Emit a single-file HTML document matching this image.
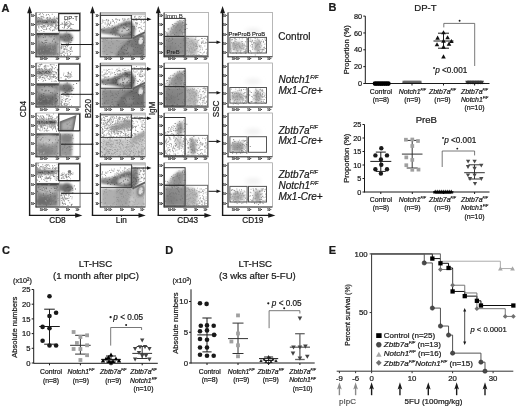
<!DOCTYPE html>
<html><head><meta charset="utf-8"><style>
html,body{margin:0;padding:0;background:#fff;}
body{width:520px;height:407px;overflow:hidden;}
svg{display:block;font-family:"Liberation Sans",sans-serif;will-change:transform;filter:blur(0.3px);}
text{stroke:#1a1a1a;stroke-width:0.22px;}
</style></head><body>
<svg width="520" height="407" viewBox="0 0 520 407">
<rect width="520" height="407" fill="#fff"/>
<defs>
<filter id="b0_5" x="-50%" y="-50%" width="200%" height="200%"><feGaussianBlur stdDeviation="0.5"/></filter>
<filter id="b0_6" x="-50%" y="-50%" width="200%" height="200%"><feGaussianBlur stdDeviation="0.6"/></filter>
<filter id="b0_7" x="-50%" y="-50%" width="200%" height="200%"><feGaussianBlur stdDeviation="0.7"/></filter>
<filter id="b0_8" x="-50%" y="-50%" width="200%" height="200%"><feGaussianBlur stdDeviation="0.8"/></filter>
<filter id="b0_9" x="-50%" y="-50%" width="200%" height="200%"><feGaussianBlur stdDeviation="0.9"/></filter>
<filter id="b1_0" x="-50%" y="-50%" width="200%" height="200%"><feGaussianBlur stdDeviation="1.0"/></filter>
<filter id="b1_1" x="-50%" y="-50%" width="200%" height="200%"><feGaussianBlur stdDeviation="1.1"/></filter>
<filter id="b1_2" x="-50%" y="-50%" width="200%" height="200%"><feGaussianBlur stdDeviation="1.2"/></filter>
<filter id="b1_3" x="-50%" y="-50%" width="200%" height="200%"><feGaussianBlur stdDeviation="1.3"/></filter>
<filter id="b1_4" x="-50%" y="-50%" width="200%" height="200%"><feGaussianBlur stdDeviation="1.4"/></filter>
<filter id="b1_5" x="-50%" y="-50%" width="200%" height="200%"><feGaussianBlur stdDeviation="1.5"/></filter>
<filter id="b1_6" x="-50%" y="-50%" width="200%" height="200%"><feGaussianBlur stdDeviation="1.6"/></filter>
<filter id="b1_8" x="-50%" y="-50%" width="200%" height="200%"><feGaussianBlur stdDeviation="1.8"/></filter>
<filter id="b2_0" x="-50%" y="-50%" width="200%" height="200%"><feGaussianBlur stdDeviation="2.0"/></filter>
<filter id="dsoft" x="-10%" y="-10%" width="120%" height="120%"><feGaussianBlur stdDeviation="0.28"/></filter>
<clipPath id="c00"><rect x="36.0" y="12.6" width="44.5" height="44.199999999999996"/></clipPath>
<clipPath id="c01"><rect x="100.3" y="12.6" width="45.000000000000014" height="44.199999999999996"/></clipPath>
<clipPath id="c02"><rect x="164.1" y="12.6" width="44.400000000000006" height="44.199999999999996"/></clipPath>
<clipPath id="c03"><rect x="228.0" y="12.6" width="44.39999999999998" height="44.199999999999996"/></clipPath>
<clipPath id="c10"><rect x="36.0" y="63.0" width="44.5" height="44.0"/></clipPath>
<clipPath id="c11"><rect x="100.3" y="63.0" width="45.000000000000014" height="44.0"/></clipPath>
<clipPath id="c12"><rect x="164.1" y="63.0" width="44.400000000000006" height="44.0"/></clipPath>
<clipPath id="c13"><rect x="228.0" y="63.0" width="44.39999999999998" height="44.0"/></clipPath>
<clipPath id="c20"><rect x="36.0" y="113.0" width="44.5" height="43.80000000000001"/></clipPath>
<clipPath id="c21"><rect x="100.3" y="113.0" width="45.000000000000014" height="43.80000000000001"/></clipPath>
<clipPath id="c22"><rect x="164.1" y="113.0" width="44.400000000000006" height="43.80000000000001"/></clipPath>
<clipPath id="c23"><rect x="228.0" y="113.0" width="44.39999999999998" height="43.80000000000001"/></clipPath>
<clipPath id="c30"><rect x="36.0" y="162.8" width="44.5" height="44.19999999999999"/></clipPath>
<clipPath id="c31"><rect x="100.3" y="162.8" width="45.000000000000014" height="44.19999999999999"/></clipPath>
<clipPath id="c32"><rect x="164.1" y="162.8" width="44.400000000000006" height="44.19999999999999"/></clipPath>
<clipPath id="c33"><rect x="228.0" y="162.8" width="44.39999999999998" height="44.19999999999999"/></clipPath>
</defs>
<g clip-path="url(#c00)"><g transform="translate(0 0.00)">
<polygon points="37.00,19.80 55.50,20.00 57.50,21.80 55.50,23.80 37.00,24.00" fill="rgb(110,110,110)" opacity="1.0" filter="url(#b0_8)"/>
<polygon points="37.00,20.50 54.50,20.70 56.50,21.80 54.50,23.10 37.00,23.30" fill="rgb(85,85,85)" opacity="0.9" filter="url(#b0_6)"/>
<polygon points="36.50,34.00 58.50,34.00 59.20,45.00 58.50,56.00 36.50,56.00" fill="rgb(132,132,132)" opacity="1.0" filter="url(#b0_9)"/>
<ellipse cx="47.50" cy="40.00" rx="10.00" ry="4.20" fill="rgb(187,187,187)" opacity="1.0" filter="url(#b1_5)"/>
<ellipse cx="44.00" cy="51.00" rx="9.00" ry="4.20" fill="rgb(107,107,107)" opacity="0.9" filter="url(#b2_0)"/>
<polygon points="36.50,32.90 59.00,32.90 59.00,35.30 36.50,35.30" fill="rgb(70,70,70)" opacity="1.0" filter="url(#b0_5)"/>
<polygon points="57.50,40.00 60.50,40.00 60.50,56.00 57.50,56.00" fill="rgb(185,185,185)" opacity="1.0" filter="url(#b0_8)"/>
<polygon points="58.00,34.00 62.00,33.00 63.00,40.00 58.50,41.00" fill="rgb(130,130,130)" opacity="1.0" filter="url(#b0_8)"/>
<ellipse cx="66.80" cy="37.80" rx="6.20" ry="5.00" fill="rgb(118,118,118)" opacity="1.0" filter="url(#b1_1)"/>
<g filter="url(#dsoft)">
<path fill="rgb(140,140,140)" d="M46.5 23.1h0.9v0.9h-0.9zM56.8 21.4h0.9v0.9h-0.9zM47.7 23.6h0.9v0.9h-0.9zM40.6 22.2h0.9v0.9h-0.9zM50.4 27.3h0.9v0.9h-0.9zM38.6 18.5h0.9v0.9h-0.9zM38.5 27.6h0.9v0.9h-0.9zM51.8 13.8h0.9v0.9h-0.9zM58.1 30.4h0.9v0.9h-0.9zM50.9 24.1h0.9v0.9h-0.9zM40.0 13.3h0.9v0.9h-0.9zM48.1 14.1h0.9v0.9h-0.9zM40.7 17.4h0.9v0.9h-0.9zM37.2 21.4h0.9v0.9h-0.9zM46.2 28.2h0.9v0.9h-0.9zM47.9 24.5h0.9v0.9h-0.9zM47.5 24.9h0.9v0.9h-0.9zM46.6 18.0h0.9v0.9h-0.9zM58.4 30.9h0.9v0.9h-0.9zM55.0 25.7h0.9v0.9h-0.9zM43.4 17.1h0.9v0.9h-0.9zM42.9 14.3h0.9v0.9h-0.9zM53.4 20.2h0.9v0.9h-0.9zM55.1 20.0h0.9v0.9h-0.9zM57.6 28.3h0.9v0.9h-0.9zM36.5 16.8h0.9v0.9h-0.9zM56.5 21.5h0.9v0.9h-0.9zM58.1 20.2h0.9v0.9h-0.9zM38.1 24.3h0.9v0.9h-0.9zM53.6 17.9h0.9v0.9h-0.9zM38.4 19.0h0.9v0.9h-0.9zM57.7 26.6h0.9v0.9h-0.9zM39.1 17.4h0.9v0.9h-0.9zM38.7 14.1h0.9v0.9h-0.9zM54.0 16.2h0.9v0.9h-0.9zM48.8 21.1h0.9v0.9h-0.9zM40.7 26.2h0.9v0.9h-0.9zM39.4 24.6h0.9v0.9h-0.9zM39.1 20.6h0.9v0.9h-0.9zM41.2 17.9h0.9v0.9h-0.9zM57.9 27.5h0.9v0.9h-0.9zM43.2 28.9h0.9v0.9h-0.9zM41.1 20.1h0.9v0.9h-0.9zM55.3 24.6h0.9v0.9h-0.9zM38.7 30.8h0.9v0.9h-0.9zM41.2 17.6h0.9v0.9h-0.9zM53.5 18.9h0.9v0.9h-0.9zM43.0 14.3h0.9v0.9h-0.9zM38.5 23.5h0.9v0.9h-0.9zM41.8 23.8h0.9v0.9h-0.9zM44.7 21.2h0.9v0.9h-0.9zM57.6 21.7h0.9v0.9h-0.9zM49.1 28.6h0.9v0.9h-0.9zM40.5 15.8h0.9v0.9h-0.9zM56.5 27.7h0.9v0.9h-0.9zM42.0 16.4h0.9v0.9h-0.9zM52.8 29.9h0.9v0.9h-0.9zM40.8 30.1h0.9v0.9h-0.9zM55.9 23.9h0.9v0.9h-0.9zM45.8 14.9h0.9v0.9h-0.9zM37.4 30.3h0.9v0.9h-0.9zM41.7 25.7h0.9v0.9h-0.9zM42.2 27.8h0.9v0.9h-0.9zM49.6 18.3h0.9v0.9h-0.9zM40.4 26.0h0.9v0.9h-0.9zM38.0 17.1h0.9v0.9h-0.9zM48.8 28.3h0.9v0.9h-0.9zM50.0 18.0h0.9v0.9h-0.9zM56.7 16.7h0.9v0.9h-0.9zM36.9 17.8h0.9v0.9h-0.9zM46.3 14.1h0.9v0.9h-0.9zM40.4 19.6h0.9v0.9h-0.9zM49.1 15.4h0.9v0.9h-0.9zM44.5 29.0h0.9v0.9h-0.9zM58.1 24.8h0.9v0.9h-0.9zM51.7 23.5h0.9v0.9h-0.9zM39.6 13.6h0.9v0.9h-0.9zM36.9 29.4h0.9v0.9h-0.9zM51.9 30.3h0.9v0.9h-0.9zM37.0 24.5h0.9v0.9h-0.9zM47.1 26.1h0.9v0.9h-0.9zM43.5 31.0h0.9v0.9h-0.9zM38.2 22.8h0.9v0.9h-0.9zM52.7 29.2h0.9v0.9h-0.9zM52.7 25.7h0.9v0.9h-0.9zM54.0 29.5h0.9v0.9h-0.9zM44.2 25.3h0.9v0.9h-0.9zM56.3 28.7h0.9v0.9h-0.9zM45.7 27.2h0.9v0.9h-0.9zM55.5 23.3h0.9v0.9h-0.9zM50.2 19.9h0.9v0.9h-0.9zM49.3 24.0h0.9v0.9h-0.9zM38.3 24.5h0.9v0.9h-0.9zM58.4 28.8h0.9v0.9h-0.9zM52.5 20.0h0.9v0.9h-0.9zM52.7 23.5h0.9v0.9h-0.9zM46.2 28.1h0.9v0.9h-0.9zM38.3 26.5h0.9v0.9h-0.9zM37.2 23.8h0.9v0.9h-0.9zM47.1 17.1h0.9v0.9h-0.9zM51.9 22.0h0.9v0.9h-0.9zM50.0 29.6h0.9v0.9h-0.9zM42.1 13.2h0.9v0.9h-0.9zM43.1 25.2h0.9v0.9h-0.9zM41.0 16.1h0.9v0.9h-0.9zM56.4 24.9h0.9v0.9h-0.9zM46.2 29.1h0.9v0.9h-0.9zM43.7 25.0h0.9v0.9h-0.9zM40.9 20.8h0.9v0.9h-0.9zM54.2 29.5h0.9v0.9h-0.9zM55.9 19.9h0.9v0.9h-0.9zM49.3 18.7h0.9v0.9h-0.9zM39.5 21.9h0.9v0.9h-0.9zM54.9 28.3h0.9v0.9h-0.9zM52.1 30.1h0.9v0.9h-0.9zM42.6 16.0h0.9v0.9h-0.9zM46.4 18.0h0.9v0.9h-0.9zM41.2 20.5h0.9v0.9h-0.9zM50.3 22.4h0.9v0.9h-0.9zM43.4 26.2h0.9v0.9h-0.9zM58.1 22.0h0.9v0.9h-0.9zM38.1 17.3h0.9v0.9h-0.9zM55.7 17.5h0.9v0.9h-0.9zM52.1 23.3h0.9v0.9h-0.9zM43.3 25.7h0.9v0.9h-0.9zM36.9 18.5h0.9v0.9h-0.9zM46.5 17.3h0.9v0.9h-0.9zM54.8 19.6h0.9v0.9h-0.9zM39.6 17.5h0.9v0.9h-0.9zM50.3 21.9h0.9v0.9h-0.9zM50.4 24.2h0.9v0.9h-0.9zM54.3 27.5h0.9v0.9h-0.9zM51.6 19.2h0.9v0.9h-0.9zM47.0 19.0h0.9v0.9h-0.9zM36.7 22.2h0.9v0.9h-0.9zM52.2 19.0h0.9v0.9h-0.9zM42.5 20.8h0.9v0.9h-0.9zM51.8 22.7h0.9v0.9h-0.9zM50.0 25.3h0.9v0.9h-0.9zM45.2 25.7h0.9v0.9h-0.9zM56.4 18.0h0.9v0.9h-0.9zM57.0 24.9h0.9v0.9h-0.9zM39.4 22.0h0.9v0.9h-0.9zM50.3 27.0h0.9v0.9h-0.9zM44.8 23.3h0.9v0.9h-0.9zM55.8 25.8h0.9v0.9h-0.9zM57.3 22.1h0.9v0.9h-0.9zM50.8 19.3h0.9v0.9h-0.9zM52.4 26.0h0.9v0.9h-0.9zM50.6 24.9h0.9v0.9h-0.9zM41.2 26.9h0.9v0.9h-0.9zM58.1 27.8h0.9v0.9h-0.9zM48.3 25.7h0.9v0.9h-0.9zM43.5 27.0h0.9v0.9h-0.9zM55.3 20.8h0.9v0.9h-0.9zM38.3 21.8h0.9v0.9h-0.9zM48.6 25.5h0.9v0.9h-0.9zM47.2 17.3h0.9v0.9h-0.9zM54.3 17.7h0.9v0.9h-0.9zM54.1 18.9h0.9v0.9h-0.9zM43.9 25.7h0.9v0.9h-0.9zM39.6 18.6h0.9v0.9h-0.9zM47.9 25.0h0.9v0.9h-0.9zM55.0 24.6h0.9v0.9h-0.9zM57.3 22.4h0.9v0.9h-0.9zM57.4 17.9h0.9v0.9h-0.9zM41.4 22.8h0.9v0.9h-0.9zM42.9 25.0h0.9v0.9h-0.9zM50.6 22.8h0.9v0.9h-0.9zM55.1 23.2h0.9v0.9h-0.9zM43.4 21.2h0.9v0.9h-0.9zM55.1 26.9h0.9v0.9h-0.9zM41.1 26.4h0.9v0.9h-0.9zM57.8 22.8h0.9v0.9h-0.9zM49.1 19.2h0.9v0.9h-0.9zM48.3 22.5h0.9v0.9h-0.9zM49.8 17.3h0.9v0.9h-0.9zM57.8 22.7h0.9v0.9h-0.9zM45.3 25.8h0.9v0.9h-0.9zM48.9 22.4h0.9v0.9h-0.9zM51.7 17.7h0.9v0.9h-0.9zM48.4 21.6h0.9v0.9h-0.9zM57.6 27.2h0.9v0.9h-0.9zM42.4 22.2h0.9v0.9h-0.9zM39.3 21.8h0.9v0.9h-0.9zM54.4 26.9h0.9v0.9h-0.9zM47.0 20.5h0.9v0.9h-0.9zM40.7 23.8h0.9v0.9h-0.9zM56.9 18.4h0.9v0.9h-0.9zM53.6 17.3h0.9v0.9h-0.9zM65.0 46.6h0.9v0.9h-0.9zM71.6 51.1h0.9v0.9h-0.9zM66.2 49.3h0.9v0.9h-0.9zM68.8 51.6h0.9v0.9h-0.9zM71.0 47.5h0.9v0.9h-0.9zM70.0 51.0h0.9v0.9h-0.9zM70.3 52.9h0.9v0.9h-0.9zM70.1 54.0h0.9v0.9h-0.9zM71.5 50.6h0.9v0.9h-0.9zM66.5 51.6h0.9v0.9h-0.9zM69.7 47.7h0.9v0.9h-0.9zM65.3 44.0h0.9v0.9h-0.9zM69.0 55.4h0.9v0.9h-0.9zM64.8 44.3h0.9v0.9h-0.9zM62.9 47.7h0.9v0.9h-0.9zM63.9 55.1h0.9v0.9h-0.9zM61.2 46.2h0.9v0.9h-0.9zM61.8 50.7h0.9v0.9h-0.9zM69.4 44.4h0.9v0.9h-0.9zM61.2 48.2h0.9v0.9h-0.9zM67.2 54.3h0.9v0.9h-0.9zM60.9 43.5h0.9v0.9h-0.9zM62.6 44.9h0.9v0.9h-0.9zM63.2 51.7h0.9v0.9h-0.9zM67.3 45.0h0.9v0.9h-0.9zM62.6 45.8h0.9v0.9h-0.9zM62.5 52.2h0.9v0.9h-0.9zM64.1 49.4h0.9v0.9h-0.9zM69.9 48.5h0.9v0.9h-0.9zM63.5 54.0h0.9v0.9h-0.9zM71.0 46.6h0.9v0.9h-0.9zM66.8 54.9h0.9v0.9h-0.9zM66.1 45.0h0.9v0.9h-0.9zM61.1 54.8h0.9v0.9h-0.9zM69.7 47.2h0.9v0.9h-0.9zM66.6 49.0h0.9v0.9h-0.9zM63.7 55.4h0.9v0.9h-0.9zM68.1 45.2h0.9v0.9h-0.9zM60.6 48.4h0.9v0.9h-0.9zM64.8 52.8h0.9v0.9h-0.9zM68.7 50.2h0.9v0.9h-0.9zM62.3 44.1h0.9v0.9h-0.9zM64.2 45.5h0.9v0.9h-0.9zM70.5 49.0h0.9v0.9h-0.9zM67.8 55.4h0.9v0.9h-0.9zM63.6 49.2h0.9v0.9h-0.9zM61.6 52.4h0.9v0.9h-0.9zM60.5 53.1h0.9v0.9h-0.9zM66.8 53.1h0.9v0.9h-0.9zM61.1 45.6h0.9v0.9h-0.9zM65.9 43.3h0.9v0.9h-0.9zM64.1 48.3h0.9v0.9h-0.9zM67.7 49.9h0.9v0.9h-0.9zM66.9 46.1h0.9v0.9h-0.9zM66.4 47.6h0.9v0.9h-0.9zM67.4 43.2h0.9v0.9h-0.9zM66.7 44.8h0.9v0.9h-0.9zM64.6 49.1h0.9v0.9h-0.9zM61.7 53.2h0.9v0.9h-0.9zM62.8 46.2h0.9v0.9h-0.9zM61.1 46.1h0.9v0.9h-0.9zM64.0 51.7h0.9v0.9h-0.9zM63.2 51.3h0.9v0.9h-0.9zM61.3 47.3h0.9v0.9h-0.9zM64.0 55.1h0.9v0.9h-0.9zM66.7 50.8h0.9v0.9h-0.9zM60.6 47.1h0.9v0.9h-0.9zM65.8 45.2h0.9v0.9h-0.9zM64.7 48.2h0.9v0.9h-0.9zM60.6 55.4h0.9v0.9h-0.9zM66.5 44.8h0.9v0.9h-0.9zM65.1 45.9h0.9v0.9h-0.9zM63.3 49.3h0.9v0.9h-0.9zM62.7 46.6h0.9v0.9h-0.9zM63.4 51.0h0.9v0.9h-0.9zM62.4 44.7h0.9v0.9h-0.9zM66.1 22.1h0.9v0.9h-0.9zM70.9 23.3h0.9v0.9h-0.9zM66.0 22.1h0.9v0.9h-0.9zM67.2 23.4h0.9v0.9h-0.9zM67.5 25.4h0.9v0.9h-0.9zM64.0 20.7h0.9v0.9h-0.9zM68.1 27.0h0.9v0.9h-0.9zM69.0 21.4h0.9v0.9h-0.9zM68.7 25.5h0.9v0.9h-0.9zM67.5 25.7h0.9v0.9h-0.9zM65.3 25.1h0.9v0.9h-0.9zM69.8 23.1h0.9v0.9h-0.9zM61.3 24.2h0.9v0.9h-0.9zM67.2 19.5h0.9v0.9h-0.9zM64.1 26.1h0.9v0.9h-0.9zM66.0 24.7h0.9v0.9h-0.9zM62.0 26.9h0.9v0.9h-0.9zM72.8 24.0h0.9v0.9h-0.9zM63.9 21.4h0.9v0.9h-0.9zM69.7 24.8h0.9v0.9h-0.9zM63.6 27.8h0.9v0.9h-0.9zM69.3 26.1h0.9v0.9h-0.9zM60.2 24.2h0.9v0.9h-0.9zM68.8 21.2h0.9v0.9h-0.9zM69.8 28.4h0.9v0.9h-0.9zM70.2 22.6h0.9v0.9h-0.9zM64.0 27.0h0.9v0.9h-0.9zM70.1 27.8h0.9v0.9h-0.9zM70.8 24.2h0.9v0.9h-0.9zM65.0 19.5h0.9v0.9h-0.9zM69.3 30.6h0.9v0.9h-0.9zM64.8 23.2h0.9v0.9h-0.9zM68.8 25.5h0.9v0.9h-0.9zM61.6 22.6h0.9v0.9h-0.9zM62.5 30.0h0.9v0.9h-0.9zM63.9 26.8h0.9v0.9h-0.9zM73.4 29.6h0.9v0.9h-0.9zM71.6 28.9h0.9v0.9h-0.9zM62.1 23.6h0.9v0.9h-0.9zM63.9 23.7h0.9v0.9h-0.9zM75.9 20.0h0.9v0.9h-0.9zM68.5 21.2h0.9v0.9h-0.9zM71.3 28.0h0.9v0.9h-0.9zM64.7 30.1h0.9v0.9h-0.9zM66.8 28.0h0.9v0.9h-0.9zM67.6 23.0h0.9v0.9h-0.9zM65.1 24.2h0.9v0.9h-0.9zM68.7 24.8h0.9v0.9h-0.9zM72.2 24.2h0.9v0.9h-0.9zM65.4 23.2h0.9v0.9h-0.9zM64.6 21.9h0.9v0.9h-0.9zM64.1 26.1h0.9v0.9h-0.9zM66.6 24.2h0.9v0.9h-0.9zM67.3 26.4h0.9v0.9h-0.9zM68.0 25.9h0.9v0.9h-0.9zM65.2 24.0h0.9v0.9h-0.9zM64.6 24.3h0.9v0.9h-0.9zM64.5 23.8h0.9v0.9h-0.9zM66.1 24.1h0.9v0.9h-0.9zM65.9 23.6h0.9v0.9h-0.9zM69.6 23.9h0.9v0.9h-0.9zM64.1 24.8h0.9v0.9h-0.9zM63.9 22.6h0.9v0.9h-0.9zM66.7 21.5h0.9v0.9h-0.9zM58.8 25.0h0.9v0.9h-0.9zM69.0 21.5h0.9v0.9h-0.9zM64.3 25.5h0.9v0.9h-0.9zM61.7 22.9h0.9v0.9h-0.9zM63.6 24.1h0.9v0.9h-0.9z"/>
<path fill="rgb(150,150,150)" d="M41.0 19.5h0.9v0.9h-0.9zM51.1 20.4h0.9v0.9h-0.9zM44.3 23.1h0.9v0.9h-0.9zM39.2 24.1h0.9v0.9h-0.9zM39.5 22.1h0.9v0.9h-0.9zM42.1 19.3h0.9v0.9h-0.9zM47.9 21.4h0.9v0.9h-0.9zM44.7 21.2h0.9v0.9h-0.9zM47.9 18.9h0.9v0.9h-0.9zM41.2 23.2h0.9v0.9h-0.9zM50.1 22.3h0.9v0.9h-0.9zM54.5 23.0h0.9v0.9h-0.9zM54.6 19.6h0.9v0.9h-0.9zM52.2 24.8h0.9v0.9h-0.9zM55.5 20.3h0.9v0.9h-0.9zM43.5 25.8h0.9v0.9h-0.9zM41.5 26.5h0.9v0.9h-0.9zM55.2 18.7h0.9v0.9h-0.9zM41.9 24.0h0.9v0.9h-0.9zM42.3 18.4h0.9v0.9h-0.9zM54.1 21.3h0.9v0.9h-0.9zM53.2 18.6h0.9v0.9h-0.9zM45.3 23.7h0.9v0.9h-0.9zM37.4 19.3h0.9v0.9h-0.9zM51.0 25.7h0.9v0.9h-0.9zM56.9 18.5h0.9v0.9h-0.9zM47.4 24.3h0.9v0.9h-0.9zM47.3 23.7h0.9v0.9h-0.9zM40.9 18.1h0.9v0.9h-0.9zM39.2 17.8h0.9v0.9h-0.9zM48.3 22.1h0.9v0.9h-0.9zM48.7 18.8h0.9v0.9h-0.9zM40.8 19.3h0.9v0.9h-0.9zM54.2 26.4h0.9v0.9h-0.9zM56.0 18.4h0.9v0.9h-0.9zM38.3 26.1h0.9v0.9h-0.9zM46.5 24.4h0.9v0.9h-0.9zM43.7 21.7h0.9v0.9h-0.9zM47.6 21.4h0.9v0.9h-0.9zM49.3 17.6h0.9v0.9h-0.9zM51.4 25.1h0.9v0.9h-0.9zM40.7 21.6h0.9v0.9h-0.9zM52.2 21.1h0.9v0.9h-0.9zM41.0 19.0h0.9v0.9h-0.9zM47.5 17.6h0.9v0.9h-0.9zM55.3 24.7h0.9v0.9h-0.9zM51.4 25.2h0.9v0.9h-0.9zM49.9 21.1h0.9v0.9h-0.9zM49.3 22.0h0.9v0.9h-0.9zM57.1 24.7h0.9v0.9h-0.9zM42.3 25.7h0.9v0.9h-0.9zM52.3 24.5h0.9v0.9h-0.9zM53.7 21.2h0.9v0.9h-0.9zM55.4 25.4h0.9v0.9h-0.9zM51.2 24.4h0.9v0.9h-0.9z"/>
<path fill="rgb(152,152,152)" d="M53.9 42.9h0.9v0.9h-0.9zM52.9 35.6h0.9v0.9h-0.9zM44.3 44.3h0.9v0.9h-0.9zM36.7 41.8h0.9v0.9h-0.9zM51.0 47.7h0.9v0.9h-0.9zM41.8 54.8h0.9v0.9h-0.9zM51.6 41.4h0.9v0.9h-0.9zM51.5 46.5h0.9v0.9h-0.9zM48.6 42.6h0.9v0.9h-0.9zM52.4 50.8h0.9v0.9h-0.9zM50.5 50.3h0.9v0.9h-0.9zM42.3 42.8h0.9v0.9h-0.9zM37.6 38.3h0.9v0.9h-0.9zM45.0 36.2h0.9v0.9h-0.9zM42.2 53.9h0.9v0.9h-0.9zM49.0 45.2h0.9v0.9h-0.9zM58.5 46.5h0.9v0.9h-0.9zM54.9 35.7h0.9v0.9h-0.9zM50.1 50.7h0.9v0.9h-0.9zM37.5 54.5h0.9v0.9h-0.9zM40.1 44.4h0.9v0.9h-0.9zM40.3 44.9h0.9v0.9h-0.9zM50.4 35.3h0.9v0.9h-0.9zM58.0 43.3h0.9v0.9h-0.9zM48.5 47.2h0.9v0.9h-0.9zM44.8 40.3h0.9v0.9h-0.9zM51.4 46.3h0.9v0.9h-0.9zM42.9 49.8h0.9v0.9h-0.9zM43.2 34.3h0.9v0.9h-0.9zM42.1 34.9h0.9v0.9h-0.9zM40.1 50.6h0.9v0.9h-0.9zM45.4 53.7h0.9v0.9h-0.9zM53.5 35.1h0.9v0.9h-0.9zM38.2 53.9h0.9v0.9h-0.9zM46.3 44.5h0.9v0.9h-0.9zM58.6 39.4h0.9v0.9h-0.9zM48.4 54.6h0.9v0.9h-0.9zM52.9 44.3h0.9v0.9h-0.9zM58.7 52.0h0.9v0.9h-0.9zM50.2 36.5h0.9v0.9h-0.9zM50.7 44.0h0.9v0.9h-0.9zM41.1 35.1h0.9v0.9h-0.9zM48.5 36.7h0.9v0.9h-0.9zM46.6 48.7h0.9v0.9h-0.9zM46.8 39.8h0.9v0.9h-0.9z"/>
<path fill="rgb(107,107,107)" d="M49.7 43.2h0.9v0.9h-0.9zM54.2 45.7h0.9v0.9h-0.9zM53.2 39.2h0.9v0.9h-0.9zM39.1 53.6h0.9v0.9h-0.9zM54.3 47.7h0.9v0.9h-0.9zM44.7 40.0h0.9v0.9h-0.9zM52.1 46.4h0.9v0.9h-0.9zM49.9 47.9h0.9v0.9h-0.9zM53.6 38.2h0.9v0.9h-0.9zM42.2 55.6h0.9v0.9h-0.9zM57.3 53.3h0.9v0.9h-0.9zM37.4 35.3h0.9v0.9h-0.9zM42.7 43.4h0.9v0.9h-0.9zM50.7 36.3h0.9v0.9h-0.9zM48.8 35.6h0.9v0.9h-0.9zM38.5 48.9h0.9v0.9h-0.9zM49.0 47.9h0.9v0.9h-0.9zM45.0 44.5h0.9v0.9h-0.9zM41.3 41.6h0.9v0.9h-0.9zM53.4 52.4h0.9v0.9h-0.9zM38.2 36.6h0.9v0.9h-0.9zM54.9 47.7h0.9v0.9h-0.9zM54.0 38.7h0.9v0.9h-0.9zM46.1 39.7h0.9v0.9h-0.9zM54.9 42.1h0.9v0.9h-0.9zM51.3 55.8h0.9v0.9h-0.9zM43.9 46.1h0.9v0.9h-0.9zM53.4 54.3h0.9v0.9h-0.9zM46.2 42.1h0.9v0.9h-0.9zM38.7 53.3h0.9v0.9h-0.9zM38.3 35.8h0.9v0.9h-0.9zM49.3 44.7h0.9v0.9h-0.9zM52.1 40.6h0.9v0.9h-0.9zM54.1 35.7h0.9v0.9h-0.9zM41.3 48.6h0.9v0.9h-0.9zM38.4 40.7h0.9v0.9h-0.9zM53.0 49.3h0.9v0.9h-0.9zM42.9 37.1h0.9v0.9h-0.9zM44.6 50.0h0.9v0.9h-0.9zM44.8 36.6h0.9v0.9h-0.9zM52.6 46.5h0.9v0.9h-0.9zM57.4 54.7h0.9v0.9h-0.9zM57.2 43.6h0.9v0.9h-0.9zM54.7 40.7h0.9v0.9h-0.9zM43.7 42.8h0.9v0.9h-0.9zM57.7 53.7h0.9v0.9h-0.9zM42.1 42.0h0.9v0.9h-0.9zM44.8 42.0h0.9v0.9h-0.9z"/>
<path fill="rgb(93,93,93)" d="M63.9 39.6h0.9v0.9h-0.9zM68.4 41.4h0.9v0.9h-0.9zM68.2 34.2h0.9v0.9h-0.9zM69.3 34.5h0.9v0.9h-0.9zM69.6 42.3h0.9v0.9h-0.9zM69.0 36.1h0.9v0.9h-0.9zM71.2 38.3h0.9v0.9h-0.9zM62.2 36.7h0.9v0.9h-0.9zM72.1 36.9h0.9v0.9h-0.9zM67.3 36.8h0.9v0.9h-0.9zM60.5 36.3h0.9v0.9h-0.9zM68.1 38.4h0.9v0.9h-0.9zM66.2 31.4h0.9v0.9h-0.9zM71.3 40.0h0.9v0.9h-0.9zM70.6 41.7h0.9v0.9h-0.9zM65.1 36.0h0.9v0.9h-0.9zM68.0 42.8h0.9v0.9h-0.9zM60.5 37.1h0.9v0.9h-0.9z"/>
</g>
</g></g>
<g clip-path="url(#c01)"><g transform="translate(0 0.00)">
<polygon points="100.80,12.80 145.00,12.80 145.00,15.20 100.80,15.20" fill="rgb(198,198,198)" opacity="1.0" filter="url(#b0_5)"/>
<polygon points="101.00,38.00 132.00,38.00 124.00,56.50 101.00,56.50" fill="rgb(165,165,165)" opacity="1.0" filter="url(#b1_4)"/>
<polygon points="101.00,29.00 110.00,28.00 118.00,25.00 125.00,21.50 131.00,20.50 135.50,28.00 134.00,38.00 124.00,37.60 114.00,35.00 101.00,33.00" fill="rgb(112,112,112)" opacity="1.0" filter="url(#b0_9)"/>
<ellipse cx="124.00" cy="30.50" rx="6.50" ry="3.80" fill="rgb(200,200,200)" opacity="1.0" filter="url(#b1_1)" transform="rotate(-12 124.00 30.50)"/>
<ellipse cx="107.00" cy="31.00" rx="5.00" ry="1.30" fill="rgb(150,150,150)" opacity="1.0" filter="url(#b0_9)" transform="rotate(-4 107.00 31.00)"/>
<polygon points="115.00,56.50 121.00,47.00 128.00,40.00 134.00,37.50 145.00,33.00 145.00,56.50" fill="rgb(120,120,120)" opacity="1.0" filter="url(#b1_2)"/>
<ellipse cx="129.00" cy="50.00" rx="5.00" ry="4.00" fill="rgb(150,150,150)" opacity="0.8" filter="url(#b1_6)"/>
<ellipse cx="140.80" cy="40.80" rx="3.80" ry="5.60" fill="rgb(110,110,110)" opacity="1.0" filter="url(#b0_8)" transform="rotate(12 140.80 40.80)"/>
<ellipse cx="140.80" cy="40.80" rx="2.20" ry="3.80" fill="rgb(225,225,225)" opacity="1.0" filter="url(#b0_7)" transform="rotate(12 140.80 40.80)"/>
<polygon points="132.00,37.60 145.00,31.30 145.00,33.30 133.00,39.40" fill="rgb(95,95,95)" opacity="1.0" filter="url(#b0_6)"/>
<g filter="url(#dsoft)">
<path fill="rgb(150,150,150)" d="M114.0 28.7h0.9v0.9h-0.9zM123.0 24.4h0.9v0.9h-0.9zM123.6 20.3h0.9v0.9h-0.9zM104.7 22.3h0.9v0.9h-0.9zM116.1 21.6h0.9v0.9h-0.9zM102.6 25.7h0.9v0.9h-0.9zM116.8 19.3h0.9v0.9h-0.9zM110.2 21.5h0.9v0.9h-0.9zM113.6 27.3h0.9v0.9h-0.9zM107.7 26.5h0.9v0.9h-0.9zM104.0 27.1h0.9v0.9h-0.9zM104.7 23.5h0.9v0.9h-0.9zM108.3 20.2h0.9v0.9h-0.9zM112.9 21.0h0.9v0.9h-0.9zM101.9 28.6h0.9v0.9h-0.9zM110.2 23.0h0.9v0.9h-0.9zM115.2 18.9h0.9v0.9h-0.9zM109.9 28.9h0.9v0.9h-0.9zM127.9 18.7h0.9v0.9h-0.9zM126.1 21.0h0.9v0.9h-0.9zM115.2 18.4h0.9v0.9h-0.9zM107.1 24.9h0.9v0.9h-0.9zM106.7 28.3h0.9v0.9h-0.9zM122.8 20.4h0.9v0.9h-0.9zM122.4 17.9h0.9v0.9h-0.9zM107.7 20.3h0.9v0.9h-0.9zM122.3 18.8h0.9v0.9h-0.9zM106.4 19.3h0.9v0.9h-0.9zM120.9 27.1h0.9v0.9h-0.9zM112.2 25.3h0.9v0.9h-0.9zM127.5 24.3h0.9v0.9h-0.9zM107.9 20.2h0.9v0.9h-0.9zM128.8 25.3h0.9v0.9h-0.9zM109.3 25.0h0.9v0.9h-0.9zM114.2 23.4h0.9v0.9h-0.9zM119.0 20.0h0.9v0.9h-0.9zM108.5 27.2h0.9v0.9h-0.9zM103.6 20.0h0.9v0.9h-0.9zM123.7 19.4h0.9v0.9h-0.9zM109.4 23.7h0.9v0.9h-0.9zM106.6 28.6h0.9v0.9h-0.9zM130.6 16.5h0.9v0.9h-0.9zM114.8 26.5h0.9v0.9h-0.9zM116.0 18.5h0.9v0.9h-0.9zM117.7 25.0h0.9v0.9h-0.9zM111.8 25.2h0.9v0.9h-0.9zM124.5 23.2h0.9v0.9h-0.9zM116.2 27.8h0.9v0.9h-0.9zM121.5 23.3h0.9v0.9h-0.9zM129.5 18.4h0.9v0.9h-0.9zM124.4 18.3h0.9v0.9h-0.9zM119.2 19.3h0.9v0.9h-0.9zM114.2 26.8h0.9v0.9h-0.9zM124.6 27.1h0.9v0.9h-0.9zM108.1 22.8h0.9v0.9h-0.9zM107.6 24.1h0.9v0.9h-0.9zM118.9 26.0h0.9v0.9h-0.9zM118.2 28.2h0.9v0.9h-0.9zM101.5 22.9h0.9v0.9h-0.9zM114.0 22.2h0.9v0.9h-0.9zM108.9 27.2h0.9v0.9h-0.9zM103.2 28.7h0.9v0.9h-0.9zM118.1 23.6h0.9v0.9h-0.9zM124.7 19.3h0.9v0.9h-0.9zM105.4 20.4h0.9v0.9h-0.9zM102.3 20.4h0.9v0.9h-0.9zM119.6 23.4h0.9v0.9h-0.9zM108.9 24.2h0.9v0.9h-0.9zM103.7 27.5h0.9v0.9h-0.9zM106.1 19.6h0.9v0.9h-0.9zM105.8 25.7h0.9v0.9h-0.9zM125.9 27.0h0.9v0.9h-0.9zM102.8 21.7h0.9v0.9h-0.9zM111.9 19.0h0.9v0.9h-0.9zM130.1 16.6h0.9v0.9h-0.9zM115.7 26.7h0.9v0.9h-0.9zM130.6 18.0h0.9v0.9h-0.9zM114.7 26.4h0.9v0.9h-0.9zM102.2 19.4h0.9v0.9h-0.9zM127.7 18.0h0.9v0.9h-0.9zM112.8 20.2h0.9v0.9h-0.9zM123.9 26.3h0.9v0.9h-0.9zM107.9 19.5h0.9v0.9h-0.9zM117.6 19.4h0.9v0.9h-0.9zM111.9 20.7h0.9v0.9h-0.9zM130.4 24.6h0.9v0.9h-0.9zM102.2 21.6h0.9v0.9h-0.9zM111.3 25.7h0.9v0.9h-0.9zM126.9 24.3h0.9v0.9h-0.9zM127.6 22.5h0.9v0.9h-0.9zM112.8 27.8h0.9v0.9h-0.9zM112.4 26.9h0.9v0.9h-0.9zM107.5 20.9h0.9v0.9h-0.9zM106.5 23.7h0.9v0.9h-0.9zM105.9 18.9h0.9v0.9h-0.9zM107.4 22.5h0.9v0.9h-0.9zM110.3 22.3h0.9v0.9h-0.9zM130.8 25.5h0.9v0.9h-0.9zM126.9 18.9h0.9v0.9h-0.9zM140.7 22.2h0.9v0.9h-0.9zM134.8 15.8h0.9v0.9h-0.9zM133.5 20.4h0.9v0.9h-0.9zM141.0 20.5h0.9v0.9h-0.9zM136.1 18.3h0.9v0.9h-0.9zM144.1 22.2h0.9v0.9h-0.9zM141.7 28.9h0.9v0.9h-0.9zM143.7 15.9h0.9v0.9h-0.9zM135.5 22.6h0.9v0.9h-0.9zM138.3 16.5h0.9v0.9h-0.9zM136.5 19.9h0.9v0.9h-0.9zM139.3 16.1h0.9v0.9h-0.9zM135.4 23.3h0.9v0.9h-0.9zM138.6 18.0h0.9v0.9h-0.9zM140.9 20.3h0.9v0.9h-0.9zM141.2 27.8h0.9v0.9h-0.9zM133.1 19.3h0.9v0.9h-0.9zM136.7 22.7h0.9v0.9h-0.9zM143.1 19.7h0.9v0.9h-0.9zM135.1 21.9h0.9v0.9h-0.9zM134.0 16.3h0.9v0.9h-0.9zM138.9 30.5h0.9v0.9h-0.9zM144.7 21.0h0.9v0.9h-0.9zM140.4 32.5h0.9v0.9h-0.9zM143.2 19.8h0.9v0.9h-0.9zM139.9 17.2h0.9v0.9h-0.9zM137.0 22.8h0.9v0.9h-0.9zM135.6 24.7h0.9v0.9h-0.9zM134.9 18.4h0.9v0.9h-0.9zM136.6 24.3h0.9v0.9h-0.9zM134.4 17.2h0.9v0.9h-0.9zM135.8 23.3h0.9v0.9h-0.9zM140.8 25.7h0.9v0.9h-0.9zM140.8 15.9h0.9v0.9h-0.9zM136.5 22.2h0.9v0.9h-0.9zM139.2 24.2h0.9v0.9h-0.9zM135.6 20.2h0.9v0.9h-0.9zM143.5 26.0h0.9v0.9h-0.9zM136.1 26.2h0.9v0.9h-0.9zM144.2 29.8h0.9v0.9h-0.9zM139.8 27.0h0.9v0.9h-0.9zM136.8 23.2h0.9v0.9h-0.9zM143.3 22.6h0.9v0.9h-0.9zM143.7 16.2h0.9v0.9h-0.9zM135.3 22.2h0.9v0.9h-0.9zM144.7 18.3h0.9v0.9h-0.9zM133.7 19.7h0.9v0.9h-0.9zM140.5 19.8h0.9v0.9h-0.9zM136.5 19.9h0.9v0.9h-0.9zM137.9 27.5h0.9v0.9h-0.9zM138.7 27.1h0.9v0.9h-0.9zM138.9 30.9h0.9v0.9h-0.9zM144.6 21.7h0.9v0.9h-0.9zM135.4 28.7h0.9v0.9h-0.9zM140.7 28.2h0.9v0.9h-0.9zM144.5 30.8h0.9v0.9h-0.9z"/>
<path fill="rgb(140,140,140)" d="M105.9 49.5h0.9v0.9h-0.9zM116.2 48.4h0.9v0.9h-0.9zM112.5 43.3h0.9v0.9h-0.9zM124.2 47.9h0.9v0.9h-0.9zM108.3 42.6h0.9v0.9h-0.9zM111.1 41.3h0.9v0.9h-0.9zM116.9 40.3h0.9v0.9h-0.9zM103.0 39.3h0.9v0.9h-0.9zM104.2 51.0h0.9v0.9h-0.9zM104.5 46.4h0.9v0.9h-0.9zM124.9 46.9h0.9v0.9h-0.9zM106.0 54.0h0.9v0.9h-0.9zM128.0 39.0h0.9v0.9h-0.9zM108.9 47.4h0.9v0.9h-0.9zM125.7 45.3h0.9v0.9h-0.9zM123.2 42.7h0.9v0.9h-0.9zM123.2 44.0h0.9v0.9h-0.9zM111.3 52.0h0.9v0.9h-0.9zM118.6 45.8h0.9v0.9h-0.9zM122.9 49.5h0.9v0.9h-0.9zM104.9 45.0h0.9v0.9h-0.9zM121.8 42.3h0.9v0.9h-0.9zM106.7 38.3h0.9v0.9h-0.9zM119.2 55.4h0.9v0.9h-0.9zM122.3 45.8h0.9v0.9h-0.9zM120.6 45.3h0.9v0.9h-0.9zM102.5 51.2h0.9v0.9h-0.9zM104.7 38.8h0.9v0.9h-0.9zM109.9 51.5h0.9v0.9h-0.9zM111.2 38.5h0.9v0.9h-0.9zM117.8 46.9h0.9v0.9h-0.9zM112.6 43.7h0.9v0.9h-0.9zM109.8 45.2h0.9v0.9h-0.9zM120.2 52.2h0.9v0.9h-0.9zM122.5 48.1h0.9v0.9h-0.9zM125.8 40.7h0.9v0.9h-0.9zM106.4 40.0h0.9v0.9h-0.9zM129.9 42.7h0.9v0.9h-0.9zM116.1 40.2h0.9v0.9h-0.9zM111.0 38.4h0.9v0.9h-0.9zM118.5 40.7h0.9v0.9h-0.9zM120.4 43.1h0.9v0.9h-0.9zM108.1 46.9h0.9v0.9h-0.9zM112.3 42.8h0.9v0.9h-0.9zM102.6 39.2h0.9v0.9h-0.9zM128.7 43.7h0.9v0.9h-0.9zM103.4 41.4h0.9v0.9h-0.9zM116.0 56.4h0.9v0.9h-0.9zM107.3 54.0h0.9v0.9h-0.9zM116.0 45.7h0.9v0.9h-0.9zM126.0 45.3h0.9v0.9h-0.9zM102.8 48.2h0.9v0.9h-0.9zM121.4 49.5h0.9v0.9h-0.9zM109.6 55.4h0.9v0.9h-0.9zM114.7 53.4h0.9v0.9h-0.9zM123.5 41.3h0.9v0.9h-0.9zM101.8 41.1h0.9v0.9h-0.9zM104.7 39.4h0.9v0.9h-0.9zM112.1 51.9h0.9v0.9h-0.9zM110.6 47.5h0.9v0.9h-0.9z"/>
<path fill="rgb(87,87,87)" d="M119.2 34.7h0.9v0.9h-0.9zM128.3 33.4h0.9v0.9h-0.9zM114.8 34.6h0.9v0.9h-0.9zM129.6 33.9h0.9v0.9h-0.9zM133.8 27.5h0.9v0.9h-0.9zM125.3 24.9h0.9v0.9h-0.9zM120.9 24.5h0.9v0.9h-0.9zM114.4 27.0h0.9v0.9h-0.9zM123.7 34.7h0.9v0.9h-0.9zM113.6 31.7h0.9v0.9h-0.9zM132.2 26.1h0.9v0.9h-0.9zM126.6 24.2h0.9v0.9h-0.9zM126.6 30.1h0.9v0.9h-0.9zM124.5 23.6h0.9v0.9h-0.9zM113.1 28.0h0.9v0.9h-0.9zM101.3 29.3h0.9v0.9h-0.9zM112.1 33.7h0.9v0.9h-0.9zM125.4 23.6h0.9v0.9h-0.9zM110.4 32.4h0.9v0.9h-0.9zM133.7 26.1h0.9v0.9h-0.9zM122.9 27.1h0.9v0.9h-0.9zM123.2 24.2h0.9v0.9h-0.9zM122.3 36.0h0.9v0.9h-0.9zM130.5 31.5h0.9v0.9h-0.9zM118.4 30.4h0.9v0.9h-0.9zM124.8 28.4h0.9v0.9h-0.9zM124.0 27.8h0.9v0.9h-0.9zM121.7 30.5h0.9v0.9h-0.9zM122.6 28.3h0.9v0.9h-0.9zM121.5 30.9h0.9v0.9h-0.9zM126.5 26.0h0.9v0.9h-0.9zM130.0 31.9h0.9v0.9h-0.9zM133.4 35.0h0.9v0.9h-0.9zM128.5 29.5h0.9v0.9h-0.9zM131.0 33.0h0.9v0.9h-0.9zM116.7 29.9h0.9v0.9h-0.9zM130.9 23.9h0.9v0.9h-0.9zM110.6 31.8h0.9v0.9h-0.9zM103.5 30.2h0.9v0.9h-0.9zM128.2 29.1h0.9v0.9h-0.9zM130.5 34.0h0.9v0.9h-0.9zM120.0 36.3h0.9v0.9h-0.9zM128.5 23.2h0.9v0.9h-0.9z"/>
<path fill="rgb(95,95,95)" d="M140.9 52.6h0.9v0.9h-0.9zM126.7 53.0h0.9v0.9h-0.9zM133.5 54.2h0.9v0.9h-0.9zM117.2 56.2h0.9v0.9h-0.9zM121.2 47.8h0.9v0.9h-0.9zM141.3 50.1h0.9v0.9h-0.9zM120.9 48.7h0.9v0.9h-0.9zM133.9 39.5h0.9v0.9h-0.9zM133.1 49.3h0.9v0.9h-0.9zM135.8 44.0h0.9v0.9h-0.9zM143.2 47.3h0.9v0.9h-0.9zM144.8 49.3h0.9v0.9h-0.9zM137.1 41.5h0.9v0.9h-0.9zM127.7 52.3h0.9v0.9h-0.9zM127.3 43.7h0.9v0.9h-0.9zM130.2 55.1h0.9v0.9h-0.9zM125.4 49.5h0.9v0.9h-0.9zM122.1 46.6h0.9v0.9h-0.9zM123.5 53.5h0.9v0.9h-0.9zM123.6 53.1h0.9v0.9h-0.9zM135.3 43.7h0.9v0.9h-0.9zM143.0 42.1h0.9v0.9h-0.9zM137.3 47.1h0.9v0.9h-0.9zM128.2 55.4h0.9v0.9h-0.9zM123.8 49.3h0.9v0.9h-0.9zM135.2 38.8h0.9v0.9h-0.9zM141.9 38.9h0.9v0.9h-0.9zM127.6 41.0h0.9v0.9h-0.9zM139.6 53.0h0.9v0.9h-0.9zM132.7 45.8h0.9v0.9h-0.9zM118.0 54.1h0.9v0.9h-0.9zM126.2 50.0h0.9v0.9h-0.9zM135.1 41.1h0.9v0.9h-0.9zM141.9 55.3h0.9v0.9h-0.9zM129.1 41.5h0.9v0.9h-0.9zM128.9 40.4h0.9v0.9h-0.9zM135.1 47.2h0.9v0.9h-0.9zM144.1 55.9h0.9v0.9h-0.9zM144.8 42.3h0.9v0.9h-0.9zM139.9 48.3h0.9v0.9h-0.9zM136.0 56.4h0.9v0.9h-0.9zM127.0 48.4h0.9v0.9h-0.9zM121.5 56.3h0.9v0.9h-0.9zM133.7 50.4h0.9v0.9h-0.9zM122.6 52.1h0.9v0.9h-0.9zM136.9 51.2h0.9v0.9h-0.9zM143.3 54.1h0.9v0.9h-0.9zM131.1 45.5h0.9v0.9h-0.9zM118.3 51.5h0.9v0.9h-0.9zM124.0 44.9h0.9v0.9h-0.9zM130.4 39.9h0.9v0.9h-0.9zM138.3 38.8h0.9v0.9h-0.9zM131.7 43.8h0.9v0.9h-0.9zM140.5 35.5h0.9v0.9h-0.9zM140.5 36.6h0.9v0.9h-0.9zM144.1 45.3h0.9v0.9h-0.9zM127.2 47.4h0.9v0.9h-0.9zM140.9 55.6h0.9v0.9h-0.9z"/>
</g>
</g></g>
<g clip-path="url(#c02)"><g transform="translate(0 0.00)">
<polygon points="166.00,36.50 171.00,28.00 178.00,21.50 184.60,20.50 184.60,36.50" fill="rgb(165,165,165)" opacity="1.0" filter="url(#b1_6)"/>
<ellipse cx="178.50" cy="29.50" rx="4.50" ry="7.50" fill="rgb(145,145,145)" opacity="1.0" filter="url(#b1_6)" transform="rotate(25 178.50 29.50)"/>
<polygon points="164.60,36.60 184.60,36.60 184.60,55.80 164.60,55.80" fill="rgb(145,145,145)" opacity="1.0" filter="url(#b1_2)"/>
<ellipse cx="171.00" cy="49.00" rx="6.00" ry="5.00" fill="rgb(130,130,130)" opacity="0.8" filter="url(#b2_0)"/>
<polygon points="183.40,37.00 186.80,37.00 186.80,55.50 183.40,55.50" fill="rgb(115,115,115)" opacity="1.0" filter="url(#b0_9)"/>
<polygon points="185.50,37.50 193.00,37.50 198.00,42.00 197.00,55.50 185.50,55.50" fill="rgb(185,185,185)" opacity="1.0" filter="url(#b1_8)"/>
<g filter="url(#dsoft)">
<path fill="rgb(150,150,150)" d="M167.6 33.3h0.9v0.9h-0.9zM179.3 31.4h0.9v0.9h-0.9zM167.6 28.2h0.9v0.9h-0.9zM170.5 35.9h0.9v0.9h-0.9zM177.4 33.8h0.9v0.9h-0.9zM166.7 35.1h0.9v0.9h-0.9zM171.1 27.5h0.9v0.9h-0.9zM177.6 34.5h0.9v0.9h-0.9zM183.5 28.9h0.9v0.9h-0.9zM174.6 34.8h0.9v0.9h-0.9zM172.4 24.1h0.9v0.9h-0.9zM179.4 23.4h0.9v0.9h-0.9zM171.9 26.4h0.9v0.9h-0.9zM174.1 25.1h0.9v0.9h-0.9zM173.2 26.8h0.9v0.9h-0.9zM165.5 33.6h0.9v0.9h-0.9zM175.5 25.9h0.9v0.9h-0.9zM172.0 24.4h0.9v0.9h-0.9zM174.2 22.9h0.9v0.9h-0.9zM179.6 27.4h0.9v0.9h-0.9zM176.4 35.8h0.9v0.9h-0.9zM171.8 29.4h0.9v0.9h-0.9zM171.9 24.1h0.9v0.9h-0.9zM176.7 29.2h0.9v0.9h-0.9zM170.8 27.6h0.9v0.9h-0.9zM174.9 32.1h0.9v0.9h-0.9zM180.5 26.3h0.9v0.9h-0.9zM181.8 25.9h0.9v0.9h-0.9zM170.2 30.8h0.9v0.9h-0.9zM166.2 36.2h0.9v0.9h-0.9zM181.2 24.6h0.9v0.9h-0.9zM170.9 33.3h0.9v0.9h-0.9zM180.3 30.2h0.9v0.9h-0.9zM165.6 32.3h0.9v0.9h-0.9zM175.6 35.2h0.9v0.9h-0.9zM183.3 32.1h0.9v0.9h-0.9zM179.3 26.2h0.9v0.9h-0.9zM178.2 36.2h0.9v0.9h-0.9zM182.9 20.1h0.9v0.9h-0.9zM180.2 26.6h0.9v0.9h-0.9zM179.6 25.5h0.9v0.9h-0.9zM173.5 26.5h0.9v0.9h-0.9zM179.3 20.1h0.9v0.9h-0.9zM166.8 33.6h0.9v0.9h-0.9zM177.9 28.5h0.9v0.9h-0.9zM170.7 35.7h0.9v0.9h-0.9zM175.8 35.1h0.9v0.9h-0.9zM175.3 33.7h0.9v0.9h-0.9zM167.0 34.3h0.9v0.9h-0.9zM173.2 25.5h0.9v0.9h-0.9zM178.1 35.2h0.9v0.9h-0.9zM174.4 31.0h0.9v0.9h-0.9zM172.3 32.6h0.9v0.9h-0.9zM166.6 31.9h0.9v0.9h-0.9zM167.8 29.2h0.9v0.9h-0.9zM176.4 28.0h0.9v0.9h-0.9zM172.3 29.0h0.9v0.9h-0.9zM181.4 25.1h0.9v0.9h-0.9zM176.2 27.3h0.9v0.9h-0.9zM184.2 24.6h0.9v0.9h-0.9zM178.5 22.9h0.9v0.9h-0.9zM169.8 31.7h0.9v0.9h-0.9zM176.1 23.3h0.9v0.9h-0.9zM165.8 33.4h0.9v0.9h-0.9zM172.1 31.5h0.9v0.9h-0.9zM173.2 29.7h0.9v0.9h-0.9zM175.7 36.1h0.9v0.9h-0.9zM182.8 26.9h0.9v0.9h-0.9zM174.3 22.9h0.9v0.9h-0.9zM179.6 20.6h0.9v0.9h-0.9zM170.7 33.8h0.9v0.9h-0.9zM165.2 31.2h0.9v0.9h-0.9zM175.9 28.6h0.9v0.9h-0.9zM183.6 32.3h0.9v0.9h-0.9zM180.7 20.5h0.9v0.9h-0.9zM180.3 22.7h0.9v0.9h-0.9zM168.5 28.3h0.9v0.9h-0.9zM176.8 20.9h0.9v0.9h-0.9zM179.9 29.1h0.9v0.9h-0.9zM182.6 35.2h0.9v0.9h-0.9zM178.4 25.2h0.9v0.9h-0.9zM183.6 31.5h0.9v0.9h-0.9zM170.3 34.0h0.9v0.9h-0.9zM179.1 23.5h0.9v0.9h-0.9zM175.3 23.3h0.9v0.9h-0.9z"/>
<path fill="rgb(140,140,140)" d="M171.2 28.6h0.9v0.9h-0.9zM182.3 23.1h0.9v0.9h-0.9zM182.0 34.2h0.9v0.9h-0.9zM177.3 29.2h0.9v0.9h-0.9zM179.7 29.1h0.9v0.9h-0.9zM178.3 35.2h0.9v0.9h-0.9zM180.4 24.7h0.9v0.9h-0.9zM167.0 35.5h0.9v0.9h-0.9zM172.7 33.1h0.9v0.9h-0.9zM172.9 32.2h0.9v0.9h-0.9zM183.6 28.6h0.9v0.9h-0.9zM176.5 26.1h0.9v0.9h-0.9zM170.3 35.7h0.9v0.9h-0.9zM168.1 35.5h0.9v0.9h-0.9zM178.2 21.6h0.9v0.9h-0.9zM182.8 22.1h0.9v0.9h-0.9zM184.4 25.4h0.9v0.9h-0.9zM182.2 21.5h0.9v0.9h-0.9zM178.4 21.6h0.9v0.9h-0.9zM184.3 31.5h0.9v0.9h-0.9zM181.9 33.1h0.9v0.9h-0.9zM175.8 26.2h0.9v0.9h-0.9zM179.1 27.2h0.9v0.9h-0.9zM175.1 29.4h0.9v0.9h-0.9zM184.1 29.5h0.9v0.9h-0.9z"/>
<path fill="rgb(120,120,120)" d="M174.0 34.0h0.9v0.9h-0.9zM186.6 28.2h0.9v0.9h-0.9zM185.1 29.1h0.9v0.9h-0.9zM185.6 23.8h0.9v0.9h-0.9zM181.0 31.4h0.9v0.9h-0.9zM176.9 24.7h0.9v0.9h-0.9zM177.6 24.6h0.9v0.9h-0.9zM179.8 29.2h0.9v0.9h-0.9zM172.9 25.4h0.9v0.9h-0.9zM179.5 30.4h0.9v0.9h-0.9zM186.2 23.9h0.9v0.9h-0.9zM179.0 29.9h0.9v0.9h-0.9zM182.8 24.9h0.9v0.9h-0.9zM175.6 27.3h0.9v0.9h-0.9zM182.2 22.2h0.9v0.9h-0.9zM179.4 29.9h0.9v0.9h-0.9zM185.3 19.7h0.9v0.9h-0.9zM181.4 26.5h0.9v0.9h-0.9zM175.8 32.2h0.9v0.9h-0.9zM182.4 32.1h0.9v0.9h-0.9zM169.8 47.8h0.9v0.9h-0.9zM175.1 43.0h0.9v0.9h-0.9zM178.1 45.3h0.9v0.9h-0.9zM169.3 53.5h0.9v0.9h-0.9zM168.1 39.5h0.9v0.9h-0.9zM169.7 45.8h0.9v0.9h-0.9zM180.3 43.0h0.9v0.9h-0.9zM169.4 49.2h0.9v0.9h-0.9zM169.8 46.6h0.9v0.9h-0.9zM169.7 53.4h0.9v0.9h-0.9zM168.3 41.1h0.9v0.9h-0.9zM170.6 42.9h0.9v0.9h-0.9zM179.1 49.5h0.9v0.9h-0.9zM180.4 47.0h0.9v0.9h-0.9zM166.2 51.3h0.9v0.9h-0.9zM169.5 40.8h0.9v0.9h-0.9zM172.9 55.6h0.9v0.9h-0.9zM172.0 43.4h0.9v0.9h-0.9zM182.8 55.6h0.9v0.9h-0.9zM172.3 39.2h0.9v0.9h-0.9zM180.4 51.6h0.9v0.9h-0.9zM171.4 51.8h0.9v0.9h-0.9zM172.2 42.1h0.9v0.9h-0.9zM176.5 50.8h0.9v0.9h-0.9zM174.1 52.3h0.9v0.9h-0.9zM164.9 46.2h0.9v0.9h-0.9zM172.2 37.9h0.9v0.9h-0.9zM182.9 39.4h0.9v0.9h-0.9zM168.7 53.5h0.9v0.9h-0.9zM183.8 54.5h0.9v0.9h-0.9zM171.4 54.5h0.9v0.9h-0.9zM167.4 50.3h0.9v0.9h-0.9zM183.5 40.3h0.9v0.9h-0.9zM167.3 49.6h0.9v0.9h-0.9zM182.3 50.5h0.9v0.9h-0.9zM183.6 45.3h0.9v0.9h-0.9zM172.0 38.9h0.9v0.9h-0.9zM170.1 54.6h0.9v0.9h-0.9zM166.0 40.1h0.9v0.9h-0.9zM171.6 37.5h0.9v0.9h-0.9zM170.7 40.1h0.9v0.9h-0.9zM167.1 46.7h0.9v0.9h-0.9zM175.4 47.5h0.9v0.9h-0.9zM179.8 46.7h0.9v0.9h-0.9zM183.5 38.2h0.9v0.9h-0.9zM169.1 38.1h0.9v0.9h-0.9z"/>
<path fill="rgb(160,160,160)" d="M189.4 51.2h0.9v0.9h-0.9zM197.1 46.6h0.9v0.9h-0.9zM187.5 43.4h0.9v0.9h-0.9zM192.6 42.8h0.9v0.9h-0.9zM195.4 55.0h0.9v0.9h-0.9zM191.2 48.4h0.9v0.9h-0.9zM196.1 45.9h0.9v0.9h-0.9zM187.9 54.5h0.9v0.9h-0.9zM195.0 44.7h0.9v0.9h-0.9zM186.1 40.4h0.9v0.9h-0.9zM187.7 50.8h0.9v0.9h-0.9zM188.1 37.9h0.9v0.9h-0.9zM188.2 51.9h0.9v0.9h-0.9zM191.7 49.3h0.9v0.9h-0.9zM191.3 40.8h0.9v0.9h-0.9zM185.7 43.0h0.9v0.9h-0.9zM186.0 42.2h0.9v0.9h-0.9zM193.2 44.1h0.9v0.9h-0.9zM191.4 48.7h0.9v0.9h-0.9zM189.5 43.9h0.9v0.9h-0.9zM196.5 48.0h0.9v0.9h-0.9zM190.7 47.2h0.9v0.9h-0.9zM191.3 43.5h0.9v0.9h-0.9zM196.9 41.7h0.9v0.9h-0.9zM196.2 55.7h0.9v0.9h-0.9zM191.4 40.2h0.9v0.9h-0.9zM200.9 41.5h0.9v0.9h-0.9zM197.8 40.0h0.9v0.9h-0.9zM205.8 42.4h0.9v0.9h-0.9zM187.1 50.1h0.9v0.9h-0.9zM192.6 47.6h0.9v0.9h-0.9zM195.9 54.5h0.9v0.9h-0.9zM196.3 44.2h0.9v0.9h-0.9zM185.0 46.4h0.9v0.9h-0.9zM190.9 47.9h0.9v0.9h-0.9zM198.9 45.8h0.9v0.9h-0.9zM187.0 46.5h0.9v0.9h-0.9zM195.6 49.2h0.9v0.9h-0.9zM206.3 42.3h0.9v0.9h-0.9zM194.7 38.6h0.9v0.9h-0.9zM202.6 41.5h0.9v0.9h-0.9zM203.2 52.2h0.9v0.9h-0.9zM190.6 54.2h0.9v0.9h-0.9zM196.1 45.1h0.9v0.9h-0.9zM197.2 55.0h0.9v0.9h-0.9zM195.8 46.2h0.9v0.9h-0.9zM191.4 53.0h0.9v0.9h-0.9zM196.1 43.5h0.9v0.9h-0.9zM189.3 41.1h0.9v0.9h-0.9zM203.4 52.3h0.9v0.9h-0.9zM206.5 54.4h0.9v0.9h-0.9zM200.1 52.2h0.9v0.9h-0.9zM200.7 52.4h0.9v0.9h-0.9zM202.6 40.3h0.9v0.9h-0.9zM202.9 42.8h0.9v0.9h-0.9zM190.4 54.5h0.9v0.9h-0.9zM185.5 46.7h0.9v0.9h-0.9zM192.5 52.0h0.9v0.9h-0.9zM198.4 54.3h0.9v0.9h-0.9zM205.5 49.2h0.9v0.9h-0.9zM186.4 49.7h0.9v0.9h-0.9zM187.4 55.7h0.9v0.9h-0.9zM204.2 42.9h0.9v0.9h-0.9zM189.1 50.2h0.9v0.9h-0.9zM201.7 55.7h0.9v0.9h-0.9zM198.7 39.4h0.9v0.9h-0.9zM201.0 38.1h0.9v0.9h-0.9zM204.1 51.6h0.9v0.9h-0.9zM202.3 53.6h0.9v0.9h-0.9zM197.5 54.9h0.9v0.9h-0.9zM199.1 46.3h0.9v0.9h-0.9zM193.5 43.7h0.9v0.9h-0.9zM185.5 40.1h0.9v0.9h-0.9zM202.5 41.3h0.9v0.9h-0.9zM199.4 51.7h0.9v0.9h-0.9zM200.3 46.8h0.9v0.9h-0.9zM192.0 42.2h0.9v0.9h-0.9zM189.1 49.3h0.9v0.9h-0.9zM200.1 54.9h0.9v0.9h-0.9zM192.3 54.6h0.9v0.9h-0.9zM205.1 42.5h0.9v0.9h-0.9zM205.9 48.8h0.9v0.9h-0.9zM206.2 51.7h0.9v0.9h-0.9zM192.3 42.3h0.9v0.9h-0.9zM196.5 46.3h0.9v0.9h-0.9zM185.8 53.4h0.9v0.9h-0.9zM196.8 46.0h0.9v0.9h-0.9zM201.4 41.7h0.9v0.9h-0.9zM189.4 48.0h0.9v0.9h-0.9zM190.3 43.2h0.9v0.9h-0.9zM186.5 38.0h0.9v0.9h-0.9zM192.8 47.0h0.9v0.9h-0.9zM205.9 49.2h0.9v0.9h-0.9zM194.1 44.7h0.9v0.9h-0.9zM190.2 46.0h0.9v0.9h-0.9zM206.1 39.3h0.9v0.9h-0.9zM194.5 50.0h0.9v0.9h-0.9zM201.8 47.5h0.9v0.9h-0.9zM199.1 54.8h0.9v0.9h-0.9zM204.9 41.8h0.9v0.9h-0.9zM196.9 55.9h0.9v0.9h-0.9zM196.6 40.6h0.9v0.9h-0.9zM201.9 38.1h0.9v0.9h-0.9zM188.3 47.5h0.9v0.9h-0.9zM191.0 50.7h0.9v0.9h-0.9zM201.0 43.1h0.9v0.9h-0.9zM201.9 49.3h0.9v0.9h-0.9zM200.5 45.7h0.9v0.9h-0.9zM194.5 39.0h0.9v0.9h-0.9zM195.4 55.1h0.9v0.9h-0.9zM204.5 38.1h0.9v0.9h-0.9zM186.6 42.1h0.9v0.9h-0.9zM200.3 45.3h0.9v0.9h-0.9zM187.8 45.1h0.9v0.9h-0.9zM197.6 51.1h0.9v0.9h-0.9zM193.9 49.3h0.9v0.9h-0.9zM200.0 48.7h0.9v0.9h-0.9zM186.0 50.5h0.9v0.9h-0.9zM187.8 38.0h0.9v0.9h-0.9zM195.4 37.3h0.9v0.9h-0.9zM186.6 44.4h0.9v0.9h-0.9zM195.3 39.0h0.9v0.9h-0.9zM206.0 53.2h0.9v0.9h-0.9zM195.7 48.2h0.9v0.9h-0.9zM191.9 55.7h0.9v0.9h-0.9zM187.6 42.8h0.9v0.9h-0.9zM189.9 53.4h0.9v0.9h-0.9zM196.2 44.8h0.9v0.9h-0.9zM193.8 53.9h0.9v0.9h-0.9zM190.7 52.0h0.9v0.9h-0.9zM200.6 45.5h0.9v0.9h-0.9zM193.0 45.3h0.9v0.9h-0.9zM195.0 43.0h0.9v0.9h-0.9zM198.7 44.8h0.9v0.9h-0.9zM191.7 51.7h0.9v0.9h-0.9zM195.0 46.0h0.9v0.9h-0.9zM204.4 45.6h0.9v0.9h-0.9zM193.3 54.1h0.9v0.9h-0.9zM206.5 51.9h0.9v0.9h-0.9zM193.8 49.8h0.9v0.9h-0.9zM201.3 42.6h0.9v0.9h-0.9zM200.9 55.0h0.9v0.9h-0.9zM199.4 49.7h0.9v0.9h-0.9zM194.6 49.4h0.9v0.9h-0.9zM190.0 51.6h0.9v0.9h-0.9zM196.9 55.6h0.9v0.9h-0.9zM192.5 50.5h0.9v0.9h-0.9zM185.4 44.9h0.9v0.9h-0.9zM201.9 41.9h0.9v0.9h-0.9z"/>
</g>
</g></g>
<g clip-path="url(#c03)"><g transform="translate(0 0.00)">
<ellipse cx="237.50" cy="46.50" rx="7.00" ry="5.00" fill="rgb(185,185,185)" opacity="1.0" filter="url(#b1_6)"/>
<ellipse cx="257.50" cy="46.00" rx="3.50" ry="6.50" fill="rgb(175,175,175)" opacity="1.0" filter="url(#b1_5)"/>
<ellipse cx="253.00" cy="31.00" rx="8.00" ry="3.00" fill="rgb(240,240,240)" opacity="1.0" filter="url(#b2_0)"/>
<g filter="url(#dsoft)">
<path fill="rgb(160,160,160)" d="M235.3 45.1h0.9v0.9h-0.9zM226.8 52.2h0.9v0.9h-0.9zM240.6 52.8h0.9v0.9h-0.9zM242.7 48.0h0.9v0.9h-0.9zM241.0 41.3h0.9v0.9h-0.9zM233.1 49.0h0.9v0.9h-0.9zM235.8 41.6h0.9v0.9h-0.9zM237.4 42.6h0.9v0.9h-0.9zM237.4 51.2h0.9v0.9h-0.9zM232.6 45.1h0.9v0.9h-0.9zM239.8 46.4h0.9v0.9h-0.9zM238.2 43.9h0.9v0.9h-0.9zM236.0 39.2h0.9v0.9h-0.9zM236.7 50.3h0.9v0.9h-0.9zM232.7 45.9h0.9v0.9h-0.9zM240.4 50.1h0.9v0.9h-0.9zM242.4 43.8h0.9v0.9h-0.9zM235.6 51.8h0.9v0.9h-0.9zM235.4 47.3h0.9v0.9h-0.9zM233.8 44.4h0.9v0.9h-0.9zM224.8 44.8h0.9v0.9h-0.9z"/>
<path fill="rgb(150,150,150)" d="M239.7 52.3h0.9v0.9h-0.9zM236.0 49.4h0.9v0.9h-0.9zM231.3 42.5h0.9v0.9h-0.9zM241.8 48.4h0.9v0.9h-0.9zM244.1 43.7h0.9v0.9h-0.9zM234.7 43.4h0.9v0.9h-0.9zM239.1 38.4h0.9v0.9h-0.9zM236.4 47.9h0.9v0.9h-0.9zM232.5 42.7h0.9v0.9h-0.9zM244.8 52.0h0.9v0.9h-0.9zM234.2 40.7h0.9v0.9h-0.9zM232.0 39.3h0.9v0.9h-0.9zM243.5 49.1h0.9v0.9h-0.9zM234.5 45.3h0.9v0.9h-0.9zM241.8 38.4h0.9v0.9h-0.9zM243.9 50.9h0.9v0.9h-0.9zM233.6 48.6h0.9v0.9h-0.9zM241.9 43.1h0.9v0.9h-0.9zM244.9 41.3h0.9v0.9h-0.9zM238.1 42.7h0.9v0.9h-0.9zM237.5 50.2h0.9v0.9h-0.9zM239.7 47.1h0.9v0.9h-0.9zM246.8 41.4h0.9v0.9h-0.9zM233.8 47.3h0.9v0.9h-0.9zM232.6 52.5h0.9v0.9h-0.9zM235.8 44.6h0.9v0.9h-0.9zM237.3 50.4h0.9v0.9h-0.9zM245.6 48.2h0.9v0.9h-0.9zM232.9 43.3h0.9v0.9h-0.9zM242.0 41.2h0.9v0.9h-0.9zM245.0 51.1h0.9v0.9h-0.9zM233.9 43.5h0.9v0.9h-0.9zM233.9 48.8h0.9v0.9h-0.9zM230.8 48.4h0.9v0.9h-0.9zM231.1 50.6h0.9v0.9h-0.9zM239.2 46.7h0.9v0.9h-0.9zM231.6 38.7h0.9v0.9h-0.9zM236.0 52.8h0.9v0.9h-0.9zM240.2 50.9h0.9v0.9h-0.9zM231.1 39.5h0.9v0.9h-0.9zM230.4 48.5h0.9v0.9h-0.9zM233.0 42.1h0.9v0.9h-0.9zM241.3 48.4h0.9v0.9h-0.9zM235.5 45.0h0.9v0.9h-0.9zM234.9 46.4h0.9v0.9h-0.9zM236.0 43.4h0.9v0.9h-0.9zM234.2 42.4h0.9v0.9h-0.9zM234.4 38.2h0.9v0.9h-0.9zM235.3 46.9h0.9v0.9h-0.9zM234.6 39.7h0.9v0.9h-0.9zM244.4 45.0h0.9v0.9h-0.9zM238.7 42.7h0.9v0.9h-0.9zM245.1 49.3h0.9v0.9h-0.9zM240.6 47.9h0.9v0.9h-0.9zM241.8 45.5h0.9v0.9h-0.9zM237.0 43.9h0.9v0.9h-0.9zM238.6 45.0h0.9v0.9h-0.9zM239.0 46.0h0.9v0.9h-0.9zM243.4 51.4h0.9v0.9h-0.9zM233.8 38.3h0.9v0.9h-0.9zM235.1 38.5h0.9v0.9h-0.9zM243.5 47.3h0.9v0.9h-0.9zM234.9 40.9h0.9v0.9h-0.9zM244.8 50.5h0.9v0.9h-0.9zM241.6 48.4h0.9v0.9h-0.9zM242.7 44.8h0.9v0.9h-0.9zM236.8 46.3h0.9v0.9h-0.9zM245.0 52.9h0.9v0.9h-0.9zM245.6 50.5h0.9v0.9h-0.9zM231.3 41.7h0.9v0.9h-0.9zM246.5 46.2h0.9v0.9h-0.9zM238.8 42.6h0.9v0.9h-0.9zM244.7 45.8h0.9v0.9h-0.9zM246.8 39.1h0.9v0.9h-0.9zM246.9 38.2h0.9v0.9h-0.9zM232.5 43.8h0.9v0.9h-0.9zM256.8 44.5h0.9v0.9h-0.9zM252.9 42.5h0.9v0.9h-0.9zM254.2 48.6h0.9v0.9h-0.9zM255.2 43.2h0.9v0.9h-0.9zM258.6 49.9h0.9v0.9h-0.9zM260.0 42.6h0.9v0.9h-0.9zM258.0 50.2h0.9v0.9h-0.9zM255.7 45.0h0.9v0.9h-0.9zM254.9 43.4h0.9v0.9h-0.9zM259.0 46.3h0.9v0.9h-0.9zM256.7 43.7h0.9v0.9h-0.9zM260.7 48.9h0.9v0.9h-0.9zM254.8 54.5h0.9v0.9h-0.9zM258.5 39.5h0.9v0.9h-0.9zM259.8 41.9h0.9v0.9h-0.9zM262.8 48.9h0.9v0.9h-0.9zM261.9 38.9h0.9v0.9h-0.9zM249.6 50.0h0.9v0.9h-0.9zM251.4 41.0h0.9v0.9h-0.9zM249.5 40.5h0.9v0.9h-0.9zM257.1 52.4h0.9v0.9h-0.9zM254.5 41.9h0.9v0.9h-0.9zM263.1 40.8h0.9v0.9h-0.9zM259.8 47.2h0.9v0.9h-0.9zM264.9 38.7h0.9v0.9h-0.9zM258.6 43.7h0.9v0.9h-0.9zM263.0 41.8h0.9v0.9h-0.9zM261.2 40.8h0.9v0.9h-0.9zM257.4 52.5h0.9v0.9h-0.9zM253.1 42.2h0.9v0.9h-0.9zM264.6 48.1h0.9v0.9h-0.9zM250.1 40.8h0.9v0.9h-0.9zM253.0 42.3h0.9v0.9h-0.9zM263.4 48.5h0.9v0.9h-0.9zM265.7 48.0h0.9v0.9h-0.9zM259.7 43.7h0.9v0.9h-0.9zM261.2 45.4h0.9v0.9h-0.9zM250.0 45.4h0.9v0.9h-0.9zM255.5 46.0h0.9v0.9h-0.9zM249.8 38.4h0.9v0.9h-0.9zM265.7 43.6h0.9v0.9h-0.9zM254.6 40.2h0.9v0.9h-0.9zM259.1 51.7h0.9v0.9h-0.9zM252.1 45.5h0.9v0.9h-0.9zM257.5 49.5h0.9v0.9h-0.9zM258.6 41.6h0.9v0.9h-0.9zM252.2 48.9h0.9v0.9h-0.9zM250.3 51.0h0.9v0.9h-0.9zM249.6 40.8h0.9v0.9h-0.9zM257.0 50.7h0.9v0.9h-0.9zM259.5 49.2h0.9v0.9h-0.9zM261.9 48.8h0.9v0.9h-0.9zM249.9 50.4h0.9v0.9h-0.9zM251.5 40.4h0.9v0.9h-0.9zM249.6 38.4h0.9v0.9h-0.9zM263.9 43.7h0.9v0.9h-0.9zM250.5 38.7h0.9v0.9h-0.9zM263.4 47.0h0.9v0.9h-0.9zM264.6 38.6h0.9v0.9h-0.9zM250.9 42.3h0.9v0.9h-0.9zM252.2 39.7h0.9v0.9h-0.9zM252.4 47.6h0.9v0.9h-0.9zM251.9 40.5h0.9v0.9h-0.9zM258.1 43.6h0.9v0.9h-0.9zM251.5 46.5h0.9v0.9h-0.9zM257.6 43.8h0.9v0.9h-0.9zM257.1 38.6h0.9v0.9h-0.9zM259.5 40.9h0.9v0.9h-0.9zM254.7 38.1h0.9v0.9h-0.9zM264.1 46.8h0.9v0.9h-0.9zM255.7 46.1h0.9v0.9h-0.9zM265.0 40.0h0.9v0.9h-0.9zM255.5 48.6h0.9v0.9h-0.9zM255.3 48.6h0.9v0.9h-0.9zM264.4 38.6h0.9v0.9h-0.9zM253.8 42.4h0.9v0.9h-0.9zM261.8 49.8h0.9v0.9h-0.9zM260.9 51.9h0.9v0.9h-0.9zM252.2 43.9h0.9v0.9h-0.9zM263.5 49.5h0.9v0.9h-0.9zM250.9 52.7h0.9v0.9h-0.9zM261.6 51.0h0.9v0.9h-0.9zM255.2 47.1h0.9v0.9h-0.9zM265.3 51.5h0.9v0.9h-0.9zM258.8 51.3h0.9v0.9h-0.9zM266.0 50.6h0.9v0.9h-0.9zM260.1 52.4h0.9v0.9h-0.9zM251.4 44.1h0.9v0.9h-0.9zM258.6 40.0h0.9v0.9h-0.9z"/>
</g>
</g></g>
<g clip-path="url(#c10)"><g transform="translate(0 50.40)">
<polygon points="37.00,19.80 50.00,20.00 52.00,21.80 50.00,23.80 37.00,24.00" fill="rgb(105,105,105)" opacity="1.0" filter="url(#b0_8)"/>
<polygon points="37.00,20.50 49.00,20.70 51.00,21.80 49.00,23.10 37.00,23.30" fill="rgb(80,80,80)" opacity="0.9" filter="url(#b0_6)"/>
<polygon points="36.50,34.00 58.50,34.00 59.20,45.00 58.50,56.00 36.50,56.00" fill="rgb(120,120,120)" opacity="1.0" filter="url(#b0_9)"/>
<ellipse cx="47.50" cy="40.00" rx="10.00" ry="4.20" fill="rgb(175,175,175)" opacity="1.0" filter="url(#b1_5)"/>
<ellipse cx="44.00" cy="51.00" rx="9.00" ry="4.20" fill="rgb(95,95,95)" opacity="0.9" filter="url(#b2_0)"/>
<polygon points="36.50,32.90 59.00,32.90 59.00,35.30 36.50,35.30" fill="rgb(70,70,70)" opacity="1.0" filter="url(#b0_5)"/>
<polygon points="57.50,40.00 60.50,40.00 60.50,56.00 57.50,56.00" fill="rgb(185,185,185)" opacity="1.0" filter="url(#b0_8)"/>
<polygon points="58.00,34.00 62.00,33.00 63.00,40.00 58.50,41.00" fill="rgb(130,130,130)" opacity="1.0" filter="url(#b0_8)"/>
<ellipse cx="66.80" cy="37.80" rx="6.20" ry="5.00" fill="rgb(115,115,115)" opacity="1.0" filter="url(#b1_1)"/>
<g filter="url(#dsoft)">
<path fill="rgb(140,140,140)" d="M53.7 14.1h0.9v0.9h-0.9zM50.3 18.0h0.9v0.9h-0.9zM43.6 23.9h0.9v0.9h-0.9zM40.7 21.1h0.9v0.9h-0.9zM55.4 30.8h0.9v0.9h-0.9zM42.3 19.6h0.9v0.9h-0.9zM51.8 16.4h0.9v0.9h-0.9zM55.2 16.6h0.9v0.9h-0.9zM48.7 19.1h0.9v0.9h-0.9zM36.5 13.0h0.9v0.9h-0.9zM36.5 18.9h0.9v0.9h-0.9zM42.6 30.8h0.9v0.9h-0.9zM50.5 14.2h0.9v0.9h-0.9zM52.3 17.2h0.9v0.9h-0.9zM47.1 26.0h0.9v0.9h-0.9zM55.3 29.8h0.9v0.9h-0.9zM45.8 18.7h0.9v0.9h-0.9zM45.2 18.6h0.9v0.9h-0.9zM52.8 21.3h0.9v0.9h-0.9zM51.6 15.7h0.9v0.9h-0.9zM53.7 30.4h0.9v0.9h-0.9zM41.0 24.1h0.9v0.9h-0.9zM40.1 13.6h0.9v0.9h-0.9zM45.6 16.3h0.9v0.9h-0.9zM52.6 23.3h0.9v0.9h-0.9zM51.3 30.4h0.9v0.9h-0.9zM37.8 14.8h0.9v0.9h-0.9zM37.3 21.3h0.9v0.9h-0.9zM54.6 25.3h0.9v0.9h-0.9zM48.6 28.4h0.9v0.9h-0.9zM44.7 15.0h0.9v0.9h-0.9zM50.6 13.5h0.9v0.9h-0.9zM41.5 13.5h0.9v0.9h-0.9zM40.1 14.2h0.9v0.9h-0.9zM48.2 15.3h0.9v0.9h-0.9zM49.8 27.8h0.9v0.9h-0.9zM44.1 15.2h0.9v0.9h-0.9zM51.3 26.1h0.9v0.9h-0.9zM55.9 23.0h0.9v0.9h-0.9zM49.3 28.5h0.9v0.9h-0.9zM51.4 30.5h0.9v0.9h-0.9zM42.8 26.9h0.9v0.9h-0.9zM50.4 21.4h0.9v0.9h-0.9zM36.7 21.6h0.9v0.9h-0.9zM42.3 23.8h0.9v0.9h-0.9zM47.7 22.2h0.9v0.9h-0.9zM37.8 15.4h0.9v0.9h-0.9zM49.9 25.3h0.9v0.9h-0.9zM58.3 27.3h0.9v0.9h-0.9zM42.9 21.2h0.9v0.9h-0.9zM47.6 27.5h0.9v0.9h-0.9zM45.2 29.6h0.9v0.9h-0.9zM47.1 20.2h0.9v0.9h-0.9zM47.1 19.4h0.9v0.9h-0.9zM58.5 13.8h0.9v0.9h-0.9zM45.3 14.4h0.9v0.9h-0.9zM51.4 15.7h0.9v0.9h-0.9zM39.8 20.6h0.9v0.9h-0.9zM49.7 26.7h0.9v0.9h-0.9zM46.3 18.3h0.9v0.9h-0.9zM44.6 29.0h0.9v0.9h-0.9zM41.2 13.2h0.9v0.9h-0.9zM56.0 21.7h0.9v0.9h-0.9zM39.4 15.4h0.9v0.9h-0.9zM56.1 26.5h0.9v0.9h-0.9zM37.9 25.2h0.9v0.9h-0.9zM41.2 21.0h0.9v0.9h-0.9zM49.8 13.9h0.9v0.9h-0.9zM57.1 19.0h0.9v0.9h-0.9zM39.7 27.0h0.9v0.9h-0.9zM38.9 13.7h0.9v0.9h-0.9zM50.8 21.5h0.9v0.9h-0.9zM56.3 27.2h0.9v0.9h-0.9zM41.0 13.8h0.9v0.9h-0.9zM49.8 21.5h0.9v0.9h-0.9zM43.1 29.5h0.9v0.9h-0.9zM41.1 24.6h0.9v0.9h-0.9zM38.1 29.6h0.9v0.9h-0.9zM57.4 24.1h0.9v0.9h-0.9zM43.5 26.0h0.9v0.9h-0.9zM56.4 27.3h0.9v0.9h-0.9zM37.4 22.1h0.9v0.9h-0.9zM39.6 22.8h0.9v0.9h-0.9zM57.4 28.6h0.9v0.9h-0.9zM42.0 22.9h0.9v0.9h-0.9zM43.5 16.0h0.9v0.9h-0.9zM52.9 26.7h0.9v0.9h-0.9zM43.9 20.6h0.9v0.9h-0.9zM51.8 26.1h0.9v0.9h-0.9zM46.7 15.1h0.9v0.9h-0.9zM38.6 16.1h0.9v0.9h-0.9zM54.7 21.9h0.9v0.9h-0.9zM50.7 19.6h0.9v0.9h-0.9zM44.6 16.2h0.9v0.9h-0.9zM57.9 23.9h0.9v0.9h-0.9zM39.3 25.6h0.9v0.9h-0.9zM49.7 24.0h0.9v0.9h-0.9zM53.4 24.0h0.9v0.9h-0.9zM55.8 30.5h0.9v0.9h-0.9zM45.4 24.7h0.9v0.9h-0.9zM44.7 20.4h0.9v0.9h-0.9zM44.6 24.7h0.9v0.9h-0.9zM44.3 19.3h0.9v0.9h-0.9zM55.1 27.4h0.9v0.9h-0.9zM51.4 28.2h0.9v0.9h-0.9zM45.0 24.6h0.9v0.9h-0.9zM42.0 18.7h0.9v0.9h-0.9zM38.7 27.4h0.9v0.9h-0.9zM56.8 18.4h0.9v0.9h-0.9zM44.8 15.1h0.9v0.9h-0.9zM39.6 24.5h0.9v0.9h-0.9zM56.1 14.5h0.9v0.9h-0.9zM42.1 26.7h0.9v0.9h-0.9zM41.5 28.8h0.9v0.9h-0.9zM44.3 21.5h0.9v0.9h-0.9zM40.9 18.2h0.9v0.9h-0.9zM45.8 18.0h0.9v0.9h-0.9zM52.5 13.5h0.9v0.9h-0.9zM50.6 25.8h0.9v0.9h-0.9zM43.7 19.1h0.9v0.9h-0.9zM39.1 17.9h0.9v0.9h-0.9zM53.9 23.6h0.9v0.9h-0.9zM36.8 22.0h0.9v0.9h-0.9zM49.7 20.5h0.9v0.9h-0.9zM37.3 21.6h0.9v0.9h-0.9zM44.3 27.7h0.9v0.9h-0.9zM44.4 27.1h0.9v0.9h-0.9zM55.6 23.3h0.9v0.9h-0.9zM39.3 25.9h0.9v0.9h-0.9zM38.5 23.1h0.9v0.9h-0.9zM38.6 18.0h0.9v0.9h-0.9zM45.5 18.7h0.9v0.9h-0.9zM58.3 23.4h0.9v0.9h-0.9zM56.2 27.5h0.9v0.9h-0.9zM53.2 24.1h0.9v0.9h-0.9zM46.9 25.6h0.9v0.9h-0.9zM51.2 18.7h0.9v0.9h-0.9zM48.2 21.5h0.9v0.9h-0.9zM47.8 24.8h0.9v0.9h-0.9zM51.7 23.3h0.9v0.9h-0.9zM53.9 26.1h0.9v0.9h-0.9zM38.5 18.6h0.9v0.9h-0.9zM37.5 18.8h0.9v0.9h-0.9zM57.6 20.4h0.9v0.9h-0.9zM46.2 22.1h0.9v0.9h-0.9zM48.9 20.1h0.9v0.9h-0.9zM53.6 20.6h0.9v0.9h-0.9zM55.1 25.8h0.9v0.9h-0.9zM36.5 23.0h0.9v0.9h-0.9zM38.5 26.7h0.9v0.9h-0.9zM38.0 19.9h0.9v0.9h-0.9zM53.4 23.5h0.9v0.9h-0.9zM51.2 21.5h0.9v0.9h-0.9zM48.0 19.2h0.9v0.9h-0.9zM46.7 19.8h0.9v0.9h-0.9zM51.4 18.2h0.9v0.9h-0.9zM39.5 19.2h0.9v0.9h-0.9zM48.2 23.4h0.9v0.9h-0.9zM36.6 27.9h0.9v0.9h-0.9zM54.9 21.2h0.9v0.9h-0.9zM40.0 26.1h0.9v0.9h-0.9zM58.0 19.0h0.9v0.9h-0.9zM53.1 26.0h0.9v0.9h-0.9zM57.1 19.3h0.9v0.9h-0.9zM39.2 18.8h0.9v0.9h-0.9zM41.6 26.9h0.9v0.9h-0.9zM56.5 22.2h0.9v0.9h-0.9zM39.3 20.9h0.9v0.9h-0.9zM41.8 24.1h0.9v0.9h-0.9zM52.3 25.5h0.9v0.9h-0.9zM46.1 22.0h0.9v0.9h-0.9zM46.8 21.1h0.9v0.9h-0.9zM46.5 24.5h0.9v0.9h-0.9zM52.1 20.6h0.9v0.9h-0.9zM49.0 18.6h0.9v0.9h-0.9zM37.5 21.3h0.9v0.9h-0.9zM44.4 17.4h0.9v0.9h-0.9zM38.2 21.7h0.9v0.9h-0.9zM57.2 26.2h0.9v0.9h-0.9zM37.2 20.5h0.9v0.9h-0.9zM44.6 20.4h0.9v0.9h-0.9zM39.5 23.5h0.9v0.9h-0.9zM55.0 21.2h0.9v0.9h-0.9zM40.4 18.2h0.9v0.9h-0.9zM36.8 25.4h0.9v0.9h-0.9zM41.6 25.0h0.9v0.9h-0.9zM53.9 17.9h0.9v0.9h-0.9zM40.7 20.5h0.9v0.9h-0.9zM53.4 25.1h0.9v0.9h-0.9zM43.2 22.0h0.9v0.9h-0.9zM50.1 54.0h0.9v0.9h-0.9zM37.6 44.5h0.9v0.9h-0.9zM45.0 54.9h0.9v0.9h-0.9zM40.2 46.4h0.9v0.9h-0.9zM39.8 50.6h0.9v0.9h-0.9zM47.6 50.2h0.9v0.9h-0.9zM43.5 53.4h0.9v0.9h-0.9zM36.7 38.9h0.9v0.9h-0.9zM53.1 53.3h0.9v0.9h-0.9zM54.1 40.1h0.9v0.9h-0.9zM38.3 49.6h0.9v0.9h-0.9zM53.1 35.3h0.9v0.9h-0.9zM57.7 45.6h0.9v0.9h-0.9zM37.3 44.5h0.9v0.9h-0.9zM44.2 36.3h0.9v0.9h-0.9zM56.6 54.6h0.9v0.9h-0.9zM39.3 43.8h0.9v0.9h-0.9zM42.7 48.8h0.9v0.9h-0.9zM39.0 41.3h0.9v0.9h-0.9zM45.8 44.4h0.9v0.9h-0.9zM46.4 47.1h0.9v0.9h-0.9zM57.8 54.5h0.9v0.9h-0.9zM57.1 52.2h0.9v0.9h-0.9zM41.7 39.4h0.9v0.9h-0.9zM46.9 48.2h0.9v0.9h-0.9zM50.3 41.7h0.9v0.9h-0.9zM36.9 36.0h0.9v0.9h-0.9zM41.3 50.1h0.9v0.9h-0.9zM55.6 34.9h0.9v0.9h-0.9zM41.9 39.3h0.9v0.9h-0.9zM54.4 53.7h0.9v0.9h-0.9zM42.5 36.3h0.9v0.9h-0.9zM58.4 55.4h0.9v0.9h-0.9zM52.8 44.4h0.9v0.9h-0.9zM53.5 50.9h0.9v0.9h-0.9zM48.1 40.0h0.9v0.9h-0.9zM48.4 48.6h0.9v0.9h-0.9zM43.9 48.1h0.9v0.9h-0.9zM39.8 55.4h0.9v0.9h-0.9zM41.3 39.0h0.9v0.9h-0.9zM58.3 54.9h0.9v0.9h-0.9zM57.5 52.5h0.9v0.9h-0.9zM55.8 52.1h0.9v0.9h-0.9zM49.4 35.6h0.9v0.9h-0.9zM53.1 52.4h0.9v0.9h-0.9zM55.5 35.0h0.9v0.9h-0.9zM37.9 50.1h0.9v0.9h-0.9zM47.6 53.7h0.9v0.9h-0.9zM68.7 49.1h0.9v0.9h-0.9zM60.5 52.7h0.9v0.9h-0.9zM61.2 54.0h0.9v0.9h-0.9zM69.9 48.7h0.9v0.9h-0.9zM65.6 42.4h0.9v0.9h-0.9zM68.5 42.5h0.9v0.9h-0.9zM66.5 54.5h0.9v0.9h-0.9zM68.3 43.6h0.9v0.9h-0.9zM68.8 51.5h0.9v0.9h-0.9zM64.3 52.4h0.9v0.9h-0.9zM67.2 47.6h0.9v0.9h-0.9zM66.5 45.7h0.9v0.9h-0.9zM63.8 54.0h0.9v0.9h-0.9zM64.5 52.4h0.9v0.9h-0.9zM64.7 44.6h0.9v0.9h-0.9zM60.5 55.0h0.9v0.9h-0.9zM69.1 55.3h0.9v0.9h-0.9zM67.3 42.8h0.9v0.9h-0.9zM62.4 42.7h0.9v0.9h-0.9zM67.5 50.4h0.9v0.9h-0.9zM71.5 46.0h0.9v0.9h-0.9zM63.2 45.0h0.9v0.9h-0.9zM62.2 42.4h0.9v0.9h-0.9zM66.2 47.7h0.9v0.9h-0.9zM64.7 54.8h0.9v0.9h-0.9zM64.1 53.2h0.9v0.9h-0.9zM66.6 43.4h0.9v0.9h-0.9zM60.8 50.2h0.9v0.9h-0.9zM70.6 42.7h0.9v0.9h-0.9zM68.6 45.1h0.9v0.9h-0.9zM68.4 53.2h0.9v0.9h-0.9zM68.9 45.3h0.9v0.9h-0.9zM62.3 55.1h0.9v0.9h-0.9zM71.0 54.5h0.9v0.9h-0.9zM66.7 42.7h0.9v0.9h-0.9zM64.7 54.3h0.9v0.9h-0.9zM61.3 46.0h0.9v0.9h-0.9zM61.0 53.9h0.9v0.9h-0.9zM64.6 43.1h0.9v0.9h-0.9zM64.6 44.8h0.9v0.9h-0.9zM65.5 50.3h0.9v0.9h-0.9zM68.1 43.3h0.9v0.9h-0.9zM66.6 42.8h0.9v0.9h-0.9zM65.6 52.9h0.9v0.9h-0.9zM63.5 53.1h0.9v0.9h-0.9zM63.3 47.3h0.9v0.9h-0.9zM66.4 42.0h0.9v0.9h-0.9zM64.7 49.2h0.9v0.9h-0.9zM65.9 54.8h0.9v0.9h-0.9zM65.7 45.0h0.9v0.9h-0.9zM62.0 48.5h0.9v0.9h-0.9zM62.6 49.5h0.9v0.9h-0.9zM61.2 51.4h0.9v0.9h-0.9zM63.6 42.7h0.9v0.9h-0.9zM61.4 54.6h0.9v0.9h-0.9zM66.9 53.9h0.9v0.9h-0.9zM63.4 55.3h0.9v0.9h-0.9zM61.8 51.8h0.9v0.9h-0.9zM67.6 44.8h0.9v0.9h-0.9zM60.5 43.7h0.9v0.9h-0.9zM61.1 52.8h0.9v0.9h-0.9zM65.0 48.4h0.9v0.9h-0.9zM61.4 50.7h0.9v0.9h-0.9zM61.5 43.8h0.9v0.9h-0.9zM65.0 50.7h0.9v0.9h-0.9zM66.5 53.2h0.9v0.9h-0.9zM61.5 46.1h0.9v0.9h-0.9zM61.6 48.6h0.9v0.9h-0.9zM60.7 53.7h0.9v0.9h-0.9zM65.6 52.9h0.9v0.9h-0.9zM64.2 54.3h0.9v0.9h-0.9zM66.8 53.2h0.9v0.9h-0.9zM66.5 44.9h0.9v0.9h-0.9zM63.1 42.8h0.9v0.9h-0.9zM66.2 48.4h0.9v0.9h-0.9zM67.9 45.9h0.9v0.9h-0.9zM60.5 27.0h0.9v0.9h-0.9zM70.9 24.2h0.9v0.9h-0.9zM71.0 21.3h0.9v0.9h-0.9zM65.4 28.3h0.9v0.9h-0.9zM70.2 26.4h0.9v0.9h-0.9zM69.4 24.2h0.9v0.9h-0.9zM68.4 27.5h0.9v0.9h-0.9zM69.1 26.1h0.9v0.9h-0.9zM68.7 26.2h0.9v0.9h-0.9zM68.0 21.4h0.9v0.9h-0.9zM68.0 22.9h0.9v0.9h-0.9zM65.1 25.3h0.9v0.9h-0.9zM66.9 22.0h0.9v0.9h-0.9zM64.6 25.7h0.9v0.9h-0.9zM65.0 25.2h0.9v0.9h-0.9zM66.9 25.7h0.9v0.9h-0.9zM64.5 25.6h0.9v0.9h-0.9zM67.9 22.1h0.9v0.9h-0.9zM68.6 22.7h0.9v0.9h-0.9zM67.3 26.6h0.9v0.9h-0.9zM68.1 22.3h0.9v0.9h-0.9zM63.4 22.3h0.9v0.9h-0.9zM67.9 25.5h0.9v0.9h-0.9zM60.7 26.9h0.9v0.9h-0.9zM69.8 23.9h0.9v0.9h-0.9zM65.9 25.7h0.9v0.9h-0.9zM63.1 24.1h0.9v0.9h-0.9zM67.9 24.3h0.9v0.9h-0.9zM66.2 25.4h0.9v0.9h-0.9zM71.4 25.8h0.9v0.9h-0.9zM67.2 24.0h0.9v0.9h-0.9zM69.9 25.3h0.9v0.9h-0.9zM66.1 28.3h0.9v0.9h-0.9zM70.2 22.9h0.9v0.9h-0.9zM65.2 28.2h0.9v0.9h-0.9zM64.8 28.9h0.9v0.9h-0.9z"/>
<path fill="rgb(150,150,150)" d="M42.3 21.7h0.9v0.9h-0.9zM48.9 19.9h0.9v0.9h-0.9zM49.2 25.8h0.9v0.9h-0.9zM46.0 26.1h0.9v0.9h-0.9zM51.1 19.0h0.9v0.9h-0.9zM51.9 19.3h0.9v0.9h-0.9zM49.1 18.6h0.9v0.9h-0.9zM41.5 21.5h0.9v0.9h-0.9zM49.6 23.6h0.9v0.9h-0.9zM40.1 25.6h0.9v0.9h-0.9zM50.0 22.1h0.9v0.9h-0.9zM37.8 20.1h0.9v0.9h-0.9zM41.4 21.3h0.9v0.9h-0.9zM51.1 22.9h0.9v0.9h-0.9zM49.3 18.1h0.9v0.9h-0.9zM40.7 24.1h0.9v0.9h-0.9zM42.1 19.5h0.9v0.9h-0.9zM37.9 18.0h0.9v0.9h-0.9zM43.2 22.4h0.9v0.9h-0.9zM43.0 22.6h0.9v0.9h-0.9zM41.4 17.7h0.9v0.9h-0.9zM47.1 20.5h0.9v0.9h-0.9zM44.4 20.9h0.9v0.9h-0.9zM41.0 18.0h0.9v0.9h-0.9zM41.4 20.2h0.9v0.9h-0.9zM38.7 17.8h0.9v0.9h-0.9zM44.2 17.7h0.9v0.9h-0.9zM50.2 20.7h0.9v0.9h-0.9zM43.7 22.2h0.9v0.9h-0.9zM37.4 18.4h0.9v0.9h-0.9zM48.8 22.5h0.9v0.9h-0.9zM44.4 20.6h0.9v0.9h-0.9zM48.3 22.0h0.9v0.9h-0.9zM48.9 25.0h0.9v0.9h-0.9zM50.4 24.0h0.9v0.9h-0.9zM47.1 21.7h0.9v0.9h-0.9zM45.0 22.7h0.9v0.9h-0.9zM44.9 24.9h0.9v0.9h-0.9zM49.9 18.0h0.9v0.9h-0.9zM48.3 23.0h0.9v0.9h-0.9z"/>
<path fill="rgb(95,95,95)" d="M59.0 43.8h0.9v0.9h-0.9zM51.8 48.6h0.9v0.9h-0.9zM52.2 42.1h0.9v0.9h-0.9zM51.0 35.5h0.9v0.9h-0.9zM56.9 49.9h0.9v0.9h-0.9zM54.7 44.2h0.9v0.9h-0.9zM41.2 43.9h0.9v0.9h-0.9zM51.9 46.1h0.9v0.9h-0.9zM39.0 34.1h0.9v0.9h-0.9zM45.5 39.4h0.9v0.9h-0.9zM41.6 38.9h0.9v0.9h-0.9zM45.9 49.3h0.9v0.9h-0.9zM57.2 48.9h0.9v0.9h-0.9zM37.0 53.1h0.9v0.9h-0.9zM50.3 50.1h0.9v0.9h-0.9zM50.4 41.8h0.9v0.9h-0.9zM44.2 35.6h0.9v0.9h-0.9zM51.6 35.2h0.9v0.9h-0.9zM52.0 54.0h0.9v0.9h-0.9zM51.7 47.3h0.9v0.9h-0.9zM54.8 55.1h0.9v0.9h-0.9zM54.9 55.8h0.9v0.9h-0.9zM46.9 34.3h0.9v0.9h-0.9zM50.4 48.0h0.9v0.9h-0.9zM56.1 47.5h0.9v0.9h-0.9zM44.7 34.1h0.9v0.9h-0.9zM55.4 47.7h0.9v0.9h-0.9zM58.9 47.1h0.9v0.9h-0.9zM55.9 51.0h0.9v0.9h-0.9zM59.0 44.2h0.9v0.9h-0.9zM56.9 42.7h0.9v0.9h-0.9zM36.8 41.2h0.9v0.9h-0.9zM44.5 55.8h0.9v0.9h-0.9zM45.5 40.0h0.9v0.9h-0.9zM52.2 36.1h0.9v0.9h-0.9zM43.4 42.7h0.9v0.9h-0.9zM39.3 47.2h0.9v0.9h-0.9zM46.1 51.6h0.9v0.9h-0.9zM44.2 55.5h0.9v0.9h-0.9zM40.9 45.7h0.9v0.9h-0.9zM41.6 34.3h0.9v0.9h-0.9zM43.3 53.7h0.9v0.9h-0.9zM43.1 44.7h0.9v0.9h-0.9zM48.4 39.9h0.9v0.9h-0.9zM48.6 35.4h0.9v0.9h-0.9zM44.4 40.3h0.9v0.9h-0.9zM55.0 50.9h0.9v0.9h-0.9zM52.4 47.1h0.9v0.9h-0.9zM56.2 50.3h0.9v0.9h-0.9z"/>
<path fill="rgb(90,90,90)" d="M68.6 38.3h0.9v0.9h-0.9zM66.7 32.1h0.9v0.9h-0.9zM73.2 37.5h0.9v0.9h-0.9zM69.4 41.0h0.9v0.9h-0.9zM63.2 34.9h0.9v0.9h-0.9zM73.3 43.7h0.9v0.9h-0.9zM63.9 37.6h0.9v0.9h-0.9zM70.4 37.4h0.9v0.9h-0.9zM71.8 39.7h0.9v0.9h-0.9zM66.6 39.9h0.9v0.9h-0.9zM65.2 41.7h0.9v0.9h-0.9zM64.5 41.8h0.9v0.9h-0.9zM76.2 32.6h0.9v0.9h-0.9zM73.2 33.5h0.9v0.9h-0.9zM66.7 43.4h0.9v0.9h-0.9zM71.0 39.9h0.9v0.9h-0.9zM68.3 38.4h0.9v0.9h-0.9zM68.6 37.3h0.9v0.9h-0.9z"/>
</g>
</g></g>
<g clip-path="url(#c11)"><g transform="translate(0 50.40)">
<polygon points="100.80,12.80 145.00,12.80 145.00,15.20 100.80,15.20" fill="rgb(198,198,198)" opacity="1.0" filter="url(#b0_5)"/>
<polygon points="101.00,38.00 132.00,38.00 124.00,56.50 101.00,56.50" fill="rgb(140,140,140)" opacity="1.0" filter="url(#b1_4)"/>
<polygon points="101.00,29.00 110.00,28.00 118.00,25.00 125.00,21.50 131.00,20.50 135.50,28.00 134.00,38.00 124.00,37.60 114.00,35.00 101.00,33.00" fill="rgb(100,100,100)" opacity="1.0" filter="url(#b0_9)"/>
<ellipse cx="124.00" cy="30.50" rx="6.50" ry="3.80" fill="rgb(200,200,200)" opacity="1.0" filter="url(#b1_1)" transform="rotate(-12 124.00 30.50)"/>
<ellipse cx="107.00" cy="31.00" rx="5.00" ry="1.30" fill="rgb(150,150,150)" opacity="1.0" filter="url(#b0_9)" transform="rotate(-4 107.00 31.00)"/>
<polygon points="115.00,56.50 121.00,47.00 128.00,40.00 134.00,37.50 145.00,33.00 145.00,56.50" fill="rgb(110,110,110)" opacity="1.0" filter="url(#b1_2)"/>
<ellipse cx="129.00" cy="50.00" rx="5.00" ry="4.00" fill="rgb(140,140,140)" opacity="0.8" filter="url(#b1_6)"/>
<ellipse cx="140.80" cy="40.80" rx="3.80" ry="5.60" fill="rgb(110,110,110)" opacity="1.0" filter="url(#b0_8)" transform="rotate(12 140.80 40.80)"/>
<ellipse cx="140.80" cy="40.80" rx="2.20" ry="3.80" fill="rgb(225,225,225)" opacity="1.0" filter="url(#b0_7)" transform="rotate(12 140.80 40.80)"/>
<polygon points="132.00,37.60 145.00,31.30 145.00,33.30 133.00,39.40" fill="rgb(95,95,95)" opacity="1.0" filter="url(#b0_6)"/>
<g filter="url(#dsoft)">
<path fill="rgb(150,150,150)" d="M108.7 28.2h0.9v0.9h-0.9zM118.5 19.6h0.9v0.9h-0.9zM120.4 20.3h0.9v0.9h-0.9zM119.3 19.4h0.9v0.9h-0.9zM104.0 26.9h0.9v0.9h-0.9zM105.3 26.6h0.9v0.9h-0.9zM109.2 21.1h0.9v0.9h-0.9zM119.7 24.2h0.9v0.9h-0.9zM110.7 21.3h0.9v0.9h-0.9zM118.1 19.5h0.9v0.9h-0.9zM122.6 19.2h0.9v0.9h-0.9zM101.8 21.1h0.9v0.9h-0.9zM114.0 27.9h0.9v0.9h-0.9zM117.4 23.3h0.9v0.9h-0.9zM119.2 23.7h0.9v0.9h-0.9zM121.3 23.8h0.9v0.9h-0.9zM117.6 19.3h0.9v0.9h-0.9zM104.7 22.2h0.9v0.9h-0.9zM109.8 24.0h0.9v0.9h-0.9zM116.6 22.4h0.9v0.9h-0.9zM106.3 27.0h0.9v0.9h-0.9zM103.6 19.2h0.9v0.9h-0.9zM109.4 18.8h0.9v0.9h-0.9zM116.7 18.4h0.9v0.9h-0.9zM120.3 24.4h0.9v0.9h-0.9zM119.7 22.7h0.9v0.9h-0.9zM119.4 20.1h0.9v0.9h-0.9zM114.9 25.6h0.9v0.9h-0.9zM107.5 26.3h0.9v0.9h-0.9zM119.5 23.7h0.9v0.9h-0.9zM124.0 20.0h0.9v0.9h-0.9zM112.2 22.1h0.9v0.9h-0.9zM123.0 26.1h0.9v0.9h-0.9zM106.6 29.4h0.9v0.9h-0.9zM130.5 22.9h0.9v0.9h-0.9zM130.9 24.7h0.9v0.9h-0.9zM101.5 24.3h0.9v0.9h-0.9zM122.6 24.6h0.9v0.9h-0.9zM124.5 22.1h0.9v0.9h-0.9zM123.3 24.5h0.9v0.9h-0.9zM120.0 23.7h0.9v0.9h-0.9zM121.0 23.8h0.9v0.9h-0.9zM103.7 25.4h0.9v0.9h-0.9zM122.1 22.0h0.9v0.9h-0.9zM130.1 22.7h0.9v0.9h-0.9zM106.0 23.2h0.9v0.9h-0.9zM111.7 18.3h0.9v0.9h-0.9zM127.7 18.5h0.9v0.9h-0.9zM122.4 18.4h0.9v0.9h-0.9zM103.7 28.0h0.9v0.9h-0.9zM101.2 29.7h0.9v0.9h-0.9zM128.3 22.3h0.9v0.9h-0.9zM120.1 22.4h0.9v0.9h-0.9zM105.9 21.0h0.9v0.9h-0.9zM114.2 28.2h0.9v0.9h-0.9zM104.4 23.5h0.9v0.9h-0.9zM115.1 23.7h0.9v0.9h-0.9zM124.8 24.4h0.9v0.9h-0.9zM119.0 19.8h0.9v0.9h-0.9zM117.4 28.1h0.9v0.9h-0.9zM102.4 25.1h0.9v0.9h-0.9zM115.6 20.0h0.9v0.9h-0.9zM105.8 19.2h0.9v0.9h-0.9zM114.1 21.9h0.9v0.9h-0.9zM119.0 19.8h0.9v0.9h-0.9zM119.6 22.6h0.9v0.9h-0.9zM124.9 27.3h0.9v0.9h-0.9zM117.4 20.7h0.9v0.9h-0.9zM108.6 26.0h0.9v0.9h-0.9zM114.1 25.6h0.9v0.9h-0.9zM108.7 28.0h0.9v0.9h-0.9zM108.9 28.2h0.9v0.9h-0.9zM114.2 21.6h0.9v0.9h-0.9zM118.3 23.3h0.9v0.9h-0.9zM117.4 23.8h0.9v0.9h-0.9zM129.5 26.4h0.9v0.9h-0.9zM125.6 19.9h0.9v0.9h-0.9zM115.9 27.8h0.9v0.9h-0.9zM110.5 22.9h0.9v0.9h-0.9zM130.1 25.1h0.9v0.9h-0.9zM126.6 24.3h0.9v0.9h-0.9zM128.3 25.4h0.9v0.9h-0.9zM108.2 21.2h0.9v0.9h-0.9zM128.7 22.8h0.9v0.9h-0.9zM107.0 22.9h0.9v0.9h-0.9zM125.2 19.8h0.9v0.9h-0.9zM118.6 17.3h0.9v0.9h-0.9zM108.2 18.6h0.9v0.9h-0.9zM116.2 25.6h0.9v0.9h-0.9zM107.8 25.6h0.9v0.9h-0.9zM118.6 26.5h0.9v0.9h-0.9zM130.9 20.7h0.9v0.9h-0.9zM130.9 22.4h0.9v0.9h-0.9zM116.3 18.5h0.9v0.9h-0.9zM103.5 25.0h0.9v0.9h-0.9zM103.5 23.6h0.9v0.9h-0.9zM106.9 19.7h0.9v0.9h-0.9zM124.0 22.2h0.9v0.9h-0.9zM105.4 25.5h0.9v0.9h-0.9zM130.8 24.7h0.9v0.9h-0.9zM114.4 23.5h0.9v0.9h-0.9zM122.1 27.7h0.9v0.9h-0.9zM124.6 19.5h0.9v0.9h-0.9zM124.4 17.5h0.9v0.9h-0.9zM104.8 23.1h0.9v0.9h-0.9zM137.1 30.6h0.9v0.9h-0.9zM144.2 23.9h0.9v0.9h-0.9zM141.8 24.6h0.9v0.9h-0.9zM136.6 17.8h0.9v0.9h-0.9zM140.2 32.6h0.9v0.9h-0.9zM140.6 21.4h0.9v0.9h-0.9zM138.4 22.1h0.9v0.9h-0.9zM136.5 29.8h0.9v0.9h-0.9zM138.2 18.2h0.9v0.9h-0.9zM141.3 20.2h0.9v0.9h-0.9zM136.6 20.1h0.9v0.9h-0.9zM139.4 23.5h0.9v0.9h-0.9zM140.6 23.4h0.9v0.9h-0.9zM142.0 25.7h0.9v0.9h-0.9zM134.5 21.0h0.9v0.9h-0.9zM144.3 24.4h0.9v0.9h-0.9zM141.3 18.4h0.9v0.9h-0.9zM139.8 17.7h0.9v0.9h-0.9zM134.1 17.9h0.9v0.9h-0.9zM144.5 22.3h0.9v0.9h-0.9zM140.3 16.3h0.9v0.9h-0.9zM141.7 16.7h0.9v0.9h-0.9zM141.7 19.8h0.9v0.9h-0.9zM138.1 30.3h0.9v0.9h-0.9zM139.5 25.2h0.9v0.9h-0.9zM133.6 16.8h0.9v0.9h-0.9zM139.3 24.0h0.9v0.9h-0.9zM139.9 25.9h0.9v0.9h-0.9zM140.0 23.1h0.9v0.9h-0.9zM142.8 25.3h0.9v0.9h-0.9zM142.6 29.8h0.9v0.9h-0.9zM140.7 25.7h0.9v0.9h-0.9zM134.5 17.4h0.9v0.9h-0.9zM140.3 20.1h0.9v0.9h-0.9zM139.6 25.7h0.9v0.9h-0.9zM139.5 23.4h0.9v0.9h-0.9zM134.4 21.1h0.9v0.9h-0.9zM140.8 31.9h0.9v0.9h-0.9zM135.5 21.3h0.9v0.9h-0.9zM137.3 23.4h0.9v0.9h-0.9zM139.9 29.5h0.9v0.9h-0.9zM141.7 30.5h0.9v0.9h-0.9zM137.3 23.8h0.9v0.9h-0.9zM140.1 21.3h0.9v0.9h-0.9zM142.6 23.2h0.9v0.9h-0.9zM138.8 25.1h0.9v0.9h-0.9zM136.1 15.7h0.9v0.9h-0.9zM134.9 24.3h0.9v0.9h-0.9zM144.3 18.0h0.9v0.9h-0.9zM142.1 20.7h0.9v0.9h-0.9zM144.1 28.0h0.9v0.9h-0.9zM142.5 30.9h0.9v0.9h-0.9zM137.9 30.6h0.9v0.9h-0.9zM135.0 27.8h0.9v0.9h-0.9zM133.0 20.2h0.9v0.9h-0.9zM139.2 28.7h0.9v0.9h-0.9zM136.9 32.8h0.9v0.9h-0.9zM141.1 26.0h0.9v0.9h-0.9zM143.2 18.8h0.9v0.9h-0.9zM135.1 25.7h0.9v0.9h-0.9z"/>
<path fill="rgb(115,115,115)" d="M122.1 38.9h0.9v0.9h-0.9zM107.4 52.1h0.9v0.9h-0.9zM120.5 53.8h0.9v0.9h-0.9zM118.1 42.7h0.9v0.9h-0.9zM115.6 46.6h0.9v0.9h-0.9zM111.9 48.7h0.9v0.9h-0.9zM105.6 42.7h0.9v0.9h-0.9zM104.7 38.5h0.9v0.9h-0.9zM117.3 51.6h0.9v0.9h-0.9zM113.5 54.7h0.9v0.9h-0.9zM119.9 50.2h0.9v0.9h-0.9zM109.9 54.6h0.9v0.9h-0.9zM111.8 53.6h0.9v0.9h-0.9zM108.6 55.6h0.9v0.9h-0.9zM122.2 41.3h0.9v0.9h-0.9zM123.7 40.9h0.9v0.9h-0.9zM112.9 45.0h0.9v0.9h-0.9zM111.4 44.7h0.9v0.9h-0.9zM106.0 45.4h0.9v0.9h-0.9zM103.9 52.7h0.9v0.9h-0.9zM112.0 51.2h0.9v0.9h-0.9zM114.3 56.0h0.9v0.9h-0.9zM119.4 39.3h0.9v0.9h-0.9zM112.3 44.1h0.9v0.9h-0.9zM120.3 38.1h0.9v0.9h-0.9zM124.4 39.4h0.9v0.9h-0.9zM114.1 47.0h0.9v0.9h-0.9zM105.6 50.3h0.9v0.9h-0.9zM108.3 49.4h0.9v0.9h-0.9zM113.8 55.7h0.9v0.9h-0.9zM114.9 43.0h0.9v0.9h-0.9zM110.6 55.7h0.9v0.9h-0.9zM111.8 42.5h0.9v0.9h-0.9zM117.6 50.4h0.9v0.9h-0.9zM130.2 39.5h0.9v0.9h-0.9zM111.2 51.4h0.9v0.9h-0.9zM116.4 50.8h0.9v0.9h-0.9zM121.9 39.7h0.9v0.9h-0.9zM102.6 41.3h0.9v0.9h-0.9zM110.4 41.4h0.9v0.9h-0.9zM109.9 40.1h0.9v0.9h-0.9zM101.8 47.7h0.9v0.9h-0.9zM124.5 41.0h0.9v0.9h-0.9zM103.9 51.5h0.9v0.9h-0.9zM103.5 40.6h0.9v0.9h-0.9zM116.2 43.5h0.9v0.9h-0.9zM125.3 47.4h0.9v0.9h-0.9zM117.2 44.9h0.9v0.9h-0.9zM101.9 53.2h0.9v0.9h-0.9zM113.1 53.3h0.9v0.9h-0.9zM104.3 46.0h0.9v0.9h-0.9zM117.7 40.9h0.9v0.9h-0.9zM103.3 55.3h0.9v0.9h-0.9zM117.9 51.6h0.9v0.9h-0.9zM119.6 46.8h0.9v0.9h-0.9zM106.3 49.9h0.9v0.9h-0.9zM114.7 50.6h0.9v0.9h-0.9zM102.3 43.4h0.9v0.9h-0.9zM104.5 52.1h0.9v0.9h-0.9zM115.9 43.3h0.9v0.9h-0.9zM125.2 47.6h0.9v0.9h-0.9zM110.0 45.3h0.9v0.9h-0.9z"/>
<path fill="rgb(75,75,75)" d="M131.3 30.0h0.9v0.9h-0.9zM133.5 29.9h0.9v0.9h-0.9zM124.5 22.3h0.9v0.9h-0.9zM116.1 31.2h0.9v0.9h-0.9zM115.1 31.9h0.9v0.9h-0.9zM112.8 32.0h0.9v0.9h-0.9zM108.2 29.1h0.9v0.9h-0.9zM115.8 29.7h0.9v0.9h-0.9zM125.7 23.4h0.9v0.9h-0.9zM122.0 33.3h0.9v0.9h-0.9zM127.6 37.4h0.9v0.9h-0.9zM114.4 27.4h0.9v0.9h-0.9zM120.2 33.3h0.9v0.9h-0.9zM130.7 29.4h0.9v0.9h-0.9zM124.9 21.9h0.9v0.9h-0.9zM123.8 36.8h0.9v0.9h-0.9zM122.2 29.1h0.9v0.9h-0.9zM118.6 27.7h0.9v0.9h-0.9zM128.4 29.5h0.9v0.9h-0.9zM102.3 31.3h0.9v0.9h-0.9zM129.7 31.9h0.9v0.9h-0.9zM107.3 29.4h0.9v0.9h-0.9zM123.3 32.2h0.9v0.9h-0.9zM115.6 28.5h0.9v0.9h-0.9zM133.0 31.9h0.9v0.9h-0.9zM117.1 33.6h0.9v0.9h-0.9zM126.5 25.9h0.9v0.9h-0.9zM103.4 33.3h0.9v0.9h-0.9zM126.8 31.0h0.9v0.9h-0.9zM105.0 33.5h0.9v0.9h-0.9zM122.5 31.6h0.9v0.9h-0.9zM126.3 22.4h0.9v0.9h-0.9zM130.4 31.5h0.9v0.9h-0.9zM129.9 35.2h0.9v0.9h-0.9zM125.2 24.1h0.9v0.9h-0.9zM106.5 33.3h0.9v0.9h-0.9zM127.3 25.2h0.9v0.9h-0.9zM126.5 31.9h0.9v0.9h-0.9zM129.7 33.8h0.9v0.9h-0.9zM116.9 28.3h0.9v0.9h-0.9zM123.0 34.3h0.9v0.9h-0.9zM131.3 26.6h0.9v0.9h-0.9zM102.0 31.0h0.9v0.9h-0.9zM120.3 33.2h0.9v0.9h-0.9zM127.2 23.4h0.9v0.9h-0.9zM124.0 28.2h0.9v0.9h-0.9z"/>
<path fill="rgb(85,85,85)" d="M125.9 50.3h0.9v0.9h-0.9zM131.6 40.5h0.9v0.9h-0.9zM137.6 52.7h0.9v0.9h-0.9zM123.9 52.4h0.9v0.9h-0.9zM133.1 45.7h0.9v0.9h-0.9zM130.7 40.2h0.9v0.9h-0.9zM129.5 41.6h0.9v0.9h-0.9zM132.6 48.8h0.9v0.9h-0.9zM123.3 47.3h0.9v0.9h-0.9zM122.8 50.5h0.9v0.9h-0.9zM121.1 47.0h0.9v0.9h-0.9zM137.1 51.8h0.9v0.9h-0.9zM130.9 54.4h0.9v0.9h-0.9zM144.6 51.6h0.9v0.9h-0.9zM134.5 42.1h0.9v0.9h-0.9zM142.6 52.0h0.9v0.9h-0.9zM130.9 41.0h0.9v0.9h-0.9zM118.3 53.5h0.9v0.9h-0.9zM144.4 41.9h0.9v0.9h-0.9zM138.2 43.6h0.9v0.9h-0.9zM144.1 34.9h0.9v0.9h-0.9zM129.2 48.2h0.9v0.9h-0.9zM125.2 48.9h0.9v0.9h-0.9zM143.3 54.5h0.9v0.9h-0.9zM138.3 44.9h0.9v0.9h-0.9zM138.5 47.9h0.9v0.9h-0.9zM143.6 34.1h0.9v0.9h-0.9zM118.1 54.7h0.9v0.9h-0.9zM121.6 47.0h0.9v0.9h-0.9zM132.5 42.4h0.9v0.9h-0.9zM135.9 41.7h0.9v0.9h-0.9zM133.0 52.2h0.9v0.9h-0.9zM125.6 54.9h0.9v0.9h-0.9zM132.5 40.3h0.9v0.9h-0.9zM140.2 43.5h0.9v0.9h-0.9zM142.4 38.2h0.9v0.9h-0.9zM128.7 55.6h0.9v0.9h-0.9zM131.4 48.0h0.9v0.9h-0.9zM133.1 38.6h0.9v0.9h-0.9zM141.1 51.9h0.9v0.9h-0.9zM140.7 38.0h0.9v0.9h-0.9zM124.3 47.1h0.9v0.9h-0.9zM133.5 47.7h0.9v0.9h-0.9zM117.6 53.6h0.9v0.9h-0.9zM143.8 36.4h0.9v0.9h-0.9z"/>
</g>
</g></g>
<g clip-path="url(#c12)"><g transform="translate(0 50.40)">
<polygon points="166.00,36.50 171.00,28.00 178.00,21.50 184.60,20.50 184.60,36.50" fill="rgb(160,160,160)" opacity="1.0" filter="url(#b1_6)"/>
<ellipse cx="178.50" cy="29.50" rx="4.50" ry="7.50" fill="rgb(140,140,140)" opacity="1.0" filter="url(#b1_6)" transform="rotate(25 178.50 29.50)"/>
<polygon points="164.60,36.60 184.60,36.60 184.60,55.80 164.60,55.80" fill="rgb(135,135,135)" opacity="1.0" filter="url(#b1_2)"/>
<ellipse cx="171.00" cy="49.00" rx="6.00" ry="5.00" fill="rgb(120,120,120)" opacity="0.8" filter="url(#b2_0)"/>
<polygon points="183.40,37.00 186.80,37.00 186.80,55.50 183.40,55.50" fill="rgb(115,115,115)" opacity="1.0" filter="url(#b0_9)"/>
<polygon points="185.50,37.50 193.00,37.50 198.00,42.00 197.00,55.50 185.50,55.50" fill="rgb(180,180,180)" opacity="1.0" filter="url(#b1_8)"/>
<g filter="url(#dsoft)">
<path fill="rgb(150,150,150)" d="M183.9 29.8h0.9v0.9h-0.9zM171.8 24.3h0.9v0.9h-0.9zM174.2 22.9h0.9v0.9h-0.9zM183.1 34.5h0.9v0.9h-0.9zM174.5 33.0h0.9v0.9h-0.9zM171.6 32.1h0.9v0.9h-0.9zM180.1 25.0h0.9v0.9h-0.9zM179.4 25.0h0.9v0.9h-0.9zM166.8 31.5h0.9v0.9h-0.9zM169.6 27.6h0.9v0.9h-0.9zM180.8 29.4h0.9v0.9h-0.9zM182.8 31.6h0.9v0.9h-0.9zM178.4 31.9h0.9v0.9h-0.9zM178.4 35.1h0.9v0.9h-0.9zM176.5 30.5h0.9v0.9h-0.9zM175.6 28.3h0.9v0.9h-0.9zM183.4 24.1h0.9v0.9h-0.9zM168.3 27.7h0.9v0.9h-0.9zM170.8 31.4h0.9v0.9h-0.9zM168.7 29.8h0.9v0.9h-0.9zM172.5 30.8h0.9v0.9h-0.9zM178.4 36.0h0.9v0.9h-0.9zM166.3 29.7h0.9v0.9h-0.9zM176.8 29.6h0.9v0.9h-0.9zM174.7 27.8h0.9v0.9h-0.9zM184.4 34.2h0.9v0.9h-0.9zM173.2 33.2h0.9v0.9h-0.9zM177.9 33.1h0.9v0.9h-0.9zM184.6 20.1h0.9v0.9h-0.9zM181.0 35.2h0.9v0.9h-0.9zM169.0 27.4h0.9v0.9h-0.9zM182.4 31.6h0.9v0.9h-0.9zM176.3 34.6h0.9v0.9h-0.9zM183.1 20.4h0.9v0.9h-0.9zM183.9 24.0h0.9v0.9h-0.9zM176.8 32.1h0.9v0.9h-0.9zM182.7 32.8h0.9v0.9h-0.9zM184.1 20.5h0.9v0.9h-0.9zM177.1 31.9h0.9v0.9h-0.9zM183.7 31.6h0.9v0.9h-0.9zM176.0 24.5h0.9v0.9h-0.9zM178.3 33.2h0.9v0.9h-0.9zM184.2 25.2h0.9v0.9h-0.9zM175.2 33.2h0.9v0.9h-0.9zM165.0 34.3h0.9v0.9h-0.9zM180.1 31.8h0.9v0.9h-0.9zM171.4 27.5h0.9v0.9h-0.9zM183.4 19.9h0.9v0.9h-0.9zM166.2 30.1h0.9v0.9h-0.9zM183.6 21.4h0.9v0.9h-0.9zM168.3 26.9h0.9v0.9h-0.9zM180.4 28.8h0.9v0.9h-0.9zM168.5 29.2h0.9v0.9h-0.9zM179.1 20.4h0.9v0.9h-0.9zM172.8 24.7h0.9v0.9h-0.9zM177.5 35.7h0.9v0.9h-0.9zM177.2 35.1h0.9v0.9h-0.9zM167.1 29.7h0.9v0.9h-0.9zM171.8 33.8h0.9v0.9h-0.9zM176.5 29.7h0.9v0.9h-0.9zM182.9 35.7h0.9v0.9h-0.9zM169.0 31.2h0.9v0.9h-0.9zM182.4 21.0h0.9v0.9h-0.9zM169.9 28.0h0.9v0.9h-0.9zM165.6 32.5h0.9v0.9h-0.9zM178.9 20.9h0.9v0.9h-0.9zM177.0 21.1h0.9v0.9h-0.9zM170.2 26.8h0.9v0.9h-0.9zM175.4 30.4h0.9v0.9h-0.9zM183.1 24.7h0.9v0.9h-0.9zM179.3 25.3h0.9v0.9h-0.9zM173.0 33.6h0.9v0.9h-0.9zM173.3 33.2h0.9v0.9h-0.9zM174.0 29.1h0.9v0.9h-0.9zM169.6 26.0h0.9v0.9h-0.9zM179.1 20.3h0.9v0.9h-0.9zM173.6 23.3h0.9v0.9h-0.9zM170.3 24.8h0.9v0.9h-0.9zM168.5 29.0h0.9v0.9h-0.9zM181.3 30.9h0.9v0.9h-0.9zM182.3 21.2h0.9v0.9h-0.9zM174.7 33.6h0.9v0.9h-0.9z"/>
<path fill="rgb(135,135,135)" d="M181.5 34.3h0.9v0.9h-0.9zM172.3 27.4h0.9v0.9h-0.9zM168.4 34.5h0.9v0.9h-0.9zM169.3 34.1h0.9v0.9h-0.9zM184.5 31.9h0.9v0.9h-0.9zM179.7 26.2h0.9v0.9h-0.9zM184.2 35.9h0.9v0.9h-0.9zM177.8 24.1h0.9v0.9h-0.9zM175.0 34.3h0.9v0.9h-0.9zM184.6 33.6h0.9v0.9h-0.9zM170.5 36.3h0.9v0.9h-0.9zM169.9 35.8h0.9v0.9h-0.9zM180.8 32.3h0.9v0.9h-0.9zM183.4 25.3h0.9v0.9h-0.9zM180.4 29.1h0.9v0.9h-0.9zM175.1 28.9h0.9v0.9h-0.9zM183.1 33.9h0.9v0.9h-0.9zM173.3 34.1h0.9v0.9h-0.9zM184.0 33.6h0.9v0.9h-0.9zM170.9 32.9h0.9v0.9h-0.9zM173.9 29.8h0.9v0.9h-0.9z"/>
<path fill="rgb(115,115,115)" d="M175.8 25.4h0.9v0.9h-0.9zM169.0 33.5h0.9v0.9h-0.9zM175.2 36.2h0.9v0.9h-0.9zM181.3 36.1h0.9v0.9h-0.9zM177.4 28.1h0.9v0.9h-0.9zM184.1 22.7h0.9v0.9h-0.9zM179.1 37.3h0.9v0.9h-0.9zM181.2 29.6h0.9v0.9h-0.9zM182.4 23.7h0.9v0.9h-0.9zM177.1 26.8h0.9v0.9h-0.9zM173.5 35.6h0.9v0.9h-0.9zM184.2 20.4h0.9v0.9h-0.9zM180.4 33.1h0.9v0.9h-0.9zM179.3 26.5h0.9v0.9h-0.9zM183.1 33.0h0.9v0.9h-0.9zM182.2 23.5h0.9v0.9h-0.9zM175.4 32.7h0.9v0.9h-0.9zM179.7 28.0h0.9v0.9h-0.9zM180.8 22.9h0.9v0.9h-0.9zM171.5 29.1h0.9v0.9h-0.9z"/>
<path fill="rgb(110,110,110)" d="M177.2 53.6h0.9v0.9h-0.9zM168.5 44.4h0.9v0.9h-0.9zM170.4 46.2h0.9v0.9h-0.9zM179.7 55.6h0.9v0.9h-0.9zM182.8 53.0h0.9v0.9h-0.9zM184.1 50.7h0.9v0.9h-0.9zM179.3 38.3h0.9v0.9h-0.9zM172.8 46.0h0.9v0.9h-0.9zM166.7 53.9h0.9v0.9h-0.9zM172.1 41.3h0.9v0.9h-0.9zM166.2 46.9h0.9v0.9h-0.9zM171.3 54.8h0.9v0.9h-0.9zM177.3 44.9h0.9v0.9h-0.9zM167.8 37.5h0.9v0.9h-0.9zM178.4 48.4h0.9v0.9h-0.9zM174.5 46.3h0.9v0.9h-0.9zM172.8 54.0h0.9v0.9h-0.9zM165.7 41.0h0.9v0.9h-0.9zM180.5 42.7h0.9v0.9h-0.9zM171.2 44.9h0.9v0.9h-0.9zM170.5 51.2h0.9v0.9h-0.9zM166.5 47.3h0.9v0.9h-0.9zM178.9 43.2h0.9v0.9h-0.9zM179.2 43.4h0.9v0.9h-0.9zM177.1 38.6h0.9v0.9h-0.9zM171.0 47.4h0.9v0.9h-0.9zM176.8 45.5h0.9v0.9h-0.9zM165.3 47.0h0.9v0.9h-0.9zM181.9 41.8h0.9v0.9h-0.9zM168.8 48.5h0.9v0.9h-0.9zM169.2 38.6h0.9v0.9h-0.9zM166.1 48.6h0.9v0.9h-0.9zM182.2 51.4h0.9v0.9h-0.9zM176.4 53.4h0.9v0.9h-0.9zM181.6 41.8h0.9v0.9h-0.9zM172.2 55.3h0.9v0.9h-0.9zM183.5 48.9h0.9v0.9h-0.9zM177.2 43.2h0.9v0.9h-0.9zM166.4 42.9h0.9v0.9h-0.9zM169.2 48.7h0.9v0.9h-0.9zM177.7 48.7h0.9v0.9h-0.9zM182.8 36.6h0.9v0.9h-0.9zM168.7 38.5h0.9v0.9h-0.9zM172.0 54.1h0.9v0.9h-0.9zM174.0 51.9h0.9v0.9h-0.9zM168.3 43.4h0.9v0.9h-0.9z"/>
<path fill="rgb(155,155,155)" d="M195.5 42.8h0.9v0.9h-0.9zM194.6 48.3h0.9v0.9h-0.9zM190.0 55.2h0.9v0.9h-0.9zM190.2 42.5h0.9v0.9h-0.9zM194.2 46.2h0.9v0.9h-0.9zM193.3 44.5h0.9v0.9h-0.9zM188.9 42.7h0.9v0.9h-0.9zM188.3 50.0h0.9v0.9h-0.9zM186.6 39.6h0.9v0.9h-0.9zM191.8 55.3h0.9v0.9h-0.9zM195.3 49.5h0.9v0.9h-0.9zM194.8 41.2h0.9v0.9h-0.9zM191.9 37.8h0.9v0.9h-0.9zM192.0 38.1h0.9v0.9h-0.9zM186.9 39.7h0.9v0.9h-0.9zM189.8 46.1h0.9v0.9h-0.9zM188.2 38.9h0.9v0.9h-0.9zM187.0 54.6h0.9v0.9h-0.9zM187.2 41.1h0.9v0.9h-0.9zM187.4 49.2h0.9v0.9h-0.9zM196.1 43.2h0.9v0.9h-0.9zM194.7 54.4h0.9v0.9h-0.9z"/>
<path fill="rgb(160,160,160)" d="M204.8 55.4h0.9v0.9h-0.9zM201.8 51.9h0.9v0.9h-0.9zM200.4 45.0h0.9v0.9h-0.9zM197.6 54.7h0.9v0.9h-0.9zM197.6 37.5h0.9v0.9h-0.9zM194.8 53.5h0.9v0.9h-0.9zM200.6 46.2h0.9v0.9h-0.9zM205.6 51.4h0.9v0.9h-0.9zM189.9 50.3h0.9v0.9h-0.9zM204.1 37.1h0.9v0.9h-0.9zM205.6 45.2h0.9v0.9h-0.9zM203.7 37.2h0.9v0.9h-0.9zM192.0 42.8h0.9v0.9h-0.9zM189.8 49.5h0.9v0.9h-0.9zM202.5 49.3h0.9v0.9h-0.9zM205.0 39.2h0.9v0.9h-0.9zM191.3 44.6h0.9v0.9h-0.9zM202.4 51.0h0.9v0.9h-0.9zM206.8 53.6h0.9v0.9h-0.9zM196.7 51.1h0.9v0.9h-0.9zM203.0 46.9h0.9v0.9h-0.9zM199.9 53.2h0.9v0.9h-0.9zM203.3 40.0h0.9v0.9h-0.9zM185.7 50.4h0.9v0.9h-0.9zM202.9 40.6h0.9v0.9h-0.9zM203.7 51.4h0.9v0.9h-0.9zM188.6 39.9h0.9v0.9h-0.9zM199.5 48.8h0.9v0.9h-0.9zM188.5 54.3h0.9v0.9h-0.9zM189.7 52.8h0.9v0.9h-0.9zM205.8 39.3h0.9v0.9h-0.9zM200.4 47.4h0.9v0.9h-0.9zM205.1 45.4h0.9v0.9h-0.9zM194.1 41.4h0.9v0.9h-0.9zM203.6 43.1h0.9v0.9h-0.9zM205.0 37.7h0.9v0.9h-0.9zM204.6 37.4h0.9v0.9h-0.9zM200.9 55.0h0.9v0.9h-0.9zM192.1 48.2h0.9v0.9h-0.9zM194.1 38.2h0.9v0.9h-0.9zM203.5 46.4h0.9v0.9h-0.9zM202.6 37.7h0.9v0.9h-0.9zM188.6 41.4h0.9v0.9h-0.9zM203.0 37.4h0.9v0.9h-0.9zM185.5 44.2h0.9v0.9h-0.9zM193.5 53.1h0.9v0.9h-0.9zM203.9 41.6h0.9v0.9h-0.9zM201.3 43.8h0.9v0.9h-0.9zM201.9 49.5h0.9v0.9h-0.9zM186.5 45.9h0.9v0.9h-0.9zM194.3 45.7h0.9v0.9h-0.9zM197.2 50.1h0.9v0.9h-0.9zM193.8 46.9h0.9v0.9h-0.9zM203.2 49.9h0.9v0.9h-0.9zM189.3 39.6h0.9v0.9h-0.9zM191.0 55.1h0.9v0.9h-0.9zM193.5 53.7h0.9v0.9h-0.9zM206.2 50.3h0.9v0.9h-0.9zM193.1 51.2h0.9v0.9h-0.9zM196.0 55.1h0.9v0.9h-0.9zM196.0 49.1h0.9v0.9h-0.9zM200.1 49.0h0.9v0.9h-0.9zM188.9 47.8h0.9v0.9h-0.9zM194.4 49.9h0.9v0.9h-0.9zM202.0 40.9h0.9v0.9h-0.9zM193.1 41.9h0.9v0.9h-0.9zM206.2 46.3h0.9v0.9h-0.9zM194.9 55.3h0.9v0.9h-0.9zM202.2 53.3h0.9v0.9h-0.9zM196.1 39.4h0.9v0.9h-0.9zM193.2 38.6h0.9v0.9h-0.9zM193.8 45.6h0.9v0.9h-0.9zM195.5 55.6h0.9v0.9h-0.9zM196.7 40.2h0.9v0.9h-0.9zM188.9 49.9h0.9v0.9h-0.9zM196.3 44.8h0.9v0.9h-0.9zM195.9 44.8h0.9v0.9h-0.9zM199.9 48.3h0.9v0.9h-0.9zM186.1 46.4h0.9v0.9h-0.9zM190.5 48.1h0.9v0.9h-0.9zM195.2 51.5h0.9v0.9h-0.9zM206.2 51.1h0.9v0.9h-0.9zM198.6 46.6h0.9v0.9h-0.9zM187.5 50.9h0.9v0.9h-0.9zM189.3 44.2h0.9v0.9h-0.9zM197.8 42.0h0.9v0.9h-0.9zM204.0 47.4h0.9v0.9h-0.9zM206.4 37.4h0.9v0.9h-0.9zM195.2 43.1h0.9v0.9h-0.9zM197.6 49.3h0.9v0.9h-0.9zM198.0 54.9h0.9v0.9h-0.9zM194.7 44.0h0.9v0.9h-0.9zM201.5 47.5h0.9v0.9h-0.9zM190.9 54.5h0.9v0.9h-0.9zM190.0 38.4h0.9v0.9h-0.9zM196.8 54.3h0.9v0.9h-0.9zM203.8 52.5h0.9v0.9h-0.9zM198.4 46.7h0.9v0.9h-0.9zM191.4 40.1h0.9v0.9h-0.9zM194.7 52.8h0.9v0.9h-0.9zM197.2 55.6h0.9v0.9h-0.9zM202.6 47.3h0.9v0.9h-0.9zM198.0 44.9h0.9v0.9h-0.9zM205.0 52.8h0.9v0.9h-0.9zM188.9 54.1h0.9v0.9h-0.9zM199.9 43.8h0.9v0.9h-0.9zM201.4 45.0h0.9v0.9h-0.9zM200.3 46.6h0.9v0.9h-0.9zM198.9 54.5h0.9v0.9h-0.9zM204.6 46.1h0.9v0.9h-0.9zM193.5 50.6h0.9v0.9h-0.9zM199.7 38.8h0.9v0.9h-0.9zM196.2 42.3h0.9v0.9h-0.9zM199.3 40.2h0.9v0.9h-0.9zM191.6 41.8h0.9v0.9h-0.9zM191.2 47.7h0.9v0.9h-0.9zM204.0 49.2h0.9v0.9h-0.9zM199.2 51.5h0.9v0.9h-0.9zM193.6 45.1h0.9v0.9h-0.9zM199.3 40.9h0.9v0.9h-0.9zM201.6 54.5h0.9v0.9h-0.9zM204.4 38.2h0.9v0.9h-0.9zM205.1 41.3h0.9v0.9h-0.9zM187.9 48.7h0.9v0.9h-0.9zM192.6 40.4h0.9v0.9h-0.9z"/>
</g>
</g></g>
<g clip-path="url(#c13)"><g transform="translate(0 50.40)">
<ellipse cx="237.50" cy="46.50" rx="7.00" ry="5.00" fill="rgb(180,180,180)" opacity="1.0" filter="url(#b1_6)"/>
<ellipse cx="257.50" cy="46.00" rx="3.50" ry="6.50" fill="rgb(165,165,165)" opacity="1.0" filter="url(#b1_5)"/>
<ellipse cx="253.00" cy="31.00" rx="8.00" ry="3.00" fill="rgb(240,240,240)" opacity="1.0" filter="url(#b2_0)"/>
<g filter="url(#dsoft)">
<path fill="rgb(155,155,155)" d="M233.4 44.2h0.9v0.9h-0.9zM232.6 45.7h0.9v0.9h-0.9zM232.1 43.0h0.9v0.9h-0.9zM236.3 41.9h0.9v0.9h-0.9zM239.7 43.5h0.9v0.9h-0.9zM236.2 45.4h0.9v0.9h-0.9zM241.5 48.1h0.9v0.9h-0.9zM236.2 44.5h0.9v0.9h-0.9zM240.9 45.9h0.9v0.9h-0.9zM232.8 46.7h0.9v0.9h-0.9zM239.9 46.2h0.9v0.9h-0.9zM237.4 50.8h0.9v0.9h-0.9zM235.0 48.6h0.9v0.9h-0.9zM243.8 51.4h0.9v0.9h-0.9zM232.3 47.9h0.9v0.9h-0.9zM237.8 53.5h0.9v0.9h-0.9zM242.6 49.4h0.9v0.9h-0.9zM242.2 48.0h0.9v0.9h-0.9zM232.8 53.1h0.9v0.9h-0.9zM230.1 48.6h0.9v0.9h-0.9zM240.5 46.9h0.9v0.9h-0.9z"/>
<path fill="rgb(150,150,150)" d="M246.8 43.5h0.9v0.9h-0.9zM230.7 41.9h0.9v0.9h-0.9zM236.2 45.9h0.9v0.9h-0.9zM236.5 42.6h0.9v0.9h-0.9zM238.1 45.0h0.9v0.9h-0.9zM233.1 45.8h0.9v0.9h-0.9zM239.8 46.6h0.9v0.9h-0.9zM242.6 44.8h0.9v0.9h-0.9zM233.6 52.1h0.9v0.9h-0.9zM232.0 42.6h0.9v0.9h-0.9zM237.1 44.2h0.9v0.9h-0.9zM233.6 50.9h0.9v0.9h-0.9zM235.1 46.2h0.9v0.9h-0.9zM240.4 40.0h0.9v0.9h-0.9zM237.3 40.0h0.9v0.9h-0.9zM239.2 49.0h0.9v0.9h-0.9zM244.5 52.1h0.9v0.9h-0.9zM231.9 44.9h0.9v0.9h-0.9zM241.3 43.6h0.9v0.9h-0.9zM246.1 45.4h0.9v0.9h-0.9zM244.8 39.0h0.9v0.9h-0.9zM236.6 48.4h0.9v0.9h-0.9zM244.2 45.4h0.9v0.9h-0.9zM244.6 49.4h0.9v0.9h-0.9zM237.0 48.6h0.9v0.9h-0.9zM238.8 39.7h0.9v0.9h-0.9zM245.3 50.7h0.9v0.9h-0.9zM245.2 41.5h0.9v0.9h-0.9zM243.2 38.6h0.9v0.9h-0.9zM238.5 42.5h0.9v0.9h-0.9zM238.6 43.7h0.9v0.9h-0.9zM239.3 44.5h0.9v0.9h-0.9zM242.9 47.9h0.9v0.9h-0.9zM234.7 41.0h0.9v0.9h-0.9zM234.0 42.9h0.9v0.9h-0.9zM237.2 45.6h0.9v0.9h-0.9zM243.0 52.7h0.9v0.9h-0.9zM234.4 42.4h0.9v0.9h-0.9zM238.8 38.1h0.9v0.9h-0.9zM240.8 38.6h0.9v0.9h-0.9zM240.1 46.8h0.9v0.9h-0.9zM236.5 52.9h0.9v0.9h-0.9zM235.3 38.3h0.9v0.9h-0.9zM231.8 41.6h0.9v0.9h-0.9zM242.5 49.1h0.9v0.9h-0.9zM236.0 51.2h0.9v0.9h-0.9zM232.8 41.4h0.9v0.9h-0.9zM239.7 46.0h0.9v0.9h-0.9zM243.4 42.6h0.9v0.9h-0.9zM245.3 47.5h0.9v0.9h-0.9zM241.7 46.6h0.9v0.9h-0.9zM233.6 46.5h0.9v0.9h-0.9zM246.0 38.2h0.9v0.9h-0.9zM235.6 42.6h0.9v0.9h-0.9zM234.3 49.6h0.9v0.9h-0.9zM241.0 40.0h0.9v0.9h-0.9zM242.0 51.2h0.9v0.9h-0.9zM231.1 38.3h0.9v0.9h-0.9zM240.2 51.2h0.9v0.9h-0.9zM239.4 45.6h0.9v0.9h-0.9zM236.9 46.5h0.9v0.9h-0.9zM245.5 47.0h0.9v0.9h-0.9zM242.7 45.0h0.9v0.9h-0.9zM245.0 49.5h0.9v0.9h-0.9zM238.6 42.5h0.9v0.9h-0.9zM235.1 52.7h0.9v0.9h-0.9zM240.9 39.1h0.9v0.9h-0.9zM238.9 44.4h0.9v0.9h-0.9zM240.2 42.3h0.9v0.9h-0.9zM245.4 45.2h0.9v0.9h-0.9zM244.1 41.9h0.9v0.9h-0.9zM245.1 46.2h0.9v0.9h-0.9zM239.3 44.5h0.9v0.9h-0.9zM246.0 46.4h0.9v0.9h-0.9zM239.1 43.5h0.9v0.9h-0.9zM237.8 42.1h0.9v0.9h-0.9zM263.4 41.8h0.9v0.9h-0.9zM258.7 46.5h0.9v0.9h-0.9zM263.9 45.2h0.9v0.9h-0.9zM263.7 51.9h0.9v0.9h-0.9zM255.9 44.1h0.9v0.9h-0.9zM265.5 46.7h0.9v0.9h-0.9zM258.0 49.7h0.9v0.9h-0.9zM259.3 45.8h0.9v0.9h-0.9zM260.2 41.9h0.9v0.9h-0.9zM255.4 38.1h0.9v0.9h-0.9zM261.3 50.4h0.9v0.9h-0.9zM261.5 52.6h0.9v0.9h-0.9zM261.8 39.6h0.9v0.9h-0.9zM254.5 51.8h0.9v0.9h-0.9zM250.8 51.2h0.9v0.9h-0.9zM262.5 40.2h0.9v0.9h-0.9zM252.6 49.0h0.9v0.9h-0.9zM260.1 38.4h0.9v0.9h-0.9zM258.0 40.8h0.9v0.9h-0.9zM263.6 46.0h0.9v0.9h-0.9zM249.2 43.9h0.9v0.9h-0.9zM249.2 51.6h0.9v0.9h-0.9zM264.1 48.8h0.9v0.9h-0.9zM249.0 52.1h0.9v0.9h-0.9zM253.5 47.8h0.9v0.9h-0.9zM262.0 46.4h0.9v0.9h-0.9zM251.0 41.7h0.9v0.9h-0.9zM261.4 39.9h0.9v0.9h-0.9zM255.4 52.0h0.9v0.9h-0.9zM256.0 40.3h0.9v0.9h-0.9zM260.1 43.2h0.9v0.9h-0.9zM262.4 43.5h0.9v0.9h-0.9zM263.1 50.4h0.9v0.9h-0.9zM252.0 46.2h0.9v0.9h-0.9zM256.6 39.8h0.9v0.9h-0.9zM264.5 43.1h0.9v0.9h-0.9zM259.4 38.9h0.9v0.9h-0.9zM265.2 52.7h0.9v0.9h-0.9zM260.6 40.0h0.9v0.9h-0.9zM260.3 45.0h0.9v0.9h-0.9zM257.0 41.3h0.9v0.9h-0.9zM251.6 50.7h0.9v0.9h-0.9zM259.3 49.2h0.9v0.9h-0.9zM261.6 44.0h0.9v0.9h-0.9zM258.3 42.5h0.9v0.9h-0.9zM260.1 44.5h0.9v0.9h-0.9zM262.3 42.4h0.9v0.9h-0.9zM255.5 39.2h0.9v0.9h-0.9zM249.7 41.2h0.9v0.9h-0.9zM249.3 44.4h0.9v0.9h-0.9zM255.5 51.2h0.9v0.9h-0.9zM249.7 52.8h0.9v0.9h-0.9zM250.6 50.5h0.9v0.9h-0.9zM255.1 41.7h0.9v0.9h-0.9zM259.4 43.3h0.9v0.9h-0.9zM249.3 40.0h0.9v0.9h-0.9zM260.5 48.8h0.9v0.9h-0.9zM265.9 41.8h0.9v0.9h-0.9zM262.1 43.1h0.9v0.9h-0.9zM257.8 42.2h0.9v0.9h-0.9zM256.0 51.7h0.9v0.9h-0.9zM253.3 44.4h0.9v0.9h-0.9zM264.4 44.8h0.9v0.9h-0.9zM262.8 46.0h0.9v0.9h-0.9zM254.9 48.8h0.9v0.9h-0.9zM260.1 43.7h0.9v0.9h-0.9zM266.0 39.4h0.9v0.9h-0.9zM263.4 48.8h0.9v0.9h-0.9zM261.1 45.1h0.9v0.9h-0.9zM261.7 38.7h0.9v0.9h-0.9zM260.4 51.0h0.9v0.9h-0.9zM255.9 49.1h0.9v0.9h-0.9zM260.8 45.5h0.9v0.9h-0.9zM262.1 45.3h0.9v0.9h-0.9zM251.0 45.8h0.9v0.9h-0.9zM261.8 40.5h0.9v0.9h-0.9z"/>
<path fill="rgb(140,140,140)" d="M256.0 47.0h0.9v0.9h-0.9zM259.3 47.7h0.9v0.9h-0.9zM260.6 47.0h0.9v0.9h-0.9zM261.3 50.8h0.9v0.9h-0.9zM256.8 48.8h0.9v0.9h-0.9zM255.8 45.0h0.9v0.9h-0.9zM257.2 42.7h0.9v0.9h-0.9zM258.0 45.5h0.9v0.9h-0.9zM261.6 48.8h0.9v0.9h-0.9zM256.9 43.2h0.9v0.9h-0.9zM256.3 43.1h0.9v0.9h-0.9zM255.8 45.8h0.9v0.9h-0.9zM254.6 44.6h0.9v0.9h-0.9z"/>
</g>
</g></g>
<g clip-path="url(#c20)"><g transform="translate(0 100.40)">
<polygon points="37.00,19.80 55.50,20.00 57.50,21.80 55.50,23.80 37.00,24.00" fill="rgb(100,100,100)" opacity="1.0" filter="url(#b0_8)"/>
<polygon points="37.00,20.50 54.50,20.70 56.50,21.80 54.50,23.10 37.00,23.30" fill="rgb(75,75,75)" opacity="0.9" filter="url(#b0_6)"/>
<polygon points="36.50,34.00 58.50,34.00 59.20,45.00 58.50,56.00 36.50,56.00" fill="rgb(148,148,148)" opacity="1.0" filter="url(#b0_9)"/>
<ellipse cx="47.50" cy="40.00" rx="10.00" ry="4.20" fill="rgb(203,203,203)" opacity="1.0" filter="url(#b1_5)"/>
<ellipse cx="44.00" cy="51.00" rx="9.00" ry="4.20" fill="rgb(123,123,123)" opacity="0.9" filter="url(#b2_0)"/>
<polygon points="36.50,32.90 59.00,32.90 59.00,35.30 36.50,35.30" fill="rgb(70,70,70)" opacity="1.0" filter="url(#b0_5)"/>
<polygon points="59.50,33.00 73.00,33.00 72.00,56.00 59.50,56.00" fill="rgb(150,150,150)" opacity="1.0" filter="url(#b1_2)"/>
<ellipse cx="66.50" cy="38.00" rx="5.00" ry="4.00" fill="rgb(130,130,130)" opacity="1.0" filter="url(#b1_2)"/>
<polygon points="59.30,33.00 60.80,33.00 60.80,56.00 59.30,56.00" fill="rgb(100,100,100)" opacity="1.0" filter="url(#b0_5)"/>
<ellipse cx="47.00" cy="37.50" rx="10.00" ry="2.80" fill="rgb(190,190,190)" opacity="1.0" filter="url(#b1_5)"/>
<polygon points="59.80,21.00 76.50,14.60 73.50,30.50 59.80,30.50" fill="rgb(105,105,105)" opacity="1.0" filter="url(#b0_6)"/>
<polygon points="61.50,22.50 74.20,17.30 71.80,29.50 61.50,29.50" fill="rgb(172,172,172)" opacity="1.0" filter="url(#b0_8)"/>
<g filter="url(#dsoft)">
<path fill="rgb(140,140,140)" d="M46.7 28.0h0.9v0.9h-0.9zM36.8 28.5h0.9v0.9h-0.9zM44.2 19.5h0.9v0.9h-0.9zM51.9 23.3h0.9v0.9h-0.9zM42.8 15.8h0.9v0.9h-0.9zM45.8 29.0h0.9v0.9h-0.9zM58.4 25.9h0.9v0.9h-0.9zM51.8 25.4h0.9v0.9h-0.9zM56.6 15.9h0.9v0.9h-0.9zM39.7 28.2h0.9v0.9h-0.9zM36.9 22.4h0.9v0.9h-0.9zM45.4 29.5h0.9v0.9h-0.9zM50.2 17.1h0.9v0.9h-0.9zM37.9 21.5h0.9v0.9h-0.9zM48.6 21.4h0.9v0.9h-0.9zM49.3 14.1h0.9v0.9h-0.9zM44.4 27.9h0.9v0.9h-0.9zM42.9 16.4h0.9v0.9h-0.9zM40.4 29.9h0.9v0.9h-0.9zM55.6 20.3h0.9v0.9h-0.9zM43.7 19.6h0.9v0.9h-0.9zM55.9 29.4h0.9v0.9h-0.9zM57.5 28.4h0.9v0.9h-0.9zM51.5 15.1h0.9v0.9h-0.9zM57.2 16.0h0.9v0.9h-0.9zM52.8 19.4h0.9v0.9h-0.9zM37.3 24.8h0.9v0.9h-0.9zM42.1 29.0h0.9v0.9h-0.9zM40.5 25.0h0.9v0.9h-0.9zM46.1 13.9h0.9v0.9h-0.9zM42.7 18.6h0.9v0.9h-0.9zM53.5 26.9h0.9v0.9h-0.9zM57.1 16.0h0.9v0.9h-0.9zM41.1 19.7h0.9v0.9h-0.9zM43.5 16.7h0.9v0.9h-0.9zM53.1 13.1h0.9v0.9h-0.9zM48.3 15.4h0.9v0.9h-0.9zM43.4 18.3h0.9v0.9h-0.9zM46.7 29.9h0.9v0.9h-0.9zM52.7 20.7h0.9v0.9h-0.9zM58.3 17.6h0.9v0.9h-0.9zM40.6 24.5h0.9v0.9h-0.9zM53.4 26.0h0.9v0.9h-0.9zM47.7 26.0h0.9v0.9h-0.9zM43.8 30.1h0.9v0.9h-0.9zM52.8 27.4h0.9v0.9h-0.9zM48.4 29.5h0.9v0.9h-0.9zM46.8 30.1h0.9v0.9h-0.9zM46.3 30.1h0.9v0.9h-0.9zM43.5 22.3h0.9v0.9h-0.9zM48.8 22.9h0.9v0.9h-0.9zM55.1 28.3h0.9v0.9h-0.9zM40.5 25.7h0.9v0.9h-0.9zM48.1 20.3h0.9v0.9h-0.9zM39.0 29.4h0.9v0.9h-0.9zM58.3 26.0h0.9v0.9h-0.9zM49.1 14.5h0.9v0.9h-0.9zM43.6 18.9h0.9v0.9h-0.9zM38.4 19.8h0.9v0.9h-0.9zM44.6 20.4h0.9v0.9h-0.9zM38.0 15.4h0.9v0.9h-0.9zM57.4 23.0h0.9v0.9h-0.9zM41.6 21.1h0.9v0.9h-0.9zM44.5 21.7h0.9v0.9h-0.9zM40.4 26.4h0.9v0.9h-0.9zM57.0 24.3h0.9v0.9h-0.9zM57.6 27.7h0.9v0.9h-0.9zM48.3 22.4h0.9v0.9h-0.9zM51.7 19.6h0.9v0.9h-0.9zM38.2 21.1h0.9v0.9h-0.9zM54.5 25.1h0.9v0.9h-0.9zM37.4 27.9h0.9v0.9h-0.9zM37.5 22.3h0.9v0.9h-0.9zM40.4 18.4h0.9v0.9h-0.9zM41.6 24.1h0.9v0.9h-0.9zM52.1 28.9h0.9v0.9h-0.9zM47.6 14.1h0.9v0.9h-0.9zM37.3 14.5h0.9v0.9h-0.9zM39.3 16.2h0.9v0.9h-0.9zM43.0 15.7h0.9v0.9h-0.9zM55.2 19.5h0.9v0.9h-0.9zM47.0 27.1h0.9v0.9h-0.9zM40.5 22.0h0.9v0.9h-0.9zM37.4 21.7h0.9v0.9h-0.9zM56.9 23.2h0.9v0.9h-0.9zM43.2 24.4h0.9v0.9h-0.9zM47.5 22.0h0.9v0.9h-0.9zM50.5 25.8h0.9v0.9h-0.9zM56.1 30.6h0.9v0.9h-0.9zM57.7 27.6h0.9v0.9h-0.9zM51.5 27.4h0.9v0.9h-0.9zM40.8 16.6h0.9v0.9h-0.9zM55.0 20.8h0.9v0.9h-0.9zM37.0 26.4h0.9v0.9h-0.9zM39.4 17.9h0.9v0.9h-0.9zM56.8 16.4h0.9v0.9h-0.9zM54.7 17.8h0.9v0.9h-0.9zM54.0 19.9h0.9v0.9h-0.9zM48.9 25.3h0.9v0.9h-0.9zM52.3 16.7h0.9v0.9h-0.9zM51.3 16.0h0.9v0.9h-0.9zM41.9 27.0h0.9v0.9h-0.9zM39.9 20.5h0.9v0.9h-0.9zM39.0 23.5h0.9v0.9h-0.9zM40.4 19.5h0.9v0.9h-0.9zM58.0 21.0h0.9v0.9h-0.9zM47.5 13.6h0.9v0.9h-0.9zM42.3 14.9h0.9v0.9h-0.9zM50.1 15.8h0.9v0.9h-0.9zM40.4 15.6h0.9v0.9h-0.9zM52.8 24.7h0.9v0.9h-0.9zM42.9 18.7h0.9v0.9h-0.9zM42.6 22.9h0.9v0.9h-0.9zM49.0 15.4h0.9v0.9h-0.9zM39.9 24.3h0.9v0.9h-0.9zM42.7 25.0h0.9v0.9h-0.9zM40.4 14.8h0.9v0.9h-0.9zM38.0 28.4h0.9v0.9h-0.9zM48.3 17.2h0.9v0.9h-0.9zM44.3 23.9h0.9v0.9h-0.9zM41.3 26.2h0.9v0.9h-0.9zM36.6 22.8h0.9v0.9h-0.9zM49.1 19.1h0.9v0.9h-0.9zM58.2 23.0h0.9v0.9h-0.9zM39.4 25.3h0.9v0.9h-0.9zM37.1 24.5h0.9v0.9h-0.9zM54.9 24.0h0.9v0.9h-0.9zM37.0 17.7h0.9v0.9h-0.9zM54.8 26.3h0.9v0.9h-0.9zM42.4 27.2h0.9v0.9h-0.9zM54.4 18.2h0.9v0.9h-0.9zM56.0 17.2h0.9v0.9h-0.9zM43.6 19.3h0.9v0.9h-0.9zM41.1 22.5h0.9v0.9h-0.9zM37.5 27.6h0.9v0.9h-0.9zM41.1 24.5h0.9v0.9h-0.9zM44.2 27.1h0.9v0.9h-0.9zM48.8 22.5h0.9v0.9h-0.9zM53.2 23.2h0.9v0.9h-0.9zM46.4 18.9h0.9v0.9h-0.9zM54.1 23.9h0.9v0.9h-0.9zM46.7 27.9h0.9v0.9h-0.9zM46.7 25.2h0.9v0.9h-0.9zM40.1 21.0h0.9v0.9h-0.9zM50.4 19.8h0.9v0.9h-0.9zM58.4 27.9h0.9v0.9h-0.9zM50.7 24.9h0.9v0.9h-0.9zM42.5 25.5h0.9v0.9h-0.9zM55.4 22.0h0.9v0.9h-0.9zM48.9 24.2h0.9v0.9h-0.9zM42.0 17.5h0.9v0.9h-0.9zM40.5 22.8h0.9v0.9h-0.9zM50.5 26.4h0.9v0.9h-0.9zM42.4 18.8h0.9v0.9h-0.9zM45.7 18.8h0.9v0.9h-0.9zM42.2 22.4h0.9v0.9h-0.9zM51.6 18.2h0.9v0.9h-0.9zM40.3 22.2h0.9v0.9h-0.9zM48.0 18.9h0.9v0.9h-0.9zM51.0 23.2h0.9v0.9h-0.9zM57.7 27.5h0.9v0.9h-0.9zM50.3 18.0h0.9v0.9h-0.9zM48.0 20.0h0.9v0.9h-0.9zM42.6 17.8h0.9v0.9h-0.9zM51.7 24.2h0.9v0.9h-0.9zM42.5 19.5h0.9v0.9h-0.9zM58.3 23.1h0.9v0.9h-0.9zM51.8 19.7h0.9v0.9h-0.9zM57.2 24.9h0.9v0.9h-0.9zM47.7 18.2h0.9v0.9h-0.9zM46.1 17.3h0.9v0.9h-0.9zM41.1 25.6h0.9v0.9h-0.9zM38.9 19.3h0.9v0.9h-0.9zM44.0 27.6h0.9v0.9h-0.9zM40.1 21.6h0.9v0.9h-0.9zM48.2 17.5h0.9v0.9h-0.9zM48.9 17.8h0.9v0.9h-0.9zM43.5 20.5h0.9v0.9h-0.9zM58.4 21.8h0.9v0.9h-0.9zM43.1 20.6h0.9v0.9h-0.9zM43.1 18.8h0.9v0.9h-0.9zM43.5 24.6h0.9v0.9h-0.9zM44.3 19.5h0.9v0.9h-0.9zM37.3 25.7h0.9v0.9h-0.9zM43.1 20.0h0.9v0.9h-0.9zM55.2 27.7h0.9v0.9h-0.9zM48.6 17.8h0.9v0.9h-0.9zM54.9 25.4h0.9v0.9h-0.9zM36.9 20.2h0.9v0.9h-0.9zM54.9 22.2h0.9v0.9h-0.9z"/>
<path fill="rgb(150,150,150)" d="M40.6 26.4h0.9v0.9h-0.9zM41.4 19.1h0.9v0.9h-0.9zM51.2 26.4h0.9v0.9h-0.9zM51.5 17.7h0.9v0.9h-0.9zM37.4 19.4h0.9v0.9h-0.9zM50.6 26.1h0.9v0.9h-0.9zM39.4 23.5h0.9v0.9h-0.9zM50.8 17.8h0.9v0.9h-0.9zM55.5 20.3h0.9v0.9h-0.9zM44.7 24.6h0.9v0.9h-0.9zM48.1 23.1h0.9v0.9h-0.9zM38.2 23.1h0.9v0.9h-0.9zM40.1 24.9h0.9v0.9h-0.9zM52.9 23.3h0.9v0.9h-0.9zM50.2 26.3h0.9v0.9h-0.9zM54.0 23.9h0.9v0.9h-0.9zM44.4 17.6h0.9v0.9h-0.9zM57.5 18.1h0.9v0.9h-0.9zM37.9 22.9h0.9v0.9h-0.9zM57.3 21.5h0.9v0.9h-0.9zM41.3 17.7h0.9v0.9h-0.9zM40.3 20.8h0.9v0.9h-0.9zM44.2 19.9h0.9v0.9h-0.9zM55.0 26.5h0.9v0.9h-0.9zM57.1 19.3h0.9v0.9h-0.9zM51.3 19.0h0.9v0.9h-0.9zM46.5 22.0h0.9v0.9h-0.9zM43.5 24.6h0.9v0.9h-0.9zM41.5 24.7h0.9v0.9h-0.9zM52.7 23.2h0.9v0.9h-0.9zM38.6 18.6h0.9v0.9h-0.9zM53.5 26.1h0.9v0.9h-0.9zM41.9 23.5h0.9v0.9h-0.9zM52.5 25.3h0.9v0.9h-0.9zM39.8 19.3h0.9v0.9h-0.9zM38.3 23.7h0.9v0.9h-0.9zM44.3 23.8h0.9v0.9h-0.9zM40.4 23.2h0.9v0.9h-0.9zM42.6 21.4h0.9v0.9h-0.9zM49.1 26.1h0.9v0.9h-0.9zM40.9 24.5h0.9v0.9h-0.9zM38.0 19.1h0.9v0.9h-0.9zM51.3 18.2h0.9v0.9h-0.9zM54.2 25.5h0.9v0.9h-0.9zM41.5 23.9h0.9v0.9h-0.9zM50.3 26.3h0.9v0.9h-0.9zM47.2 20.8h0.9v0.9h-0.9zM55.0 19.9h0.9v0.9h-0.9zM55.7 20.8h0.9v0.9h-0.9zM45.3 25.0h0.9v0.9h-0.9zM52.5 19.2h0.9v0.9h-0.9zM50.5 26.4h0.9v0.9h-0.9zM45.2 22.5h0.9v0.9h-0.9zM50.4 24.0h0.9v0.9h-0.9zM45.0 20.9h0.9v0.9h-0.9z"/>
<path fill="rgb(168,168,168)" d="M40.5 47.8h0.9v0.9h-0.9zM44.0 51.3h0.9v0.9h-0.9zM37.5 50.7h0.9v0.9h-0.9zM40.1 53.1h0.9v0.9h-0.9zM55.2 41.8h0.9v0.9h-0.9zM38.8 38.6h0.9v0.9h-0.9zM41.2 55.5h0.9v0.9h-0.9zM54.8 34.5h0.9v0.9h-0.9zM36.7 46.3h0.9v0.9h-0.9zM46.8 46.2h0.9v0.9h-0.9zM55.6 52.4h0.9v0.9h-0.9zM39.6 55.3h0.9v0.9h-0.9zM46.9 44.3h0.9v0.9h-0.9zM39.9 39.3h0.9v0.9h-0.9zM40.7 40.2h0.9v0.9h-0.9zM48.9 39.7h0.9v0.9h-0.9zM42.6 36.4h0.9v0.9h-0.9zM38.1 54.0h0.9v0.9h-0.9zM46.5 43.9h0.9v0.9h-0.9zM39.5 55.6h0.9v0.9h-0.9zM36.8 51.3h0.9v0.9h-0.9zM37.5 40.3h0.9v0.9h-0.9zM47.5 44.0h0.9v0.9h-0.9zM52.5 46.5h0.9v0.9h-0.9zM52.4 35.5h0.9v0.9h-0.9zM43.2 40.0h0.9v0.9h-0.9zM47.4 43.2h0.9v0.9h-0.9zM39.0 36.8h0.9v0.9h-0.9zM37.9 35.2h0.9v0.9h-0.9zM51.2 55.2h0.9v0.9h-0.9zM50.0 38.3h0.9v0.9h-0.9zM50.4 44.9h0.9v0.9h-0.9zM42.9 51.7h0.9v0.9h-0.9zM42.5 40.7h0.9v0.9h-0.9zM37.5 39.3h0.9v0.9h-0.9zM57.4 44.5h0.9v0.9h-0.9zM53.1 44.8h0.9v0.9h-0.9zM42.5 41.8h0.9v0.9h-0.9zM48.1 40.8h0.9v0.9h-0.9zM48.2 34.6h0.9v0.9h-0.9zM45.3 36.5h0.9v0.9h-0.9zM47.4 45.7h0.9v0.9h-0.9zM57.2 53.2h0.9v0.9h-0.9zM56.8 43.8h0.9v0.9h-0.9zM43.2 52.6h0.9v0.9h-0.9zM39.2 42.4h0.9v0.9h-0.9zM37.9 51.9h0.9v0.9h-0.9zM53.4 54.4h0.9v0.9h-0.9zM40.7 52.4h0.9v0.9h-0.9z"/>
<path fill="rgb(123,123,123)" d="M52.3 46.0h0.9v0.9h-0.9zM46.6 51.7h0.9v0.9h-0.9zM47.2 54.8h0.9v0.9h-0.9zM57.5 42.1h0.9v0.9h-0.9zM48.7 43.5h0.9v0.9h-0.9zM57.0 52.8h0.9v0.9h-0.9zM45.6 42.1h0.9v0.9h-0.9zM43.7 48.6h0.9v0.9h-0.9zM51.6 47.7h0.9v0.9h-0.9zM48.3 48.8h0.9v0.9h-0.9zM36.6 44.5h0.9v0.9h-0.9zM52.2 50.1h0.9v0.9h-0.9zM55.0 39.0h0.9v0.9h-0.9zM57.5 55.3h0.9v0.9h-0.9zM50.6 52.1h0.9v0.9h-0.9zM41.0 38.1h0.9v0.9h-0.9zM41.4 45.7h0.9v0.9h-0.9zM56.8 41.7h0.9v0.9h-0.9zM57.7 52.3h0.9v0.9h-0.9zM37.5 34.6h0.9v0.9h-0.9zM59.2 45.0h0.9v0.9h-0.9zM54.2 53.0h0.9v0.9h-0.9zM43.4 34.3h0.9v0.9h-0.9zM56.2 54.5h0.9v0.9h-0.9zM45.6 48.5h0.9v0.9h-0.9zM36.8 54.7h0.9v0.9h-0.9zM50.4 55.5h0.9v0.9h-0.9zM52.1 41.9h0.9v0.9h-0.9zM40.6 45.3h0.9v0.9h-0.9zM56.1 45.8h0.9v0.9h-0.9zM48.7 38.8h0.9v0.9h-0.9zM39.8 39.2h0.9v0.9h-0.9zM43.4 44.4h0.9v0.9h-0.9zM57.9 40.0h0.9v0.9h-0.9zM41.7 50.3h0.9v0.9h-0.9zM57.8 39.2h0.9v0.9h-0.9zM43.3 43.1h0.9v0.9h-0.9zM37.9 36.0h0.9v0.9h-0.9zM49.0 39.4h0.9v0.9h-0.9zM41.8 51.7h0.9v0.9h-0.9zM47.4 46.4h0.9v0.9h-0.9zM51.4 50.3h0.9v0.9h-0.9zM57.4 55.3h0.9v0.9h-0.9zM39.0 50.3h0.9v0.9h-0.9zM37.1 36.6h0.9v0.9h-0.9zM42.3 36.8h0.9v0.9h-0.9zM40.0 39.1h0.9v0.9h-0.9zM54.9 51.3h0.9v0.9h-0.9zM47.9 46.1h0.9v0.9h-0.9z"/>
<path fill="rgb(125,125,125)" d="M69.6 46.6h0.9v0.9h-0.9zM60.5 43.6h0.9v0.9h-0.9zM62.2 43.8h0.9v0.9h-0.9zM72.7 37.5h0.9v0.9h-0.9zM63.9 46.4h0.9v0.9h-0.9zM68.4 40.0h0.9v0.9h-0.9zM64.8 44.5h0.9v0.9h-0.9zM72.1 34.1h0.9v0.9h-0.9zM71.5 45.8h0.9v0.9h-0.9zM71.9 42.0h0.9v0.9h-0.9zM68.3 33.5h0.9v0.9h-0.9zM62.5 47.9h0.9v0.9h-0.9zM63.9 44.9h0.9v0.9h-0.9zM68.5 46.0h0.9v0.9h-0.9zM62.9 55.7h0.9v0.9h-0.9zM64.6 33.5h0.9v0.9h-0.9zM65.2 42.5h0.9v0.9h-0.9zM62.3 42.8h0.9v0.9h-0.9zM60.5 54.6h0.9v0.9h-0.9zM66.5 39.6h0.9v0.9h-0.9zM66.9 46.6h0.9v0.9h-0.9zM64.8 51.6h0.9v0.9h-0.9zM65.6 54.2h0.9v0.9h-0.9zM69.8 48.9h0.9v0.9h-0.9zM61.7 49.2h0.9v0.9h-0.9zM60.1 39.5h0.9v0.9h-0.9zM59.5 48.3h0.9v0.9h-0.9zM71.5 48.8h0.9v0.9h-0.9zM68.5 45.5h0.9v0.9h-0.9zM69.4 45.6h0.9v0.9h-0.9zM70.3 36.6h0.9v0.9h-0.9zM65.9 47.5h0.9v0.9h-0.9zM60.4 45.9h0.9v0.9h-0.9zM71.9 35.0h0.9v0.9h-0.9zM69.4 49.5h0.9v0.9h-0.9z"/>
<path fill="rgb(147,147,147)" d="M69.6 24.6h0.9v0.9h-0.9zM67.5 22.7h0.9v0.9h-0.9zM69.1 21.4h0.9v0.9h-0.9zM71.6 24.0h0.9v0.9h-0.9zM67.0 23.6h0.9v0.9h-0.9zM70.5 27.5h0.9v0.9h-0.9zM71.9 25.9h0.9v0.9h-0.9zM67.5 26.5h0.9v0.9h-0.9zM67.1 28.0h0.9v0.9h-0.9zM66.1 23.2h0.9v0.9h-0.9zM70.7 29.2h0.9v0.9h-0.9z"/>
</g>
</g></g>
<g clip-path="url(#c21)"><g transform="translate(0 100.40)">
<polygon points="100.80,12.80 145.00,12.80 145.00,15.20 100.80,15.20" fill="rgb(200,200,200)" opacity="1.0" filter="url(#b0_5)"/>
<polygon points="108.00,27.00 131.00,18.00 133.00,27.00 113.00,31.00" fill="rgb(160,160,160)" opacity="1.0" filter="url(#b1_3)"/>
<polygon points="101.00,38.00 131.00,38.00 145.00,30.00 145.00,56.50 101.00,56.50" fill="rgb(200,200,200)" opacity="1.0" filter="url(#b1_2)"/>
<polygon points="131.00,38.00 145.00,30.00 145.00,36.00 132.00,42.00" fill="rgb(165,165,165)" opacity="1.0" filter="url(#b1_2)"/>
<g filter="url(#dsoft)">
<path fill="rgb(150,150,150)" d="M107.5 20.8h0.9v0.9h-0.9zM130.1 28.3h0.9v0.9h-0.9zM124.9 37.5h0.9v0.9h-0.9zM120.8 20.9h0.9v0.9h-0.9zM130.5 35.1h0.9v0.9h-0.9zM101.1 36.8h0.9v0.9h-0.9zM120.5 20.6h0.9v0.9h-0.9zM115.2 22.1h0.9v0.9h-0.9zM124.2 24.3h0.9v0.9h-0.9zM103.6 35.1h0.9v0.9h-0.9zM110.9 19.3h0.9v0.9h-0.9zM122.0 18.4h0.9v0.9h-0.9zM119.2 25.3h0.9v0.9h-0.9zM104.6 36.5h0.9v0.9h-0.9zM121.8 16.7h0.9v0.9h-0.9zM128.0 29.7h0.9v0.9h-0.9zM125.7 32.5h0.9v0.9h-0.9zM106.1 22.4h0.9v0.9h-0.9zM106.2 33.3h0.9v0.9h-0.9zM129.4 28.1h0.9v0.9h-0.9zM121.0 37.0h0.9v0.9h-0.9zM116.6 25.2h0.9v0.9h-0.9zM109.4 37.2h0.9v0.9h-0.9zM104.7 19.7h0.9v0.9h-0.9zM126.5 16.1h0.9v0.9h-0.9zM106.9 27.1h0.9v0.9h-0.9zM108.1 24.0h0.9v0.9h-0.9zM101.8 30.2h0.9v0.9h-0.9zM103.2 21.9h0.9v0.9h-0.9zM104.1 30.8h0.9v0.9h-0.9zM107.5 27.7h0.9v0.9h-0.9zM102.0 28.0h0.9v0.9h-0.9zM111.3 35.5h0.9v0.9h-0.9zM106.8 22.0h0.9v0.9h-0.9zM127.1 16.8h0.9v0.9h-0.9zM115.7 26.2h0.9v0.9h-0.9zM109.7 19.2h0.9v0.9h-0.9zM116.0 16.1h0.9v0.9h-0.9zM101.3 21.8h0.9v0.9h-0.9zM112.3 21.2h0.9v0.9h-0.9zM122.3 24.6h0.9v0.9h-0.9zM119.3 28.5h0.9v0.9h-0.9zM122.3 36.0h0.9v0.9h-0.9zM117.8 30.8h0.9v0.9h-0.9zM117.7 17.2h0.9v0.9h-0.9zM126.0 27.1h0.9v0.9h-0.9zM102.2 31.8h0.9v0.9h-0.9zM116.0 36.3h0.9v0.9h-0.9zM113.5 25.9h0.9v0.9h-0.9zM127.9 35.9h0.9v0.9h-0.9zM124.1 25.3h0.9v0.9h-0.9zM113.9 31.7h0.9v0.9h-0.9zM127.9 25.6h0.9v0.9h-0.9zM122.1 27.9h0.9v0.9h-0.9zM117.5 20.2h0.9v0.9h-0.9zM109.5 21.1h0.9v0.9h-0.9zM130.5 16.1h0.9v0.9h-0.9zM107.6 20.0h0.9v0.9h-0.9zM125.5 30.3h0.9v0.9h-0.9zM110.3 17.8h0.9v0.9h-0.9zM121.2 31.9h0.9v0.9h-0.9zM120.2 31.2h0.9v0.9h-0.9zM118.9 16.2h0.9v0.9h-0.9zM124.9 34.7h0.9v0.9h-0.9zM106.0 23.9h0.9v0.9h-0.9zM130.5 37.0h0.9v0.9h-0.9zM125.5 34.0h0.9v0.9h-0.9zM105.7 34.8h0.9v0.9h-0.9zM125.7 19.9h0.9v0.9h-0.9zM128.4 33.4h0.9v0.9h-0.9zM128.5 35.3h0.9v0.9h-0.9zM103.8 19.2h0.9v0.9h-0.9zM125.2 19.3h0.9v0.9h-0.9zM111.4 32.9h0.9v0.9h-0.9zM125.9 24.3h0.9v0.9h-0.9zM113.4 30.8h0.9v0.9h-0.9zM130.9 29.3h0.9v0.9h-0.9zM111.4 20.8h0.9v0.9h-0.9zM106.6 29.0h0.9v0.9h-0.9zM122.6 20.4h0.9v0.9h-0.9zM123.3 28.8h0.9v0.9h-0.9zM118.2 27.1h0.9v0.9h-0.9zM113.3 15.8h0.9v0.9h-0.9zM117.1 30.1h0.9v0.9h-0.9zM127.6 36.9h0.9v0.9h-0.9zM120.4 19.0h0.9v0.9h-0.9zM126.8 24.6h0.9v0.9h-0.9zM129.9 36.3h0.9v0.9h-0.9zM103.7 16.6h0.9v0.9h-0.9zM102.5 30.4h0.9v0.9h-0.9zM115.8 29.2h0.9v0.9h-0.9zM110.7 28.5h0.9v0.9h-0.9zM103.9 20.0h0.9v0.9h-0.9zM123.0 20.5h0.9v0.9h-0.9zM104.4 29.8h0.9v0.9h-0.9zM130.5 36.1h0.9v0.9h-0.9zM127.5 31.2h0.9v0.9h-0.9zM101.2 18.9h0.9v0.9h-0.9zM118.5 27.2h0.9v0.9h-0.9zM126.1 16.2h0.9v0.9h-0.9zM119.8 17.1h0.9v0.9h-0.9zM123.7 17.5h0.9v0.9h-0.9zM115.6 32.5h0.9v0.9h-0.9zM130.6 33.0h0.9v0.9h-0.9zM124.5 22.1h0.9v0.9h-0.9zM120.2 27.4h0.9v0.9h-0.9zM115.8 28.6h0.9v0.9h-0.9zM114.3 23.8h0.9v0.9h-0.9zM123.9 29.7h0.9v0.9h-0.9zM130.3 35.9h0.9v0.9h-0.9zM125.0 17.9h0.9v0.9h-0.9zM116.1 26.4h0.9v0.9h-0.9zM124.7 35.5h0.9v0.9h-0.9zM106.9 15.7h0.9v0.9h-0.9zM127.1 37.0h0.9v0.9h-0.9zM111.1 28.7h0.9v0.9h-0.9zM112.6 23.9h0.9v0.9h-0.9zM120.1 30.7h0.9v0.9h-0.9zM128.0 23.5h0.9v0.9h-0.9zM115.8 25.4h0.9v0.9h-0.9zM130.6 26.9h0.9v0.9h-0.9zM128.5 36.8h0.9v0.9h-0.9zM101.9 32.5h0.9v0.9h-0.9zM104.4 26.4h0.9v0.9h-0.9zM119.9 17.2h0.9v0.9h-0.9zM118.4 30.7h0.9v0.9h-0.9zM111.4 27.4h0.9v0.9h-0.9zM112.9 18.9h0.9v0.9h-0.9zM108.7 36.2h0.9v0.9h-0.9zM120.1 27.4h0.9v0.9h-0.9zM125.2 33.9h0.9v0.9h-0.9zM123.7 24.3h0.9v0.9h-0.9zM117.2 22.6h0.9v0.9h-0.9zM102.9 35.8h0.9v0.9h-0.9zM103.4 23.7h0.9v0.9h-0.9zM126.6 22.3h0.9v0.9h-0.9zM128.3 16.0h0.9v0.9h-0.9zM105.5 25.3h0.9v0.9h-0.9zM120.1 32.9h0.9v0.9h-0.9zM127.9 33.5h0.9v0.9h-0.9zM106.6 37.3h0.9v0.9h-0.9zM102.4 25.8h0.9v0.9h-0.9zM111.5 16.0h0.9v0.9h-0.9zM107.1 37.4h0.9v0.9h-0.9zM130.1 23.1h0.9v0.9h-0.9zM131.0 31.7h0.9v0.9h-0.9zM102.0 28.8h0.9v0.9h-0.9zM107.1 21.6h0.9v0.9h-0.9zM122.5 20.1h0.9v0.9h-0.9zM111.6 15.6h0.9v0.9h-0.9zM110.6 22.2h0.9v0.9h-0.9zM104.4 17.6h0.9v0.9h-0.9zM113.2 17.3h0.9v0.9h-0.9zM129.1 21.2h0.9v0.9h-0.9zM112.0 16.9h0.9v0.9h-0.9zM125.4 19.7h0.9v0.9h-0.9zM103.3 23.7h0.9v0.9h-0.9zM128.4 35.7h0.9v0.9h-0.9zM115.0 28.3h0.9v0.9h-0.9zM103.2 35.4h0.9v0.9h-0.9zM123.6 20.9h0.9v0.9h-0.9zM126.2 19.0h0.9v0.9h-0.9zM115.5 21.8h0.9v0.9h-0.9zM118.0 21.0h0.9v0.9h-0.9zM117.3 21.1h0.9v0.9h-0.9zM101.5 18.0h0.9v0.9h-0.9zM124.7 25.3h0.9v0.9h-0.9zM116.4 30.0h0.9v0.9h-0.9zM108.7 19.6h0.9v0.9h-0.9zM113.2 32.0h0.9v0.9h-0.9zM123.0 25.6h0.9v0.9h-0.9zM119.2 21.1h0.9v0.9h-0.9zM129.4 29.6h0.9v0.9h-0.9zM125.1 23.6h0.9v0.9h-0.9zM118.4 31.1h0.9v0.9h-0.9zM117.0 32.2h0.9v0.9h-0.9zM109.2 32.8h0.9v0.9h-0.9zM110.5 26.8h0.9v0.9h-0.9zM105.3 24.4h0.9v0.9h-0.9zM127.6 16.2h0.9v0.9h-0.9zM106.6 27.4h0.9v0.9h-0.9zM120.7 30.6h0.9v0.9h-0.9zM121.6 31.3h0.9v0.9h-0.9zM119.1 18.9h0.9v0.9h-0.9zM117.3 21.7h0.9v0.9h-0.9zM101.2 26.7h0.9v0.9h-0.9zM130.2 25.8h0.9v0.9h-0.9zM123.8 29.2h0.9v0.9h-0.9zM102.1 27.6h0.9v0.9h-0.9zM130.7 29.9h0.9v0.9h-0.9zM109.9 35.4h0.9v0.9h-0.9zM121.1 36.0h0.9v0.9h-0.9zM126.5 28.3h0.9v0.9h-0.9zM115.0 27.2h0.9v0.9h-0.9zM110.6 34.3h0.9v0.9h-0.9zM104.8 37.3h0.9v0.9h-0.9zM111.2 25.2h0.9v0.9h-0.9zM119.3 22.3h0.9v0.9h-0.9zM119.2 16.7h0.9v0.9h-0.9zM127.1 17.8h0.9v0.9h-0.9zM127.2 34.4h0.9v0.9h-0.9zM124.6 32.0h0.9v0.9h-0.9zM106.6 28.0h0.9v0.9h-0.9zM102.9 31.9h0.9v0.9h-0.9zM124.6 20.1h0.9v0.9h-0.9zM114.3 17.5h0.9v0.9h-0.9zM121.0 30.9h0.9v0.9h-0.9zM102.8 29.0h0.9v0.9h-0.9zM127.4 19.4h0.9v0.9h-0.9zM128.2 21.5h0.9v0.9h-0.9zM101.5 17.3h0.9v0.9h-0.9zM123.7 19.7h0.9v0.9h-0.9zM126.8 25.1h0.9v0.9h-0.9zM103.5 33.5h0.9v0.9h-0.9zM110.8 18.4h0.9v0.9h-0.9zM101.1 22.1h0.9v0.9h-0.9zM114.8 26.4h0.9v0.9h-0.9zM118.5 17.3h0.9v0.9h-0.9zM101.1 35.0h0.9v0.9h-0.9zM113.7 31.4h0.9v0.9h-0.9zM127.8 28.6h0.9v0.9h-0.9zM123.2 20.4h0.9v0.9h-0.9zM107.4 26.8h0.9v0.9h-0.9zM130.6 36.9h0.9v0.9h-0.9zM107.9 29.5h0.9v0.9h-0.9zM109.7 23.4h0.9v0.9h-0.9zM109.4 37.4h0.9v0.9h-0.9zM112.5 25.7h0.9v0.9h-0.9zM103.6 34.2h0.9v0.9h-0.9zM103.6 33.7h0.9v0.9h-0.9zM108.2 20.7h0.9v0.9h-0.9zM102.3 23.3h0.9v0.9h-0.9zM129.7 23.5h0.9v0.9h-0.9zM111.0 31.9h0.9v0.9h-0.9zM107.9 32.2h0.9v0.9h-0.9zM130.0 34.3h0.9v0.9h-0.9zM102.2 32.7h0.9v0.9h-0.9zM124.7 33.0h0.9v0.9h-0.9zM118.4 17.9h0.9v0.9h-0.9zM121.3 28.3h0.9v0.9h-0.9zM115.6 32.4h0.9v0.9h-0.9zM106.5 23.8h0.9v0.9h-0.9zM120.0 35.2h0.9v0.9h-0.9zM130.7 35.0h0.9v0.9h-0.9zM108.9 24.8h0.9v0.9h-0.9zM116.7 25.6h0.9v0.9h-0.9zM103.4 23.6h0.9v0.9h-0.9zM128.9 23.8h0.9v0.9h-0.9zM127.4 35.1h0.9v0.9h-0.9zM116.4 35.7h0.9v0.9h-0.9zM130.3 15.7h0.9v0.9h-0.9zM118.7 36.5h0.9v0.9h-0.9zM110.3 23.5h0.9v0.9h-0.9zM105.6 34.9h0.9v0.9h-0.9zM117.9 28.5h0.9v0.9h-0.9zM118.9 35.2h0.9v0.9h-0.9zM116.5 27.6h0.9v0.9h-0.9zM114.4 22.9h0.9v0.9h-0.9zM130.1 29.7h0.9v0.9h-0.9zM115.8 17.5h0.9v0.9h-0.9zM120.2 16.5h0.9v0.9h-0.9zM115.1 20.1h0.9v0.9h-0.9zM112.8 20.4h0.9v0.9h-0.9zM107.7 25.1h0.9v0.9h-0.9zM104.6 21.0h0.9v0.9h-0.9zM122.6 17.7h0.9v0.9h-0.9zM126.4 24.6h0.9v0.9h-0.9zM107.4 32.5h0.9v0.9h-0.9zM112.3 23.6h0.9v0.9h-0.9zM101.0 19.4h0.9v0.9h-0.9zM129.1 26.4h0.9v0.9h-0.9zM114.1 28.5h0.9v0.9h-0.9zM103.7 18.8h0.9v0.9h-0.9zM126.9 29.4h0.9v0.9h-0.9zM110.6 34.5h0.9v0.9h-0.9zM109.7 25.3h0.9v0.9h-0.9zM124.5 34.2h0.9v0.9h-0.9zM109.4 37.1h0.9v0.9h-0.9zM107.3 21.4h0.9v0.9h-0.9zM116.4 27.9h0.9v0.9h-0.9zM117.2 25.8h0.9v0.9h-0.9zM124.4 21.0h0.9v0.9h-0.9zM114.1 30.4h0.9v0.9h-0.9zM127.7 21.1h0.9v0.9h-0.9zM111.7 25.8h0.9v0.9h-0.9zM109.0 26.8h0.9v0.9h-0.9zM129.2 20.6h0.9v0.9h-0.9zM125.9 35.1h0.9v0.9h-0.9zM115.7 23.2h0.9v0.9h-0.9zM104.5 27.6h0.9v0.9h-0.9zM126.3 23.9h0.9v0.9h-0.9zM108.6 33.7h0.9v0.9h-0.9zM105.7 27.9h0.9v0.9h-0.9zM124.0 26.7h0.9v0.9h-0.9zM109.8 28.7h0.9v0.9h-0.9zM111.1 30.2h0.9v0.9h-0.9zM124.9 33.1h0.9v0.9h-0.9zM124.2 18.2h0.9v0.9h-0.9zM109.1 30.2h0.9v0.9h-0.9zM120.1 35.1h0.9v0.9h-0.9zM114.2 16.8h0.9v0.9h-0.9zM103.2 16.6h0.9v0.9h-0.9zM117.1 22.6h0.9v0.9h-0.9zM102.1 35.5h0.9v0.9h-0.9zM102.9 23.2h0.9v0.9h-0.9zM124.2 30.5h0.9v0.9h-0.9zM107.6 36.7h0.9v0.9h-0.9zM114.4 33.6h0.9v0.9h-0.9zM113.7 29.7h0.9v0.9h-0.9zM129.7 16.8h0.9v0.9h-0.9zM118.0 28.5h0.9v0.9h-0.9zM130.0 28.7h0.9v0.9h-0.9zM108.9 18.5h0.9v0.9h-0.9zM117.6 19.1h0.9v0.9h-0.9zM111.5 36.6h0.9v0.9h-0.9zM106.5 20.0h0.9v0.9h-0.9zM121.1 26.6h0.9v0.9h-0.9zM128.3 22.7h0.9v0.9h-0.9zM123.7 24.6h0.9v0.9h-0.9zM130.8 35.7h0.9v0.9h-0.9zM106.8 23.7h0.9v0.9h-0.9zM115.2 25.8h0.9v0.9h-0.9zM118.7 30.7h0.9v0.9h-0.9zM105.5 29.8h0.9v0.9h-0.9zM125.7 24.5h0.9v0.9h-0.9zM109.1 21.1h0.9v0.9h-0.9zM119.2 18.1h0.9v0.9h-0.9zM107.3 22.1h0.9v0.9h-0.9zM121.7 31.8h0.9v0.9h-0.9zM117.3 18.8h0.9v0.9h-0.9zM111.6 16.8h0.9v0.9h-0.9zM130.9 25.6h0.9v0.9h-0.9zM126.1 20.9h0.9v0.9h-0.9zM109.3 18.7h0.9v0.9h-0.9zM112.6 30.6h0.9v0.9h-0.9zM117.6 22.6h0.9v0.9h-0.9zM104.9 21.5h0.9v0.9h-0.9zM124.1 19.4h0.9v0.9h-0.9zM130.7 33.9h0.9v0.9h-0.9zM106.1 15.6h0.9v0.9h-0.9zM125.7 16.4h0.9v0.9h-0.9zM121.1 26.6h0.9v0.9h-0.9zM113.4 28.3h0.9v0.9h-0.9zM101.5 32.0h0.9v0.9h-0.9zM126.2 16.3h0.9v0.9h-0.9zM109.5 34.0h0.9v0.9h-0.9zM106.9 18.7h0.9v0.9h-0.9zM125.1 37.3h0.9v0.9h-0.9zM130.6 19.8h0.9v0.9h-0.9zM105.0 15.7h0.9v0.9h-0.9zM104.5 22.7h0.9v0.9h-0.9zM129.8 32.1h0.9v0.9h-0.9zM106.4 24.2h0.9v0.9h-0.9zM117.5 19.0h0.9v0.9h-0.9zM102.7 19.7h0.9v0.9h-0.9zM110.0 16.3h0.9v0.9h-0.9zM130.2 36.9h0.9v0.9h-0.9zM115.2 25.0h0.9v0.9h-0.9zM117.6 33.9h0.9v0.9h-0.9zM113.3 35.7h0.9v0.9h-0.9zM129.7 21.6h0.9v0.9h-0.9zM118.4 36.5h0.9v0.9h-0.9zM110.1 37.3h0.9v0.9h-0.9zM116.0 30.3h0.9v0.9h-0.9zM103.9 24.2h0.9v0.9h-0.9zM120.7 20.0h0.9v0.9h-0.9zM130.1 24.2h0.9v0.9h-0.9zM118.0 32.6h0.9v0.9h-0.9zM110.4 30.9h0.9v0.9h-0.9zM123.0 32.6h0.9v0.9h-0.9zM110.5 23.0h0.9v0.9h-0.9zM118.5 25.3h0.9v0.9h-0.9zM115.2 28.0h0.9v0.9h-0.9zM123.8 18.7h0.9v0.9h-0.9zM107.4 18.3h0.9v0.9h-0.9zM116.5 20.0h0.9v0.9h-0.9zM128.9 20.0h0.9v0.9h-0.9zM114.4 32.4h0.9v0.9h-0.9zM109.5 17.3h0.9v0.9h-0.9zM107.9 31.0h0.9v0.9h-0.9zM111.5 36.3h0.9v0.9h-0.9zM105.7 22.2h0.9v0.9h-0.9zM115.8 22.9h0.9v0.9h-0.9zM109.9 17.8h0.9v0.9h-0.9zM116.2 32.0h0.9v0.9h-0.9zM112.1 37.2h0.9v0.9h-0.9zM119.7 23.5h0.9v0.9h-0.9zM112.0 21.6h0.9v0.9h-0.9zM103.9 25.9h0.9v0.9h-0.9zM117.0 33.0h0.9v0.9h-0.9zM103.3 16.2h0.9v0.9h-0.9zM128.2 23.4h0.9v0.9h-0.9zM122.7 34.8h0.9v0.9h-0.9zM109.4 19.4h0.9v0.9h-0.9zM124.4 22.2h0.9v0.9h-0.9zM116.1 15.5h0.9v0.9h-0.9zM133.2 52.0h0.9v0.9h-0.9zM129.8 38.4h0.9v0.9h-0.9zM133.5 54.4h0.9v0.9h-0.9zM125.5 46.5h0.9v0.9h-0.9zM127.4 54.6h0.9v0.9h-0.9zM143.9 47.6h0.9v0.9h-0.9zM122.5 41.2h0.9v0.9h-0.9zM130.9 42.9h0.9v0.9h-0.9zM134.0 45.1h0.9v0.9h-0.9zM108.6 39.3h0.9v0.9h-0.9zM113.1 55.3h0.9v0.9h-0.9zM105.6 43.6h0.9v0.9h-0.9zM105.1 53.5h0.9v0.9h-0.9zM105.6 52.7h0.9v0.9h-0.9zM114.9 39.5h0.9v0.9h-0.9zM105.3 46.6h0.9v0.9h-0.9zM104.2 47.7h0.9v0.9h-0.9zM129.6 48.8h0.9v0.9h-0.9zM103.9 54.2h0.9v0.9h-0.9zM139.5 51.2h0.9v0.9h-0.9zM141.6 39.1h0.9v0.9h-0.9zM106.7 41.4h0.9v0.9h-0.9zM141.4 48.0h0.9v0.9h-0.9zM105.8 49.9h0.9v0.9h-0.9zM136.6 42.2h0.9v0.9h-0.9zM129.5 53.1h0.9v0.9h-0.9zM119.6 50.9h0.9v0.9h-0.9zM126.1 50.8h0.9v0.9h-0.9zM138.3 33.9h0.9v0.9h-0.9zM109.3 45.5h0.9v0.9h-0.9zM101.0 41.7h0.9v0.9h-0.9zM144.9 40.8h0.9v0.9h-0.9zM110.5 39.9h0.9v0.9h-0.9zM108.5 43.9h0.9v0.9h-0.9zM117.0 48.4h0.9v0.9h-0.9zM141.1 49.9h0.9v0.9h-0.9zM129.3 46.0h0.9v0.9h-0.9zM120.6 48.1h0.9v0.9h-0.9zM121.4 43.3h0.9v0.9h-0.9zM104.5 55.1h0.9v0.9h-0.9zM111.5 40.3h0.9v0.9h-0.9zM136.4 55.1h0.9v0.9h-0.9zM117.2 41.9h0.9v0.9h-0.9zM137.9 42.9h0.9v0.9h-0.9zM103.8 53.7h0.9v0.9h-0.9zM137.7 52.0h0.9v0.9h-0.9zM114.4 39.2h0.9v0.9h-0.9zM120.0 39.6h0.9v0.9h-0.9zM133.7 48.2h0.9v0.9h-0.9zM144.7 55.6h0.9v0.9h-0.9zM127.7 54.3h0.9v0.9h-0.9zM141.0 51.2h0.9v0.9h-0.9zM105.5 47.2h0.9v0.9h-0.9zM129.3 50.4h0.9v0.9h-0.9zM107.4 45.4h0.9v0.9h-0.9zM105.8 41.3h0.9v0.9h-0.9zM116.9 39.4h0.9v0.9h-0.9zM119.0 43.6h0.9v0.9h-0.9zM105.9 44.0h0.9v0.9h-0.9zM104.3 48.6h0.9v0.9h-0.9zM102.6 42.8h0.9v0.9h-0.9zM101.2 50.7h0.9v0.9h-0.9zM142.5 49.7h0.9v0.9h-0.9zM121.1 42.3h0.9v0.9h-0.9zM116.6 42.7h0.9v0.9h-0.9zM108.6 42.1h0.9v0.9h-0.9zM126.9 41.6h0.9v0.9h-0.9zM106.5 44.2h0.9v0.9h-0.9zM110.9 45.1h0.9v0.9h-0.9zM115.0 49.0h0.9v0.9h-0.9zM115.8 50.1h0.9v0.9h-0.9zM115.8 50.4h0.9v0.9h-0.9zM138.9 54.5h0.9v0.9h-0.9zM134.1 41.3h0.9v0.9h-0.9zM136.1 50.8h0.9v0.9h-0.9zM128.7 50.2h0.9v0.9h-0.9zM119.9 47.0h0.9v0.9h-0.9zM124.0 53.2h0.9v0.9h-0.9zM122.9 53.9h0.9v0.9h-0.9zM108.0 41.4h0.9v0.9h-0.9zM114.8 55.3h0.9v0.9h-0.9zM135.3 41.1h0.9v0.9h-0.9zM111.3 43.2h0.9v0.9h-0.9zM115.6 46.4h0.9v0.9h-0.9zM113.4 46.5h0.9v0.9h-0.9zM134.7 37.4h0.9v0.9h-0.9zM110.7 45.0h0.9v0.9h-0.9zM126.2 53.4h0.9v0.9h-0.9zM136.8 42.2h0.9v0.9h-0.9zM122.7 50.9h0.9v0.9h-0.9zM130.5 50.7h0.9v0.9h-0.9zM131.1 49.9h0.9v0.9h-0.9zM109.8 49.0h0.9v0.9h-0.9zM141.8 35.7h0.9v0.9h-0.9zM129.5 54.8h0.9v0.9h-0.9zM134.7 42.1h0.9v0.9h-0.9zM119.9 40.7h0.9v0.9h-0.9zM107.8 50.8h0.9v0.9h-0.9zM123.9 50.2h0.9v0.9h-0.9zM132.7 43.3h0.9v0.9h-0.9zM118.0 55.9h0.9v0.9h-0.9zM117.0 39.4h0.9v0.9h-0.9zM111.9 43.5h0.9v0.9h-0.9zM119.5 42.4h0.9v0.9h-0.9zM137.8 39.3h0.9v0.9h-0.9zM127.7 43.5h0.9v0.9h-0.9zM142.7 45.8h0.9v0.9h-0.9zM142.0 39.6h0.9v0.9h-0.9zM113.8 52.5h0.9v0.9h-0.9zM103.8 48.6h0.9v0.9h-0.9zM142.6 52.8h0.9v0.9h-0.9zM142.6 38.7h0.9v0.9h-0.9zM122.5 44.9h0.9v0.9h-0.9zM106.6 48.6h0.9v0.9h-0.9zM123.6 51.8h0.9v0.9h-0.9zM141.5 53.1h0.9v0.9h-0.9zM120.3 39.2h0.9v0.9h-0.9zM129.0 40.8h0.9v0.9h-0.9zM128.9 54.2h0.9v0.9h-0.9zM144.2 37.1h0.9v0.9h-0.9zM105.6 51.8h0.9v0.9h-0.9zM116.2 39.8h0.9v0.9h-0.9zM109.6 48.6h0.9v0.9h-0.9zM109.4 55.3h0.9v0.9h-0.9zM102.0 54.6h0.9v0.9h-0.9zM119.0 41.8h0.9v0.9h-0.9zM141.3 43.7h0.9v0.9h-0.9zM125.0 53.1h0.9v0.9h-0.9zM130.1 52.2h0.9v0.9h-0.9zM110.3 43.6h0.9v0.9h-0.9zM112.5 53.8h0.9v0.9h-0.9zM110.2 40.3h0.9v0.9h-0.9zM118.8 38.4h0.9v0.9h-0.9zM132.2 43.1h0.9v0.9h-0.9zM136.0 39.3h0.9v0.9h-0.9zM137.8 52.1h0.9v0.9h-0.9zM118.7 54.8h0.9v0.9h-0.9zM141.8 36.0h0.9v0.9h-0.9zM125.2 53.1h0.9v0.9h-0.9zM111.1 53.0h0.9v0.9h-0.9zM114.3 51.7h0.9v0.9h-0.9zM117.6 55.0h0.9v0.9h-0.9zM139.6 40.1h0.9v0.9h-0.9zM101.6 46.4h0.9v0.9h-0.9zM141.3 41.1h0.9v0.9h-0.9zM133.2 44.2h0.9v0.9h-0.9zM107.4 54.9h0.9v0.9h-0.9zM132.8 41.1h0.9v0.9h-0.9zM136.4 41.3h0.9v0.9h-0.9zM125.4 49.1h0.9v0.9h-0.9zM139.5 34.3h0.9v0.9h-0.9zM105.9 42.7h0.9v0.9h-0.9zM107.8 51.1h0.9v0.9h-0.9zM116.0 39.4h0.9v0.9h-0.9zM123.2 47.2h0.9v0.9h-0.9zM102.0 51.7h0.9v0.9h-0.9zM134.3 36.5h0.9v0.9h-0.9zM127.7 45.5h0.9v0.9h-0.9zM130.0 41.9h0.9v0.9h-0.9zM120.8 42.3h0.9v0.9h-0.9zM112.8 43.1h0.9v0.9h-0.9zM119.3 46.2h0.9v0.9h-0.9zM118.3 55.6h0.9v0.9h-0.9zM110.4 54.4h0.9v0.9h-0.9zM101.7 51.6h0.9v0.9h-0.9zM119.7 54.1h0.9v0.9h-0.9zM106.8 43.5h0.9v0.9h-0.9zM135.8 42.9h0.9v0.9h-0.9zM132.8 56.5h0.9v0.9h-0.9zM136.3 36.6h0.9v0.9h-0.9zM115.3 44.5h0.9v0.9h-0.9zM134.0 56.0h0.9v0.9h-0.9zM138.3 50.7h0.9v0.9h-0.9zM127.8 48.9h0.9v0.9h-0.9zM139.3 51.2h0.9v0.9h-0.9zM118.9 55.6h0.9v0.9h-0.9zM114.8 51.6h0.9v0.9h-0.9zM114.0 48.8h0.9v0.9h-0.9zM139.4 56.2h0.9v0.9h-0.9zM126.1 45.8h0.9v0.9h-0.9zM108.4 52.5h0.9v0.9h-0.9zM138.9 43.9h0.9v0.9h-0.9zM141.6 48.2h0.9v0.9h-0.9zM139.0 40.3h0.9v0.9h-0.9zM122.2 43.6h0.9v0.9h-0.9zM127.2 39.5h0.9v0.9h-0.9zM138.1 50.2h0.9v0.9h-0.9zM130.4 45.2h0.9v0.9h-0.9zM111.6 45.4h0.9v0.9h-0.9zM130.6 41.5h0.9v0.9h-0.9zM110.6 48.8h0.9v0.9h-0.9zM136.1 35.8h0.9v0.9h-0.9zM101.3 45.5h0.9v0.9h-0.9zM142.9 32.3h0.9v0.9h-0.9zM136.3 46.1h0.9v0.9h-0.9zM142.7 56.2h0.9v0.9h-0.9zM132.3 45.7h0.9v0.9h-0.9zM144.3 40.2h0.9v0.9h-0.9zM104.6 54.5h0.9v0.9h-0.9zM109.6 43.3h0.9v0.9h-0.9zM132.9 49.3h0.9v0.9h-0.9zM120.4 48.3h0.9v0.9h-0.9zM137.7 35.4h0.9v0.9h-0.9zM117.9 45.3h0.9v0.9h-0.9zM131.5 45.1h0.9v0.9h-0.9zM116.7 53.0h0.9v0.9h-0.9zM143.5 48.4h0.9v0.9h-0.9zM139.7 40.4h0.9v0.9h-0.9zM106.8 50.9h0.9v0.9h-0.9zM109.0 52.6h0.9v0.9h-0.9zM134.8 52.9h0.9v0.9h-0.9zM126.2 47.1h0.9v0.9h-0.9zM109.3 51.2h0.9v0.9h-0.9zM144.4 46.7h0.9v0.9h-0.9zM119.7 53.6h0.9v0.9h-0.9zM104.2 40.0h0.9v0.9h-0.9zM107.6 49.4h0.9v0.9h-0.9zM115.9 56.1h0.9v0.9h-0.9zM115.2 48.8h0.9v0.9h-0.9zM117.0 50.4h0.9v0.9h-0.9zM103.6 56.1h0.9v0.9h-0.9zM111.9 49.6h0.9v0.9h-0.9zM135.4 35.7h0.9v0.9h-0.9zM103.2 44.3h0.9v0.9h-0.9zM126.8 47.0h0.9v0.9h-0.9zM140.8 51.4h0.9v0.9h-0.9zM139.8 37.1h0.9v0.9h-0.9zM121.5 50.0h0.9v0.9h-0.9zM133.0 51.6h0.9v0.9h-0.9zM138.4 55.3h0.9v0.9h-0.9zM127.1 43.9h0.9v0.9h-0.9zM126.9 39.6h0.9v0.9h-0.9zM124.8 46.3h0.9v0.9h-0.9zM138.3 37.8h0.9v0.9h-0.9zM107.5 41.8h0.9v0.9h-0.9zM103.2 38.3h0.9v0.9h-0.9zM123.4 52.7h0.9v0.9h-0.9zM126.9 56.2h0.9v0.9h-0.9zM135.5 56.1h0.9v0.9h-0.9zM139.8 38.7h0.9v0.9h-0.9zM108.9 48.5h0.9v0.9h-0.9zM133.5 40.8h0.9v0.9h-0.9zM137.1 47.1h0.9v0.9h-0.9zM137.9 53.3h0.9v0.9h-0.9zM111.3 52.3h0.9v0.9h-0.9zM112.6 52.5h0.9v0.9h-0.9zM137.7 52.0h0.9v0.9h-0.9zM117.7 55.4h0.9v0.9h-0.9zM141.1 34.3h0.9v0.9h-0.9zM108.4 50.6h0.9v0.9h-0.9zM143.3 34.9h0.9v0.9h-0.9zM104.8 53.4h0.9v0.9h-0.9zM126.4 55.0h0.9v0.9h-0.9zM144.8 54.1h0.9v0.9h-0.9zM137.9 54.8h0.9v0.9h-0.9zM118.6 48.8h0.9v0.9h-0.9zM138.6 51.7h0.9v0.9h-0.9zM127.3 52.2h0.9v0.9h-0.9zM134.3 54.4h0.9v0.9h-0.9zM140.9 53.1h0.9v0.9h-0.9zM109.2 39.0h0.9v0.9h-0.9zM135.0 34.2h0.9v0.9h-0.9zM144.7 26.0h0.9v0.9h-0.9zM138.2 17.9h0.9v0.9h-0.9zM135.3 29.6h0.9v0.9h-0.9zM142.4 25.3h0.9v0.9h-0.9zM137.0 30.8h0.9v0.9h-0.9zM133.5 22.8h0.9v0.9h-0.9zM134.2 16.9h0.9v0.9h-0.9zM134.4 33.4h0.9v0.9h-0.9zM141.5 24.2h0.9v0.9h-0.9zM132.6 26.5h0.9v0.9h-0.9zM135.0 29.0h0.9v0.9h-0.9zM143.0 23.3h0.9v0.9h-0.9zM135.6 33.3h0.9v0.9h-0.9zM143.0 30.4h0.9v0.9h-0.9zM141.1 16.8h0.9v0.9h-0.9zM133.4 32.6h0.9v0.9h-0.9zM144.1 17.6h0.9v0.9h-0.9zM143.3 19.3h0.9v0.9h-0.9zM132.2 34.7h0.9v0.9h-0.9zM134.5 34.3h0.9v0.9h-0.9zM144.4 23.8h0.9v0.9h-0.9zM141.7 20.0h0.9v0.9h-0.9zM138.2 18.1h0.9v0.9h-0.9zM139.8 18.6h0.9v0.9h-0.9zM137.0 16.0h0.9v0.9h-0.9zM144.7 28.7h0.9v0.9h-0.9zM135.7 20.3h0.9v0.9h-0.9zM142.0 26.1h0.9v0.9h-0.9zM138.9 16.4h0.9v0.9h-0.9zM136.1 25.5h0.9v0.9h-0.9zM142.8 19.9h0.9v0.9h-0.9zM131.7 27.1h0.9v0.9h-0.9zM134.0 16.3h0.9v0.9h-0.9zM132.5 25.8h0.9v0.9h-0.9zM137.0 21.2h0.9v0.9h-0.9zM140.9 16.6h0.9v0.9h-0.9zM135.1 26.2h0.9v0.9h-0.9zM135.7 25.3h0.9v0.9h-0.9zM144.3 26.7h0.9v0.9h-0.9zM134.3 25.7h0.9v0.9h-0.9zM135.4 17.1h0.9v0.9h-0.9zM144.0 21.9h0.9v0.9h-0.9zM132.1 24.5h0.9v0.9h-0.9zM141.7 23.5h0.9v0.9h-0.9zM139.2 17.3h0.9v0.9h-0.9zM140.5 21.0h0.9v0.9h-0.9zM137.5 30.7h0.9v0.9h-0.9zM131.7 27.9h0.9v0.9h-0.9zM132.0 19.7h0.9v0.9h-0.9zM141.7 28.7h0.9v0.9h-0.9zM132.0 34.2h0.9v0.9h-0.9zM132.6 20.7h0.9v0.9h-0.9zM140.2 16.6h0.9v0.9h-0.9zM141.7 22.1h0.9v0.9h-0.9zM142.1 28.4h0.9v0.9h-0.9zM134.6 32.5h0.9v0.9h-0.9zM132.3 25.0h0.9v0.9h-0.9zM131.9 25.1h0.9v0.9h-0.9zM135.0 26.9h0.9v0.9h-0.9zM142.1 16.7h0.9v0.9h-0.9zM137.8 24.4h0.9v0.9h-0.9zM131.1 34.0h0.9v0.9h-0.9zM135.6 16.2h0.9v0.9h-0.9zM139.7 27.0h0.9v0.9h-0.9zM137.6 32.3h0.9v0.9h-0.9zM143.5 26.6h0.9v0.9h-0.9zM135.5 29.5h0.9v0.9h-0.9zM142.9 30.8h0.9v0.9h-0.9zM139.7 19.0h0.9v0.9h-0.9zM141.2 28.4h0.9v0.9h-0.9zM141.1 25.4h0.9v0.9h-0.9zM131.5 21.0h0.9v0.9h-0.9zM139.3 18.8h0.9v0.9h-0.9z"/>
<path fill="rgb(135,135,135)" d="M122.6 23.7h0.9v0.9h-0.9zM121.7 25.9h0.9v0.9h-0.9zM116.3 27.4h0.9v0.9h-0.9zM130.8 20.7h0.9v0.9h-0.9zM112.2 27.8h0.9v0.9h-0.9zM127.5 22.5h0.9v0.9h-0.9zM130.9 19.8h0.9v0.9h-0.9zM118.0 26.4h0.9v0.9h-0.9zM120.1 27.2h0.9v0.9h-0.9zM126.4 27.3h0.9v0.9h-0.9zM127.0 20.8h0.9v0.9h-0.9zM124.3 28.3h0.9v0.9h-0.9zM126.7 20.3h0.9v0.9h-0.9zM132.3 26.4h0.9v0.9h-0.9zM114.1 25.8h0.9v0.9h-0.9zM115.8 25.2h0.9v0.9h-0.9zM132.6 26.6h0.9v0.9h-0.9zM121.4 24.7h0.9v0.9h-0.9zM128.7 20.5h0.9v0.9h-0.9zM116.1 28.3h0.9v0.9h-0.9zM127.5 27.2h0.9v0.9h-0.9zM116.8 27.7h0.9v0.9h-0.9z"/>
<path fill="rgb(175,175,175)" d="M119.1 39.0h0.9v0.9h-0.9zM131.0 55.8h0.9v0.9h-0.9zM134.6 50.4h0.9v0.9h-0.9zM137.7 41.3h0.9v0.9h-0.9zM119.4 39.3h0.9v0.9h-0.9zM129.7 42.8h0.9v0.9h-0.9zM132.1 41.6h0.9v0.9h-0.9zM138.1 45.9h0.9v0.9h-0.9zM112.9 41.2h0.9v0.9h-0.9zM111.2 54.3h0.9v0.9h-0.9zM103.1 40.6h0.9v0.9h-0.9zM119.9 46.1h0.9v0.9h-0.9zM105.5 47.8h0.9v0.9h-0.9zM144.9 31.6h0.9v0.9h-0.9zM140.7 48.2h0.9v0.9h-0.9zM141.9 45.7h0.9v0.9h-0.9zM125.1 41.8h0.9v0.9h-0.9zM125.2 38.7h0.9v0.9h-0.9zM108.8 45.5h0.9v0.9h-0.9zM135.9 55.9h0.9v0.9h-0.9zM140.9 46.0h0.9v0.9h-0.9zM110.0 44.8h0.9v0.9h-0.9zM108.1 52.8h0.9v0.9h-0.9zM134.2 40.0h0.9v0.9h-0.9zM115.2 53.6h0.9v0.9h-0.9zM130.4 41.2h0.9v0.9h-0.9zM106.2 52.7h0.9v0.9h-0.9zM115.7 41.9h0.9v0.9h-0.9zM141.9 45.6h0.9v0.9h-0.9zM120.0 52.0h0.9v0.9h-0.9zM141.8 54.3h0.9v0.9h-0.9zM102.1 51.3h0.9v0.9h-0.9zM135.1 48.9h0.9v0.9h-0.9zM133.0 47.4h0.9v0.9h-0.9zM110.1 54.7h0.9v0.9h-0.9zM136.0 36.4h0.9v0.9h-0.9zM111.4 46.6h0.9v0.9h-0.9zM128.2 46.3h0.9v0.9h-0.9zM141.2 51.3h0.9v0.9h-0.9zM107.7 42.5h0.9v0.9h-0.9zM131.3 46.4h0.9v0.9h-0.9zM122.2 44.3h0.9v0.9h-0.9zM107.9 43.5h0.9v0.9h-0.9zM107.3 53.4h0.9v0.9h-0.9zM129.4 47.6h0.9v0.9h-0.9zM133.7 41.8h0.9v0.9h-0.9zM141.3 47.9h0.9v0.9h-0.9zM142.1 51.1h0.9v0.9h-0.9zM113.0 41.4h0.9v0.9h-0.9zM110.1 46.7h0.9v0.9h-0.9zM118.1 42.2h0.9v0.9h-0.9zM127.0 49.2h0.9v0.9h-0.9zM128.0 46.5h0.9v0.9h-0.9zM125.1 52.0h0.9v0.9h-0.9zM142.4 50.2h0.9v0.9h-0.9zM127.3 54.9h0.9v0.9h-0.9zM125.8 43.7h0.9v0.9h-0.9zM110.1 38.5h0.9v0.9h-0.9zM105.6 44.7h0.9v0.9h-0.9zM120.2 51.3h0.9v0.9h-0.9zM132.9 54.6h0.9v0.9h-0.9zM141.1 32.9h0.9v0.9h-0.9zM130.0 54.5h0.9v0.9h-0.9zM142.7 53.3h0.9v0.9h-0.9zM105.7 52.9h0.9v0.9h-0.9zM115.2 45.1h0.9v0.9h-0.9zM116.8 41.1h0.9v0.9h-0.9zM129.0 54.9h0.9v0.9h-0.9zM103.8 41.1h0.9v0.9h-0.9zM132.4 50.9h0.9v0.9h-0.9zM125.6 53.7h0.9v0.9h-0.9zM126.9 45.8h0.9v0.9h-0.9zM117.9 49.9h0.9v0.9h-0.9zM143.7 42.6h0.9v0.9h-0.9zM129.3 44.1h0.9v0.9h-0.9zM112.2 54.0h0.9v0.9h-0.9zM104.3 41.1h0.9v0.9h-0.9zM141.7 45.2h0.9v0.9h-0.9zM117.4 49.8h0.9v0.9h-0.9zM131.0 46.4h0.9v0.9h-0.9zM142.8 39.8h0.9v0.9h-0.9zM113.5 46.5h0.9v0.9h-0.9zM141.9 48.7h0.9v0.9h-0.9zM138.7 52.0h0.9v0.9h-0.9zM102.0 46.9h0.9v0.9h-0.9zM111.8 48.0h0.9v0.9h-0.9zM135.6 51.3h0.9v0.9h-0.9zM109.4 39.9h0.9v0.9h-0.9zM107.9 51.9h0.9v0.9h-0.9zM132.0 44.8h0.9v0.9h-0.9zM125.1 49.5h0.9v0.9h-0.9zM143.0 50.5h0.9v0.9h-0.9zM122.8 44.9h0.9v0.9h-0.9zM103.4 47.6h0.9v0.9h-0.9zM136.8 36.9h0.9v0.9h-0.9zM109.6 41.5h0.9v0.9h-0.9zM113.5 50.1h0.9v0.9h-0.9zM118.8 52.8h0.9v0.9h-0.9zM130.4 47.3h0.9v0.9h-0.9z"/>
</g>
</g></g>
<g clip-path="url(#c22)"><g transform="translate(0 100.40)">
<ellipse cx="180.00" cy="28.00" rx="3.60" ry="7.00" fill="rgb(150,150,150)" opacity="1.0" filter="url(#b1_4)" transform="rotate(8 180.00 28.00)"/>
<ellipse cx="179.00" cy="42.00" rx="4.00" ry="5.00" fill="rgb(200,200,200)" opacity="1.0" filter="url(#b1_6)"/>
<ellipse cx="193.00" cy="46.50" rx="3.20" ry="8.50" fill="rgb(150,150,150)" opacity="1.0" filter="url(#b1_4)"/>
<g filter="url(#dsoft)">
<path fill="rgb(150,150,150)" d="M171.0 26.0h0.9v0.9h-0.9zM173.5 35.0h0.9v0.9h-0.9zM179.0 20.6h0.9v0.9h-0.9zM172.4 33.1h0.9v0.9h-0.9zM164.5 31.3h0.9v0.9h-0.9zM178.9 23.2h0.9v0.9h-0.9zM171.1 30.6h0.9v0.9h-0.9zM176.5 25.4h0.9v0.9h-0.9zM171.2 26.0h0.9v0.9h-0.9zM171.3 32.9h0.9v0.9h-0.9zM182.9 28.9h0.9v0.9h-0.9zM178.3 33.7h0.9v0.9h-0.9zM165.0 32.2h0.9v0.9h-0.9zM182.5 21.2h0.9v0.9h-0.9zM173.0 29.8h0.9v0.9h-0.9zM172.7 24.8h0.9v0.9h-0.9zM176.6 34.6h0.9v0.9h-0.9zM173.8 25.6h0.9v0.9h-0.9zM168.4 26.8h0.9v0.9h-0.9zM166.9 30.7h0.9v0.9h-0.9zM170.4 34.2h0.9v0.9h-0.9zM168.3 31.7h0.9v0.9h-0.9zM181.4 34.2h0.9v0.9h-0.9zM174.9 30.1h0.9v0.9h-0.9zM171.7 28.3h0.9v0.9h-0.9zM166.8 34.2h0.9v0.9h-0.9zM173.0 27.3h0.9v0.9h-0.9zM168.4 36.2h0.9v0.9h-0.9zM177.2 29.4h0.9v0.9h-0.9zM179.9 24.8h0.9v0.9h-0.9zM177.3 24.8h0.9v0.9h-0.9zM178.3 36.3h0.9v0.9h-0.9zM168.1 30.9h0.9v0.9h-0.9zM180.5 23.2h0.9v0.9h-0.9zM174.8 29.6h0.9v0.9h-0.9zM179.8 24.7h0.9v0.9h-0.9zM180.7 31.4h0.9v0.9h-0.9zM173.6 34.0h0.9v0.9h-0.9zM182.1 28.2h0.9v0.9h-0.9zM175.1 27.6h0.9v0.9h-0.9zM178.7 27.9h0.9v0.9h-0.9zM175.8 33.9h0.9v0.9h-0.9zM183.6 23.1h0.9v0.9h-0.9zM176.9 23.7h0.9v0.9h-0.9zM179.9 30.1h0.9v0.9h-0.9zM171.5 26.7h0.9v0.9h-0.9zM180.5 35.5h0.9v0.9h-0.9zM173.7 35.5h0.9v0.9h-0.9zM169.9 30.2h0.9v0.9h-0.9zM168.2 28.1h0.9v0.9h-0.9zM173.0 33.7h0.9v0.9h-0.9zM168.8 30.3h0.9v0.9h-0.9zM183.1 19.3h0.9v0.9h-0.9zM174.4 22.5h0.9v0.9h-0.9zM179.7 23.3h0.9v0.9h-0.9zM184.3 22.5h0.9v0.9h-0.9zM170.4 30.1h0.9v0.9h-0.9zM171.2 30.5h0.9v0.9h-0.9zM181.0 29.2h0.9v0.9h-0.9zM170.3 28.8h0.9v0.9h-0.9zM184.2 25.3h0.9v0.9h-0.9zM173.6 35.6h0.9v0.9h-0.9zM183.4 31.1h0.9v0.9h-0.9zM168.8 26.6h0.9v0.9h-0.9zM175.0 22.6h0.9v0.9h-0.9zM176.9 32.8h0.9v0.9h-0.9zM179.9 24.9h0.9v0.9h-0.9zM178.2 27.4h0.9v0.9h-0.9zM166.6 32.1h0.9v0.9h-0.9zM177.5 35.1h0.9v0.9h-0.9zM173.2 29.4h0.9v0.9h-0.9zM173.1 34.3h0.9v0.9h-0.9zM170.4 27.5h0.9v0.9h-0.9zM180.3 25.4h0.9v0.9h-0.9zM183.8 27.7h0.9v0.9h-0.9zM172.7 25.0h0.9v0.9h-0.9zM181.1 50.0h0.9v0.9h-0.9zM172.1 48.0h0.9v0.9h-0.9zM173.1 50.9h0.9v0.9h-0.9zM184.1 49.3h0.9v0.9h-0.9zM167.5 47.2h0.9v0.9h-0.9zM175.2 53.8h0.9v0.9h-0.9zM171.0 44.2h0.9v0.9h-0.9zM178.5 48.2h0.9v0.9h-0.9zM174.5 48.2h0.9v0.9h-0.9zM169.2 38.3h0.9v0.9h-0.9zM173.3 46.8h0.9v0.9h-0.9zM179.2 44.2h0.9v0.9h-0.9zM171.3 55.0h0.9v0.9h-0.9zM182.8 40.6h0.9v0.9h-0.9zM181.7 43.2h0.9v0.9h-0.9zM165.6 51.9h0.9v0.9h-0.9zM175.1 54.5h0.9v0.9h-0.9zM173.3 37.4h0.9v0.9h-0.9zM172.4 50.0h0.9v0.9h-0.9zM169.3 49.2h0.9v0.9h-0.9zM169.2 49.4h0.9v0.9h-0.9zM164.8 50.2h0.9v0.9h-0.9zM168.7 44.0h0.9v0.9h-0.9zM184.0 38.6h0.9v0.9h-0.9zM166.1 55.2h0.9v0.9h-0.9zM180.8 47.5h0.9v0.9h-0.9zM175.1 45.4h0.9v0.9h-0.9zM177.5 52.3h0.9v0.9h-0.9zM167.3 43.5h0.9v0.9h-0.9zM174.7 39.6h0.9v0.9h-0.9zM166.8 49.0h0.9v0.9h-0.9zM184.3 52.2h0.9v0.9h-0.9zM170.9 43.1h0.9v0.9h-0.9zM184.4 52.4h0.9v0.9h-0.9zM176.5 38.1h0.9v0.9h-0.9zM167.2 51.0h0.9v0.9h-0.9zM172.0 49.3h0.9v0.9h-0.9zM167.9 49.7h0.9v0.9h-0.9zM174.9 38.7h0.9v0.9h-0.9zM167.2 41.4h0.9v0.9h-0.9zM172.5 47.0h0.9v0.9h-0.9zM183.5 40.2h0.9v0.9h-0.9zM168.5 46.8h0.9v0.9h-0.9zM169.1 36.7h0.9v0.9h-0.9zM174.7 44.5h0.9v0.9h-0.9zM177.6 46.4h0.9v0.9h-0.9zM166.1 45.1h0.9v0.9h-0.9zM166.4 38.1h0.9v0.9h-0.9zM181.8 54.0h0.9v0.9h-0.9zM183.7 50.7h0.9v0.9h-0.9zM176.9 46.3h0.9v0.9h-0.9zM175.1 42.7h0.9v0.9h-0.9zM182.1 45.5h0.9v0.9h-0.9zM182.9 43.5h0.9v0.9h-0.9zM169.6 48.9h0.9v0.9h-0.9zM178.7 45.9h0.9v0.9h-0.9zM169.0 38.2h0.9v0.9h-0.9zM177.2 39.2h0.9v0.9h-0.9zM181.5 45.4h0.9v0.9h-0.9zM179.1 41.8h0.9v0.9h-0.9zM182.7 41.2h0.9v0.9h-0.9zM184.4 37.8h0.9v0.9h-0.9zM179.3 42.3h0.9v0.9h-0.9zM183.4 48.2h0.9v0.9h-0.9zM179.3 47.1h0.9v0.9h-0.9zM179.9 42.0h0.9v0.9h-0.9zM172.2 49.3h0.9v0.9h-0.9zM165.8 42.1h0.9v0.9h-0.9zM168.5 40.0h0.9v0.9h-0.9zM169.7 37.1h0.9v0.9h-0.9zM175.7 44.7h0.9v0.9h-0.9zM179.4 55.0h0.9v0.9h-0.9zM176.5 49.2h0.9v0.9h-0.9zM182.5 55.1h0.9v0.9h-0.9zM173.5 53.2h0.9v0.9h-0.9zM173.1 45.4h0.9v0.9h-0.9zM169.7 50.9h0.9v0.9h-0.9zM169.6 42.7h0.9v0.9h-0.9zM173.5 36.9h0.9v0.9h-0.9zM181.0 36.6h0.9v0.9h-0.9zM167.3 53.8h0.9v0.9h-0.9zM180.1 37.0h0.9v0.9h-0.9zM169.0 44.5h0.9v0.9h-0.9zM165.0 41.1h0.9v0.9h-0.9zM171.5 55.4h0.9v0.9h-0.9zM165.6 50.0h0.9v0.9h-0.9zM168.8 48.6h0.9v0.9h-0.9zM164.8 51.1h0.9v0.9h-0.9zM183.1 37.8h0.9v0.9h-0.9zM184.1 53.1h0.9v0.9h-0.9zM170.8 45.9h0.9v0.9h-0.9zM164.7 40.1h0.9v0.9h-0.9zM165.7 43.2h0.9v0.9h-0.9zM169.6 37.9h0.9v0.9h-0.9zM165.9 40.1h0.9v0.9h-0.9zM165.8 39.2h0.9v0.9h-0.9zM181.4 44.8h0.9v0.9h-0.9zM166.4 53.2h0.9v0.9h-0.9zM168.0 40.9h0.9v0.9h-0.9zM165.5 52.7h0.9v0.9h-0.9zM173.6 47.7h0.9v0.9h-0.9zM174.8 53.0h0.9v0.9h-0.9zM182.6 52.0h0.9v0.9h-0.9zM175.2 50.0h0.9v0.9h-0.9zM168.9 53.2h0.9v0.9h-0.9zM174.9 37.1h0.9v0.9h-0.9zM171.2 54.8h0.9v0.9h-0.9zM170.4 38.9h0.9v0.9h-0.9zM184.3 44.8h0.9v0.9h-0.9zM176.1 43.6h0.9v0.9h-0.9zM169.8 42.8h0.9v0.9h-0.9zM183.3 46.0h0.9v0.9h-0.9zM178.8 48.4h0.9v0.9h-0.9zM169.5 54.0h0.9v0.9h-0.9zM182.9 39.3h0.9v0.9h-0.9zM191.3 55.2h0.9v0.9h-0.9zM200.9 48.8h0.9v0.9h-0.9zM196.0 40.2h0.9v0.9h-0.9zM192.5 42.9h0.9v0.9h-0.9zM195.5 38.4h0.9v0.9h-0.9zM185.5 55.9h0.9v0.9h-0.9zM185.2 42.7h0.9v0.9h-0.9zM193.9 55.8h0.9v0.9h-0.9zM192.5 42.5h0.9v0.9h-0.9zM195.7 48.9h0.9v0.9h-0.9zM204.3 50.1h0.9v0.9h-0.9zM186.7 54.1h0.9v0.9h-0.9zM205.0 39.0h0.9v0.9h-0.9zM203.0 54.4h0.9v0.9h-0.9zM203.5 54.7h0.9v0.9h-0.9zM191.8 49.1h0.9v0.9h-0.9zM202.1 52.8h0.9v0.9h-0.9zM198.3 53.8h0.9v0.9h-0.9zM199.5 44.3h0.9v0.9h-0.9zM205.8 44.8h0.9v0.9h-0.9zM187.3 54.3h0.9v0.9h-0.9zM193.2 52.1h0.9v0.9h-0.9zM204.5 51.8h0.9v0.9h-0.9zM200.2 43.2h0.9v0.9h-0.9zM196.2 44.5h0.9v0.9h-0.9zM202.8 43.0h0.9v0.9h-0.9zM194.7 51.7h0.9v0.9h-0.9zM187.5 52.0h0.9v0.9h-0.9zM197.2 49.9h0.9v0.9h-0.9zM200.0 41.6h0.9v0.9h-0.9zM204.6 48.8h0.9v0.9h-0.9zM192.9 39.0h0.9v0.9h-0.9zM189.5 37.7h0.9v0.9h-0.9zM191.4 39.6h0.9v0.9h-0.9zM185.7 38.0h0.9v0.9h-0.9zM187.3 41.1h0.9v0.9h-0.9zM187.1 42.9h0.9v0.9h-0.9zM187.3 40.0h0.9v0.9h-0.9zM197.8 44.1h0.9v0.9h-0.9zM200.0 41.4h0.9v0.9h-0.9zM199.3 42.3h0.9v0.9h-0.9zM194.4 41.8h0.9v0.9h-0.9zM187.0 56.0h0.9v0.9h-0.9zM190.7 37.1h0.9v0.9h-0.9zM198.6 38.1h0.9v0.9h-0.9zM187.3 41.3h0.9v0.9h-0.9zM189.5 44.1h0.9v0.9h-0.9zM192.4 42.9h0.9v0.9h-0.9zM202.1 44.2h0.9v0.9h-0.9zM204.8 50.3h0.9v0.9h-0.9zM204.5 45.2h0.9v0.9h-0.9zM192.4 48.0h0.9v0.9h-0.9zM207.0 38.5h0.9v0.9h-0.9zM200.0 52.7h0.9v0.9h-0.9zM197.1 39.4h0.9v0.9h-0.9zM207.0 43.2h0.9v0.9h-0.9zM205.3 46.0h0.9v0.9h-0.9zM187.6 47.1h0.9v0.9h-0.9zM191.5 42.9h0.9v0.9h-0.9zM204.6 54.1h0.9v0.9h-0.9zM197.7 49.5h0.9v0.9h-0.9zM199.6 45.5h0.9v0.9h-0.9zM201.9 48.5h0.9v0.9h-0.9zM206.8 52.2h0.9v0.9h-0.9zM204.5 37.7h0.9v0.9h-0.9zM195.3 39.9h0.9v0.9h-0.9zM191.7 38.4h0.9v0.9h-0.9zM204.1 45.7h0.9v0.9h-0.9zM197.3 52.7h0.9v0.9h-0.9zM201.9 53.5h0.9v0.9h-0.9zM185.8 38.9h0.9v0.9h-0.9zM195.4 48.1h0.9v0.9h-0.9zM206.7 43.7h0.9v0.9h-0.9zM188.0 41.7h0.9v0.9h-0.9zM187.8 51.2h0.9v0.9h-0.9zM197.0 41.7h0.9v0.9h-0.9zM201.6 44.3h0.9v0.9h-0.9zM189.3 38.4h0.9v0.9h-0.9zM202.1 52.8h0.9v0.9h-0.9zM200.6 55.2h0.9v0.9h-0.9zM206.2 37.1h0.9v0.9h-0.9zM187.9 46.6h0.9v0.9h-0.9zM196.4 43.7h0.9v0.9h-0.9zM189.8 42.0h0.9v0.9h-0.9zM206.5 46.4h0.9v0.9h-0.9zM194.3 51.1h0.9v0.9h-0.9zM201.1 52.2h0.9v0.9h-0.9zM202.2 42.9h0.9v0.9h-0.9zM190.4 46.5h0.9v0.9h-0.9zM201.3 42.1h0.9v0.9h-0.9zM204.9 39.3h0.9v0.9h-0.9zM190.1 44.3h0.9v0.9h-0.9zM188.9 39.5h0.9v0.9h-0.9zM191.9 37.2h0.9v0.9h-0.9zM198.2 47.4h0.9v0.9h-0.9zM188.2 51.1h0.9v0.9h-0.9zM194.1 47.4h0.9v0.9h-0.9zM204.5 46.5h0.9v0.9h-0.9zM187.4 43.3h0.9v0.9h-0.9zM188.4 53.9h0.9v0.9h-0.9zM190.2 38.4h0.9v0.9h-0.9zM194.9 43.4h0.9v0.9h-0.9zM202.2 37.4h0.9v0.9h-0.9zM189.9 43.0h0.9v0.9h-0.9zM187.4 46.8h0.9v0.9h-0.9zM204.7 54.5h0.9v0.9h-0.9zM197.9 37.2h0.9v0.9h-0.9zM199.0 39.8h0.9v0.9h-0.9zM196.8 48.8h0.9v0.9h-0.9zM205.8 47.8h0.9v0.9h-0.9zM190.6 38.6h0.9v0.9h-0.9zM201.5 43.7h0.9v0.9h-0.9zM191.9 47.3h0.9v0.9h-0.9zM199.8 48.5h0.9v0.9h-0.9zM185.3 52.9h0.9v0.9h-0.9zM199.6 53.5h0.9v0.9h-0.9zM199.7 49.5h0.9v0.9h-0.9zM191.0 43.6h0.9v0.9h-0.9zM205.5 43.0h0.9v0.9h-0.9zM205.0 41.9h0.9v0.9h-0.9zM195.1 55.3h0.9v0.9h-0.9zM199.1 46.9h0.9v0.9h-0.9zM185.2 44.5h0.9v0.9h-0.9zM187.9 47.8h0.9v0.9h-0.9zM206.5 41.9h0.9v0.9h-0.9z"/>
<path fill="rgb(125,125,125)" d="M180.3 31.7h0.9v0.9h-0.9zM177.5 32.5h0.9v0.9h-0.9zM185.2 34.7h0.9v0.9h-0.9zM180.2 27.5h0.9v0.9h-0.9zM176.4 29.4h0.9v0.9h-0.9zM184.0 30.8h0.9v0.9h-0.9zM180.8 27.8h0.9v0.9h-0.9zM176.1 37.4h0.9v0.9h-0.9zM178.3 34.5h0.9v0.9h-0.9zM180.1 27.6h0.9v0.9h-0.9zM178.0 28.2h0.9v0.9h-0.9zM180.6 26.5h0.9v0.9h-0.9zM179.9 27.2h0.9v0.9h-0.9zM178.5 24.8h0.9v0.9h-0.9zM186.4 23.4h0.9v0.9h-0.9zM196.7 40.3h0.9v0.9h-0.9zM192.3 49.4h0.9v0.9h-0.9zM192.1 49.9h0.9v0.9h-0.9zM190.8 51.7h0.9v0.9h-0.9zM193.4 35.6h0.9v0.9h-0.9zM190.3 40.2h0.9v0.9h-0.9zM192.5 44.8h0.9v0.9h-0.9zM193.7 49.8h0.9v0.9h-0.9zM194.2 49.0h0.9v0.9h-0.9zM191.5 39.1h0.9v0.9h-0.9zM190.7 48.5h0.9v0.9h-0.9zM191.2 40.5h0.9v0.9h-0.9zM191.4 48.6h0.9v0.9h-0.9zM190.5 45.6h0.9v0.9h-0.9zM194.4 50.8h0.9v0.9h-0.9zM189.8 46.4h0.9v0.9h-0.9z"/>
<path fill="rgb(175,175,175)" d="M182.7 43.4h0.9v0.9h-0.9zM181.8 46.9h0.9v0.9h-0.9zM176.1 42.3h0.9v0.9h-0.9zM178.5 45.8h0.9v0.9h-0.9zM178.8 42.5h0.9v0.9h-0.9zM174.2 40.7h0.9v0.9h-0.9zM177.6 39.1h0.9v0.9h-0.9zM179.4 41.2h0.9v0.9h-0.9zM179.5 44.8h0.9v0.9h-0.9zM180.0 42.2h0.9v0.9h-0.9zM179.8 38.8h0.9v0.9h-0.9zM178.1 40.4h0.9v0.9h-0.9z"/>
</g>
</g></g>
<g clip-path="url(#c23)"><g transform="translate(0 100.40)">
<ellipse cx="237.50" cy="46.50" rx="7.00" ry="5.00" fill="rgb(155,155,155)" opacity="1.0" filter="url(#b1_6)"/>
<ellipse cx="253.00" cy="31.00" rx="8.00" ry="3.00" fill="rgb(240,240,240)" opacity="1.0" filter="url(#b2_0)"/>
<g filter="url(#dsoft)">
<path fill="rgb(130,130,130)" d="M246.1 43.6h0.9v0.9h-0.9zM241.6 52.0h0.9v0.9h-0.9zM236.9 44.7h0.9v0.9h-0.9zM241.1 49.7h0.9v0.9h-0.9zM240.0 44.7h0.9v0.9h-0.9zM238.3 42.2h0.9v0.9h-0.9zM242.1 49.9h0.9v0.9h-0.9zM236.9 48.3h0.9v0.9h-0.9zM236.4 46.7h0.9v0.9h-0.9zM238.3 45.9h0.9v0.9h-0.9zM249.8 45.6h0.9v0.9h-0.9zM241.9 43.9h0.9v0.9h-0.9zM238.8 46.4h0.9v0.9h-0.9zM234.2 49.0h0.9v0.9h-0.9zM240.9 50.4h0.9v0.9h-0.9zM239.4 43.5h0.9v0.9h-0.9zM241.0 47.4h0.9v0.9h-0.9zM245.3 39.6h0.9v0.9h-0.9zM237.0 46.8h0.9v0.9h-0.9zM242.0 43.1h0.9v0.9h-0.9zM242.3 47.4h0.9v0.9h-0.9z"/>
<path fill="rgb(150,150,150)" d="M236.2 52.9h0.9v0.9h-0.9zM239.7 51.9h0.9v0.9h-0.9zM237.1 43.2h0.9v0.9h-0.9zM239.0 39.3h0.9v0.9h-0.9zM236.9 42.7h0.9v0.9h-0.9zM233.0 50.6h0.9v0.9h-0.9zM239.8 48.8h0.9v0.9h-0.9zM240.3 41.4h0.9v0.9h-0.9zM234.7 40.8h0.9v0.9h-0.9zM240.7 42.6h0.9v0.9h-0.9zM232.2 50.3h0.9v0.9h-0.9zM232.2 52.6h0.9v0.9h-0.9zM235.6 48.1h0.9v0.9h-0.9zM246.7 41.7h0.9v0.9h-0.9zM244.9 43.0h0.9v0.9h-0.9zM239.1 44.8h0.9v0.9h-0.9zM239.2 48.3h0.9v0.9h-0.9zM243.0 43.7h0.9v0.9h-0.9zM241.8 51.1h0.9v0.9h-0.9zM238.7 45.1h0.9v0.9h-0.9zM237.9 40.8h0.9v0.9h-0.9zM240.3 41.9h0.9v0.9h-0.9zM236.3 51.9h0.9v0.9h-0.9zM234.9 43.0h0.9v0.9h-0.9zM241.2 47.1h0.9v0.9h-0.9zM244.4 39.9h0.9v0.9h-0.9zM234.4 40.6h0.9v0.9h-0.9zM232.4 43.9h0.9v0.9h-0.9zM243.1 50.5h0.9v0.9h-0.9zM233.4 48.6h0.9v0.9h-0.9zM233.2 44.8h0.9v0.9h-0.9zM232.2 41.6h0.9v0.9h-0.9zM243.8 48.8h0.9v0.9h-0.9zM238.4 51.3h0.9v0.9h-0.9zM231.9 42.4h0.9v0.9h-0.9zM241.5 39.9h0.9v0.9h-0.9zM237.6 44.4h0.9v0.9h-0.9zM233.0 42.1h0.9v0.9h-0.9zM234.4 46.1h0.9v0.9h-0.9zM235.8 46.5h0.9v0.9h-0.9zM235.6 48.8h0.9v0.9h-0.9zM244.9 47.2h0.9v0.9h-0.9zM244.2 45.0h0.9v0.9h-0.9zM231.4 51.4h0.9v0.9h-0.9zM233.4 39.1h0.9v0.9h-0.9zM242.7 39.4h0.9v0.9h-0.9zM238.7 44.4h0.9v0.9h-0.9zM230.9 44.8h0.9v0.9h-0.9zM231.9 48.5h0.9v0.9h-0.9zM244.3 44.3h0.9v0.9h-0.9zM239.5 43.9h0.9v0.9h-0.9zM240.2 52.5h0.9v0.9h-0.9zM234.0 46.9h0.9v0.9h-0.9zM230.2 51.7h0.9v0.9h-0.9zM231.0 44.4h0.9v0.9h-0.9zM236.2 46.2h0.9v0.9h-0.9zM234.3 40.7h0.9v0.9h-0.9zM239.0 50.2h0.9v0.9h-0.9zM246.5 44.2h0.9v0.9h-0.9zM234.2 42.8h0.9v0.9h-0.9zM232.0 51.1h0.9v0.9h-0.9zM243.7 40.1h0.9v0.9h-0.9zM245.5 45.5h0.9v0.9h-0.9zM240.1 47.5h0.9v0.9h-0.9zM242.7 41.2h0.9v0.9h-0.9zM236.0 46.2h0.9v0.9h-0.9zM240.7 48.8h0.9v0.9h-0.9zM233.8 40.9h0.9v0.9h-0.9zM241.5 44.4h0.9v0.9h-0.9zM246.6 52.3h0.9v0.9h-0.9zM246.3 52.7h0.9v0.9h-0.9zM245.1 49.9h0.9v0.9h-0.9zM230.9 50.0h0.9v0.9h-0.9zM244.3 40.6h0.9v0.9h-0.9zM231.9 51.5h0.9v0.9h-0.9zM233.0 38.7h0.9v0.9h-0.9z"/>
</g>
</g></g>
<g clip-path="url(#c30)"><g transform="translate(0 150.20)">
<polygon points="37.00,19.80 54.00,20.00 56.00,21.80 54.00,23.80 37.00,24.00" fill="rgb(102,102,102)" opacity="1.0" filter="url(#b0_8)"/>
<polygon points="37.00,20.50 53.00,20.70 55.00,21.80 53.00,23.10 37.00,23.30" fill="rgb(77,77,77)" opacity="0.9" filter="url(#b0_6)"/>
<polygon points="36.50,34.00 58.50,34.00 59.20,45.00 58.50,56.00 36.50,56.00" fill="rgb(130,130,130)" opacity="1.0" filter="url(#b0_9)"/>
<ellipse cx="47.50" cy="40.00" rx="10.00" ry="4.20" fill="rgb(185,185,185)" opacity="1.0" filter="url(#b1_5)"/>
<ellipse cx="44.00" cy="51.00" rx="9.00" ry="4.20" fill="rgb(105,105,105)" opacity="0.9" filter="url(#b2_0)"/>
<polygon points="36.50,32.90 59.00,32.90 59.00,35.30 36.50,35.30" fill="rgb(70,70,70)" opacity="1.0" filter="url(#b0_5)"/>
<polygon points="57.50,40.00 60.50,40.00 60.50,56.00 57.50,56.00" fill="rgb(185,185,185)" opacity="1.0" filter="url(#b0_8)"/>
<polygon points="58.00,34.00 62.00,33.00 63.00,40.00 58.50,41.00" fill="rgb(130,130,130)" opacity="1.0" filter="url(#b0_8)"/>
<ellipse cx="66.80" cy="37.80" rx="6.20" ry="5.00" fill="rgb(108,108,108)" opacity="1.0" filter="url(#b1_1)"/>
<ellipse cx="69.50" cy="21.50" rx="1.80" ry="1.80" fill="rgb(120,120,120)" opacity="1.0" filter="url(#b0_7)"/>
<g filter="url(#dsoft)">
<path fill="rgb(140,140,140)" d="M44.3 19.3h0.9v0.9h-0.9zM43.2 16.4h0.9v0.9h-0.9zM46.5 28.2h0.9v0.9h-0.9zM37.3 21.6h0.9v0.9h-0.9zM57.2 27.6h0.9v0.9h-0.9zM37.1 23.2h0.9v0.9h-0.9zM40.8 15.8h0.9v0.9h-0.9zM55.6 29.5h0.9v0.9h-0.9zM58.4 13.3h0.9v0.9h-0.9zM36.9 19.1h0.9v0.9h-0.9zM44.7 14.9h0.9v0.9h-0.9zM56.6 21.4h0.9v0.9h-0.9zM58.2 13.8h0.9v0.9h-0.9zM46.8 14.9h0.9v0.9h-0.9zM57.9 29.1h0.9v0.9h-0.9zM39.0 19.4h0.9v0.9h-0.9zM57.9 23.7h0.9v0.9h-0.9zM45.3 24.0h0.9v0.9h-0.9zM46.9 28.2h0.9v0.9h-0.9zM38.5 23.3h0.9v0.9h-0.9zM56.6 13.5h0.9v0.9h-0.9zM43.3 20.5h0.9v0.9h-0.9zM49.7 28.0h0.9v0.9h-0.9zM48.4 14.5h0.9v0.9h-0.9zM57.5 16.3h0.9v0.9h-0.9zM54.3 15.0h0.9v0.9h-0.9zM38.8 25.0h0.9v0.9h-0.9zM45.3 28.2h0.9v0.9h-0.9zM37.8 14.9h0.9v0.9h-0.9zM38.3 21.1h0.9v0.9h-0.9zM40.2 15.9h0.9v0.9h-0.9zM46.5 27.0h0.9v0.9h-0.9zM53.9 20.2h0.9v0.9h-0.9zM44.1 17.7h0.9v0.9h-0.9zM51.7 19.7h0.9v0.9h-0.9zM52.0 15.1h0.9v0.9h-0.9zM41.4 22.8h0.9v0.9h-0.9zM36.6 29.1h0.9v0.9h-0.9zM55.0 20.8h0.9v0.9h-0.9zM38.7 19.8h0.9v0.9h-0.9zM44.1 19.4h0.9v0.9h-0.9zM46.1 15.6h0.9v0.9h-0.9zM37.8 14.4h0.9v0.9h-0.9zM39.6 16.5h0.9v0.9h-0.9zM45.7 15.6h0.9v0.9h-0.9zM39.7 23.5h0.9v0.9h-0.9zM49.0 18.0h0.9v0.9h-0.9zM52.0 22.6h0.9v0.9h-0.9zM41.1 28.5h0.9v0.9h-0.9zM49.0 15.5h0.9v0.9h-0.9zM47.5 13.8h0.9v0.9h-0.9zM43.3 29.0h0.9v0.9h-0.9zM45.1 22.0h0.9v0.9h-0.9zM37.2 20.9h0.9v0.9h-0.9zM55.7 29.4h0.9v0.9h-0.9zM46.6 30.7h0.9v0.9h-0.9zM58.0 15.0h0.9v0.9h-0.9zM54.6 17.5h0.9v0.9h-0.9zM49.8 21.6h0.9v0.9h-0.9zM41.4 16.5h0.9v0.9h-0.9zM58.2 28.7h0.9v0.9h-0.9zM45.6 27.7h0.9v0.9h-0.9zM51.9 19.8h0.9v0.9h-0.9zM54.5 28.2h0.9v0.9h-0.9zM44.0 29.5h0.9v0.9h-0.9zM44.4 16.9h0.9v0.9h-0.9zM56.1 27.3h0.9v0.9h-0.9zM41.3 22.5h0.9v0.9h-0.9zM40.0 26.9h0.9v0.9h-0.9zM38.9 30.9h0.9v0.9h-0.9zM56.4 19.5h0.9v0.9h-0.9zM56.5 21.2h0.9v0.9h-0.9zM49.9 29.3h0.9v0.9h-0.9zM37.0 13.1h0.9v0.9h-0.9zM43.4 22.7h0.9v0.9h-0.9zM52.7 16.6h0.9v0.9h-0.9zM38.0 13.0h0.9v0.9h-0.9zM36.6 16.7h0.9v0.9h-0.9zM57.3 20.6h0.9v0.9h-0.9zM42.3 16.3h0.9v0.9h-0.9zM46.2 17.4h0.9v0.9h-0.9zM41.2 21.2h0.9v0.9h-0.9zM45.7 30.5h0.9v0.9h-0.9zM45.8 13.8h0.9v0.9h-0.9zM37.8 25.9h0.9v0.9h-0.9zM48.1 23.7h0.9v0.9h-0.9zM57.6 18.3h0.9v0.9h-0.9zM40.4 20.4h0.9v0.9h-0.9zM57.5 29.1h0.9v0.9h-0.9zM48.9 26.4h0.9v0.9h-0.9zM43.2 21.2h0.9v0.9h-0.9zM41.1 23.8h0.9v0.9h-0.9zM53.7 23.1h0.9v0.9h-0.9zM55.4 17.3h0.9v0.9h-0.9zM53.9 25.7h0.9v0.9h-0.9zM55.5 22.9h0.9v0.9h-0.9zM43.2 19.9h0.9v0.9h-0.9zM52.3 18.2h0.9v0.9h-0.9zM57.9 25.6h0.9v0.9h-0.9zM58.4 20.6h0.9v0.9h-0.9zM47.8 26.9h0.9v0.9h-0.9zM57.9 14.8h0.9v0.9h-0.9zM55.9 29.8h0.9v0.9h-0.9zM44.7 19.5h0.9v0.9h-0.9zM38.8 25.1h0.9v0.9h-0.9zM46.0 19.7h0.9v0.9h-0.9zM40.9 28.2h0.9v0.9h-0.9zM37.3 29.7h0.9v0.9h-0.9zM39.5 20.9h0.9v0.9h-0.9zM42.3 14.1h0.9v0.9h-0.9zM38.0 15.1h0.9v0.9h-0.9zM36.9 17.4h0.9v0.9h-0.9zM43.4 23.0h0.9v0.9h-0.9zM56.5 22.2h0.9v0.9h-0.9zM55.5 20.4h0.9v0.9h-0.9zM55.0 17.3h0.9v0.9h-0.9zM44.9 17.1h0.9v0.9h-0.9zM44.8 21.9h0.9v0.9h-0.9zM58.1 25.3h0.9v0.9h-0.9zM45.4 20.1h0.9v0.9h-0.9zM52.6 24.0h0.9v0.9h-0.9zM57.9 27.1h0.9v0.9h-0.9zM38.1 26.8h0.9v0.9h-0.9zM38.5 20.5h0.9v0.9h-0.9zM43.2 19.6h0.9v0.9h-0.9zM45.0 19.3h0.9v0.9h-0.9zM47.0 20.0h0.9v0.9h-0.9zM48.1 27.8h0.9v0.9h-0.9zM37.7 18.1h0.9v0.9h-0.9zM40.0 19.3h0.9v0.9h-0.9zM57.7 26.0h0.9v0.9h-0.9zM46.9 28.0h0.9v0.9h-0.9zM37.5 17.5h0.9v0.9h-0.9zM40.4 25.8h0.9v0.9h-0.9zM54.5 20.7h0.9v0.9h-0.9zM56.2 21.4h0.9v0.9h-0.9zM49.6 25.6h0.9v0.9h-0.9zM53.2 23.2h0.9v0.9h-0.9zM43.9 18.8h0.9v0.9h-0.9zM45.7 27.6h0.9v0.9h-0.9zM58.3 26.7h0.9v0.9h-0.9zM52.4 17.2h0.9v0.9h-0.9zM47.2 27.8h0.9v0.9h-0.9zM47.7 24.1h0.9v0.9h-0.9zM49.9 23.2h0.9v0.9h-0.9zM50.9 22.4h0.9v0.9h-0.9zM45.7 27.5h0.9v0.9h-0.9zM44.9 23.8h0.9v0.9h-0.9zM57.5 20.2h0.9v0.9h-0.9zM39.4 17.1h0.9v0.9h-0.9zM38.9 19.5h0.9v0.9h-0.9zM47.2 17.3h0.9v0.9h-0.9zM56.4 23.3h0.9v0.9h-0.9zM50.6 27.6h0.9v0.9h-0.9zM43.0 21.6h0.9v0.9h-0.9zM57.7 27.0h0.9v0.9h-0.9zM53.9 20.1h0.9v0.9h-0.9zM56.3 17.2h0.9v0.9h-0.9zM39.0 23.0h0.9v0.9h-0.9zM37.4 18.3h0.9v0.9h-0.9zM58.0 20.8h0.9v0.9h-0.9zM39.5 26.5h0.9v0.9h-0.9zM40.3 26.3h0.9v0.9h-0.9zM44.8 19.9h0.9v0.9h-0.9zM54.6 19.6h0.9v0.9h-0.9zM57.7 17.8h0.9v0.9h-0.9zM37.8 18.6h0.9v0.9h-0.9zM57.4 19.9h0.9v0.9h-0.9zM41.8 21.0h0.9v0.9h-0.9zM37.1 23.6h0.9v0.9h-0.9zM45.7 26.3h0.9v0.9h-0.9zM55.1 22.6h0.9v0.9h-0.9zM49.8 27.4h0.9v0.9h-0.9zM44.5 27.3h0.9v0.9h-0.9zM48.3 17.8h0.9v0.9h-0.9zM40.3 25.4h0.9v0.9h-0.9zM58.3 17.2h0.9v0.9h-0.9zM39.7 25.5h0.9v0.9h-0.9zM55.0 18.7h0.9v0.9h-0.9zM44.9 23.6h0.9v0.9h-0.9zM49.3 21.5h0.9v0.9h-0.9zM49.2 27.3h0.9v0.9h-0.9zM56.2 20.2h0.9v0.9h-0.9zM58.1 20.1h0.9v0.9h-0.9zM43.6 21.8h0.9v0.9h-0.9zM55.1 17.5h0.9v0.9h-0.9zM56.7 25.8h0.9v0.9h-0.9zM47.2 21.8h0.9v0.9h-0.9zM53.0 25.8h0.9v0.9h-0.9zM49.8 17.5h0.9v0.9h-0.9zM64.7 47.3h0.9v0.9h-0.9zM67.7 49.7h0.9v0.9h-0.9zM62.5 47.8h0.9v0.9h-0.9zM61.8 55.3h0.9v0.9h-0.9zM62.9 53.6h0.9v0.9h-0.9zM66.4 48.5h0.9v0.9h-0.9zM64.8 53.7h0.9v0.9h-0.9zM65.4 44.1h0.9v0.9h-0.9zM65.0 43.1h0.9v0.9h-0.9zM64.0 45.5h0.9v0.9h-0.9zM71.5 48.2h0.9v0.9h-0.9zM69.2 42.3h0.9v0.9h-0.9zM64.2 52.7h0.9v0.9h-0.9zM67.6 55.0h0.9v0.9h-0.9zM65.0 53.8h0.9v0.9h-0.9zM62.4 49.3h0.9v0.9h-0.9zM66.4 48.1h0.9v0.9h-0.9zM71.0 54.8h0.9v0.9h-0.9zM67.4 54.7h0.9v0.9h-0.9zM63.9 46.6h0.9v0.9h-0.9zM71.7 46.3h0.9v0.9h-0.9zM71.8 42.9h0.9v0.9h-0.9zM63.9 50.5h0.9v0.9h-0.9zM70.6 42.3h0.9v0.9h-0.9zM62.8 42.3h0.9v0.9h-0.9zM62.6 49.0h0.9v0.9h-0.9zM63.2 43.6h0.9v0.9h-0.9zM68.3 43.9h0.9v0.9h-0.9zM71.7 53.6h0.9v0.9h-0.9zM70.8 54.4h0.9v0.9h-0.9zM71.0 53.8h0.9v0.9h-0.9zM63.6 42.1h0.9v0.9h-0.9zM61.5 42.0h0.9v0.9h-0.9zM64.6 47.8h0.9v0.9h-0.9zM68.7 47.4h0.9v0.9h-0.9zM61.5 47.5h0.9v0.9h-0.9zM68.3 50.1h0.9v0.9h-0.9zM60.8 47.7h0.9v0.9h-0.9zM68.8 44.3h0.9v0.9h-0.9zM64.6 52.6h0.9v0.9h-0.9zM70.2 45.8h0.9v0.9h-0.9zM61.4 45.1h0.9v0.9h-0.9zM69.3 52.1h0.9v0.9h-0.9zM62.2 46.5h0.9v0.9h-0.9zM65.3 48.6h0.9v0.9h-0.9zM64.5 42.6h0.9v0.9h-0.9zM63.4 49.3h0.9v0.9h-0.9zM67.4 42.0h0.9v0.9h-0.9zM66.5 47.6h0.9v0.9h-0.9zM62.0 52.8h0.9v0.9h-0.9zM60.5 44.8h0.9v0.9h-0.9zM63.9 46.2h0.9v0.9h-0.9zM66.1 42.4h0.9v0.9h-0.9zM64.4 43.3h0.9v0.9h-0.9zM60.7 44.9h0.9v0.9h-0.9zM61.3 43.7h0.9v0.9h-0.9zM63.3 55.5h0.9v0.9h-0.9zM67.9 45.4h0.9v0.9h-0.9zM62.3 47.3h0.9v0.9h-0.9zM61.9 52.0h0.9v0.9h-0.9zM64.1 50.4h0.9v0.9h-0.9zM63.7 44.9h0.9v0.9h-0.9zM61.5 44.2h0.9v0.9h-0.9zM63.4 48.5h0.9v0.9h-0.9zM60.8 47.7h0.9v0.9h-0.9zM62.2 51.3h0.9v0.9h-0.9zM67.5 47.8h0.9v0.9h-0.9zM61.0 49.7h0.9v0.9h-0.9zM64.9 47.6h0.9v0.9h-0.9zM64.7 53.3h0.9v0.9h-0.9zM62.3 46.9h0.9v0.9h-0.9zM66.1 42.9h0.9v0.9h-0.9zM65.7 44.3h0.9v0.9h-0.9zM62.6 52.9h0.9v0.9h-0.9zM66.3 47.6h0.9v0.9h-0.9zM66.1 44.4h0.9v0.9h-0.9zM62.4 22.4h0.9v0.9h-0.9zM72.5 22.3h0.9v0.9h-0.9zM63.4 24.2h0.9v0.9h-0.9zM70.0 30.4h0.9v0.9h-0.9zM68.3 25.8h0.9v0.9h-0.9zM64.9 24.2h0.9v0.9h-0.9zM71.1 22.8h0.9v0.9h-0.9zM68.5 22.2h0.9v0.9h-0.9zM65.8 24.2h0.9v0.9h-0.9zM69.3 19.8h0.9v0.9h-0.9zM60.7 24.6h0.9v0.9h-0.9zM66.6 26.7h0.9v0.9h-0.9zM61.1 27.2h0.9v0.9h-0.9zM68.2 24.1h0.9v0.9h-0.9zM71.1 23.1h0.9v0.9h-0.9zM70.0 28.2h0.9v0.9h-0.9zM65.7 25.2h0.9v0.9h-0.9zM64.6 25.2h0.9v0.9h-0.9zM67.9 23.4h0.9v0.9h-0.9zM66.1 25.6h0.9v0.9h-0.9zM61.7 24.8h0.9v0.9h-0.9zM66.7 28.7h0.9v0.9h-0.9zM67.9 23.8h0.9v0.9h-0.9zM65.8 26.3h0.9v0.9h-0.9zM62.7 25.9h0.9v0.9h-0.9zM63.3 27.3h0.9v0.9h-0.9zM69.9 22.6h0.9v0.9h-0.9zM69.0 26.7h0.9v0.9h-0.9zM61.9 23.8h0.9v0.9h-0.9zM65.9 27.1h0.9v0.9h-0.9zM63.8 27.7h0.9v0.9h-0.9zM69.9 24.3h0.9v0.9h-0.9zM65.2 25.3h0.9v0.9h-0.9zM67.7 26.1h0.9v0.9h-0.9zM61.2 23.2h0.9v0.9h-0.9zM60.9 27.8h0.9v0.9h-0.9zM69.4 24.3h0.9v0.9h-0.9zM68.5 21.8h0.9v0.9h-0.9zM66.2 26.0h0.9v0.9h-0.9zM60.6 24.8h0.9v0.9h-0.9zM62.1 27.2h0.9v0.9h-0.9zM65.8 23.7h0.9v0.9h-0.9zM62.5 27.3h0.9v0.9h-0.9zM66.6 23.2h0.9v0.9h-0.9zM64.2 22.5h0.9v0.9h-0.9zM70.3 23.5h0.9v0.9h-0.9zM72.3 23.7h0.9v0.9h-0.9zM62.9 24.0h0.9v0.9h-0.9z"/>
<path fill="rgb(150,150,150)" d="M45.6 20.3h0.9v0.9h-0.9zM45.8 25.5h0.9v0.9h-0.9zM40.4 26.1h0.9v0.9h-0.9zM44.5 24.0h0.9v0.9h-0.9zM49.9 24.4h0.9v0.9h-0.9zM51.3 19.7h0.9v0.9h-0.9zM49.4 20.8h0.9v0.9h-0.9zM55.3 18.6h0.9v0.9h-0.9zM38.7 18.7h0.9v0.9h-0.9zM37.6 18.5h0.9v0.9h-0.9zM44.8 22.9h0.9v0.9h-0.9zM45.6 18.1h0.9v0.9h-0.9zM39.4 17.8h0.9v0.9h-0.9zM48.6 20.1h0.9v0.9h-0.9zM47.4 20.6h0.9v0.9h-0.9zM53.5 21.7h0.9v0.9h-0.9zM41.2 24.6h0.9v0.9h-0.9zM46.3 23.0h0.9v0.9h-0.9zM54.5 18.2h0.9v0.9h-0.9zM43.5 20.6h0.9v0.9h-0.9zM42.6 17.9h0.9v0.9h-0.9zM43.9 24.2h0.9v0.9h-0.9zM55.7 25.2h0.9v0.9h-0.9zM53.5 19.2h0.9v0.9h-0.9zM38.1 22.8h0.9v0.9h-0.9zM55.5 17.8h0.9v0.9h-0.9zM45.6 20.8h0.9v0.9h-0.9zM51.9 24.7h0.9v0.9h-0.9zM51.5 24.6h0.9v0.9h-0.9zM37.3 23.9h0.9v0.9h-0.9zM53.2 20.4h0.9v0.9h-0.9zM37.7 25.0h0.9v0.9h-0.9zM54.0 17.7h0.9v0.9h-0.9zM47.6 20.2h0.9v0.9h-0.9zM50.5 21.9h0.9v0.9h-0.9zM53.2 24.9h0.9v0.9h-0.9zM40.7 22.9h0.9v0.9h-0.9zM39.9 18.5h0.9v0.9h-0.9zM50.1 21.2h0.9v0.9h-0.9zM54.0 25.8h0.9v0.9h-0.9zM52.5 21.8h0.9v0.9h-0.9zM39.6 20.5h0.9v0.9h-0.9zM37.2 22.1h0.9v0.9h-0.9zM52.1 17.8h0.9v0.9h-0.9zM55.2 17.5h0.9v0.9h-0.9zM55.5 20.3h0.9v0.9h-0.9zM42.0 25.8h0.9v0.9h-0.9zM46.0 21.7h0.9v0.9h-0.9zM54.6 26.3h0.9v0.9h-0.9zM37.5 23.5h0.9v0.9h-0.9zM38.8 22.6h0.9v0.9h-0.9zM45.7 50.8h0.9v0.9h-0.9zM52.8 48.3h0.9v0.9h-0.9zM55.3 43.9h0.9v0.9h-0.9zM43.5 35.4h0.9v0.9h-0.9zM45.9 50.2h0.9v0.9h-0.9zM37.2 40.2h0.9v0.9h-0.9zM58.3 49.7h0.9v0.9h-0.9zM41.0 39.7h0.9v0.9h-0.9zM54.7 49.4h0.9v0.9h-0.9zM43.0 45.3h0.9v0.9h-0.9zM52.4 48.7h0.9v0.9h-0.9zM55.3 43.0h0.9v0.9h-0.9zM57.7 47.9h0.9v0.9h-0.9zM49.5 55.3h0.9v0.9h-0.9zM49.9 45.4h0.9v0.9h-0.9zM37.6 35.2h0.9v0.9h-0.9zM56.7 45.3h0.9v0.9h-0.9zM45.2 37.6h0.9v0.9h-0.9zM40.2 42.6h0.9v0.9h-0.9zM47.3 48.4h0.9v0.9h-0.9zM39.7 38.8h0.9v0.9h-0.9zM45.0 35.5h0.9v0.9h-0.9zM49.8 52.5h0.9v0.9h-0.9zM57.0 47.8h0.9v0.9h-0.9zM41.6 54.0h0.9v0.9h-0.9zM49.8 52.0h0.9v0.9h-0.9zM40.5 35.3h0.9v0.9h-0.9zM39.4 34.6h0.9v0.9h-0.9zM48.7 45.3h0.9v0.9h-0.9zM56.3 48.1h0.9v0.9h-0.9zM47.9 34.3h0.9v0.9h-0.9zM57.0 44.1h0.9v0.9h-0.9zM37.3 47.3h0.9v0.9h-0.9zM57.1 35.3h0.9v0.9h-0.9zM51.8 46.5h0.9v0.9h-0.9zM36.5 39.6h0.9v0.9h-0.9zM39.2 44.4h0.9v0.9h-0.9zM47.3 40.7h0.9v0.9h-0.9zM52.3 52.4h0.9v0.9h-0.9zM36.9 42.5h0.9v0.9h-0.9zM41.8 45.5h0.9v0.9h-0.9zM44.9 49.8h0.9v0.9h-0.9zM45.5 37.5h0.9v0.9h-0.9zM54.0 40.1h0.9v0.9h-0.9zM45.5 51.2h0.9v0.9h-0.9zM45.0 37.2h0.9v0.9h-0.9zM46.0 36.6h0.9v0.9h-0.9zM48.9 34.3h0.9v0.9h-0.9z"/>
<path fill="rgb(105,105,105)" d="M40.5 52.0h0.9v0.9h-0.9zM49.7 43.9h0.9v0.9h-0.9zM56.8 36.6h0.9v0.9h-0.9zM42.4 39.8h0.9v0.9h-0.9zM53.6 42.5h0.9v0.9h-0.9zM37.3 41.2h0.9v0.9h-0.9zM37.8 36.6h0.9v0.9h-0.9zM45.7 53.9h0.9v0.9h-0.9zM44.2 47.1h0.9v0.9h-0.9zM47.5 45.0h0.9v0.9h-0.9zM55.3 38.0h0.9v0.9h-0.9zM39.7 39.0h0.9v0.9h-0.9zM44.6 40.3h0.9v0.9h-0.9zM41.6 38.4h0.9v0.9h-0.9zM50.2 41.9h0.9v0.9h-0.9zM50.8 38.0h0.9v0.9h-0.9zM44.2 38.3h0.9v0.9h-0.9zM55.3 40.0h0.9v0.9h-0.9zM43.3 36.8h0.9v0.9h-0.9zM49.3 40.0h0.9v0.9h-0.9zM52.0 42.6h0.9v0.9h-0.9zM50.1 45.6h0.9v0.9h-0.9zM57.5 39.5h0.9v0.9h-0.9zM55.9 38.1h0.9v0.9h-0.9zM49.1 49.0h0.9v0.9h-0.9zM37.0 40.8h0.9v0.9h-0.9zM45.8 37.4h0.9v0.9h-0.9zM53.6 36.5h0.9v0.9h-0.9zM46.1 38.2h0.9v0.9h-0.9zM52.6 49.3h0.9v0.9h-0.9zM54.5 45.6h0.9v0.9h-0.9zM50.2 53.9h0.9v0.9h-0.9zM45.9 54.8h0.9v0.9h-0.9zM43.1 43.1h0.9v0.9h-0.9zM56.6 36.0h0.9v0.9h-0.9zM46.6 49.8h0.9v0.9h-0.9zM49.8 34.6h0.9v0.9h-0.9zM45.1 52.2h0.9v0.9h-0.9zM46.5 41.2h0.9v0.9h-0.9zM42.2 50.5h0.9v0.9h-0.9zM37.5 50.7h0.9v0.9h-0.9zM42.9 44.6h0.9v0.9h-0.9zM55.4 51.6h0.9v0.9h-0.9zM54.0 37.8h0.9v0.9h-0.9zM39.7 53.2h0.9v0.9h-0.9zM49.3 40.3h0.9v0.9h-0.9zM45.6 42.5h0.9v0.9h-0.9zM55.6 50.8h0.9v0.9h-0.9zM46.4 50.5h0.9v0.9h-0.9z"/>
<path fill="rgb(83,83,83)" d="M67.8 35.5h0.9v0.9h-0.9zM68.4 41.2h0.9v0.9h-0.9zM72.4 39.5h0.9v0.9h-0.9zM64.6 40.4h0.9v0.9h-0.9zM68.8 36.4h0.9v0.9h-0.9zM72.4 42.1h0.9v0.9h-0.9zM75.0 38.3h0.9v0.9h-0.9zM65.7 37.3h0.9v0.9h-0.9zM67.3 35.5h0.9v0.9h-0.9zM61.9 43.0h0.9v0.9h-0.9zM69.7 39.2h0.9v0.9h-0.9zM70.7 36.3h0.9v0.9h-0.9zM65.8 37.4h0.9v0.9h-0.9zM72.1 37.6h0.9v0.9h-0.9zM68.0 36.7h0.9v0.9h-0.9zM68.6 39.7h0.9v0.9h-0.9zM67.0 36.8h0.9v0.9h-0.9zM73.9 35.2h0.9v0.9h-0.9z"/>
</g>
</g></g>
<g clip-path="url(#c31)"><g transform="translate(0 150.20)">
<polygon points="100.80,12.80 145.00,12.80 145.00,15.20 100.80,15.20" fill="rgb(198,198,198)" opacity="1.0" filter="url(#b0_5)"/>
<polygon points="101.00,38.00 132.00,38.00 124.00,56.50 101.00,56.50" fill="rgb(175,175,175)" opacity="1.0" filter="url(#b1_4)"/>
<polygon points="101.00,29.00 110.00,28.00 118.00,25.00 125.00,21.50 131.00,20.50 135.50,28.00 134.00,38.00 124.00,37.60 114.00,35.00 101.00,33.00" fill="rgb(112,112,112)" opacity="1.0" filter="url(#b0_9)"/>
<ellipse cx="124.00" cy="30.50" rx="6.50" ry="3.80" fill="rgb(200,200,200)" opacity="1.0" filter="url(#b1_1)" transform="rotate(-12 124.00 30.50)"/>
<ellipse cx="107.00" cy="31.00" rx="5.00" ry="1.30" fill="rgb(150,150,150)" opacity="1.0" filter="url(#b0_9)" transform="rotate(-4 107.00 31.00)"/>
<polygon points="115.00,56.50 121.00,47.00 128.00,40.00 134.00,37.50 145.00,33.00 145.00,56.50" fill="rgb(185,185,185)" opacity="1.0" filter="url(#b1_2)"/>
<ellipse cx="129.00" cy="50.00" rx="5.00" ry="4.00" fill="rgb(215,215,215)" opacity="0.8" filter="url(#b1_6)"/>
<polygon points="131.50,18.00 138.00,18.00 138.50,33.00 131.50,39.00" fill="rgb(120,120,120)" opacity="1.0" filter="url(#b1_0)"/>
<polygon points="116.00,38.00 131.00,38.00 129.00,56.50 116.00,56.50" fill="rgb(165,165,165)" opacity="1.0" filter="url(#b1_5)"/>
<ellipse cx="140.80" cy="40.80" rx="3.80" ry="5.60" fill="rgb(110,110,110)" opacity="1.0" filter="url(#b0_8)" transform="rotate(12 140.80 40.80)"/>
<ellipse cx="140.80" cy="40.80" rx="2.20" ry="3.80" fill="rgb(225,225,225)" opacity="1.0" filter="url(#b0_7)" transform="rotate(12 140.80 40.80)"/>
<polygon points="132.00,37.60 145.00,31.30 145.00,33.30 133.00,39.40" fill="rgb(95,95,95)" opacity="1.0" filter="url(#b0_6)"/>
<g filter="url(#dsoft)">
<path fill="rgb(150,150,150)" d="M109.0 19.7h0.9v0.9h-0.9zM125.8 25.2h0.9v0.9h-0.9zM105.2 29.3h0.9v0.9h-0.9zM116.5 24.7h0.9v0.9h-0.9zM107.5 28.8h0.9v0.9h-0.9zM102.1 21.7h0.9v0.9h-0.9zM117.9 23.7h0.9v0.9h-0.9zM114.0 25.3h0.9v0.9h-0.9zM101.7 28.2h0.9v0.9h-0.9zM128.3 22.5h0.9v0.9h-0.9zM114.5 23.3h0.9v0.9h-0.9zM118.1 27.2h0.9v0.9h-0.9zM124.2 20.9h0.9v0.9h-0.9zM107.4 29.1h0.9v0.9h-0.9zM105.8 26.5h0.9v0.9h-0.9zM116.9 19.6h0.9v0.9h-0.9zM118.5 23.6h0.9v0.9h-0.9zM103.8 23.7h0.9v0.9h-0.9zM104.6 29.3h0.9v0.9h-0.9zM126.7 19.3h0.9v0.9h-0.9zM120.6 22.0h0.9v0.9h-0.9zM105.1 24.8h0.9v0.9h-0.9zM129.7 25.9h0.9v0.9h-0.9zM129.3 24.6h0.9v0.9h-0.9zM124.3 17.7h0.9v0.9h-0.9zM106.4 22.3h0.9v0.9h-0.9zM126.9 25.5h0.9v0.9h-0.9zM124.3 16.7h0.9v0.9h-0.9zM118.7 23.3h0.9v0.9h-0.9zM118.7 23.8h0.9v0.9h-0.9zM124.8 26.9h0.9v0.9h-0.9zM104.1 28.6h0.9v0.9h-0.9zM115.3 26.8h0.9v0.9h-0.9zM107.5 21.1h0.9v0.9h-0.9zM129.4 26.0h0.9v0.9h-0.9zM110.3 21.8h0.9v0.9h-0.9zM107.5 27.3h0.9v0.9h-0.9zM119.9 26.6h0.9v0.9h-0.9zM111.5 19.9h0.9v0.9h-0.9zM112.5 20.5h0.9v0.9h-0.9zM111.4 28.1h0.9v0.9h-0.9zM102.2 20.7h0.9v0.9h-0.9zM117.8 20.2h0.9v0.9h-0.9zM120.7 26.4h0.9v0.9h-0.9zM111.7 25.7h0.9v0.9h-0.9zM110.0 22.0h0.9v0.9h-0.9zM125.3 17.5h0.9v0.9h-0.9zM117.3 23.0h0.9v0.9h-0.9zM123.9 19.2h0.9v0.9h-0.9zM120.7 23.6h0.9v0.9h-0.9zM125.4 23.6h0.9v0.9h-0.9zM109.4 27.5h0.9v0.9h-0.9zM113.4 20.4h0.9v0.9h-0.9zM111.1 28.5h0.9v0.9h-0.9zM105.1 28.1h0.9v0.9h-0.9zM121.3 26.7h0.9v0.9h-0.9zM120.2 27.8h0.9v0.9h-0.9zM102.1 23.2h0.9v0.9h-0.9zM122.3 20.1h0.9v0.9h-0.9zM128.4 17.7h0.9v0.9h-0.9zM113.8 18.3h0.9v0.9h-0.9zM120.5 27.2h0.9v0.9h-0.9zM105.9 28.3h0.9v0.9h-0.9zM114.7 28.2h0.9v0.9h-0.9zM117.8 26.3h0.9v0.9h-0.9zM110.4 21.7h0.9v0.9h-0.9zM108.6 26.6h0.9v0.9h-0.9zM126.5 24.0h0.9v0.9h-0.9zM101.7 29.4h0.9v0.9h-0.9zM127.2 25.3h0.9v0.9h-0.9zM109.7 28.3h0.9v0.9h-0.9zM121.1 24.2h0.9v0.9h-0.9zM118.0 23.4h0.9v0.9h-0.9zM115.2 28.2h0.9v0.9h-0.9zM104.9 27.5h0.9v0.9h-0.9zM115.2 27.0h0.9v0.9h-0.9zM127.5 18.7h0.9v0.9h-0.9zM102.8 27.6h0.9v0.9h-0.9zM101.4 24.0h0.9v0.9h-0.9zM105.3 21.6h0.9v0.9h-0.9zM123.6 21.6h0.9v0.9h-0.9zM126.9 24.9h0.9v0.9h-0.9zM125.2 24.6h0.9v0.9h-0.9zM101.6 28.1h0.9v0.9h-0.9zM116.0 23.5h0.9v0.9h-0.9zM114.6 23.3h0.9v0.9h-0.9zM117.9 21.2h0.9v0.9h-0.9zM104.4 27.7h0.9v0.9h-0.9zM102.1 26.4h0.9v0.9h-0.9zM115.3 25.8h0.9v0.9h-0.9zM118.6 25.6h0.9v0.9h-0.9zM109.3 19.7h0.9v0.9h-0.9zM128.1 20.4h0.9v0.9h-0.9zM119.9 17.2h0.9v0.9h-0.9zM118.9 25.1h0.9v0.9h-0.9zM113.9 26.5h0.9v0.9h-0.9zM105.4 23.0h0.9v0.9h-0.9zM101.5 23.4h0.9v0.9h-0.9zM129.5 18.3h0.9v0.9h-0.9zM116.4 22.1h0.9v0.9h-0.9zM119.9 21.3h0.9v0.9h-0.9zM118.7 19.6h0.9v0.9h-0.9zM111.2 18.5h0.9v0.9h-0.9zM143.7 21.2h0.9v0.9h-0.9zM144.5 22.9h0.9v0.9h-0.9zM141.3 27.5h0.9v0.9h-0.9zM144.3 28.1h0.9v0.9h-0.9zM141.6 17.6h0.9v0.9h-0.9zM137.4 30.1h0.9v0.9h-0.9zM135.9 25.5h0.9v0.9h-0.9zM143.4 23.9h0.9v0.9h-0.9zM144.8 19.3h0.9v0.9h-0.9zM144.9 27.6h0.9v0.9h-0.9zM137.1 33.0h0.9v0.9h-0.9zM143.2 29.3h0.9v0.9h-0.9zM134.7 17.0h0.9v0.9h-0.9zM143.1 25.2h0.9v0.9h-0.9zM139.2 22.3h0.9v0.9h-0.9zM139.9 20.3h0.9v0.9h-0.9zM141.8 26.9h0.9v0.9h-0.9zM142.4 23.2h0.9v0.9h-0.9zM139.9 21.1h0.9v0.9h-0.9zM136.7 19.2h0.9v0.9h-0.9zM137.5 23.5h0.9v0.9h-0.9zM131.7 15.8h0.9v0.9h-0.9zM137.4 26.7h0.9v0.9h-0.9zM132.4 19.2h0.9v0.9h-0.9zM135.5 24.3h0.9v0.9h-0.9zM140.6 30.9h0.9v0.9h-0.9zM139.4 23.9h0.9v0.9h-0.9zM138.5 19.1h0.9v0.9h-0.9zM143.2 17.1h0.9v0.9h-0.9zM138.7 23.8h0.9v0.9h-0.9zM142.5 23.7h0.9v0.9h-0.9zM138.7 28.3h0.9v0.9h-0.9zM142.4 19.0h0.9v0.9h-0.9zM140.4 19.7h0.9v0.9h-0.9zM143.0 19.6h0.9v0.9h-0.9zM139.3 24.0h0.9v0.9h-0.9zM139.5 19.2h0.9v0.9h-0.9zM135.4 20.9h0.9v0.9h-0.9zM139.8 28.2h0.9v0.9h-0.9zM140.9 26.8h0.9v0.9h-0.9zM138.0 31.2h0.9v0.9h-0.9zM142.9 18.1h0.9v0.9h-0.9zM133.0 19.1h0.9v0.9h-0.9zM144.3 20.6h0.9v0.9h-0.9zM143.1 20.1h0.9v0.9h-0.9zM134.0 21.3h0.9v0.9h-0.9zM139.9 19.9h0.9v0.9h-0.9zM136.7 27.2h0.9v0.9h-0.9zM143.8 27.4h0.9v0.9h-0.9zM138.7 17.6h0.9v0.9h-0.9zM139.5 31.1h0.9v0.9h-0.9zM143.0 21.0h0.9v0.9h-0.9zM132.3 19.3h0.9v0.9h-0.9zM144.0 28.2h0.9v0.9h-0.9zM144.3 27.8h0.9v0.9h-0.9zM134.5 25.9h0.9v0.9h-0.9zM140.6 25.5h0.9v0.9h-0.9zM144.0 20.0h0.9v0.9h-0.9zM136.5 31.7h0.9v0.9h-0.9zM136.1 23.3h0.9v0.9h-0.9zM141.3 20.4h0.9v0.9h-0.9zM141.6 26.8h0.9v0.9h-0.9zM143.4 27.9h0.9v0.9h-0.9zM116.6 38.6h0.9v0.9h-0.9zM112.3 54.3h0.9v0.9h-0.9zM104.8 38.9h0.9v0.9h-0.9zM117.8 50.7h0.9v0.9h-0.9zM122.5 39.9h0.9v0.9h-0.9zM122.8 55.2h0.9v0.9h-0.9zM111.1 55.5h0.9v0.9h-0.9zM106.8 44.2h0.9v0.9h-0.9zM112.6 52.7h0.9v0.9h-0.9zM119.4 41.4h0.9v0.9h-0.9zM128.4 38.4h0.9v0.9h-0.9zM126.9 47.9h0.9v0.9h-0.9zM124.6 47.3h0.9v0.9h-0.9zM104.6 53.0h0.9v0.9h-0.9zM119.3 38.8h0.9v0.9h-0.9zM110.4 40.2h0.9v0.9h-0.9zM104.4 42.2h0.9v0.9h-0.9zM103.0 43.3h0.9v0.9h-0.9zM113.5 46.2h0.9v0.9h-0.9zM121.7 47.7h0.9v0.9h-0.9zM129.2 39.5h0.9v0.9h-0.9zM115.1 56.1h0.9v0.9h-0.9zM108.8 39.7h0.9v0.9h-0.9zM117.3 48.8h0.9v0.9h-0.9zM117.1 41.5h0.9v0.9h-0.9zM120.3 40.7h0.9v0.9h-0.9zM125.2 51.4h0.9v0.9h-0.9zM128.2 43.9h0.9v0.9h-0.9zM104.5 53.0h0.9v0.9h-0.9zM121.8 42.2h0.9v0.9h-0.9zM121.4 43.6h0.9v0.9h-0.9zM106.5 54.6h0.9v0.9h-0.9zM119.3 50.6h0.9v0.9h-0.9zM106.2 38.5h0.9v0.9h-0.9zM125.8 48.9h0.9v0.9h-0.9zM130.3 41.4h0.9v0.9h-0.9zM113.8 52.0h0.9v0.9h-0.9zM122.4 41.3h0.9v0.9h-0.9zM117.9 50.0h0.9v0.9h-0.9zM104.9 52.1h0.9v0.9h-0.9zM128.6 44.1h0.9v0.9h-0.9zM106.1 38.6h0.9v0.9h-0.9zM119.2 42.2h0.9v0.9h-0.9zM125.3 44.9h0.9v0.9h-0.9zM123.0 46.9h0.9v0.9h-0.9zM119.8 43.4h0.9v0.9h-0.9zM105.9 41.6h0.9v0.9h-0.9zM115.8 42.3h0.9v0.9h-0.9zM123.7 50.4h0.9v0.9h-0.9zM102.8 48.5h0.9v0.9h-0.9zM104.0 40.8h0.9v0.9h-0.9zM113.5 54.2h0.9v0.9h-0.9zM119.0 39.1h0.9v0.9h-0.9zM116.3 50.6h0.9v0.9h-0.9zM120.2 55.2h0.9v0.9h-0.9zM103.8 56.0h0.9v0.9h-0.9zM101.2 51.8h0.9v0.9h-0.9zM110.1 54.7h0.9v0.9h-0.9zM104.8 47.5h0.9v0.9h-0.9zM117.9 46.7h0.9v0.9h-0.9zM116.1 53.8h0.9v0.9h-0.9z"/>
<path fill="rgb(87,87,87)" d="M129.8 23.4h0.9v0.9h-0.9zM130.5 36.4h0.9v0.9h-0.9zM114.8 26.6h0.9v0.9h-0.9zM130.8 32.9h0.9v0.9h-0.9zM133.3 26.9h0.9v0.9h-0.9zM120.0 26.6h0.9v0.9h-0.9zM127.6 29.6h0.9v0.9h-0.9zM119.6 33.0h0.9v0.9h-0.9zM107.0 33.0h0.9v0.9h-0.9zM111.3 31.6h0.9v0.9h-0.9zM116.2 32.3h0.9v0.9h-0.9zM123.0 30.3h0.9v0.9h-0.9zM110.2 34.0h0.9v0.9h-0.9zM113.5 26.8h0.9v0.9h-0.9zM133.5 27.6h0.9v0.9h-0.9zM129.5 37.1h0.9v0.9h-0.9zM109.2 28.8h0.9v0.9h-0.9zM106.8 30.8h0.9v0.9h-0.9zM115.4 28.3h0.9v0.9h-0.9zM124.3 34.3h0.9v0.9h-0.9zM133.3 33.7h0.9v0.9h-0.9zM126.2 24.2h0.9v0.9h-0.9zM133.2 31.1h0.9v0.9h-0.9zM121.4 24.3h0.9v0.9h-0.9zM123.2 25.4h0.9v0.9h-0.9zM132.5 36.2h0.9v0.9h-0.9zM123.7 33.2h0.9v0.9h-0.9zM131.9 32.0h0.9v0.9h-0.9zM107.0 33.2h0.9v0.9h-0.9zM129.9 33.7h0.9v0.9h-0.9zM132.6 24.5h0.9v0.9h-0.9zM131.6 35.4h0.9v0.9h-0.9zM130.0 34.4h0.9v0.9h-0.9zM128.6 34.5h0.9v0.9h-0.9zM114.1 33.9h0.9v0.9h-0.9zM127.7 23.7h0.9v0.9h-0.9zM123.8 25.5h0.9v0.9h-0.9zM127.1 29.2h0.9v0.9h-0.9zM124.9 28.6h0.9v0.9h-0.9zM132.0 35.1h0.9v0.9h-0.9zM128.8 33.8h0.9v0.9h-0.9zM125.7 35.1h0.9v0.9h-0.9zM120.7 32.0h0.9v0.9h-0.9zM108.2 32.3h0.9v0.9h-0.9z"/>
<path fill="rgb(160,160,160)" d="M124.8 55.9h0.9v0.9h-0.9zM127.2 48.1h0.9v0.9h-0.9zM136.7 39.7h0.9v0.9h-0.9zM119.9 55.0h0.9v0.9h-0.9zM142.4 45.0h0.9v0.9h-0.9zM135.9 45.3h0.9v0.9h-0.9zM138.6 39.2h0.9v0.9h-0.9zM136.5 55.9h0.9v0.9h-0.9zM133.7 52.0h0.9v0.9h-0.9zM134.4 37.6h0.9v0.9h-0.9zM140.2 38.5h0.9v0.9h-0.9zM128.6 55.5h0.9v0.9h-0.9zM141.8 40.2h0.9v0.9h-0.9zM137.6 46.9h0.9v0.9h-0.9zM136.8 54.0h0.9v0.9h-0.9zM144.9 39.0h0.9v0.9h-0.9zM136.0 41.8h0.9v0.9h-0.9zM130.0 39.3h0.9v0.9h-0.9zM118.4 51.9h0.9v0.9h-0.9zM132.5 54.6h0.9v0.9h-0.9zM125.9 45.5h0.9v0.9h-0.9zM143.1 43.8h0.9v0.9h-0.9zM126.2 42.8h0.9v0.9h-0.9zM130.2 44.6h0.9v0.9h-0.9zM130.8 40.0h0.9v0.9h-0.9zM131.4 50.3h0.9v0.9h-0.9zM129.4 51.1h0.9v0.9h-0.9zM138.2 42.6h0.9v0.9h-0.9zM132.6 51.1h0.9v0.9h-0.9zM125.2 51.1h0.9v0.9h-0.9zM141.2 42.8h0.9v0.9h-0.9zM134.4 53.7h0.9v0.9h-0.9zM135.0 49.2h0.9v0.9h-0.9zM133.1 42.4h0.9v0.9h-0.9zM138.3 52.5h0.9v0.9h-0.9zM143.7 53.3h0.9v0.9h-0.9zM133.3 47.1h0.9v0.9h-0.9zM126.1 49.0h0.9v0.9h-0.9zM135.8 55.8h0.9v0.9h-0.9zM127.4 41.9h0.9v0.9h-0.9zM130.4 45.0h0.9v0.9h-0.9zM127.4 47.9h0.9v0.9h-0.9zM143.2 54.0h0.9v0.9h-0.9zM142.1 39.6h0.9v0.9h-0.9zM135.2 50.4h0.9v0.9h-0.9zM142.7 52.6h0.9v0.9h-0.9zM143.1 47.4h0.9v0.9h-0.9zM129.2 47.0h0.9v0.9h-0.9zM143.3 41.0h0.9v0.9h-0.9zM119.6 53.7h0.9v0.9h-0.9zM124.8 52.5h0.9v0.9h-0.9zM140.3 35.9h0.9v0.9h-0.9zM128.1 46.1h0.9v0.9h-0.9zM129.1 41.8h0.9v0.9h-0.9zM141.3 55.4h0.9v0.9h-0.9zM140.4 35.6h0.9v0.9h-0.9zM140.5 35.4h0.9v0.9h-0.9zM125.5 50.9h0.9v0.9h-0.9zM142.0 45.8h0.9v0.9h-0.9z"/>
<path fill="rgb(95,95,95)" d="M136.1 29.7h0.9v0.9h-0.9zM135.6 28.8h0.9v0.9h-0.9zM135.5 33.4h0.9v0.9h-0.9zM133.9 26.3h0.9v0.9h-0.9zM135.2 27.7h0.9v0.9h-0.9zM136.2 26.5h0.9v0.9h-0.9zM135.1 28.4h0.9v0.9h-0.9zM134.3 34.6h0.9v0.9h-0.9zM137.0 18.2h0.9v0.9h-0.9zM135.3 32.7h0.9v0.9h-0.9zM131.7 35.1h0.9v0.9h-0.9zM133.3 36.2h0.9v0.9h-0.9zM138.2 29.1h0.9v0.9h-0.9zM135.9 30.9h0.9v0.9h-0.9zM136.5 22.7h0.9v0.9h-0.9zM137.4 26.8h0.9v0.9h-0.9z"/>
<path fill="rgb(140,140,140)" d="M128.8 51.4h0.9v0.9h-0.9zM122.1 54.1h0.9v0.9h-0.9zM123.1 45.6h0.9v0.9h-0.9zM116.5 40.9h0.9v0.9h-0.9zM117.2 49.0h0.9v0.9h-0.9zM127.3 38.0h0.9v0.9h-0.9zM117.6 47.0h0.9v0.9h-0.9zM121.8 43.3h0.9v0.9h-0.9zM128.2 55.0h0.9v0.9h-0.9zM125.9 40.5h0.9v0.9h-0.9zM116.7 40.3h0.9v0.9h-0.9zM125.3 53.0h0.9v0.9h-0.9zM126.9 42.2h0.9v0.9h-0.9zM122.5 38.7h0.9v0.9h-0.9zM119.8 49.5h0.9v0.9h-0.9zM118.0 39.8h0.9v0.9h-0.9zM121.0 51.2h0.9v0.9h-0.9zM116.3 46.7h0.9v0.9h-0.9zM120.8 39.7h0.9v0.9h-0.9zM117.7 50.3h0.9v0.9h-0.9zM121.3 46.0h0.9v0.9h-0.9zM127.2 42.1h0.9v0.9h-0.9zM120.7 43.3h0.9v0.9h-0.9zM123.1 40.4h0.9v0.9h-0.9zM126.5 49.5h0.9v0.9h-0.9zM129.4 51.2h0.9v0.9h-0.9zM123.2 39.1h0.9v0.9h-0.9zM120.5 42.7h0.9v0.9h-0.9zM125.6 52.3h0.9v0.9h-0.9zM129.9 38.7h0.9v0.9h-0.9z"/>
</g>
</g></g>
<g clip-path="url(#c32)"><g transform="translate(0 150.20)">
<polygon points="166.00,36.50 171.00,28.00 178.00,21.50 184.60,20.50 184.60,36.50" fill="rgb(165,165,165)" opacity="1.0" filter="url(#b1_6)"/>
<ellipse cx="178.50" cy="29.50" rx="4.50" ry="7.50" fill="rgb(145,145,145)" opacity="1.0" filter="url(#b1_6)" transform="rotate(25 178.50 29.50)"/>
<polygon points="164.60,36.60 184.60,36.60 184.60,55.80 164.60,55.80" fill="rgb(140,140,140)" opacity="1.0" filter="url(#b1_2)"/>
<ellipse cx="171.00" cy="49.00" rx="6.00" ry="5.00" fill="rgb(125,125,125)" opacity="0.8" filter="url(#b2_0)"/>
<polygon points="183.40,37.00 186.80,37.00 186.80,55.50 183.40,55.50" fill="rgb(115,115,115)" opacity="1.0" filter="url(#b0_9)"/>
<polygon points="185.50,37.50 193.00,37.50 198.00,42.00 197.00,55.50 185.50,55.50" fill="rgb(180,180,180)" opacity="1.0" filter="url(#b1_8)"/>
<g filter="url(#dsoft)">
<path fill="rgb(150,150,150)" d="M172.8 29.5h0.9v0.9h-0.9zM180.0 32.0h0.9v0.9h-0.9zM182.0 26.0h0.9v0.9h-0.9zM181.4 24.9h0.9v0.9h-0.9zM178.6 20.2h0.9v0.9h-0.9zM179.0 23.9h0.9v0.9h-0.9zM184.3 29.3h0.9v0.9h-0.9zM180.6 27.4h0.9v0.9h-0.9zM172.4 35.0h0.9v0.9h-0.9zM183.7 36.0h0.9v0.9h-0.9zM182.4 32.3h0.9v0.9h-0.9zM169.3 34.3h0.9v0.9h-0.9zM183.1 35.7h0.9v0.9h-0.9zM165.8 34.7h0.9v0.9h-0.9zM172.7 25.0h0.9v0.9h-0.9zM179.3 29.3h0.9v0.9h-0.9zM171.1 25.8h0.9v0.9h-0.9zM172.5 35.8h0.9v0.9h-0.9zM173.6 34.2h0.9v0.9h-0.9zM177.9 32.8h0.9v0.9h-0.9zM173.5 24.0h0.9v0.9h-0.9zM169.6 35.9h0.9v0.9h-0.9zM167.4 33.3h0.9v0.9h-0.9zM169.4 35.8h0.9v0.9h-0.9zM178.7 27.9h0.9v0.9h-0.9zM184.2 20.7h0.9v0.9h-0.9zM179.7 29.0h0.9v0.9h-0.9zM175.2 23.7h0.9v0.9h-0.9zM165.3 30.6h0.9v0.9h-0.9zM182.3 21.5h0.9v0.9h-0.9zM173.8 30.0h0.9v0.9h-0.9zM179.6 22.6h0.9v0.9h-0.9zM172.1 26.6h0.9v0.9h-0.9zM184.1 21.7h0.9v0.9h-0.9zM181.1 32.6h0.9v0.9h-0.9zM169.8 29.5h0.9v0.9h-0.9zM177.7 32.8h0.9v0.9h-0.9zM182.1 29.4h0.9v0.9h-0.9zM182.5 19.6h0.9v0.9h-0.9zM176.4 35.8h0.9v0.9h-0.9zM168.6 32.4h0.9v0.9h-0.9zM170.5 32.5h0.9v0.9h-0.9zM172.9 28.0h0.9v0.9h-0.9zM178.7 28.0h0.9v0.9h-0.9zM182.4 26.7h0.9v0.9h-0.9zM177.1 25.5h0.9v0.9h-0.9zM165.6 33.6h0.9v0.9h-0.9zM170.7 31.6h0.9v0.9h-0.9zM183.0 32.4h0.9v0.9h-0.9zM166.9 36.5h0.9v0.9h-0.9zM171.3 35.9h0.9v0.9h-0.9zM167.6 32.0h0.9v0.9h-0.9zM182.8 32.2h0.9v0.9h-0.9zM173.5 31.0h0.9v0.9h-0.9zM183.8 31.5h0.9v0.9h-0.9zM182.1 21.9h0.9v0.9h-0.9zM182.5 36.1h0.9v0.9h-0.9zM178.2 30.4h0.9v0.9h-0.9zM169.0 34.5h0.9v0.9h-0.9zM177.6 36.5h0.9v0.9h-0.9zM184.0 22.0h0.9v0.9h-0.9zM176.6 22.6h0.9v0.9h-0.9zM167.2 30.8h0.9v0.9h-0.9zM169.0 33.5h0.9v0.9h-0.9zM173.0 35.5h0.9v0.9h-0.9zM183.7 20.6h0.9v0.9h-0.9zM175.2 31.7h0.9v0.9h-0.9zM174.9 25.9h0.9v0.9h-0.9zM183.5 19.6h0.9v0.9h-0.9zM183.2 35.2h0.9v0.9h-0.9zM181.5 26.5h0.9v0.9h-0.9zM170.4 27.7h0.9v0.9h-0.9zM174.8 25.9h0.9v0.9h-0.9zM171.7 33.2h0.9v0.9h-0.9z"/>
<path fill="rgb(140,140,140)" d="M174.1 30.5h0.9v0.9h-0.9zM173.8 35.8h0.9v0.9h-0.9zM177.3 24.5h0.9v0.9h-0.9zM184.5 30.0h0.9v0.9h-0.9zM182.5 24.5h0.9v0.9h-0.9zM171.9 27.5h0.9v0.9h-0.9zM177.4 25.4h0.9v0.9h-0.9zM183.1 23.7h0.9v0.9h-0.9zM175.7 31.5h0.9v0.9h-0.9zM183.4 33.4h0.9v0.9h-0.9zM173.8 33.0h0.9v0.9h-0.9zM177.9 24.5h0.9v0.9h-0.9zM173.9 29.3h0.9v0.9h-0.9zM171.1 36.2h0.9v0.9h-0.9zM182.5 22.5h0.9v0.9h-0.9zM172.9 27.1h0.9v0.9h-0.9zM182.4 36.2h0.9v0.9h-0.9zM172.3 28.6h0.9v0.9h-0.9zM177.6 26.1h0.9v0.9h-0.9zM176.7 23.2h0.9v0.9h-0.9zM178.0 28.2h0.9v0.9h-0.9zM175.9 30.2h0.9v0.9h-0.9zM179.0 29.9h0.9v0.9h-0.9zM173.4 32.0h0.9v0.9h-0.9z"/>
<path fill="rgb(120,120,120)" d="M179.3 24.6h0.9v0.9h-0.9zM179.2 28.4h0.9v0.9h-0.9zM176.9 25.7h0.9v0.9h-0.9zM174.3 30.1h0.9v0.9h-0.9zM176.2 35.1h0.9v0.9h-0.9zM179.2 28.6h0.9v0.9h-0.9zM179.8 31.6h0.9v0.9h-0.9zM173.4 26.9h0.9v0.9h-0.9zM177.6 22.4h0.9v0.9h-0.9zM173.7 33.0h0.9v0.9h-0.9zM183.5 29.7h0.9v0.9h-0.9zM178.3 33.4h0.9v0.9h-0.9zM175.6 37.7h0.9v0.9h-0.9zM179.2 27.0h0.9v0.9h-0.9zM176.9 24.3h0.9v0.9h-0.9zM182.1 21.4h0.9v0.9h-0.9zM184.4 23.6h0.9v0.9h-0.9zM176.3 25.5h0.9v0.9h-0.9zM178.1 27.3h0.9v0.9h-0.9zM174.3 36.3h0.9v0.9h-0.9z"/>
<path fill="rgb(115,115,115)" d="M171.4 42.1h0.9v0.9h-0.9zM171.4 52.4h0.9v0.9h-0.9zM171.9 37.4h0.9v0.9h-0.9zM176.6 49.6h0.9v0.9h-0.9zM179.6 48.6h0.9v0.9h-0.9zM166.1 38.7h0.9v0.9h-0.9zM174.4 55.6h0.9v0.9h-0.9zM182.1 47.6h0.9v0.9h-0.9zM168.9 51.2h0.9v0.9h-0.9zM177.7 36.8h0.9v0.9h-0.9zM165.3 50.6h0.9v0.9h-0.9zM182.7 51.2h0.9v0.9h-0.9zM170.5 39.2h0.9v0.9h-0.9zM167.9 45.2h0.9v0.9h-0.9zM183.6 43.5h0.9v0.9h-0.9zM177.1 38.6h0.9v0.9h-0.9zM167.3 45.4h0.9v0.9h-0.9zM172.8 42.4h0.9v0.9h-0.9zM178.0 40.6h0.9v0.9h-0.9zM169.3 43.8h0.9v0.9h-0.9zM178.4 43.7h0.9v0.9h-0.9zM167.5 55.6h0.9v0.9h-0.9zM176.0 43.3h0.9v0.9h-0.9zM171.7 36.6h0.9v0.9h-0.9zM176.5 37.7h0.9v0.9h-0.9zM180.3 49.4h0.9v0.9h-0.9zM171.0 50.6h0.9v0.9h-0.9zM170.5 45.8h0.9v0.9h-0.9zM177.9 40.0h0.9v0.9h-0.9zM173.6 47.5h0.9v0.9h-0.9zM179.9 55.5h0.9v0.9h-0.9zM170.8 50.1h0.9v0.9h-0.9zM166.5 45.4h0.9v0.9h-0.9zM173.5 43.4h0.9v0.9h-0.9zM175.0 42.3h0.9v0.9h-0.9zM167.8 48.4h0.9v0.9h-0.9zM172.8 53.1h0.9v0.9h-0.9zM183.2 53.3h0.9v0.9h-0.9zM169.5 43.6h0.9v0.9h-0.9zM169.8 42.9h0.9v0.9h-0.9zM169.2 41.2h0.9v0.9h-0.9zM165.9 55.7h0.9v0.9h-0.9zM178.9 41.4h0.9v0.9h-0.9zM180.8 45.3h0.9v0.9h-0.9zM175.9 49.3h0.9v0.9h-0.9zM180.8 38.5h0.9v0.9h-0.9z"/>
<path fill="rgb(155,155,155)" d="M195.2 44.5h0.9v0.9h-0.9zM185.9 45.3h0.9v0.9h-0.9zM194.5 43.7h0.9v0.9h-0.9zM194.2 39.1h0.9v0.9h-0.9zM194.5 49.0h0.9v0.9h-0.9zM185.7 40.9h0.9v0.9h-0.9zM186.6 52.9h0.9v0.9h-0.9zM192.8 50.1h0.9v0.9h-0.9zM186.7 40.3h0.9v0.9h-0.9zM187.7 48.5h0.9v0.9h-0.9zM191.8 47.2h0.9v0.9h-0.9zM193.5 51.9h0.9v0.9h-0.9zM190.2 47.7h0.9v0.9h-0.9zM187.2 53.6h0.9v0.9h-0.9zM188.9 39.3h0.9v0.9h-0.9zM192.1 39.5h0.9v0.9h-0.9zM192.7 44.3h0.9v0.9h-0.9zM186.8 37.6h0.9v0.9h-0.9zM187.9 48.2h0.9v0.9h-0.9zM186.9 44.0h0.9v0.9h-0.9zM189.9 46.7h0.9v0.9h-0.9zM193.2 55.2h0.9v0.9h-0.9zM186.7 49.0h0.9v0.9h-0.9z"/>
<path fill="rgb(160,160,160)" d="M205.8 49.9h0.9v0.9h-0.9zM205.8 41.5h0.9v0.9h-0.9zM188.6 49.9h0.9v0.9h-0.9zM188.5 48.0h0.9v0.9h-0.9zM192.0 39.9h0.9v0.9h-0.9zM189.3 53.8h0.9v0.9h-0.9zM188.4 38.8h0.9v0.9h-0.9zM193.8 41.2h0.9v0.9h-0.9zM196.6 51.0h0.9v0.9h-0.9zM205.5 49.8h0.9v0.9h-0.9zM191.8 42.0h0.9v0.9h-0.9zM194.6 42.5h0.9v0.9h-0.9zM197.2 45.4h0.9v0.9h-0.9zM204.2 51.8h0.9v0.9h-0.9zM198.5 55.2h0.9v0.9h-0.9zM204.7 42.2h0.9v0.9h-0.9zM204.0 54.2h0.9v0.9h-0.9zM202.0 54.3h0.9v0.9h-0.9zM186.1 54.8h0.9v0.9h-0.9zM199.4 40.6h0.9v0.9h-0.9zM201.4 53.9h0.9v0.9h-0.9zM197.9 55.0h0.9v0.9h-0.9zM200.0 48.1h0.9v0.9h-0.9zM203.4 55.4h0.9v0.9h-0.9zM203.2 47.4h0.9v0.9h-0.9zM200.2 41.7h0.9v0.9h-0.9zM189.2 39.1h0.9v0.9h-0.9zM193.2 51.8h0.9v0.9h-0.9zM199.6 52.3h0.9v0.9h-0.9zM191.3 43.0h0.9v0.9h-0.9zM204.3 39.3h0.9v0.9h-0.9zM204.7 52.6h0.9v0.9h-0.9zM192.1 52.6h0.9v0.9h-0.9zM205.7 48.0h0.9v0.9h-0.9zM202.0 39.6h0.9v0.9h-0.9zM205.9 37.8h0.9v0.9h-0.9zM199.0 51.3h0.9v0.9h-0.9zM201.0 41.6h0.9v0.9h-0.9zM198.4 40.9h0.9v0.9h-0.9zM190.8 51.3h0.9v0.9h-0.9zM203.1 41.1h0.9v0.9h-0.9zM202.6 47.9h0.9v0.9h-0.9zM195.3 44.1h0.9v0.9h-0.9zM198.9 48.2h0.9v0.9h-0.9zM187.9 54.6h0.9v0.9h-0.9zM203.9 49.3h0.9v0.9h-0.9zM197.6 53.1h0.9v0.9h-0.9zM198.0 50.1h0.9v0.9h-0.9zM193.8 39.8h0.9v0.9h-0.9zM205.5 54.9h0.9v0.9h-0.9zM200.9 50.8h0.9v0.9h-0.9zM187.0 51.7h0.9v0.9h-0.9zM202.8 43.1h0.9v0.9h-0.9zM192.4 38.0h0.9v0.9h-0.9zM196.0 54.6h0.9v0.9h-0.9zM203.2 46.1h0.9v0.9h-0.9zM205.5 48.2h0.9v0.9h-0.9zM188.6 44.5h0.9v0.9h-0.9zM203.2 48.7h0.9v0.9h-0.9zM188.8 41.0h0.9v0.9h-0.9zM200.0 47.0h0.9v0.9h-0.9zM190.1 41.0h0.9v0.9h-0.9zM187.7 53.4h0.9v0.9h-0.9zM202.3 52.4h0.9v0.9h-0.9zM200.9 38.3h0.9v0.9h-0.9zM186.7 50.5h0.9v0.9h-0.9zM198.9 52.7h0.9v0.9h-0.9zM202.0 45.1h0.9v0.9h-0.9zM198.7 55.1h0.9v0.9h-0.9zM186.0 48.8h0.9v0.9h-0.9zM196.6 46.5h0.9v0.9h-0.9zM199.4 44.7h0.9v0.9h-0.9zM188.1 51.0h0.9v0.9h-0.9zM205.7 46.2h0.9v0.9h-0.9zM204.0 53.0h0.9v0.9h-0.9zM197.3 53.5h0.9v0.9h-0.9zM192.5 44.1h0.9v0.9h-0.9zM195.8 45.8h0.9v0.9h-0.9zM188.2 38.9h0.9v0.9h-0.9zM198.4 41.0h0.9v0.9h-0.9zM196.5 43.5h0.9v0.9h-0.9zM194.1 43.8h0.9v0.9h-0.9zM205.2 37.7h0.9v0.9h-0.9zM187.6 37.2h0.9v0.9h-0.9zM188.3 48.6h0.9v0.9h-0.9zM194.0 54.6h0.9v0.9h-0.9zM189.1 43.8h0.9v0.9h-0.9zM205.7 46.4h0.9v0.9h-0.9zM193.1 47.9h0.9v0.9h-0.9zM206.0 52.7h0.9v0.9h-0.9zM194.3 52.9h0.9v0.9h-0.9zM206.4 43.5h0.9v0.9h-0.9zM192.5 54.1h0.9v0.9h-0.9zM194.0 38.4h0.9v0.9h-0.9zM191.9 50.7h0.9v0.9h-0.9zM189.6 47.7h0.9v0.9h-0.9zM187.3 45.3h0.9v0.9h-0.9zM199.6 38.4h0.9v0.9h-0.9zM197.7 41.5h0.9v0.9h-0.9zM194.6 49.9h0.9v0.9h-0.9zM185.3 45.4h0.9v0.9h-0.9zM197.0 55.7h0.9v0.9h-0.9zM196.6 53.7h0.9v0.9h-0.9zM204.4 53.5h0.9v0.9h-0.9zM196.4 39.8h0.9v0.9h-0.9zM191.1 38.7h0.9v0.9h-0.9zM186.5 45.4h0.9v0.9h-0.9zM200.7 50.4h0.9v0.9h-0.9zM202.0 40.8h0.9v0.9h-0.9zM188.0 37.6h0.9v0.9h-0.9zM196.0 42.6h0.9v0.9h-0.9zM201.4 51.4h0.9v0.9h-0.9zM192.2 42.0h0.9v0.9h-0.9zM196.1 53.3h0.9v0.9h-0.9zM204.5 51.0h0.9v0.9h-0.9zM200.6 49.7h0.9v0.9h-0.9zM185.6 50.3h0.9v0.9h-0.9zM185.3 37.4h0.9v0.9h-0.9zM190.1 42.7h0.9v0.9h-0.9zM201.9 50.3h0.9v0.9h-0.9zM189.8 55.5h0.9v0.9h-0.9zM185.5 47.0h0.9v0.9h-0.9zM203.1 39.2h0.9v0.9h-0.9zM199.0 42.2h0.9v0.9h-0.9zM197.1 37.5h0.9v0.9h-0.9z"/>
</g>
</g></g>
<g clip-path="url(#c33)"><g transform="translate(0 150.20)">
<ellipse cx="237.50" cy="46.50" rx="7.00" ry="5.00" fill="rgb(180,180,180)" opacity="1.0" filter="url(#b1_6)"/>
<ellipse cx="257.50" cy="46.00" rx="3.50" ry="6.50" fill="rgb(165,165,165)" opacity="1.0" filter="url(#b1_5)"/>
<ellipse cx="253.00" cy="31.00" rx="8.00" ry="3.00" fill="rgb(240,240,240)" opacity="1.0" filter="url(#b2_0)"/>
<g filter="url(#dsoft)">
<path fill="rgb(155,155,155)" d="M237.2 42.5h0.9v0.9h-0.9zM235.3 47.2h0.9v0.9h-0.9zM240.4 48.6h0.9v0.9h-0.9zM234.7 48.4h0.9v0.9h-0.9zM237.6 49.8h0.9v0.9h-0.9zM235.2 50.7h0.9v0.9h-0.9zM236.8 46.9h0.9v0.9h-0.9zM237.8 46.8h0.9v0.9h-0.9zM233.6 48.4h0.9v0.9h-0.9zM235.7 50.1h0.9v0.9h-0.9zM236.9 43.2h0.9v0.9h-0.9zM229.5 43.1h0.9v0.9h-0.9zM240.8 46.5h0.9v0.9h-0.9zM241.7 48.8h0.9v0.9h-0.9zM240.1 42.9h0.9v0.9h-0.9zM238.0 43.5h0.9v0.9h-0.9zM243.5 44.8h0.9v0.9h-0.9zM238.8 45.1h0.9v0.9h-0.9zM239.1 51.1h0.9v0.9h-0.9zM238.8 51.2h0.9v0.9h-0.9zM226.7 44.0h0.9v0.9h-0.9z"/>
<path fill="rgb(150,150,150)" d="M238.0 45.9h0.9v0.9h-0.9zM235.8 51.3h0.9v0.9h-0.9zM233.3 39.5h0.9v0.9h-0.9zM246.2 52.4h0.9v0.9h-0.9zM235.5 40.5h0.9v0.9h-0.9zM236.7 41.5h0.9v0.9h-0.9zM237.8 47.7h0.9v0.9h-0.9zM237.5 46.5h0.9v0.9h-0.9zM236.3 48.5h0.9v0.9h-0.9zM236.9 42.2h0.9v0.9h-0.9zM237.2 45.6h0.9v0.9h-0.9zM241.2 53.0h0.9v0.9h-0.9zM236.1 46.3h0.9v0.9h-0.9zM233.0 49.6h0.9v0.9h-0.9zM243.2 45.4h0.9v0.9h-0.9zM234.1 39.9h0.9v0.9h-0.9zM236.9 41.6h0.9v0.9h-0.9zM244.6 44.4h0.9v0.9h-0.9zM245.6 50.6h0.9v0.9h-0.9zM239.1 39.4h0.9v0.9h-0.9zM242.4 43.4h0.9v0.9h-0.9zM247.0 47.5h0.9v0.9h-0.9zM241.4 44.8h0.9v0.9h-0.9zM231.1 39.8h0.9v0.9h-0.9zM237.3 41.1h0.9v0.9h-0.9zM230.0 50.6h0.9v0.9h-0.9zM237.5 48.3h0.9v0.9h-0.9zM246.8 48.8h0.9v0.9h-0.9zM236.7 43.0h0.9v0.9h-0.9zM235.1 43.6h0.9v0.9h-0.9zM231.4 39.4h0.9v0.9h-0.9zM235.5 43.1h0.9v0.9h-0.9zM243.7 40.3h0.9v0.9h-0.9zM244.5 41.3h0.9v0.9h-0.9zM230.3 46.6h0.9v0.9h-0.9zM234.6 41.3h0.9v0.9h-0.9zM240.1 41.4h0.9v0.9h-0.9zM232.9 49.6h0.9v0.9h-0.9zM243.6 51.1h0.9v0.9h-0.9zM234.5 43.8h0.9v0.9h-0.9zM237.8 42.3h0.9v0.9h-0.9zM234.9 45.5h0.9v0.9h-0.9zM232.0 45.7h0.9v0.9h-0.9zM236.7 52.8h0.9v0.9h-0.9zM236.4 38.3h0.9v0.9h-0.9zM239.8 47.3h0.9v0.9h-0.9zM245.1 47.6h0.9v0.9h-0.9zM233.6 42.8h0.9v0.9h-0.9zM234.7 48.8h0.9v0.9h-0.9zM239.4 44.3h0.9v0.9h-0.9zM243.6 49.3h0.9v0.9h-0.9zM236.9 40.5h0.9v0.9h-0.9zM233.2 43.6h0.9v0.9h-0.9zM235.6 41.2h0.9v0.9h-0.9zM230.7 46.5h0.9v0.9h-0.9zM237.7 46.3h0.9v0.9h-0.9zM246.3 52.1h0.9v0.9h-0.9zM236.5 43.2h0.9v0.9h-0.9zM242.1 42.6h0.9v0.9h-0.9zM233.9 47.0h0.9v0.9h-0.9zM233.6 45.7h0.9v0.9h-0.9zM242.7 42.1h0.9v0.9h-0.9zM230.0 44.2h0.9v0.9h-0.9zM231.8 48.2h0.9v0.9h-0.9zM231.1 39.4h0.9v0.9h-0.9zM242.4 52.3h0.9v0.9h-0.9zM241.1 39.0h0.9v0.9h-0.9zM235.3 42.6h0.9v0.9h-0.9zM241.7 43.2h0.9v0.9h-0.9zM244.4 46.5h0.9v0.9h-0.9zM231.0 43.6h0.9v0.9h-0.9zM232.9 49.9h0.9v0.9h-0.9zM231.1 48.4h0.9v0.9h-0.9zM234.3 51.3h0.9v0.9h-0.9zM232.1 38.7h0.9v0.9h-0.9zM241.3 40.4h0.9v0.9h-0.9zM261.8 38.4h0.9v0.9h-0.9zM251.5 51.6h0.9v0.9h-0.9zM260.2 51.5h0.9v0.9h-0.9zM253.5 40.5h0.9v0.9h-0.9zM261.2 48.8h0.9v0.9h-0.9zM255.4 44.0h0.9v0.9h-0.9zM255.3 48.0h0.9v0.9h-0.9zM264.9 38.6h0.9v0.9h-0.9zM259.6 52.7h0.9v0.9h-0.9zM253.2 39.4h0.9v0.9h-0.9zM252.1 49.6h0.9v0.9h-0.9zM262.8 38.1h0.9v0.9h-0.9zM252.5 48.2h0.9v0.9h-0.9zM253.7 48.0h0.9v0.9h-0.9zM262.7 52.9h0.9v0.9h-0.9zM252.4 50.6h0.9v0.9h-0.9zM253.1 46.6h0.9v0.9h-0.9zM252.9 39.7h0.9v0.9h-0.9zM255.8 38.4h0.9v0.9h-0.9zM259.4 50.0h0.9v0.9h-0.9zM255.1 48.1h0.9v0.9h-0.9zM249.9 45.0h0.9v0.9h-0.9zM263.5 46.7h0.9v0.9h-0.9zM255.0 42.1h0.9v0.9h-0.9zM260.3 50.9h0.9v0.9h-0.9zM255.8 52.4h0.9v0.9h-0.9zM255.2 38.1h0.9v0.9h-0.9zM252.7 48.4h0.9v0.9h-0.9zM259.2 49.0h0.9v0.9h-0.9zM253.8 51.7h0.9v0.9h-0.9zM259.6 50.8h0.9v0.9h-0.9zM261.7 40.4h0.9v0.9h-0.9zM249.5 45.6h0.9v0.9h-0.9zM253.4 48.3h0.9v0.9h-0.9zM259.3 52.0h0.9v0.9h-0.9zM263.5 50.2h0.9v0.9h-0.9zM259.4 40.9h0.9v0.9h-0.9zM249.4 50.5h0.9v0.9h-0.9zM252.3 44.8h0.9v0.9h-0.9zM255.1 47.6h0.9v0.9h-0.9zM262.2 52.2h0.9v0.9h-0.9zM259.8 48.7h0.9v0.9h-0.9zM250.6 42.2h0.9v0.9h-0.9zM250.3 48.7h0.9v0.9h-0.9zM259.7 52.3h0.9v0.9h-0.9zM257.4 43.8h0.9v0.9h-0.9zM259.2 51.9h0.9v0.9h-0.9zM262.1 45.8h0.9v0.9h-0.9zM252.7 38.1h0.9v0.9h-0.9zM256.5 50.3h0.9v0.9h-0.9zM265.4 44.1h0.9v0.9h-0.9zM250.6 38.6h0.9v0.9h-0.9zM262.4 50.1h0.9v0.9h-0.9zM261.6 43.1h0.9v0.9h-0.9zM260.7 48.6h0.9v0.9h-0.9zM261.0 46.9h0.9v0.9h-0.9zM264.8 49.5h0.9v0.9h-0.9zM255.9 46.2h0.9v0.9h-0.9zM265.2 46.3h0.9v0.9h-0.9zM265.7 39.5h0.9v0.9h-0.9zM256.0 38.6h0.9v0.9h-0.9zM249.8 41.6h0.9v0.9h-0.9zM261.8 39.3h0.9v0.9h-0.9zM251.1 50.1h0.9v0.9h-0.9zM257.1 43.4h0.9v0.9h-0.9zM265.5 43.1h0.9v0.9h-0.9zM253.2 50.2h0.9v0.9h-0.9zM262.4 45.6h0.9v0.9h-0.9zM260.3 43.6h0.9v0.9h-0.9zM255.6 38.7h0.9v0.9h-0.9zM263.7 39.2h0.9v0.9h-0.9zM259.0 48.9h0.9v0.9h-0.9zM265.9 41.1h0.9v0.9h-0.9zM260.7 38.3h0.9v0.9h-0.9zM265.8 49.3h0.9v0.9h-0.9zM264.0 40.8h0.9v0.9h-0.9z"/>
<path fill="rgb(140,140,140)" d="M260.2 51.3h0.9v0.9h-0.9zM259.9 40.4h0.9v0.9h-0.9zM259.1 40.3h0.9v0.9h-0.9zM254.3 51.7h0.9v0.9h-0.9zM258.0 53.8h0.9v0.9h-0.9zM261.0 40.2h0.9v0.9h-0.9zM254.0 52.8h0.9v0.9h-0.9zM255.6 44.9h0.9v0.9h-0.9zM258.7 50.8h0.9v0.9h-0.9zM259.1 41.1h0.9v0.9h-0.9zM257.7 46.3h0.9v0.9h-0.9zM260.5 44.0h0.9v0.9h-0.9zM260.2 50.7h0.9v0.9h-0.9z"/>
</g>
</g></g>
<line x1="29.6" y1="215.4" x2="29.6" y2="12.0" stroke="#1a1a1a" stroke-width="1.4"/>
<polygon points="27.15,13.30 32.05,13.30 29.60,5.90" fill="#1a1a1a"/>
<line x1="28.900000000000002" y1="215.4" x2="77.4" y2="215.4" stroke="#1a1a1a" stroke-width="1.4"/>
<polygon points="75.20,213.00 75.20,217.80 82.40,215.40" fill="#1a1a1a"/>
<line x1="92.5" y1="215.4" x2="92.5" y2="12.0" stroke="#1a1a1a" stroke-width="1.4"/>
<polygon points="90.05,13.30 94.95,13.30 92.50,5.90" fill="#1a1a1a"/>
<line x1="91.8" y1="215.4" x2="140.7" y2="215.4" stroke="#1a1a1a" stroke-width="1.4"/>
<polygon points="138.50,213.00 138.50,217.80 145.70,215.40" fill="#1a1a1a"/>
<line x1="158.3" y1="215.4" x2="158.3" y2="12.0" stroke="#1a1a1a" stroke-width="1.4"/>
<polygon points="155.85,13.30 160.75,13.30 158.30,5.90" fill="#1a1a1a"/>
<line x1="157.60000000000002" y1="215.4" x2="206.6" y2="215.4" stroke="#1a1a1a" stroke-width="1.4"/>
<polygon points="204.40,213.00 204.40,217.80 211.60,215.40" fill="#1a1a1a"/>
<line x1="222.6" y1="215.4" x2="222.6" y2="12.0" stroke="#1a1a1a" stroke-width="1.4"/>
<polygon points="220.15,13.30 225.05,13.30 222.60,5.90" fill="#1a1a1a"/>
<line x1="221.9" y1="215.4" x2="270.4" y2="215.4" stroke="#1a1a1a" stroke-width="1.4"/>
<polygon points="268.20,213.00 268.20,217.80 275.40,215.40" fill="#1a1a1a"/>
<text x="57.5" y="223.4" font-size="8.2" text-anchor="middle" fill="#1a1a1a">CD8</text>
<text x="121.3" y="223.4" font-size="8.2" text-anchor="middle" fill="#1a1a1a">Lin</text>
<text x="187.7" y="223.4" font-size="8.2" text-anchor="middle" fill="#1a1a1a">CD43</text>
<text x="252.8" y="223.4" font-size="8.2" text-anchor="middle" fill="#1a1a1a">CD19</text>
<text x="26.0" y="109.0" font-size="8.2" text-anchor="middle" fill="#1a1a1a" transform="rotate(-90 26.0 109.0)">CD4</text>
<text x="91.0" y="108.6" font-size="8.2" text-anchor="middle" fill="#1a1a1a" transform="rotate(-90 91.0 108.6)">B220</text>
<text x="154.8" y="108.4" font-size="8.2" text-anchor="middle" fill="#1a1a1a" transform="rotate(-90 154.8 108.4)">IgM</text>
<text x="219.2" y="108.9" font-size="8.2" text-anchor="middle" fill="#1a1a1a" transform="rotate(-90 219.2 108.9)">SSC</text>
<rect x="36.0" y="12.6" width="44.5" height="44.199999999999996" stroke="#999" stroke-width="0.7" fill="none"/>
<line x1="36.0" y1="12.6" x2="36.0" y2="57.199999999999996" stroke="#333" stroke-width="1.0"/>
<line x1="35.6" y1="56.8" x2="80.5" y2="56.8" stroke="#333" stroke-width="1.0"/>
<text x="35.0" y="17.1" font-size="2.6" text-anchor="end" fill="#999" stroke="none">10<tspan font-size="1.8" dy="-1">4</tspan></text>
<text x="35.0" y="26.4" font-size="2.6" text-anchor="end" fill="#999" stroke="none">10<tspan font-size="1.8" dy="-1">3</tspan></text>
<text x="35.0" y="35.8" font-size="2.6" text-anchor="end" fill="#999" stroke="none">10<tspan font-size="1.8" dy="-1">2</tspan></text>
<text x="35.0" y="45.1" font-size="2.6" text-anchor="end" fill="#999" stroke="none">10<tspan font-size="1.8" dy="-1">1</tspan></text>
<text x="35.0" y="54.4" font-size="2.6" text-anchor="end" fill="#999" stroke="none">10<tspan font-size="1.8" dy="-1">0</tspan></text>
<text x="41.8" y="60.4" font-size="2.6" text-anchor="middle" fill="#999" stroke="none">10<tspan font-size="1.8" dy="-1">0</tspan></text>
<text x="45.8" y="60.4" font-size="2.6" text-anchor="middle" fill="#999" stroke="none">10<tspan font-size="1.8" dy="-1">1</tspan></text>
<text x="57.4" y="60.4" font-size="2.6" text-anchor="middle" fill="#999" stroke="none">10<tspan font-size="1.8" dy="-1">2</tspan></text>
<text x="68.0" y="60.4" font-size="2.6" text-anchor="middle" fill="#999" stroke="none">10<tspan font-size="1.8" dy="-1">3</tspan></text>
<text x="77.4" y="60.4" font-size="2.6" text-anchor="middle" fill="#999" stroke="none">10<tspan font-size="1.8" dy="-1">4</tspan></text>
<rect x="100.3" y="12.6" width="45.000000000000014" height="44.199999999999996" stroke="#999" stroke-width="0.7" fill="none"/>
<line x1="100.3" y1="12.6" x2="100.3" y2="57.199999999999996" stroke="#333" stroke-width="1.0"/>
<line x1="99.89999999999999" y1="56.8" x2="145.3" y2="56.8" stroke="#333" stroke-width="1.0"/>
<text x="99.3" y="17.1" font-size="2.6" text-anchor="end" fill="#999" stroke="none">10<tspan font-size="1.8" dy="-1">4</tspan></text>
<text x="99.3" y="26.4" font-size="2.6" text-anchor="end" fill="#999" stroke="none">10<tspan font-size="1.8" dy="-1">3</tspan></text>
<text x="99.3" y="35.8" font-size="2.6" text-anchor="end" fill="#999" stroke="none">10<tspan font-size="1.8" dy="-1">2</tspan></text>
<text x="99.3" y="45.1" font-size="2.6" text-anchor="end" fill="#999" stroke="none">10<tspan font-size="1.8" dy="-1">1</tspan></text>
<text x="99.3" y="54.4" font-size="2.6" text-anchor="end" fill="#999" stroke="none">10<tspan font-size="1.8" dy="-1">0</tspan></text>
<text x="106.2" y="60.4" font-size="2.6" text-anchor="middle" fill="#999" stroke="none">10<tspan font-size="1.8" dy="-1">0</tspan></text>
<text x="110.2" y="60.4" font-size="2.6" text-anchor="middle" fill="#999" stroke="none">10<tspan font-size="1.8" dy="-1">1</tspan></text>
<text x="121.9" y="60.4" font-size="2.6" text-anchor="middle" fill="#999" stroke="none">10<tspan font-size="1.8" dy="-1">2</tspan></text>
<text x="132.7" y="60.4" font-size="2.6" text-anchor="middle" fill="#999" stroke="none">10<tspan font-size="1.8" dy="-1">3</tspan></text>
<text x="142.2" y="60.4" font-size="2.6" text-anchor="middle" fill="#999" stroke="none">10<tspan font-size="1.8" dy="-1">4</tspan></text>
<rect x="164.1" y="12.6" width="44.400000000000006" height="44.199999999999996" stroke="#999" stroke-width="0.7" fill="none"/>
<line x1="164.1" y1="12.6" x2="164.1" y2="57.199999999999996" stroke="#333" stroke-width="1.0"/>
<line x1="163.7" y1="56.8" x2="208.5" y2="56.8" stroke="#333" stroke-width="1.0"/>
<text x="163.1" y="17.1" font-size="2.6" text-anchor="end" fill="#999" stroke="none">10<tspan font-size="1.8" dy="-1">4</tspan></text>
<text x="163.1" y="26.4" font-size="2.6" text-anchor="end" fill="#999" stroke="none">10<tspan font-size="1.8" dy="-1">3</tspan></text>
<text x="163.1" y="35.8" font-size="2.6" text-anchor="end" fill="#999" stroke="none">10<tspan font-size="1.8" dy="-1">2</tspan></text>
<text x="163.1" y="45.1" font-size="2.6" text-anchor="end" fill="#999" stroke="none">10<tspan font-size="1.8" dy="-1">1</tspan></text>
<text x="163.1" y="54.4" font-size="2.6" text-anchor="end" fill="#999" stroke="none">10<tspan font-size="1.8" dy="-1">0</tspan></text>
<text x="169.9" y="60.4" font-size="2.6" text-anchor="middle" fill="#999" stroke="none">10<tspan font-size="1.8" dy="-1">0</tspan></text>
<text x="173.9" y="60.4" font-size="2.6" text-anchor="middle" fill="#999" stroke="none">10<tspan font-size="1.8" dy="-1">1</tspan></text>
<text x="185.4" y="60.4" font-size="2.6" text-anchor="middle" fill="#999" stroke="none">10<tspan font-size="1.8" dy="-1">2</tspan></text>
<text x="196.1" y="60.4" font-size="2.6" text-anchor="middle" fill="#999" stroke="none">10<tspan font-size="1.8" dy="-1">3</tspan></text>
<text x="205.4" y="60.4" font-size="2.6" text-anchor="middle" fill="#999" stroke="none">10<tspan font-size="1.8" dy="-1">4</tspan></text>
<rect x="228.0" y="12.6" width="44.39999999999998" height="44.199999999999996" stroke="#999" stroke-width="0.7" fill="none"/>
<line x1="228.0" y1="12.6" x2="228.0" y2="57.199999999999996" stroke="#333" stroke-width="1.0"/>
<line x1="227.6" y1="56.8" x2="272.4" y2="56.8" stroke="#333" stroke-width="1.0"/>
<text x="227.0" y="17.1" font-size="2.6" text-anchor="end" fill="#999" stroke="none">10<tspan font-size="1.8" dy="-1">4</tspan></text>
<text x="227.0" y="26.4" font-size="2.6" text-anchor="end" fill="#999" stroke="none">10<tspan font-size="1.8" dy="-1">3</tspan></text>
<text x="227.0" y="35.8" font-size="2.6" text-anchor="end" fill="#999" stroke="none">10<tspan font-size="1.8" dy="-1">2</tspan></text>
<text x="227.0" y="45.1" font-size="2.6" text-anchor="end" fill="#999" stroke="none">10<tspan font-size="1.8" dy="-1">1</tspan></text>
<text x="227.0" y="54.4" font-size="2.6" text-anchor="end" fill="#999" stroke="none">10<tspan font-size="1.8" dy="-1">0</tspan></text>
<text x="233.8" y="60.4" font-size="2.6" text-anchor="middle" fill="#999" stroke="none">10<tspan font-size="1.8" dy="-1">0</tspan></text>
<text x="237.8" y="60.4" font-size="2.6" text-anchor="middle" fill="#999" stroke="none">10<tspan font-size="1.8" dy="-1">1</tspan></text>
<text x="249.3" y="60.4" font-size="2.6" text-anchor="middle" fill="#999" stroke="none">10<tspan font-size="1.8" dy="-1">2</tspan></text>
<text x="260.0" y="60.4" font-size="2.6" text-anchor="middle" fill="#999" stroke="none">10<tspan font-size="1.8" dy="-1">3</tspan></text>
<text x="269.3" y="60.4" font-size="2.6" text-anchor="middle" fill="#999" stroke="none">10<tspan font-size="1.8" dy="-1">4</tspan></text>
<rect x="58.7" y="13.6" width="21.0" height="16.8" stroke="#2b2b2b" stroke-width="1.2" fill="none"/>
<rect x="59.5" y="31.299999999999997" width="20.3" height="24.899999999999995" stroke="#8a8a8a" stroke-width="0.6" fill="none"/>
<line x1="61.0" y1="44.5" x2="92.5" y2="44.5" stroke="#1a1a1a" stroke-width="1.0"/>
<circle cx="92.50" cy="44.50" r="0.9" fill="#1a1a1a"/>
<rect x="100.6" y="15.5" width="31.0" height="22.6" stroke="#3a3a3a" stroke-width="0.9" fill="none"/>
<line x1="131.6" y1="19.3" x2="148.5" y2="19.3" stroke="#1a1a1a" stroke-width="1.0"/>
<polygon points="147.00,17.50 147.00,21.10 151.50,19.30" fill="#1a1a1a"/>
<rect x="164.3" y="18.4" width="20.8" height="18.0" stroke="#333" stroke-width="1.0" fill="none"/>
<rect x="164.3" y="36.4" width="20.8" height="19.4" stroke="#333" stroke-width="1.0" fill="none"/>
<rect x="185.1" y="36.4" width="22.6" height="19.4" stroke="#666" stroke-width="1.0" fill="none"/>
<line x1="208.5" y1="42.3" x2="218.5" y2="42.3" stroke="#1a1a1a" stroke-width="1.0"/>
<polygon points="216.50,40.50 216.50,44.10 221.00,42.30" fill="#1a1a1a"/>
<rect x="229.9" y="37.4" width="17.2" height="15.6" stroke="#555" stroke-width="1.0" fill="none"/>
<rect x="248.5" y="37.4" width="18.0" height="15.6" stroke="#555" stroke-width="1.0" fill="none"/>
<rect x="36.0" y="63.0" width="44.5" height="44.0" stroke="#999" stroke-width="0.7" fill="none"/>
<line x1="36.0" y1="63.0" x2="36.0" y2="107.4" stroke="#333" stroke-width="1.0"/>
<line x1="35.6" y1="107.0" x2="80.5" y2="107.0" stroke="#333" stroke-width="1.0"/>
<text x="35.0" y="67.5" font-size="2.6" text-anchor="end" fill="#999" stroke="none">10<tspan font-size="1.8" dy="-1">4</tspan></text>
<text x="35.0" y="76.8" font-size="2.6" text-anchor="end" fill="#999" stroke="none">10<tspan font-size="1.8" dy="-1">3</tspan></text>
<text x="35.0" y="86.1" font-size="2.6" text-anchor="end" fill="#999" stroke="none">10<tspan font-size="1.8" dy="-1">2</tspan></text>
<text x="35.0" y="95.4" font-size="2.6" text-anchor="end" fill="#999" stroke="none">10<tspan font-size="1.8" dy="-1">1</tspan></text>
<text x="35.0" y="104.6" font-size="2.6" text-anchor="end" fill="#999" stroke="none">10<tspan font-size="1.8" dy="-1">0</tspan></text>
<text x="41.8" y="110.6" font-size="2.6" text-anchor="middle" fill="#999" stroke="none">10<tspan font-size="1.8" dy="-1">0</tspan></text>
<text x="45.8" y="110.6" font-size="2.6" text-anchor="middle" fill="#999" stroke="none">10<tspan font-size="1.8" dy="-1">1</tspan></text>
<text x="57.4" y="110.6" font-size="2.6" text-anchor="middle" fill="#999" stroke="none">10<tspan font-size="1.8" dy="-1">2</tspan></text>
<text x="68.0" y="110.6" font-size="2.6" text-anchor="middle" fill="#999" stroke="none">10<tspan font-size="1.8" dy="-1">3</tspan></text>
<text x="77.4" y="110.6" font-size="2.6" text-anchor="middle" fill="#999" stroke="none">10<tspan font-size="1.8" dy="-1">4</tspan></text>
<rect x="100.3" y="63.0" width="45.000000000000014" height="44.0" stroke="#999" stroke-width="0.7" fill="none"/>
<line x1="100.3" y1="63.0" x2="100.3" y2="107.4" stroke="#333" stroke-width="1.0"/>
<line x1="99.89999999999999" y1="107.0" x2="145.3" y2="107.0" stroke="#333" stroke-width="1.0"/>
<text x="99.3" y="67.5" font-size="2.6" text-anchor="end" fill="#999" stroke="none">10<tspan font-size="1.8" dy="-1">4</tspan></text>
<text x="99.3" y="76.8" font-size="2.6" text-anchor="end" fill="#999" stroke="none">10<tspan font-size="1.8" dy="-1">3</tspan></text>
<text x="99.3" y="86.1" font-size="2.6" text-anchor="end" fill="#999" stroke="none">10<tspan font-size="1.8" dy="-1">2</tspan></text>
<text x="99.3" y="95.4" font-size="2.6" text-anchor="end" fill="#999" stroke="none">10<tspan font-size="1.8" dy="-1">1</tspan></text>
<text x="99.3" y="104.6" font-size="2.6" text-anchor="end" fill="#999" stroke="none">10<tspan font-size="1.8" dy="-1">0</tspan></text>
<text x="106.2" y="110.6" font-size="2.6" text-anchor="middle" fill="#999" stroke="none">10<tspan font-size="1.8" dy="-1">0</tspan></text>
<text x="110.2" y="110.6" font-size="2.6" text-anchor="middle" fill="#999" stroke="none">10<tspan font-size="1.8" dy="-1">1</tspan></text>
<text x="121.9" y="110.6" font-size="2.6" text-anchor="middle" fill="#999" stroke="none">10<tspan font-size="1.8" dy="-1">2</tspan></text>
<text x="132.7" y="110.6" font-size="2.6" text-anchor="middle" fill="#999" stroke="none">10<tspan font-size="1.8" dy="-1">3</tspan></text>
<text x="142.2" y="110.6" font-size="2.6" text-anchor="middle" fill="#999" stroke="none">10<tspan font-size="1.8" dy="-1">4</tspan></text>
<rect x="164.1" y="63.0" width="44.400000000000006" height="44.0" stroke="#999" stroke-width="0.7" fill="none"/>
<line x1="164.1" y1="63.0" x2="164.1" y2="107.4" stroke="#333" stroke-width="1.0"/>
<line x1="163.7" y1="107.0" x2="208.5" y2="107.0" stroke="#333" stroke-width="1.0"/>
<text x="163.1" y="67.5" font-size="2.6" text-anchor="end" fill="#999" stroke="none">10<tspan font-size="1.8" dy="-1">4</tspan></text>
<text x="163.1" y="76.8" font-size="2.6" text-anchor="end" fill="#999" stroke="none">10<tspan font-size="1.8" dy="-1">3</tspan></text>
<text x="163.1" y="86.1" font-size="2.6" text-anchor="end" fill="#999" stroke="none">10<tspan font-size="1.8" dy="-1">2</tspan></text>
<text x="163.1" y="95.4" font-size="2.6" text-anchor="end" fill="#999" stroke="none">10<tspan font-size="1.8" dy="-1">1</tspan></text>
<text x="163.1" y="104.6" font-size="2.6" text-anchor="end" fill="#999" stroke="none">10<tspan font-size="1.8" dy="-1">0</tspan></text>
<text x="169.9" y="110.6" font-size="2.6" text-anchor="middle" fill="#999" stroke="none">10<tspan font-size="1.8" dy="-1">0</tspan></text>
<text x="173.9" y="110.6" font-size="2.6" text-anchor="middle" fill="#999" stroke="none">10<tspan font-size="1.8" dy="-1">1</tspan></text>
<text x="185.4" y="110.6" font-size="2.6" text-anchor="middle" fill="#999" stroke="none">10<tspan font-size="1.8" dy="-1">2</tspan></text>
<text x="196.1" y="110.6" font-size="2.6" text-anchor="middle" fill="#999" stroke="none">10<tspan font-size="1.8" dy="-1">3</tspan></text>
<text x="205.4" y="110.6" font-size="2.6" text-anchor="middle" fill="#999" stroke="none">10<tspan font-size="1.8" dy="-1">4</tspan></text>
<rect x="228.0" y="63.0" width="44.39999999999998" height="44.0" stroke="#999" stroke-width="0.7" fill="none"/>
<line x1="228.0" y1="63.0" x2="228.0" y2="107.4" stroke="#333" stroke-width="1.0"/>
<line x1="227.6" y1="107.0" x2="272.4" y2="107.0" stroke="#333" stroke-width="1.0"/>
<text x="227.0" y="67.5" font-size="2.6" text-anchor="end" fill="#999" stroke="none">10<tspan font-size="1.8" dy="-1">4</tspan></text>
<text x="227.0" y="76.8" font-size="2.6" text-anchor="end" fill="#999" stroke="none">10<tspan font-size="1.8" dy="-1">3</tspan></text>
<text x="227.0" y="86.1" font-size="2.6" text-anchor="end" fill="#999" stroke="none">10<tspan font-size="1.8" dy="-1">2</tspan></text>
<text x="227.0" y="95.4" font-size="2.6" text-anchor="end" fill="#999" stroke="none">10<tspan font-size="1.8" dy="-1">1</tspan></text>
<text x="227.0" y="104.6" font-size="2.6" text-anchor="end" fill="#999" stroke="none">10<tspan font-size="1.8" dy="-1">0</tspan></text>
<text x="233.8" y="110.6" font-size="2.6" text-anchor="middle" fill="#999" stroke="none">10<tspan font-size="1.8" dy="-1">0</tspan></text>
<text x="237.8" y="110.6" font-size="2.6" text-anchor="middle" fill="#999" stroke="none">10<tspan font-size="1.8" dy="-1">1</tspan></text>
<text x="249.3" y="110.6" font-size="2.6" text-anchor="middle" fill="#999" stroke="none">10<tspan font-size="1.8" dy="-1">2</tspan></text>
<text x="260.0" y="110.6" font-size="2.6" text-anchor="middle" fill="#999" stroke="none">10<tspan font-size="1.8" dy="-1">3</tspan></text>
<text x="269.3" y="110.6" font-size="2.6" text-anchor="middle" fill="#999" stroke="none">10<tspan font-size="1.8" dy="-1">4</tspan></text>
<rect x="58.7" y="64.0" width="21.0" height="16.8" stroke="#2b2b2b" stroke-width="1.2" fill="none"/>
<rect x="59.5" y="81.7" width="20.3" height="24.7" stroke="#8a8a8a" stroke-width="0.6" fill="none"/>
<line x1="61.0" y1="94.3" x2="92.5" y2="94.3" stroke="#1a1a1a" stroke-width="1.0"/>
<circle cx="92.50" cy="94.30" r="0.9" fill="#1a1a1a"/>
<rect x="100.6" y="65.7" width="31.0" height="22.6" stroke="#3a3a3a" stroke-width="0.9" fill="none"/>
<line x1="131.6" y1="68.9" x2="148.5" y2="68.9" stroke="#1a1a1a" stroke-width="1.0"/>
<polygon points="147.00,67.10 147.00,70.70 151.50,68.90" fill="#1a1a1a"/>
<rect x="164.3" y="68.4" width="20.8" height="18.19999999999999" stroke="#333" stroke-width="1.0" fill="none"/>
<rect x="164.3" y="86.6" width="20.8" height="19.400000000000006" stroke="#333" stroke-width="1.0" fill="none"/>
<rect x="185.1" y="86.6" width="22.6" height="19.400000000000006" stroke="#666" stroke-width="1.0" fill="none"/>
<line x1="208.5" y1="92.8" x2="218.5" y2="92.8" stroke="#1a1a1a" stroke-width="1.0"/>
<polygon points="216.50,91.00 216.50,94.60 221.00,92.80" fill="#1a1a1a"/>
<rect x="229.9" y="87.5" width="17.2" height="15.6" stroke="#555" stroke-width="1.0" fill="none"/>
<rect x="248.5" y="87.5" width="18.0" height="15.6" stroke="#555" stroke-width="1.0" fill="none"/>
<rect x="36.0" y="113.0" width="44.5" height="43.80000000000001" stroke="#999" stroke-width="0.7" fill="none"/>
<line x1="36.0" y1="113.0" x2="36.0" y2="157.20000000000002" stroke="#333" stroke-width="1.0"/>
<line x1="35.6" y1="156.8" x2="80.5" y2="156.8" stroke="#333" stroke-width="1.0"/>
<text x="35.0" y="117.5" font-size="2.6" text-anchor="end" fill="#999" stroke="none">10<tspan font-size="1.8" dy="-1">4</tspan></text>
<text x="35.0" y="126.7" font-size="2.6" text-anchor="end" fill="#999" stroke="none">10<tspan font-size="1.8" dy="-1">3</tspan></text>
<text x="35.0" y="136.0" font-size="2.6" text-anchor="end" fill="#999" stroke="none">10<tspan font-size="1.8" dy="-1">2</tspan></text>
<text x="35.0" y="145.2" font-size="2.6" text-anchor="end" fill="#999" stroke="none">10<tspan font-size="1.8" dy="-1">1</tspan></text>
<text x="35.0" y="154.5" font-size="2.6" text-anchor="end" fill="#999" stroke="none">10<tspan font-size="1.8" dy="-1">0</tspan></text>
<text x="41.8" y="160.4" font-size="2.6" text-anchor="middle" fill="#999" stroke="none">10<tspan font-size="1.8" dy="-1">0</tspan></text>
<text x="45.8" y="160.4" font-size="2.6" text-anchor="middle" fill="#999" stroke="none">10<tspan font-size="1.8" dy="-1">1</tspan></text>
<text x="57.4" y="160.4" font-size="2.6" text-anchor="middle" fill="#999" stroke="none">10<tspan font-size="1.8" dy="-1">2</tspan></text>
<text x="68.0" y="160.4" font-size="2.6" text-anchor="middle" fill="#999" stroke="none">10<tspan font-size="1.8" dy="-1">3</tspan></text>
<text x="77.4" y="160.4" font-size="2.6" text-anchor="middle" fill="#999" stroke="none">10<tspan font-size="1.8" dy="-1">4</tspan></text>
<rect x="100.3" y="113.0" width="45.000000000000014" height="43.80000000000001" stroke="#999" stroke-width="0.7" fill="none"/>
<line x1="100.3" y1="113.0" x2="100.3" y2="157.20000000000002" stroke="#333" stroke-width="1.0"/>
<line x1="99.89999999999999" y1="156.8" x2="145.3" y2="156.8" stroke="#333" stroke-width="1.0"/>
<text x="99.3" y="117.5" font-size="2.6" text-anchor="end" fill="#999" stroke="none">10<tspan font-size="1.8" dy="-1">4</tspan></text>
<text x="99.3" y="126.7" font-size="2.6" text-anchor="end" fill="#999" stroke="none">10<tspan font-size="1.8" dy="-1">3</tspan></text>
<text x="99.3" y="136.0" font-size="2.6" text-anchor="end" fill="#999" stroke="none">10<tspan font-size="1.8" dy="-1">2</tspan></text>
<text x="99.3" y="145.2" font-size="2.6" text-anchor="end" fill="#999" stroke="none">10<tspan font-size="1.8" dy="-1">1</tspan></text>
<text x="99.3" y="154.5" font-size="2.6" text-anchor="end" fill="#999" stroke="none">10<tspan font-size="1.8" dy="-1">0</tspan></text>
<text x="106.2" y="160.4" font-size="2.6" text-anchor="middle" fill="#999" stroke="none">10<tspan font-size="1.8" dy="-1">0</tspan></text>
<text x="110.2" y="160.4" font-size="2.6" text-anchor="middle" fill="#999" stroke="none">10<tspan font-size="1.8" dy="-1">1</tspan></text>
<text x="121.9" y="160.4" font-size="2.6" text-anchor="middle" fill="#999" stroke="none">10<tspan font-size="1.8" dy="-1">2</tspan></text>
<text x="132.7" y="160.4" font-size="2.6" text-anchor="middle" fill="#999" stroke="none">10<tspan font-size="1.8" dy="-1">3</tspan></text>
<text x="142.2" y="160.4" font-size="2.6" text-anchor="middle" fill="#999" stroke="none">10<tspan font-size="1.8" dy="-1">4</tspan></text>
<rect x="164.1" y="113.0" width="44.400000000000006" height="43.80000000000001" stroke="#999" stroke-width="0.7" fill="none"/>
<line x1="164.1" y1="113.0" x2="164.1" y2="157.20000000000002" stroke="#333" stroke-width="1.0"/>
<line x1="163.7" y1="156.8" x2="208.5" y2="156.8" stroke="#333" stroke-width="1.0"/>
<text x="163.1" y="117.5" font-size="2.6" text-anchor="end" fill="#999" stroke="none">10<tspan font-size="1.8" dy="-1">4</tspan></text>
<text x="163.1" y="126.7" font-size="2.6" text-anchor="end" fill="#999" stroke="none">10<tspan font-size="1.8" dy="-1">3</tspan></text>
<text x="163.1" y="136.0" font-size="2.6" text-anchor="end" fill="#999" stroke="none">10<tspan font-size="1.8" dy="-1">2</tspan></text>
<text x="163.1" y="145.2" font-size="2.6" text-anchor="end" fill="#999" stroke="none">10<tspan font-size="1.8" dy="-1">1</tspan></text>
<text x="163.1" y="154.5" font-size="2.6" text-anchor="end" fill="#999" stroke="none">10<tspan font-size="1.8" dy="-1">0</tspan></text>
<text x="169.9" y="160.4" font-size="2.6" text-anchor="middle" fill="#999" stroke="none">10<tspan font-size="1.8" dy="-1">0</tspan></text>
<text x="173.9" y="160.4" font-size="2.6" text-anchor="middle" fill="#999" stroke="none">10<tspan font-size="1.8" dy="-1">1</tspan></text>
<text x="185.4" y="160.4" font-size="2.6" text-anchor="middle" fill="#999" stroke="none">10<tspan font-size="1.8" dy="-1">2</tspan></text>
<text x="196.1" y="160.4" font-size="2.6" text-anchor="middle" fill="#999" stroke="none">10<tspan font-size="1.8" dy="-1">3</tspan></text>
<text x="205.4" y="160.4" font-size="2.6" text-anchor="middle" fill="#999" stroke="none">10<tspan font-size="1.8" dy="-1">4</tspan></text>
<rect x="228.0" y="113.0" width="44.39999999999998" height="43.80000000000001" stroke="#999" stroke-width="0.7" fill="none"/>
<line x1="228.0" y1="113.0" x2="228.0" y2="157.20000000000002" stroke="#333" stroke-width="1.0"/>
<line x1="227.6" y1="156.8" x2="272.4" y2="156.8" stroke="#333" stroke-width="1.0"/>
<text x="227.0" y="117.5" font-size="2.6" text-anchor="end" fill="#999" stroke="none">10<tspan font-size="1.8" dy="-1">4</tspan></text>
<text x="227.0" y="126.7" font-size="2.6" text-anchor="end" fill="#999" stroke="none">10<tspan font-size="1.8" dy="-1">3</tspan></text>
<text x="227.0" y="136.0" font-size="2.6" text-anchor="end" fill="#999" stroke="none">10<tspan font-size="1.8" dy="-1">2</tspan></text>
<text x="227.0" y="145.2" font-size="2.6" text-anchor="end" fill="#999" stroke="none">10<tspan font-size="1.8" dy="-1">1</tspan></text>
<text x="227.0" y="154.5" font-size="2.6" text-anchor="end" fill="#999" stroke="none">10<tspan font-size="1.8" dy="-1">0</tspan></text>
<text x="233.8" y="160.4" font-size="2.6" text-anchor="middle" fill="#999" stroke="none">10<tspan font-size="1.8" dy="-1">0</tspan></text>
<text x="237.8" y="160.4" font-size="2.6" text-anchor="middle" fill="#999" stroke="none">10<tspan font-size="1.8" dy="-1">1</tspan></text>
<text x="249.3" y="160.4" font-size="2.6" text-anchor="middle" fill="#999" stroke="none">10<tspan font-size="1.8" dy="-1">2</tspan></text>
<text x="260.0" y="160.4" font-size="2.6" text-anchor="middle" fill="#999" stroke="none">10<tspan font-size="1.8" dy="-1">3</tspan></text>
<text x="269.3" y="160.4" font-size="2.6" text-anchor="middle" fill="#999" stroke="none">10<tspan font-size="1.8" dy="-1">4</tspan></text>
<rect x="58.7" y="114.0" width="21.0" height="16.8" stroke="#2b2b2b" stroke-width="1.2" fill="none"/>
<rect x="59.5" y="131.7" width="20.3" height="24.50000000000001" stroke="#8a8a8a" stroke-width="0.6" fill="none"/>
<line x1="61.0" y1="144.2" x2="92.5" y2="144.2" stroke="#1a1a1a" stroke-width="1.0"/>
<circle cx="92.50" cy="144.20" r="0.9" fill="#1a1a1a"/>
<rect x="100.6" y="114.8" width="31.0" height="22.6" stroke="#3a3a3a" stroke-width="0.9" fill="none"/>
<line x1="131.6" y1="118.2" x2="148.5" y2="118.2" stroke="#1a1a1a" stroke-width="1.0"/>
<polygon points="147.00,116.40 147.00,120.00 151.50,118.20" fill="#1a1a1a"/>
<rect x="164.3" y="117.5" width="20.8" height="17.900000000000006" stroke="#333" stroke-width="1.0" fill="none"/>
<rect x="164.3" y="135.4" width="20.8" height="20.400000000000006" stroke="#333" stroke-width="1.0" fill="none"/>
<rect x="185.1" y="135.4" width="22.6" height="20.400000000000006" stroke="#666" stroke-width="1.0" fill="none"/>
<line x1="208.5" y1="141.4" x2="218.5" y2="141.4" stroke="#1a1a1a" stroke-width="1.0"/>
<polygon points="216.50,139.60 216.50,143.20 221.00,141.40" fill="#1a1a1a"/>
<rect x="229.9" y="136.7" width="17.2" height="15.6" stroke="#555" stroke-width="1.0" fill="none"/>
<rect x="248.5" y="136.7" width="18.0" height="15.6" stroke="#555" stroke-width="1.0" fill="none"/>
<rect x="36.0" y="162.8" width="44.5" height="44.19999999999999" stroke="#999" stroke-width="0.7" fill="none"/>
<line x1="36.0" y1="162.8" x2="36.0" y2="207.4" stroke="#333" stroke-width="1.0"/>
<line x1="35.6" y1="207.0" x2="80.5" y2="207.0" stroke="#333" stroke-width="1.0"/>
<text x="35.0" y="167.3" font-size="2.6" text-anchor="end" fill="#999" stroke="none">10<tspan font-size="1.8" dy="-1">4</tspan></text>
<text x="35.0" y="176.6" font-size="2.6" text-anchor="end" fill="#999" stroke="none">10<tspan font-size="1.8" dy="-1">3</tspan></text>
<text x="35.0" y="186.0" font-size="2.6" text-anchor="end" fill="#999" stroke="none">10<tspan font-size="1.8" dy="-1">2</tspan></text>
<text x="35.0" y="195.3" font-size="2.6" text-anchor="end" fill="#999" stroke="none">10<tspan font-size="1.8" dy="-1">1</tspan></text>
<text x="35.0" y="204.6" font-size="2.6" text-anchor="end" fill="#999" stroke="none">10<tspan font-size="1.8" dy="-1">0</tspan></text>
<text x="41.8" y="210.6" font-size="2.6" text-anchor="middle" fill="#999" stroke="none">10<tspan font-size="1.8" dy="-1">0</tspan></text>
<text x="45.8" y="210.6" font-size="2.6" text-anchor="middle" fill="#999" stroke="none">10<tspan font-size="1.8" dy="-1">1</tspan></text>
<text x="57.4" y="210.6" font-size="2.6" text-anchor="middle" fill="#999" stroke="none">10<tspan font-size="1.8" dy="-1">2</tspan></text>
<text x="68.0" y="210.6" font-size="2.6" text-anchor="middle" fill="#999" stroke="none">10<tspan font-size="1.8" dy="-1">3</tspan></text>
<text x="77.4" y="210.6" font-size="2.6" text-anchor="middle" fill="#999" stroke="none">10<tspan font-size="1.8" dy="-1">4</tspan></text>
<rect x="100.3" y="162.8" width="45.000000000000014" height="44.19999999999999" stroke="#999" stroke-width="0.7" fill="none"/>
<line x1="100.3" y1="162.8" x2="100.3" y2="207.4" stroke="#333" stroke-width="1.0"/>
<line x1="99.89999999999999" y1="207.0" x2="145.3" y2="207.0" stroke="#333" stroke-width="1.0"/>
<text x="99.3" y="167.3" font-size="2.6" text-anchor="end" fill="#999" stroke="none">10<tspan font-size="1.8" dy="-1">4</tspan></text>
<text x="99.3" y="176.6" font-size="2.6" text-anchor="end" fill="#999" stroke="none">10<tspan font-size="1.8" dy="-1">3</tspan></text>
<text x="99.3" y="186.0" font-size="2.6" text-anchor="end" fill="#999" stroke="none">10<tspan font-size="1.8" dy="-1">2</tspan></text>
<text x="99.3" y="195.3" font-size="2.6" text-anchor="end" fill="#999" stroke="none">10<tspan font-size="1.8" dy="-1">1</tspan></text>
<text x="99.3" y="204.6" font-size="2.6" text-anchor="end" fill="#999" stroke="none">10<tspan font-size="1.8" dy="-1">0</tspan></text>
<text x="106.2" y="210.6" font-size="2.6" text-anchor="middle" fill="#999" stroke="none">10<tspan font-size="1.8" dy="-1">0</tspan></text>
<text x="110.2" y="210.6" font-size="2.6" text-anchor="middle" fill="#999" stroke="none">10<tspan font-size="1.8" dy="-1">1</tspan></text>
<text x="121.9" y="210.6" font-size="2.6" text-anchor="middle" fill="#999" stroke="none">10<tspan font-size="1.8" dy="-1">2</tspan></text>
<text x="132.7" y="210.6" font-size="2.6" text-anchor="middle" fill="#999" stroke="none">10<tspan font-size="1.8" dy="-1">3</tspan></text>
<text x="142.2" y="210.6" font-size="2.6" text-anchor="middle" fill="#999" stroke="none">10<tspan font-size="1.8" dy="-1">4</tspan></text>
<rect x="164.1" y="162.8" width="44.400000000000006" height="44.19999999999999" stroke="#999" stroke-width="0.7" fill="none"/>
<line x1="164.1" y1="162.8" x2="164.1" y2="207.4" stroke="#333" stroke-width="1.0"/>
<line x1="163.7" y1="207.0" x2="208.5" y2="207.0" stroke="#333" stroke-width="1.0"/>
<text x="163.1" y="167.3" font-size="2.6" text-anchor="end" fill="#999" stroke="none">10<tspan font-size="1.8" dy="-1">4</tspan></text>
<text x="163.1" y="176.6" font-size="2.6" text-anchor="end" fill="#999" stroke="none">10<tspan font-size="1.8" dy="-1">3</tspan></text>
<text x="163.1" y="186.0" font-size="2.6" text-anchor="end" fill="#999" stroke="none">10<tspan font-size="1.8" dy="-1">2</tspan></text>
<text x="163.1" y="195.3" font-size="2.6" text-anchor="end" fill="#999" stroke="none">10<tspan font-size="1.8" dy="-1">1</tspan></text>
<text x="163.1" y="204.6" font-size="2.6" text-anchor="end" fill="#999" stroke="none">10<tspan font-size="1.8" dy="-1">0</tspan></text>
<text x="169.9" y="210.6" font-size="2.6" text-anchor="middle" fill="#999" stroke="none">10<tspan font-size="1.8" dy="-1">0</tspan></text>
<text x="173.9" y="210.6" font-size="2.6" text-anchor="middle" fill="#999" stroke="none">10<tspan font-size="1.8" dy="-1">1</tspan></text>
<text x="185.4" y="210.6" font-size="2.6" text-anchor="middle" fill="#999" stroke="none">10<tspan font-size="1.8" dy="-1">2</tspan></text>
<text x="196.1" y="210.6" font-size="2.6" text-anchor="middle" fill="#999" stroke="none">10<tspan font-size="1.8" dy="-1">3</tspan></text>
<text x="205.4" y="210.6" font-size="2.6" text-anchor="middle" fill="#999" stroke="none">10<tspan font-size="1.8" dy="-1">4</tspan></text>
<rect x="228.0" y="162.8" width="44.39999999999998" height="44.19999999999999" stroke="#999" stroke-width="0.7" fill="none"/>
<line x1="228.0" y1="162.8" x2="228.0" y2="207.4" stroke="#333" stroke-width="1.0"/>
<line x1="227.6" y1="207.0" x2="272.4" y2="207.0" stroke="#333" stroke-width="1.0"/>
<text x="227.0" y="167.3" font-size="2.6" text-anchor="end" fill="#999" stroke="none">10<tspan font-size="1.8" dy="-1">4</tspan></text>
<text x="227.0" y="176.6" font-size="2.6" text-anchor="end" fill="#999" stroke="none">10<tspan font-size="1.8" dy="-1">3</tspan></text>
<text x="227.0" y="186.0" font-size="2.6" text-anchor="end" fill="#999" stroke="none">10<tspan font-size="1.8" dy="-1">2</tspan></text>
<text x="227.0" y="195.3" font-size="2.6" text-anchor="end" fill="#999" stroke="none">10<tspan font-size="1.8" dy="-1">1</tspan></text>
<text x="227.0" y="204.6" font-size="2.6" text-anchor="end" fill="#999" stroke="none">10<tspan font-size="1.8" dy="-1">0</tspan></text>
<text x="233.8" y="210.6" font-size="2.6" text-anchor="middle" fill="#999" stroke="none">10<tspan font-size="1.8" dy="-1">0</tspan></text>
<text x="237.8" y="210.6" font-size="2.6" text-anchor="middle" fill="#999" stroke="none">10<tspan font-size="1.8" dy="-1">1</tspan></text>
<text x="249.3" y="210.6" font-size="2.6" text-anchor="middle" fill="#999" stroke="none">10<tspan font-size="1.8" dy="-1">2</tspan></text>
<text x="260.0" y="210.6" font-size="2.6" text-anchor="middle" fill="#999" stroke="none">10<tspan font-size="1.8" dy="-1">3</tspan></text>
<text x="269.3" y="210.6" font-size="2.6" text-anchor="middle" fill="#999" stroke="none">10<tspan font-size="1.8" dy="-1">4</tspan></text>
<rect x="58.7" y="163.8" width="21.0" height="16.8" stroke="#2b2b2b" stroke-width="1.2" fill="none"/>
<rect x="59.5" y="181.5" width="20.3" height="24.899999999999988" stroke="#8a8a8a" stroke-width="0.6" fill="none"/>
<line x1="61.0" y1="193.3" x2="92.5" y2="193.3" stroke="#1a1a1a" stroke-width="1.0"/>
<circle cx="92.50" cy="193.30" r="0.9" fill="#1a1a1a"/>
<rect x="100.6" y="164.8" width="31.0" height="22.6" stroke="#3a3a3a" stroke-width="0.9" fill="none"/>
<line x1="131.6" y1="168.0" x2="148.5" y2="168.0" stroke="#1a1a1a" stroke-width="1.0"/>
<polygon points="147.00,166.20 147.00,169.80 151.50,168.00" fill="#1a1a1a"/>
<rect x="164.3" y="167.7" width="20.8" height="17.600000000000023" stroke="#333" stroke-width="1.0" fill="none"/>
<rect x="164.3" y="185.3" width="20.8" height="20.69999999999999" stroke="#333" stroke-width="1.0" fill="none"/>
<rect x="185.1" y="185.3" width="22.6" height="20.69999999999999" stroke="#666" stroke-width="1.0" fill="none"/>
<line x1="208.5" y1="191.3" x2="218.5" y2="191.3" stroke="#1a1a1a" stroke-width="1.0"/>
<polygon points="216.50,189.50 216.50,193.10 221.00,191.30" fill="#1a1a1a"/>
<rect x="229.9" y="186.4" width="17.2" height="15.6" stroke="#555" stroke-width="1.0" fill="none"/>
<rect x="248.5" y="186.4" width="18.0" height="15.6" stroke="#555" stroke-width="1.0" fill="none"/>
<text x="165.2" y="18.3" font-size="6.1" text-anchor="start" fill="#1a1a1a" style="stroke-width:0.04px">Imm B</text>
<text x="166.5" y="54.2" font-size="5.9" text-anchor="start" fill="#1a1a1a" style="stroke-width:0.04px">PreB</text>
<text x="228.6" y="36.2" font-size="5.8" text-anchor="start" fill="#1a1a1a" style="stroke-width:0.15px">PreProB ProB</text>
<text x="70.9" y="20.0" font-size="6.0" text-anchor="middle" fill="#1a1a1a" style="stroke-width:0.04px">DP-T</text>
<text x="278.3" y="40.3" font-size="10" text-anchor="start" fill="#1a1a1a">Control</text>
<text x="278.5" y="83.3" font-size="10" text-anchor="start" font-style="italic" fill="#1a1a1a">Notch1<tspan font-size="5.50" dy="-4.20">F/F</tspan></text>
<text x="278.5" y="94.3" font-size="10" text-anchor="start" font-style="italic" fill="#1a1a1a">Mx1-Cre+</text>
<text x="278.5" y="133.6" font-size="10" text-anchor="start" font-style="italic" fill="#1a1a1a">Zbtb7a<tspan font-size="5.50" dy="-4.20">F/F</tspan></text>
<text x="278.5" y="144.4" font-size="10" text-anchor="start" font-style="italic" fill="#1a1a1a">Mx1-Cre+</text>
<text x="278.5" y="178.3" font-size="10" text-anchor="start" font-style="italic" fill="#1a1a1a">Zbtb7a<tspan font-size="5.50" dy="-4.20">F/F</tspan></text>
<text x="278.5" y="189.2" font-size="10" text-anchor="start" font-style="italic" fill="#1a1a1a">Notch1<tspan font-size="5.50" dy="-4.20">F/F</tspan></text>
<text x="278.5" y="199.9" font-size="10" text-anchor="start" font-style="italic" fill="#1a1a1a">Mx1-Cre+</text>
<text x="1.5" y="12.2" font-size="11" text-anchor="start" font-weight="bold" fill="#1a1a1a">A</text>
<text x="328.4" y="11.0" font-size="11" text-anchor="start" font-weight="bold" fill="#1a1a1a">B</text>
<text x="2.0" y="254.2" font-size="11" text-anchor="start" font-weight="bold" fill="#1a1a1a">C</text>
<text x="165.2" y="254.0" font-size="11" text-anchor="start" font-weight="bold" fill="#1a1a1a">D</text>
<text x="328.8" y="253.6" font-size="11" text-anchor="start" font-weight="bold" fill="#1a1a1a">E</text>
<text x="425.5" y="11.4" font-size="9.6" text-anchor="middle" fill="#1a1a1a">DP-T</text>
<text x="349.3" y="49.8" font-size="7.6" text-anchor="middle" fill="#1a1a1a" transform="rotate(-90 349.3 49.8)">Proportion (%)</text>
<line x1="365.3" y1="16.099999999999994" x2="365.3" y2="84.0" stroke="#1a1a1a" stroke-width="1.0"/>
<line x1="363.3" y1="16.099999999999994" x2="365.3" y2="16.099999999999994" stroke="#1a1a1a" stroke-width="1.0"/>
<text x="362.1" y="18.699999999999996" font-size="7.3" text-anchor="end" fill="#1a1a1a">80</text>
<line x1="363.3" y1="32.949999999999996" x2="365.3" y2="32.949999999999996" stroke="#1a1a1a" stroke-width="1.0"/>
<text x="362.1" y="35.55" font-size="7.3" text-anchor="end" fill="#1a1a1a">60</text>
<line x1="363.3" y1="49.8" x2="365.3" y2="49.8" stroke="#1a1a1a" stroke-width="1.0"/>
<text x="362.1" y="52.4" font-size="7.3" text-anchor="end" fill="#1a1a1a">40</text>
<line x1="363.3" y1="66.65" x2="365.3" y2="66.65" stroke="#1a1a1a" stroke-width="1.0"/>
<text x="362.1" y="69.25" font-size="7.3" text-anchor="end" fill="#1a1a1a">20</text>
<line x1="363.3" y1="83.5" x2="365.3" y2="83.5" stroke="#1a1a1a" stroke-width="1.0"/>
<text x="362.1" y="86.1" font-size="7.3" text-anchor="end" fill="#1a1a1a">0</text>
<line x1="365.3" y1="83.5" x2="489.5" y2="83.5" stroke="#1a1a1a" stroke-width="1.0"/>
<line x1="381.2" y1="83.5" x2="381.2" y2="85.5" stroke="#1a1a1a" stroke-width="1.0"/>
<line x1="412.0" y1="83.5" x2="412.0" y2="85.5" stroke="#1a1a1a" stroke-width="1.0"/>
<line x1="443.5" y1="83.5" x2="443.5" y2="85.5" stroke="#1a1a1a" stroke-width="1.0"/>
<line x1="474.6" y1="83.5" x2="474.6" y2="85.5" stroke="#1a1a1a" stroke-width="1.0"/>
<text x="380.9" y="93.7" font-size="6.9" text-anchor="middle" fill="#1a1a1a">Control</text>
<text x="380.9" y="101.9" font-size="6.9" text-anchor="middle" fill="#1a1a1a">(n=8)</text>
<text x="412.3" y="93.7" font-size="6.9" text-anchor="middle" font-style="italic" fill="#1a1a1a">Notch1<tspan font-size="3.59" dy="-2.90">F/F</tspan></text>
<text x="412.3" y="101.9" font-size="6.9" text-anchor="middle" fill="#1a1a1a">(n=9)</text>
<text x="442.5" y="93.7" font-size="6.9" text-anchor="middle" font-style="italic" fill="#1a1a1a">Zbtb7a<tspan font-size="3.59" dy="-2.90">F/F</tspan></text>
<text x="442.5" y="101.9" font-size="6.9" text-anchor="middle" fill="#1a1a1a">(n=9)</text>
<text x="474.5" y="93.7" font-size="6.9" text-anchor="middle" font-style="italic" fill="#1a1a1a">Zbtb7a<tspan font-size="3.59" dy="-2.90">F/F</tspan></text>
<text x="474.5" y="101.9" font-size="6.9" text-anchor="middle" font-style="italic" fill="#1a1a1a">Notch1<tspan font-size="3.59" dy="-2.90">F/F</tspan></text>
<text x="474.5" y="110.1" font-size="6.9" text-anchor="middle" fill="#1a1a1a">(n=10)</text>
<circle cx="375.00" cy="83.60" r="2.35" fill="#000"/>
<circle cx="376.91" cy="83.60" r="2.35" fill="#000"/>
<circle cx="378.82" cy="83.60" r="2.35" fill="#000"/>
<circle cx="380.73" cy="83.60" r="2.35" fill="#000"/>
<circle cx="382.64" cy="83.60" r="2.35" fill="#000"/>
<circle cx="384.55" cy="83.60" r="2.35" fill="#000"/>
<circle cx="386.46" cy="83.60" r="2.35" fill="#000"/>
<circle cx="388.37" cy="83.60" r="2.35" fill="#000"/>
<rect x="402.50" y="80.70" width="3.0" height="3.0" fill="#6a6a6a"/>
<rect x="404.50" y="80.70" width="3.0" height="3.0" fill="#6a6a6a"/>
<rect x="406.50" y="80.70" width="3.0" height="3.0" fill="#6a6a6a"/>
<rect x="408.50" y="80.70" width="3.0" height="3.0" fill="#6a6a6a"/>
<rect x="410.50" y="80.70" width="3.0" height="3.0" fill="#6a6a6a"/>
<rect x="412.50" y="80.70" width="3.0" height="3.0" fill="#6a6a6a"/>
<rect x="414.50" y="80.70" width="3.0" height="3.0" fill="#6a6a6a"/>
<rect x="416.50" y="80.70" width="3.0" height="3.0" fill="#6a6a6a"/>
<rect x="418.50" y="80.70" width="3.0" height="3.0" fill="#6a6a6a"/>
<line x1="402.0" y1="83.4" x2="422.0" y2="83.4" stroke="#111" stroke-width="1.1"/>
<polygon points="465.20,80.80 469.20,80.80 467.20,84.40" fill="#3a3a3a"/>
<polygon points="466.85,80.80 470.85,80.80 468.85,84.40" fill="#3a3a3a"/>
<polygon points="468.50,80.80 472.50,80.80 470.50,84.40" fill="#3a3a3a"/>
<polygon points="470.15,80.80 474.15,80.80 472.15,84.40" fill="#3a3a3a"/>
<polygon points="471.80,80.80 475.80,80.80 473.80,84.40" fill="#3a3a3a"/>
<polygon points="473.45,80.80 477.45,80.80 475.45,84.40" fill="#3a3a3a"/>
<polygon points="475.10,80.80 479.10,80.80 477.10,84.40" fill="#3a3a3a"/>
<polygon points="476.75,80.80 480.75,80.80 478.75,84.40" fill="#3a3a3a"/>
<polygon points="478.40,80.80 482.40,80.80 480.40,84.40" fill="#3a3a3a"/>
<polygon points="480.05,80.80 484.05,80.80 482.05,84.40" fill="#3a3a3a"/>
<line x1="465.0" y1="83.4" x2="484.5" y2="83.4" stroke="#111" stroke-width="1.1"/>
<line x1="433.5" y1="41.0" x2="453.5" y2="41.0" stroke="#1a1a1a" stroke-width="1.0"/>
<line x1="443.5" y1="33.2" x2="443.5" y2="48.2" stroke="#1a1a1a" stroke-width="1.0"/>
<line x1="438.0" y1="33.2" x2="449.0" y2="33.2" stroke="#1a1a1a" stroke-width="1.0"/>
<line x1="438.0" y1="48.2" x2="449.0" y2="48.2" stroke="#1a1a1a" stroke-width="1.0"/>
<polygon points="441.20,34.27 445.80,34.27 443.50,30.13" fill="#111"/>
<polygon points="435.30,39.67 439.90,39.67 437.60,35.53" fill="#111"/>
<polygon points="445.30,39.27 449.90,39.27 447.60,35.13" fill="#111"/>
<polygon points="449.10,43.07 453.70,43.07 451.40,38.93" fill="#111"/>
<polygon points="441.20,42.67 445.80,42.67 443.50,38.53" fill="#111"/>
<polygon points="434.70,46.27 439.30,46.27 437.00,42.13" fill="#111"/>
<polygon points="446.70,45.67 451.30,45.67 449.00,41.53" fill="#111"/>
<polygon points="441.20,48.67 445.80,48.67 443.50,44.53" fill="#111"/>
<polygon points="441.20,58.47 445.80,58.47 443.50,54.33" fill="#111"/>
<line x1="443.8" y1="23.4" x2="474.7" y2="23.4" stroke="#555" stroke-width="0.8"/>
<line x1="443.8" y1="23.4" x2="443.8" y2="27.4" stroke="#555" stroke-width="0.8"/>
<line x1="474.7" y1="23.4" x2="474.7" y2="66.0" stroke="#555" stroke-width="0.8"/>
<circle cx="459.60" cy="20.80" r="0.95" fill="#1a1a1a"/>
<text x="433.0" y="73.0" font-size="8.2" fill="#1a1a1a"><tspan font-size="5.5" dy="-2.5">*</tspan><tspan font-style="italic" dy="2.5">p</tspan> &lt;0.001</text>
<text x="426.3" y="122.8" font-size="9.6" text-anchor="middle" fill="#1a1a1a">PreB</text>
<text x="349.0" y="158.25" font-size="7.6" text-anchor="middle" fill="#1a1a1a" transform="rotate(-90 349.0 158.25)">Proportion (%)</text>
<line x1="364.5" y1="124.5" x2="364.5" y2="192.5" stroke="#1a1a1a" stroke-width="1.0"/>
<line x1="362.5" y1="124.5" x2="364.5" y2="124.5" stroke="#1a1a1a" stroke-width="1.0"/>
<text x="361.3" y="127.1" font-size="7.3" text-anchor="end" fill="#1a1a1a">25</text>
<line x1="362.5" y1="138.0" x2="364.5" y2="138.0" stroke="#1a1a1a" stroke-width="1.0"/>
<text x="361.3" y="140.6" font-size="7.3" text-anchor="end" fill="#1a1a1a">20</text>
<line x1="362.5" y1="151.5" x2="364.5" y2="151.5" stroke="#1a1a1a" stroke-width="1.0"/>
<text x="361.3" y="154.1" font-size="7.3" text-anchor="end" fill="#1a1a1a">15</text>
<line x1="362.5" y1="165.0" x2="364.5" y2="165.0" stroke="#1a1a1a" stroke-width="1.0"/>
<text x="361.3" y="167.6" font-size="7.3" text-anchor="end" fill="#1a1a1a">10</text>
<line x1="362.5" y1="178.5" x2="364.5" y2="178.5" stroke="#1a1a1a" stroke-width="1.0"/>
<text x="361.3" y="181.1" font-size="7.3" text-anchor="end" fill="#1a1a1a">5</text>
<line x1="362.5" y1="192.0" x2="364.5" y2="192.0" stroke="#1a1a1a" stroke-width="1.0"/>
<text x="361.3" y="194.6" font-size="7.3" text-anchor="end" fill="#1a1a1a">0</text>
<line x1="364.5" y1="192.0" x2="489.5" y2="192.0" stroke="#1a1a1a" stroke-width="1.0"/>
<line x1="380.8" y1="192.0" x2="380.8" y2="194.0" stroke="#1a1a1a" stroke-width="1.0"/>
<line x1="412.3" y1="192.0" x2="412.3" y2="194.0" stroke="#1a1a1a" stroke-width="1.0"/>
<line x1="443.6" y1="192.0" x2="443.6" y2="194.0" stroke="#1a1a1a" stroke-width="1.0"/>
<line x1="474.6" y1="192.0" x2="474.6" y2="194.0" stroke="#1a1a1a" stroke-width="1.0"/>
<text x="380.9" y="202.0" font-size="6.9" text-anchor="middle" fill="#1a1a1a">Control</text>
<text x="380.9" y="210.3" font-size="6.9" text-anchor="middle" fill="#1a1a1a">(n=8)</text>
<text x="412.3" y="202.0" font-size="6.9" text-anchor="middle" font-style="italic" fill="#1a1a1a">Notch1<tspan font-size="3.59" dy="-2.90">F/F</tspan></text>
<text x="412.3" y="210.3" font-size="6.9" text-anchor="middle" fill="#1a1a1a">(n=9)</text>
<text x="442.5" y="202.0" font-size="6.9" text-anchor="middle" font-style="italic" fill="#1a1a1a">Zbtb7a<tspan font-size="3.59" dy="-2.90">F/F</tspan></text>
<text x="442.5" y="210.3" font-size="6.9" text-anchor="middle" fill="#1a1a1a">(n=9)</text>
<text x="474.5" y="202.0" font-size="6.9" text-anchor="middle" font-style="italic" fill="#1a1a1a">Zbtb7a<tspan font-size="3.59" dy="-2.90">F/F</tspan></text>
<text x="474.5" y="210.3" font-size="6.9" text-anchor="middle" font-style="italic" fill="#1a1a1a">Notch1<tspan font-size="3.59" dy="-2.90">F/F</tspan></text>
<text x="474.5" y="218.6" font-size="6.9" text-anchor="middle" fill="#1a1a1a">(n=10)</text>
<line x1="370.3" y1="161.4" x2="391.3" y2="161.4" stroke="#1a1a1a" stroke-width="1.0"/>
<line x1="380.8" y1="152.1" x2="380.8" y2="171.4" stroke="#1a1a1a" stroke-width="1.0"/>
<line x1="375.8" y1="152.1" x2="385.8" y2="152.1" stroke="#1a1a1a" stroke-width="1.0"/>
<line x1="375.8" y1="171.4" x2="385.8" y2="171.4" stroke="#1a1a1a" stroke-width="1.0"/>
<circle cx="381.30" cy="148.30" r="2.2" fill="#1a1a1a"/>
<circle cx="375.40" cy="155.40" r="2.2" fill="#1a1a1a"/>
<circle cx="387.00" cy="155.40" r="2.2" fill="#1a1a1a"/>
<circle cx="380.90" cy="159.40" r="2.2" fill="#1a1a1a"/>
<circle cx="381.30" cy="164.70" r="2.2" fill="#1a1a1a"/>
<circle cx="375.40" cy="169.30" r="2.2" fill="#1a1a1a"/>
<circle cx="387.00" cy="169.30" r="2.2" fill="#1a1a1a"/>
<circle cx="380.90" cy="173.60" r="2.2" fill="#1a1a1a"/>
<line x1="401.9" y1="154.1" x2="422.5" y2="154.1" stroke="#333" stroke-width="1.0"/>
<line x1="412.2" y1="140.4" x2="412.2" y2="168.0" stroke="#333" stroke-width="1.0"/>
<line x1="406.7" y1="140.4" x2="417.7" y2="140.4" stroke="#333" stroke-width="1.0"/>
<line x1="406.7" y1="168.0" x2="417.7" y2="168.0" stroke="#333" stroke-width="1.0"/>
<rect x="404.05" y="137.85" width="3.7" height="3.7" fill="#a0a0a0"/>
<rect x="410.45" y="137.65" width="3.7" height="3.7" fill="#a0a0a0"/>
<rect x="416.15" y="139.15" width="3.7" height="3.7" fill="#a0a0a0"/>
<rect x="410.45" y="144.15" width="3.7" height="3.7" fill="#a0a0a0"/>
<rect x="404.45" y="155.55" width="3.7" height="3.7" fill="#a0a0a0"/>
<rect x="410.45" y="158.05" width="3.7" height="3.7" fill="#a0a0a0"/>
<rect x="404.45" y="163.35" width="3.7" height="3.7" fill="#a0a0a0"/>
<rect x="410.45" y="167.95" width="3.7" height="3.7" fill="#a0a0a0"/>
<rect x="416.65" y="167.75" width="3.7" height="3.7" fill="#a0a0a0"/>
<polygon points="433.10,193.39 437.30,193.39 435.20,189.61" fill="#000"/>
<polygon points="435.10,193.39 439.30,193.39 437.20,189.61" fill="#000"/>
<polygon points="437.10,193.39 441.30,193.39 439.20,189.61" fill="#000"/>
<polygon points="439.10,193.39 443.30,193.39 441.20,189.61" fill="#000"/>
<polygon points="441.10,193.39 445.30,193.39 443.20,189.61" fill="#000"/>
<polygon points="443.10,193.39 447.30,193.39 445.20,189.61" fill="#000"/>
<polygon points="445.10,193.39 449.30,193.39 447.20,189.61" fill="#000"/>
<polygon points="447.10,193.39 451.30,193.39 449.20,189.61" fill="#000"/>
<polygon points="449.10,193.39 453.30,193.39 451.20,189.61" fill="#000"/>
<line x1="433.0" y1="191.9" x2="453.5" y2="191.9" stroke="#000" stroke-width="1.2"/>
<line x1="464.2" y1="172.7" x2="484.8" y2="172.7" stroke="#333" stroke-width="1.0"/>
<line x1="474.5" y1="164.8" x2="474.5" y2="179.0" stroke="#333" stroke-width="1.0"/>
<line x1="468.5" y1="164.8" x2="480.5" y2="164.8" stroke="#333" stroke-width="1.0"/>
<line x1="468.5" y1="179.0" x2="480.5" y2="179.0" stroke="#333" stroke-width="1.0"/>
<polygon points="465.95,159.66 470.25,159.66 468.10,163.53" fill="#4a4a4a"/>
<polygon points="472.45,159.66 476.75,159.66 474.60,163.53" fill="#4a4a4a"/>
<polygon points="479.15,163.66 483.45,163.66 481.30,167.53" fill="#4a4a4a"/>
<polygon points="465.85,165.06 470.15,165.06 468.00,168.94" fill="#4a4a4a"/>
<polygon points="472.45,166.87 476.75,166.87 474.60,170.74" fill="#4a4a4a"/>
<polygon points="465.85,173.47 470.15,173.47 468.00,177.34" fill="#4a4a4a"/>
<polygon points="472.45,173.47 476.75,173.47 474.60,177.34" fill="#4a4a4a"/>
<polygon points="467.85,177.06 472.15,177.06 470.00,180.94" fill="#4a4a4a"/>
<polygon points="479.15,177.06 483.45,177.06 481.30,180.94" fill="#4a4a4a"/>
<polygon points="472.85,181.97 477.15,181.97 475.00,185.84" fill="#4a4a4a"/>
<line x1="442.2" y1="151.0" x2="474.6" y2="151.0" stroke="#555" stroke-width="0.8"/>
<line x1="442.2" y1="151.0" x2="442.2" y2="167.0" stroke="#555" stroke-width="0.8"/>
<line x1="474.6" y1="151.0" x2="474.6" y2="155.4" stroke="#555" stroke-width="0.8"/>
<circle cx="457.30" cy="148.60" r="0.95" fill="#1a1a1a"/>
<text x="442.0" y="143.4" font-size="8.2" fill="#1a1a1a"><tspan font-size="5.5" dy="-2.5">*</tspan><tspan font-style="italic" dy="2.5">p</tspan> &lt;0.001</text>
<text x="95.5" y="266.9" font-size="9.6" text-anchor="middle" fill="#1a1a1a">LT-HSC</text>
<text x="96.0" y="278.6" font-size="9.6" text-anchor="middle" fill="#1a1a1a">(1 month after pIpC)</text>
<text x="13.0" y="283.4" font-size="7.2" fill="#1a1a1a">(x10<tspan font-size="4.5" dy="-2.5">2</tspan><tspan dy="2.5">)</tspan></text>
<text x="17.2" y="327.25" font-size="7.6" text-anchor="middle" fill="#1a1a1a" transform="rotate(-90 17.2 327.25)">Absolute numbers</text>
<line x1="33.7" y1="289.5" x2="33.7" y2="363.5" stroke="#1a1a1a" stroke-width="1.0"/>
<line x1="31.700000000000003" y1="289.5" x2="33.7" y2="289.5" stroke="#1a1a1a" stroke-width="1.0"/>
<text x="30.500000000000004" y="292.1" font-size="7.6" text-anchor="end" fill="#1a1a1a">25</text>
<line x1="31.700000000000003" y1="304.2" x2="33.7" y2="304.2" stroke="#1a1a1a" stroke-width="1.0"/>
<text x="30.500000000000004" y="306.8" font-size="7.6" text-anchor="end" fill="#1a1a1a">20</text>
<line x1="31.700000000000003" y1="318.9" x2="33.7" y2="318.9" stroke="#1a1a1a" stroke-width="1.0"/>
<text x="30.500000000000004" y="321.5" font-size="7.6" text-anchor="end" fill="#1a1a1a">15</text>
<line x1="31.700000000000003" y1="333.6" x2="33.7" y2="333.6" stroke="#1a1a1a" stroke-width="1.0"/>
<text x="30.500000000000004" y="336.20000000000005" font-size="7.6" text-anchor="end" fill="#1a1a1a">10</text>
<line x1="31.700000000000003" y1="348.3" x2="33.7" y2="348.3" stroke="#1a1a1a" stroke-width="1.0"/>
<text x="30.500000000000004" y="350.90000000000003" font-size="7.6" text-anchor="end" fill="#1a1a1a">5</text>
<line x1="31.700000000000003" y1="363.0" x2="33.7" y2="363.0" stroke="#1a1a1a" stroke-width="1.0"/>
<text x="30.500000000000004" y="365.6" font-size="7.6" text-anchor="end" fill="#1a1a1a">0</text>
<line x1="33.7" y1="363.3" x2="157.8" y2="363.3" stroke="#1a1a1a" stroke-width="1.0"/>
<line x1="49.5" y1="363.3" x2="49.5" y2="365.3" stroke="#1a1a1a" stroke-width="1.0"/>
<line x1="80.4" y1="363.3" x2="80.4" y2="365.3" stroke="#1a1a1a" stroke-width="1.0"/>
<line x1="111.0" y1="363.3" x2="111.0" y2="365.3" stroke="#1a1a1a" stroke-width="1.0"/>
<line x1="142.2" y1="363.3" x2="142.2" y2="365.3" stroke="#1a1a1a" stroke-width="1.0"/>
<text x="51.0" y="374.3" font-size="6.8" text-anchor="middle" fill="#1a1a1a">Control</text>
<text x="51.0" y="382.5" font-size="6.8" text-anchor="middle" fill="#1a1a1a">(n=8)</text>
<text x="80.9" y="374.3" font-size="6.8" text-anchor="middle" font-style="italic" fill="#1a1a1a">Notch1<tspan font-size="3.54" dy="-2.86">F/F</tspan></text>
<text x="80.9" y="382.5" font-size="6.8" text-anchor="middle" fill="#1a1a1a">(n=9)</text>
<text x="113.2" y="374.3" font-size="6.8" text-anchor="middle" font-style="italic" fill="#1a1a1a">Zbtb7a<tspan font-size="3.54" dy="-2.86">F/F</tspan></text>
<text x="113.2" y="382.5" font-size="6.8" text-anchor="middle" fill="#1a1a1a">(n=9)</text>
<text x="143.5" y="374.3" font-size="6.8" text-anchor="middle" font-style="italic" fill="#1a1a1a">Zbtb7a<tspan font-size="3.54" dy="-2.86">F/F</tspan></text>
<text x="143.5" y="382.5" font-size="6.8" text-anchor="middle" font-style="italic" fill="#1a1a1a">Notch1<tspan font-size="3.54" dy="-2.86">F/F</tspan></text>
<text x="143.5" y="390.7" font-size="6.8" text-anchor="middle" fill="#1a1a1a">(n=10)</text>
<line x1="39.2" y1="326.5" x2="59.8" y2="326.5" stroke="#1a1a1a" stroke-width="1.0"/>
<line x1="49.5" y1="309.2" x2="49.5" y2="344.2" stroke="#1a1a1a" stroke-width="1.0"/>
<line x1="44.2" y1="309.2" x2="54.8" y2="309.2" stroke="#1a1a1a" stroke-width="1.0"/>
<line x1="44.2" y1="344.2" x2="54.8" y2="344.2" stroke="#1a1a1a" stroke-width="1.0"/>
<circle cx="49.50" cy="296.20" r="2.3" fill="#1a1a1a"/>
<circle cx="49.50" cy="316.00" r="2.3" fill="#1a1a1a"/>
<circle cx="56.10" cy="312.70" r="2.3" fill="#1a1a1a"/>
<circle cx="42.60" cy="326.90" r="2.3" fill="#1a1a1a"/>
<circle cx="49.50" cy="328.20" r="2.3" fill="#1a1a1a"/>
<circle cx="42.60" cy="340.80" r="2.3" fill="#1a1a1a"/>
<circle cx="49.50" cy="345.50" r="2.3" fill="#1a1a1a"/>
<circle cx="56.10" cy="345.50" r="2.3" fill="#1a1a1a"/>
<line x1="70.10000000000001" y1="345.3" x2="90.7" y2="345.3" stroke="#333" stroke-width="1.0"/>
<line x1="80.4" y1="335.3" x2="80.4" y2="354.1" stroke="#333" stroke-width="1.0"/>
<line x1="75.10000000000001" y1="335.3" x2="85.7" y2="335.3" stroke="#333" stroke-width="1.0"/>
<line x1="75.10000000000001" y1="354.1" x2="85.7" y2="354.1" stroke="#333" stroke-width="1.0"/>
<rect x="71.70" y="330.10" width="3.8" height="3.8" fill="#a0a0a0"/>
<rect x="78.50" y="335.10" width="3.8" height="3.8" fill="#a0a0a0"/>
<rect x="85.20" y="333.40" width="3.8" height="3.8" fill="#a0a0a0"/>
<rect x="75.00" y="341.10" width="3.8" height="3.8" fill="#a0a0a0"/>
<rect x="85.20" y="343.40" width="3.8" height="3.8" fill="#a0a0a0"/>
<rect x="71.70" y="347.10" width="3.8" height="3.8" fill="#a0a0a0"/>
<rect x="78.50" y="347.10" width="3.8" height="3.8" fill="#a0a0a0"/>
<rect x="85.20" y="353.30" width="3.8" height="3.8" fill="#a0a0a0"/>
<rect x="78.50" y="358.10" width="3.8" height="3.8" fill="#a0a0a0"/>
<line x1="101.1" y1="359.4" x2="120.9" y2="359.4" stroke="#1a1a1a" stroke-width="1.0"/>
<line x1="111.0" y1="356.0" x2="111.0" y2="362.0" stroke="#1a1a1a" stroke-width="1.0"/>
<line x1="106.0" y1="356.0" x2="116.0" y2="356.0" stroke="#1a1a1a" stroke-width="1.0"/>
<line x1="106.0" y1="362.0" x2="116.0" y2="362.0" stroke="#1a1a1a" stroke-width="1.0"/>
<polygon points="108.80,356.58 113.20,356.58 111.00,352.62" fill="#000"/>
<polygon points="103.80,360.58 108.20,360.58 106.00,356.62" fill="#000"/>
<polygon points="113.80,360.58 118.20,360.58 116.00,356.62" fill="#000"/>
<polygon points="100.80,362.58 105.20,362.58 103.00,358.62" fill="#000"/>
<polygon points="116.80,362.58 121.20,362.58 119.00,358.62" fill="#000"/>
<polygon points="106.80,362.98 111.20,362.98 109.00,359.02" fill="#000"/>
<polygon points="110.80,362.98 115.20,362.98 113.00,359.02" fill="#000"/>
<polygon points="108.80,364.38 113.20,364.38 111.00,360.42" fill="#000"/>
<polygon points="106.30,358.98 110.70,358.98 108.50,355.02" fill="#000"/>
<line x1="132.29999999999998" y1="353.4" x2="152.1" y2="353.4" stroke="#333" stroke-width="1.0"/>
<line x1="142.2" y1="346.5" x2="142.2" y2="358.5" stroke="#333" stroke-width="1.0"/>
<line x1="136.7" y1="346.5" x2="147.7" y2="346.5" stroke="#333" stroke-width="1.0"/>
<line x1="136.7" y1="358.5" x2="147.7" y2="358.5" stroke="#333" stroke-width="1.0"/>
<polygon points="140.00,338.42 144.40,338.42 142.20,342.38" fill="#444"/>
<polygon points="132.90,347.02 137.30,347.02 135.10,350.98" fill="#444"/>
<polygon points="137.80,345.32 142.20,345.32 140.00,349.28" fill="#444"/>
<polygon points="142.80,345.02 147.20,345.02 145.00,348.98" fill="#444"/>
<polygon points="147.20,347.02 151.60,347.02 149.40,350.98" fill="#444"/>
<polygon points="132.90,357.42 137.30,357.42 135.10,361.38" fill="#444"/>
<polygon points="140.00,354.02 144.40,354.02 142.20,357.98" fill="#444"/>
<polygon points="143.80,354.02 148.20,354.02 146.00,357.98" fill="#444"/>
<polygon points="147.20,357.42 151.60,357.42 149.40,361.38" fill="#444"/>
<polygon points="136.80,351.02 141.20,351.02 139.00,354.98" fill="#444"/>
<line x1="110.7" y1="327.5" x2="141.6" y2="327.5" stroke="#555" stroke-width="0.8"/>
<line x1="110.7" y1="327.5" x2="110.7" y2="345.6" stroke="#555" stroke-width="0.8"/>
<line x1="141.6" y1="327.5" x2="141.6" y2="330.0" stroke="#555" stroke-width="0.8"/>
<circle cx="126.10" cy="325.00" r="1.0" fill="#1a1a1a"/>
<circle cx="110.60" cy="317.20" r="1.1" fill="#1a1a1a"/>
<text x="113.3" y="320.0" font-size="8.2" fill="#1a1a1a"><tspan font-style="italic">p</tspan> &lt; 0.05</text>
<text x="255.3" y="266.9" font-size="9.6" text-anchor="middle" fill="#1a1a1a">LT-HSC</text>
<text x="257.4" y="278.6" font-size="9.6" text-anchor="middle" fill="#1a1a1a">(3 wks after 5-FU)</text>
<text x="172.5" y="283.4" font-size="7.2" fill="#1a1a1a">(x10<tspan font-size="4.5" dy="-2.5">3</tspan><tspan dy="2.5">)</tspan></text>
<text x="177.8" y="323.1" font-size="7.6" text-anchor="middle" fill="#1a1a1a" transform="rotate(-90 177.8 323.1)">Absolute numbers</text>
<line x1="191.0" y1="289.3" x2="191.0" y2="363.5" stroke="#1a1a1a" stroke-width="1.0"/>
<line x1="189.0" y1="301.5" x2="191.0" y2="301.5" stroke="#1a1a1a" stroke-width="1.0"/>
<text x="188.0" y="304.3" font-size="7.8" text-anchor="end" fill="#1a1a1a">10</text>
<line x1="189.0" y1="332.25" x2="191.0" y2="332.25" stroke="#1a1a1a" stroke-width="1.0"/>
<text x="188.0" y="335.05" font-size="7.8" text-anchor="end" fill="#1a1a1a">5</text>
<line x1="189.0" y1="363.0" x2="191.0" y2="363.0" stroke="#1a1a1a" stroke-width="1.0"/>
<text x="188.0" y="365.8" font-size="7.8" text-anchor="end" fill="#1a1a1a">0</text>
<line x1="191.0" y1="363.0" x2="314.7" y2="363.0" stroke="#1a1a1a" stroke-width="1.0"/>
<line x1="207.0" y1="363.0" x2="207.0" y2="365.0" stroke="#1a1a1a" stroke-width="1.0"/>
<line x1="238.0" y1="363.0" x2="238.0" y2="365.0" stroke="#1a1a1a" stroke-width="1.0"/>
<line x1="268.6" y1="363.0" x2="268.6" y2="365.0" stroke="#1a1a1a" stroke-width="1.0"/>
<line x1="299.9" y1="363.0" x2="299.9" y2="365.0" stroke="#1a1a1a" stroke-width="1.0"/>
<text x="209.8" y="373.8" font-size="6.8" text-anchor="middle" fill="#1a1a1a">Control</text>
<text x="209.8" y="382.40000000000003" font-size="6.8" text-anchor="middle" fill="#1a1a1a">(n=8)</text>
<text x="241.2" y="373.8" font-size="6.8" text-anchor="middle" font-style="italic" fill="#1a1a1a">Notch1<tspan font-size="3.54" dy="-2.86">F/F</tspan></text>
<text x="241.2" y="382.40000000000003" font-size="6.8" text-anchor="middle" fill="#1a1a1a">(n=9)</text>
<text x="270.7" y="373.8" font-size="6.8" text-anchor="middle" font-style="italic" fill="#1a1a1a">Zbtb7a<tspan font-size="3.54" dy="-2.86">F/F</tspan></text>
<text x="270.7" y="382.40000000000003" font-size="6.8" text-anchor="middle" fill="#1a1a1a">(n=9)</text>
<text x="302.6" y="373.8" font-size="6.8" text-anchor="middle" font-style="italic" fill="#1a1a1a">Zbtb7a<tspan font-size="3.54" dy="-2.86">F/F</tspan></text>
<text x="302.6" y="382.40000000000003" font-size="6.8" text-anchor="middle" font-style="italic" fill="#1a1a1a">Notch1<tspan font-size="3.54" dy="-2.86">F/F</tspan></text>
<text x="302.6" y="391.0" font-size="6.8" text-anchor="middle" fill="#1a1a1a">(n=10)</text>
<line x1="197.3" y1="334.9" x2="216.7" y2="334.9" stroke="#1a1a1a" stroke-width="1.0"/>
<line x1="207.0" y1="318.0" x2="207.0" y2="351.9" stroke="#1a1a1a" stroke-width="1.0"/>
<line x1="202.4" y1="318.0" x2="211.6" y2="318.0" stroke="#1a1a1a" stroke-width="1.0"/>
<line x1="202.4" y1="351.9" x2="211.6" y2="351.9" stroke="#1a1a1a" stroke-width="1.0"/>
<circle cx="200.00" cy="303.20" r="2.3" fill="#1a1a1a"/>
<circle cx="206.60" cy="303.90" r="2.3" fill="#1a1a1a"/>
<circle cx="207.00" cy="325.40" r="2.3" fill="#1a1a1a"/>
<circle cx="200.80" cy="325.80" r="2.3" fill="#1a1a1a"/>
<circle cx="213.70" cy="325.80" r="2.3" fill="#1a1a1a"/>
<circle cx="200.00" cy="331.30" r="2.3" fill="#1a1a1a"/>
<circle cx="207.00" cy="330.40" r="2.3" fill="#1a1a1a"/>
<circle cx="214.10" cy="334.90" r="2.3" fill="#1a1a1a"/>
<circle cx="207.00" cy="339.70" r="2.3" fill="#1a1a1a"/>
<circle cx="200.00" cy="347.50" r="2.3" fill="#1a1a1a"/>
<circle cx="207.00" cy="347.50" r="2.3" fill="#1a1a1a"/>
<circle cx="200.00" cy="354.80" r="2.3" fill="#1a1a1a"/>
<circle cx="207.00" cy="355.70" r="2.3" fill="#1a1a1a"/>
<circle cx="213.70" cy="355.70" r="2.3" fill="#1a1a1a"/>
<circle cx="200.00" cy="339.00" r="2.3" fill="#1a1a1a"/>
<line x1="228.0" y1="338.6" x2="248.0" y2="338.6" stroke="#333" stroke-width="1.0"/>
<line x1="238.0" y1="323.1" x2="238.0" y2="353.5" stroke="#333" stroke-width="1.0"/>
<line x1="232.5" y1="323.1" x2="243.5" y2="323.1" stroke="#333" stroke-width="1.0"/>
<line x1="232.5" y1="353.5" x2="243.5" y2="353.5" stroke="#333" stroke-width="1.0"/>
<rect x="236.10" y="313.50" width="3.8" height="3.8" fill="#a0a0a0"/>
<rect x="236.10" y="331.60" width="3.8" height="3.8" fill="#a0a0a0"/>
<rect x="229.50" y="339.60" width="3.8" height="3.8" fill="#a0a0a0"/>
<rect x="236.10" y="343.40" width="3.8" height="3.8" fill="#a0a0a0"/>
<rect x="236.10" y="354.40" width="3.8" height="3.8" fill="#a0a0a0"/>
<line x1="259.0" y1="358.6" x2="278.20000000000005" y2="358.6" stroke="#1a1a1a" stroke-width="1.0"/>
<line x1="268.6" y1="357.0" x2="268.6" y2="360.5" stroke="#1a1a1a" stroke-width="1.0"/>
<line x1="264.1" y1="357.0" x2="273.1" y2="357.0" stroke="#1a1a1a" stroke-width="1.0"/>
<line x1="264.1" y1="360.5" x2="273.1" y2="360.5" stroke="#1a1a1a" stroke-width="1.0"/>
<polygon points="266.95,357.88 270.25,357.88 268.60,354.91" fill="#222"/>
<polygon points="262.35,360.49 265.65,360.49 264.00,357.51" fill="#222"/>
<polygon points="271.35,360.49 274.65,360.49 273.00,357.51" fill="#222"/>
<polygon points="259.35,362.09 262.65,362.09 261.00,359.12" fill="#222"/>
<polygon points="274.35,362.09 277.65,362.09 276.00,359.12" fill="#222"/>
<polygon points="264.35,362.88 267.65,362.88 266.00,359.91" fill="#222"/>
<polygon points="269.35,362.88 272.65,362.88 271.00,359.91" fill="#222"/>
<polygon points="266.95,364.09 270.25,364.09 268.60,361.12" fill="#222"/>
<polygon points="268.35,359.29 271.65,359.29 270.00,356.31" fill="#222"/>
<line x1="289.79999999999995" y1="347.2" x2="310.0" y2="347.2" stroke="#666" stroke-width="1.3"/>
<line x1="299.9" y1="333.7" x2="299.9" y2="359.5" stroke="#666" stroke-width="1.3"/>
<line x1="295.09999999999997" y1="333.7" x2="304.7" y2="333.7" stroke="#666" stroke-width="1.3"/>
<line x1="295.09999999999997" y1="359.5" x2="304.7" y2="359.5" stroke="#666" stroke-width="1.3"/>
<polygon points="297.60,316.53 302.20,316.53 299.90,320.67" fill="#444"/>
<polygon points="291.20,345.43 295.80,345.43 293.50,349.57" fill="#444"/>
<polygon points="303.10,344.53 307.70,344.53 305.40,348.67" fill="#444"/>
<polygon points="297.60,345.43 302.20,345.43 299.90,349.57" fill="#444"/>
<polygon points="290.70,351.53 295.30,351.53 293.00,355.67" fill="#444"/>
<polygon points="305.00,354.73 309.60,354.73 307.30,358.87" fill="#444"/>
<polygon points="297.60,356.53 302.20,356.53 299.90,360.67" fill="#444"/>
<line x1="269.1" y1="310.7" x2="299.9" y2="310.7" stroke="#555" stroke-width="0.8"/>
<line x1="269.1" y1="310.7" x2="269.1" y2="328.2" stroke="#555" stroke-width="0.8"/>
<line x1="299.9" y1="310.7" x2="299.9" y2="313.5" stroke="#555" stroke-width="0.8"/>
<circle cx="284.20" cy="308.30" r="1.0" fill="#1a1a1a"/>
<circle cx="268.30" cy="303.30" r="1.1" fill="#1a1a1a"/>
<text x="271.8" y="306.0" font-size="8.2" fill="#1a1a1a"><tspan font-style="italic">p</tspan> &lt; 0.05</text>
<text x="349.6" y="315.0" font-size="6.9" text-anchor="middle" fill="#1a1a1a" transform="rotate(-90 349.6 315.0)">Percent survival (%)</text>
<line x1="371.6" y1="253.4" x2="371.6" y2="371.2" stroke="#333" stroke-width="1.0"/>
<line x1="369.6" y1="253.9" x2="371.6" y2="253.9" stroke="#333" stroke-width="1.0"/>
<text x="367.6" y="256.7" font-size="7.8" text-anchor="end" fill="#1a1a1a">100</text>
<line x1="369.6" y1="312.55" x2="371.6" y2="312.55" stroke="#333" stroke-width="1.0"/>
<text x="367.6" y="315.35" font-size="7.8" text-anchor="end" fill="#1a1a1a">50</text>
<line x1="336.7" y1="371.2" x2="513.3" y2="371.2" stroke="#333" stroke-width="1.0"/>
<line x1="339.4" y1="371.2" x2="339.4" y2="373.2" stroke="#333" stroke-width="1.0"/>
<text x="339.4" y="381.3" font-size="7.8" text-anchor="middle" fill="#1a1a1a">-9</text>
<line x1="355.6" y1="371.2" x2="355.6" y2="373.2" stroke="#333" stroke-width="1.0"/>
<text x="355.6" y="381.3" font-size="7.8" text-anchor="middle" fill="#1a1a1a">-6</text>
<line x1="371.6" y1="371.2" x2="371.6" y2="373.2" stroke="#333" stroke-width="1.0"/>
<text x="371.6" y="381.3" font-size="7.8" text-anchor="middle" fill="#1a1a1a">0</text>
<line x1="412.1" y1="371.2" x2="412.1" y2="373.2" stroke="#333" stroke-width="1.0"/>
<text x="412.1" y="381.3" font-size="7.8" text-anchor="middle" fill="#1a1a1a">10</text>
<line x1="452.6" y1="371.2" x2="452.6" y2="373.2" stroke="#333" stroke-width="1.0"/>
<text x="452.6" y="381.3" font-size="7.8" text-anchor="middle" fill="#1a1a1a">20</text>
<line x1="493.1" y1="371.2" x2="493.1" y2="373.2" stroke="#333" stroke-width="1.0"/>
<text x="493.1" y="381.3" font-size="7.8" text-anchor="middle" fill="#1a1a1a">30</text>
<line x1="339.4" y1="395.2" x2="339.4" y2="387.0" stroke="#8a8a8a" stroke-width="1.4"/>
<polygon points="337.05,389.60 339.40,388.00 341.75,389.60 339.40,382.20" fill="#8a8a8a"/>
<line x1="355.6" y1="395.2" x2="355.6" y2="387.0" stroke="#8a8a8a" stroke-width="1.4"/>
<polygon points="353.25,389.60 355.60,388.00 357.95,389.60 355.60,382.20" fill="#8a8a8a"/>
<line x1="371.6" y1="395.2" x2="371.6" y2="387.0" stroke="#1a1a1a" stroke-width="1.4"/>
<polygon points="369.25,389.60 371.60,388.00 373.95,389.60 371.60,382.20" fill="#1a1a1a"/>
<line x1="399.95000000000005" y1="395.2" x2="399.95000000000005" y2="387.0" stroke="#1a1a1a" stroke-width="1.4"/>
<polygon points="397.60,389.60 399.95,388.00 402.30,389.60 399.95,382.20" fill="#1a1a1a"/>
<line x1="428.3" y1="395.2" x2="428.3" y2="387.0" stroke="#1a1a1a" stroke-width="1.4"/>
<polygon points="425.95,389.60 428.30,388.00 430.65,389.60 428.30,382.20" fill="#1a1a1a"/>
<line x1="456.65000000000003" y1="395.2" x2="456.65000000000003" y2="387.0" stroke="#1a1a1a" stroke-width="1.4"/>
<polygon points="454.30,389.60 456.65,388.00 459.00,389.60 456.65,382.20" fill="#1a1a1a"/>
<line x1="485.0" y1="395.2" x2="485.0" y2="387.0" stroke="#1a1a1a" stroke-width="1.4"/>
<polygon points="482.65,389.60 485.00,388.00 487.35,389.60 485.00,382.20" fill="#1a1a1a"/>
<text x="347.5" y="404.0" font-size="8.0" text-anchor="middle" fill="#8a8a8a" stroke="#8a8a8a">pIpC</text>
<text x="404.6" y="404.0" font-size="8.0" text-anchor="start" fill="#1a1a1a">5FU (100mg/kg)</text>
<path d="M371.60,253.90 H440.45 V253.90 H440.45 V261.23 H500.39 V261.23 H500.39 V268.56 H513.35 V268.56" fill="none" stroke="#a8a8a8" stroke-width="0.95"/>
<path d="M371.60,253.90 H432.35 V253.90 H432.35 V258.59 H440.45 V258.59 H440.45 V263.28 H448.55 V263.28 H448.55 V267.98 H452.60 V267.98 H452.60 V291.44 H464.75 V291.44 H464.75 V296.13 H476.90 V296.13 H476.90 V300.82 H480.95 V300.82 H480.95 V305.51 H513.35 V305.51" fill="none" stroke="#000000" stroke-width="0.95"/>
<path d="M371.60,253.90 H424.25 V253.90 H424.25 V262.93 H432.35 V262.93 H432.35 V308.09 H440.45 V308.09 H440.45 V326.04 H448.55 V326.04 H448.55 V335.07 H452.60 V335.07 H452.60 V353.14 H480.95 V353.14 H480.95 V362.17 H485.00 V362.17 H485.00 V371.20" fill="none" stroke="#4a4a4a" stroke-width="0.95"/>
<path d="M371.60,253.90 H440.45 V253.90 H440.45 V269.50 H452.60 V269.50 H452.60 V285.22 H464.75 V285.22 H464.75 V292.96 H476.90 V292.96 H476.90 V308.68 H505.25 V308.68 H505.25 V316.42 H513.35 V316.42" fill="none" stroke="#707070" stroke-width="0.95"/>
<polygon points="498.04,270.38 502.74,270.38 500.39,266.15" fill="#a8a8a8"/>
<polygon points="510.19,270.38 514.89,270.38 512.54,266.15" fill="#a8a8a8"/>
<polygon points="440.45,267.10 442.85,269.50 440.45,271.90 438.05,269.50" fill="#707070"/>
<polygon points="452.60,282.82 455.00,285.22 452.60,287.62 450.20,285.22" fill="#707070"/>
<polygon points="476.90,306.28 479.30,308.68 476.90,311.08 474.50,308.68" fill="#707070"/>
<polygon points="505.25,314.02 507.65,316.42 505.25,318.82 502.85,316.42" fill="#707070"/>
<polygon points="513.35,314.02 515.75,316.42 513.35,318.82 510.95,316.42" fill="#707070"/>
<rect x="430.20" y="256.44" width="4.3" height="4.3" fill="#000000"/>
<rect x="438.30" y="261.13" width="4.3" height="4.3" fill="#000000"/>
<rect x="446.40" y="265.83" width="4.3" height="4.3" fill="#000000"/>
<rect x="450.45" y="289.29" width="4.3" height="4.3" fill="#000000"/>
<rect x="462.60" y="293.98" width="4.3" height="4.3" fill="#000000"/>
<rect x="474.75" y="298.67" width="4.3" height="4.3" fill="#000000"/>
<rect x="478.80" y="303.36" width="4.3" height="4.3" fill="#000000"/>
<rect x="511.20" y="303.36" width="4.3" height="4.3" fill="#000000"/>
<circle cx="424.25" cy="262.93" r="2.15" fill="#4a4a4a" stroke="#222" stroke-width="0.5"/>
<circle cx="432.35" cy="308.09" r="2.15" fill="#4a4a4a" stroke="#222" stroke-width="0.5"/>
<circle cx="440.45" cy="326.04" r="2.15" fill="#4a4a4a" stroke="#222" stroke-width="0.5"/>
<circle cx="448.55" cy="335.07" r="2.15" fill="#4a4a4a" stroke="#222" stroke-width="0.5"/>
<circle cx="452.60" cy="353.14" r="2.15" fill="#4a4a4a" stroke="#222" stroke-width="0.5"/>
<circle cx="480.95" cy="362.17" r="2.15" fill="#4a4a4a" stroke="#222" stroke-width="0.5"/>
<circle cx="485.00" cy="371.20" r="2.15" fill="#4a4a4a" stroke="#222" stroke-width="0.5"/>
<line x1="464.7" y1="310.0" x2="464.7" y2="343.0" stroke="#1a1a1a" stroke-width="0.8"/>
<polygon points="463.20,311.50 466.20,311.50 464.70,308.00" fill="#1a1a1a"/>
<polygon points="463.20,341.50 466.20,341.50 464.70,345.00" fill="#1a1a1a"/>
<text x="470.5" y="331.8" font-size="7.6" fill="#1a1a1a"><tspan font-style="italic">p</tspan> &lt; 0.0001</text>
<rect x="376.2" y="333.2" width="5.4" height="4.8" fill="#000"/>
<circle cx="378.8" cy="344.8" r="2.45" fill="#4a4a4a" stroke="#222" stroke-width="0.5"/>
<polygon points="376.00,356.82 381.60,356.82 378.80,351.78" fill="#a8a8a8"/>
<polygon points="378.80,359.90 381.70,362.80 378.80,365.70 375.90,362.80" fill="#707070"/>
<text x="383.8" y="338.0" font-size="8.0" text-anchor="start" fill="#1a1a1a">Control (n=25)</text>
<text x="383.8" y="347.1" font-size="8.0" fill="#1a1a1a"><tspan font-style="italic">Zbtb7a<tspan font-size="4.4" dy="-3.3">F/F</tspan></tspan><tspan dy="3.3"> (n=13)</tspan></text>
<text x="383.8" y="356.2" font-size="8.0" fill="#1a1a1a"><tspan font-style="italic">Notch1<tspan font-size="4.4" dy="-3.3">F/F</tspan></tspan><tspan dy="3.3"> (n=16)</tspan></text>
<text x="383.8" y="365.8" font-size="8.0" fill="#1a1a1a"><tspan font-style="italic">Zbtb7a<tspan font-size="4.4" dy="-3.3">F/F</tspan><tspan dy="3.3">Notch1</tspan><tspan font-size="4.4" dy="-3.3">F/F</tspan></tspan><tspan dy="3.3"> (n=15)</tspan></text>
</svg></body></html>
